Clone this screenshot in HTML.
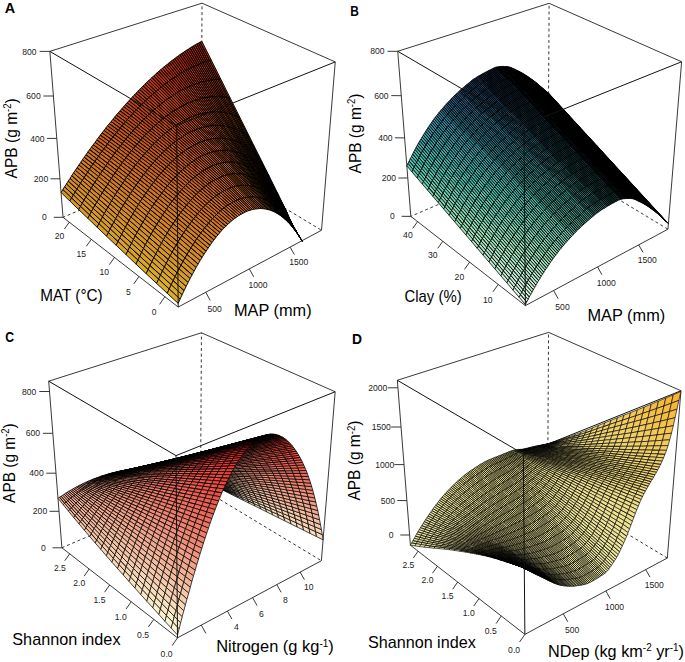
<!DOCTYPE html><html><head><meta charset="utf-8"><style>
html,body{margin:0;padding:0;background:#fff}
svg{display:block}
text{font-family:"Liberation Sans",sans-serif}
.sf{stroke:#000;stroke-width:10;stroke-linejoin:round}
.bx{stroke:#222;stroke-width:9;fill:none}
.fr{stroke:#111;stroke-width:10;fill:none}
.ds{stroke-dasharray:30 27}
.tk{stroke:#222;stroke-width:.9;fill:none}
.tl text{font-size:8.6px;fill:#222;text-anchor:middle}
.tt{font-size:16.4px;fill:#000}
.lt{font-size:15.5px;font-weight:bold;fill:#000}
.sp{font-size:10px}
.a47{fill:#dcb42c}.a48{fill:#000000}.a49{fill:#2c2409}.a53{fill:#dbb22c}.a54{fill:#000000}.a60{fill:#000000}.a65{fill:#daaf2b}.a66{fill:#000000}.a71{fill:#daad2a}.a72{fill:#000000}.a77{fill:#daaa2a}.a78{fill:#000000}.a83{fill:#d9a529}.a84{fill:#000000}.a85{fill:#2b2008}.a89{fill:#d8a028}.a90{fill:#000000}.a91{fill:#2b1f08}.a95{fill:#d79b27}.a96{fill:#000000}.a97{fill:#2b1e08}.a101{fill:#d69626}.a102{fill:#000000}.a103{fill:#2b1d08}.a107{fill:#d69226}.a109{fill:#2b1c07}.a110{fill:#55380f}.a113{fill:#d58d25}.a115{fill:#2a1b07}.a116{fill:#55360e}.a119{fill:#d48824}.a121{fill:#2a1a07}.a122{fill:#54340e}.a125{fill:#d38323}.a128{fill:#54330e}.a129{fill:#7e4c15}.a131{fill:#d27e22}.a134{fill:#54310d}.a135{fill:#7d4914}.a136{fill:#a7611b}.a137{fill:#d17921}.a141{fill:#7c4613}.a142{fill:#a65d1a}.a143{fill:#cf7420}.a147{fill:#7b4213}.a148{fill:#a45819}.a149{fill:#ce6e1f}.a153{fill:#7a3f12}.a154{fill:#a35418}.a155{fill:#cc691e}.a160{fill:#a25017}.a161{fill:#ca641d}.a166{fill:#a04b16}.a167{fill:#c85e1b}.a173{fill:#c6591a}.a179{fill:#c45419}.a185{fill:#c34e18}.a191{fill:#c14917}.a197{fill:#bf4416}.a203{fill:#bd3f15}.a209{fill:#bc3b14}.a215{fill:#ba3613}.a221{fill:#b83212}.a227{fill:#b62d10}.a233{fill:#b52910}.a239{fill:#b3240e}.b5{fill:#daf4e3}.b6{fill:#000000}.b11{fill:#d3f2de}.b12{fill:#000000}.b17{fill:#ccefd9}.b18{fill:#000000}.b23{fill:#c5edd4}.b24{fill:#000000}.b29{fill:#beebcf}.b30{fill:#000000}.b35{fill:#b6e8ca}.b36{fill:#000000}.b41{fill:#afe6c5}.b42{fill:#000000}.b47{fill:#a8e4c0}.b48{fill:#000000}.b53{fill:#a1e1bb}.b54{fill:#000000}.b59{fill:#9adfb6}.b60{fill:#000000}.b65{fill:#92dcb4}.b66{fill:#000000}.b71{fill:#8ad9b3}.b72{fill:#000000}.b77{fill:#82d6b2}.b78{fill:#000000}.b83{fill:#7ad2b1}.b84{fill:#000000}.b89{fill:#72cfb0}.b90{fill:#000000}.b94{fill:#55a38c}.b95{fill:#6acbb0}.b96{fill:#000000}.b100{fill:#4ea08c}.b101{fill:#62c8af}.b102{fill:#000000}.b106{fill:#489d8b}.b107{fill:#5ac4ae}.b108{fill:#000000}.b111{fill:#317468}.b112{fill:#429a8b}.b113{fill:#52c1ad}.b114{fill:#000000}.b115{fill:#0f2622}.b116{fill:#1e4c45}.b117{fill:#2c7267}.b118{fill:#3b988a}.b119{fill:#4abeac}.b120{fill:#000000}.b121{fill:#0e2522}.b122{fill:#1c4a45}.b123{fill:#296f67}.b124{fill:#379489}.b125{fill:#45baac}.b126{fill:#000000}.b127{fill:#0d2422}.b128{fill:#1b4844}.b129{fill:#286c67}.b130{fill:#369189}.b131{fill:#43b5ab}.b132{fill:#000000}.b133{fill:#0d2322}.b134{fill:#1a4644}.b135{fill:#276a66}.b136{fill:#348d88}.b137{fill:#41b0aa}.b138{fill:#000000}.b139{fill:#0d2222}.b140{fill:#194444}.b141{fill:#266766}.b142{fill:#328988}.b143{fill:#3fabaa}.b144{fill:#000000}.b145{fill:#0c2122}.b146{fill:#184344}.b147{fill:#256465}.b148{fill:#318587}.b149{fill:#3da6a9}.b150{fill:#000000}.b151{fill:#0c2022}.b152{fill:#184143}.b153{fill:#236165}.b154{fill:#2f8187}.b155{fill:#3ba2a8}.b156{fill:#000000}.b157{fill:#0b1f21}.b158{fill:#173f43}.b159{fill:#225e64}.b160{fill:#2e7d86}.b161{fill:#399da7}.b162{fill:#000000}.b163{fill:#0b1e21}.b164{fill:#163d43}.b165{fill:#215b64}.b166{fill:#2c7a85}.b167{fill:#3798a7}.b168{fill:#000000}.b169{fill:#0b1d21}.b170{fill:#153b42}.b171{fill:#205864}.b172{fill:#2a7685}.b173{fill:#3593a6}.b174{fill:#000000}.b175{fill:#0a1c21}.b176{fill:#143942}.b177{fill:#1f5563}.b178{fill:#297284}.b179{fill:#338ea5}.b180{fill:#000000}.b181{fill:#0a1b21}.b182{fill:#143742}.b183{fill:#1e5263}.b184{fill:#286e84}.b185{fill:#3289a4}.b186{fill:#000000}.b187{fill:#0a1a21}.b188{fill:#143541}.b189{fill:#1e4f62}.b190{fill:#286a83}.b191{fill:#3284a4}.b192{fill:#000000}.b193{fill:#0a1920}.b194{fill:#143341}.b195{fill:#1e4c62}.b196{fill:#286682}.b198{fill:#000000}.b199{fill:#0a1820}.b200{fill:#143141}.b201{fill:#1e4961}.b202{fill:#286181}.b204{fill:#000000}.b205{fill:#0a1720}.b206{fill:#142f40}.b207{fill:#1e4660}.b208{fill:#285d80}.b210{fill:#000000}.b211{fill:#0a1620}.b212{fill:#142d40}.b213{fill:#1e4360}.b214{fill:#285980}.b216{fill:#000000}.b217{fill:#0a1520}.b218{fill:#142a3f}.b219{fill:#1e405f}.b220{fill:#28557f}.b222{fill:#000000}.b223{fill:#0a1420}.b224{fill:#14283f}.b225{fill:#1e3d5e}.b228{fill:#000000}.b229{fill:#0a131f}.b230{fill:#14263f}.b231{fill:#1e395e}.b234{fill:#000000}.b235{fill:#0a121f}.b236{fill:#14243e}.c5{fill:#fcf5d2}.c6{fill:#000000}.c11{fill:#fbefcc}.c12{fill:#000000}.c13{fill:#322f28}.c14{fill:#645d50}.c15{fill:#968c78}.c16{fill:#c8bba0}.c17{fill:#fae9c7}.c18{fill:#000000}.c19{fill:#322e27}.c20{fill:#645b4e}.c21{fill:#958975}.c22{fill:#c7b69c}.c23{fill:#f9e4c2}.c24{fill:#000000}.c25{fill:#322c26}.c26{fill:#63594c}.c27{fill:#958572}.c28{fill:#c7b198}.c29{fill:#f8debe}.c30{fill:#000000}.c31{fill:#312b25}.c32{fill:#63564a}.c33{fill:#94826f}.c34{fill:#c6ad94}.c35{fill:#f7d8b8}.c36{fill:#000000}.c37{fill:#312a24}.c38{fill:#635448}.c39{fill:#947e6c}.c40{fill:#c5a890}.c41{fill:#f7d2b4}.c42{fill:#000000}.c43{fill:#312923}.c44{fill:#625246}.c45{fill:#937b69}.c46{fill:#c5a38c}.c47{fill:#f6ccae}.c48{fill:#000000}.c49{fill:#312822}.c50{fill:#624f44}.c51{fill:#937766}.c52{fill:#c49f88}.c53{fill:#f5c6aa}.c54{fill:#000000}.c55{fill:#312721}.c56{fill:#624d42}.c57{fill:#927463}.c58{fill:#c39a84}.c59{fill:#f4c1a4}.c60{fill:#000000}.c61{fill:#312520}.c62{fill:#614b40}.c63{fill:#927060}.c64{fill:#c39580}.c65{fill:#f3bba0}.c66{fill:#000000}.c67{fill:#30241f}.c68{fill:#61483e}.c69{fill:#916d5d}.c70{fill:#c2917c}.c71{fill:#f2b59a}.c72{fill:#000000}.c73{fill:#30231e}.c74{fill:#61463c}.c75{fill:#91695a}.c76{fill:#c18c78}.c77{fill:#f2af96}.c78{fill:#000000}.c79{fill:#30221d}.c80{fill:#60443a}.c81{fill:#916657}.c82{fill:#c18874}.c83{fill:#f1aa91}.c84{fill:#000000}.c85{fill:#30211c}.c86{fill:#604238}.c87{fill:#906354}.c88{fill:#c18370}.c89{fill:#f1a48c}.c90{fill:#000000}.c91{fill:#30201b}.c92{fill:#604036}.c93{fill:#905f51}.c94{fill:#c07f6d}.c95{fill:#f09f88}.c96{fill:#000000}.c97{fill:#301f1a}.c98{fill:#603d34}.c99{fill:#905c4f}.c100{fill:#c07b69}.c101{fill:#f09983}.c102{fill:#000000}.c103{fill:#301e19}.c104{fill:#603b33}.c105{fill:#90594c}.c106{fill:#bf7665}.c107{fill:#ef947e}.c108{fill:#000000}.c109{fill:#301c18}.c110{fill:#603931}.c111{fill:#8f5549}.c112{fill:#bf7261}.c113{fill:#ef8e7a}.c114{fill:#000000}.c115{fill:#301b17}.c116{fill:#5f372f}.c117{fill:#8f5246}.c118{fill:#bf6d5e}.c119{fill:#ee8975}.c120{fill:#000000}.c121{fill:#301a16}.c122{fill:#5f342d}.c123{fill:#8f4f43}.c124{fill:#be695a}.c125{fill:#ee8370}.c126{fill:#000000}.c127{fill:#2f1916}.c128{fill:#5f322b}.c129{fill:#8e4b41}.c130{fill:#be6556}.c131{fill:#ed7e6c}.c132{fill:#000000}.c133{fill:#2f1815}.c134{fill:#5f3029}.c135{fill:#8e483e}.c136{fill:#bd6052}.c137{fill:#ed7867}.c138{fill:#000000}.c139{fill:#2f1714}.c140{fill:#5e2e27}.c141{fill:#8e453b}.c142{fill:#bd5c4f}.c143{fill:#ec7362}.c144{fill:#000000}.c145{fill:#2f1613}.c146{fill:#5e2c26}.c147{fill:#8e4238}.c148{fill:#bd584b}.c149{fill:#ec6e5e}.c150{fill:#000000}.c151{fill:#2f1512}.c152{fill:#5e2a24}.c153{fill:#8e3f36}.c154{fill:#bd5448}.c155{fill:#ec695a}.c156{fill:#000000}.c157{fill:#2f1411}.c158{fill:#5e2822}.c159{fill:#8e3c34}.c160{fill:#bd5045}.c161{fill:#ec6456}.c162{fill:#000000}.c163{fill:#2f1310}.c164{fill:#5e2621}.c165{fill:#8e3931}.c166{fill:#bd4c42}.c167{fill:#ec5f52}.c168{fill:#000000}.c169{fill:#2f1210}.c170{fill:#5e241f}.c171{fill:#8e362f}.c172{fill:#bd483e}.c173{fill:#ec5b4e}.c174{fill:#000000}.c175{fill:#2f110f}.c176{fill:#5e221e}.c177{fill:#8e342c}.c178{fill:#bd453b}.c179{fill:#ec564a}.c180{fill:#000000}.c181{fill:#2f100e}.c182{fill:#5e201c}.c183{fill:#8e312a}.c184{fill:#bd4138}.c185{fill:#ec5146}.c186{fill:#000000}.c187{fill:#2f0f0d}.c188{fill:#5e1f1a}.c189{fill:#8e2e28}.c190{fill:#bd3d35}.c191{fill:#ec4c42}.c192{fill:#000000}.c193{fill:#2f0e0c}.c194{fill:#5e1d19}.c195{fill:#8e2b25}.c196{fill:#bd3932}.c197{fill:#ec483e}.c198{fill:#000000}.c199{fill:#2f0d0c}.c200{fill:#5e1b17}.c201{fill:#8e2823}.c202{fill:#bd352e}.c203{fill:#ec433a}.c204{fill:#000000}.c205{fill:#2f0c0b}.c206{fill:#5e1916}.c207{fill:#8e2520}.c208{fill:#bd322b}.c209{fill:#ec3e36}.c210{fill:#000000}.c211{fill:#2f0b0a}.c212{fill:#5e1714}.c213{fill:#8e221e}.c214{fill:#bd2e28}.c215{fill:#ec3932}.c216{fill:#000000}.c217{fill:#2f0b09}.c218{fill:#5e1512}.c219{fill:#8e201c}.c220{fill:#bd2a25}.c221{fill:#ec352e}.c222{fill:#000000}.c223{fill:#2f0a08}.c225{fill:#8e1d19}.c226{fill:#bd2622}.c227{fill:#ec302a}.c228{fill:#000000}.c229{fill:#2f0908}.c230{fill:#5e110f}.c232{fill:#bd221e}.c233{fill:#ec2b26}.c234{fill:#000000}.c235{fill:#2f0807}.c236{fill:#5e0f0e}.c237{fill:#8e1714}.d5{fill:#eaeaab}.d11{fill:#eae9a9}.d17{fill:#ebe8a7}.d23{fill:#ebe8a5}.d29{fill:#ebe7a4}.d34{fill:#bcb881}.d35{fill:#ebe7a2}.d39{fill:#8d8a60}.d40{fill:#bcb880}.d41{fill:#ece6a0}.d44{fill:#5e5c3f}.d45{fill:#8e8a5f}.d46{fill:#bdb77e}.d47{fill:#ece59e}.d49{fill:#2f2e1f}.d50{fill:#5e5b3e}.d51{fill:#8e895e}.d52{fill:#bdb77d}.d53{fill:#ece59c}.d54{fill:#000000}.d55{fill:#2f2e1f}.d56{fill:#5f5b3e}.d57{fill:#8e895d}.d58{fill:#bdb67b}.d59{fill:#ece49a}.d60{fill:#000000}.d61{fill:#2f2d1e}.d62{fill:#5f5b3d}.d63{fill:#8e885b}.d65{fill:#ede398}.d66{fill:#000000}.d67{fill:#2f2d1e}.d68{fill:#5f5b3c}.d71{fill:#ede396}.d72{fill:#000000}.d73{fill:#2f2d1e}.d74{fill:#5f5a3b}.d77{fill:#ede295}.d78{fill:#000000}.d79{fill:#2f2d1d}.d80{fill:#5f5a3b}.d81{fill:#8e8758}.d82{fill:#beb475}.d83{fill:#ede293}.d84{fill:#000000}.d87{fill:#8f8757}.d88{fill:#beb474}.d89{fill:#eee191}.d90{fill:#000000}.d93{fill:#8f8756}.d94{fill:#beb372}.d95{fill:#eee08f}.d101{fill:#eedf8c}.d107{fill:#eede89}.d113{fill:#efdc85}.d119{fill:#efdb82}.d125{fill:#f0d97e}.d131{fill:#f0d87b}.d137{fill:#f0d677}.d143{fill:#f0d574}.d149{fill:#f1d370}.d155{fill:#f1d26d}.d161{fill:#f2d069}.d167{fill:#f2cf66}.d173{fill:#f2cd62}.d179{fill:#f2cb5e}.d185{fill:#f3c95a}.d191{fill:#f3c655}.d197{fill:#f4c451}.d203{fill:#f4c24d}.d209{fill:#f4c049}.d215{fill:#f4be45}.d221{fill:#f5bc41}.d227{fill:#f5b93c}.d233{fill:#f6b738}.d239{fill:#f6b534}</style></head><body>
<svg width="685" height="662" viewBox="0 0 685 662" xmlns="http://www.w3.org/2000/svg">
<g transform="scale(.1)"><g class=bx><line x1="498.7" y1="513.9" x2="2020.4" y2="31.8"/><line x1="2020.4" y1="31.8" x2="3352.4" y2="619.2"/><line x1="3352.4" y1="619.2" x2="3215" y2="2302.5"/><line x1="3215" y1="2302.5" x2="1781.9" y2="3070.6"/><line x1="1781.9" y1="3070.6" x2="630.4" y2="2173.4"/><line x1="630.4" y1="2173.4" x2="498.7" y2="513.9"/><g class=ds><line x1="2011.1" y1="1575.9" x2="2020.4" y2="31.8"/><line x1="2011.1" y1="1575.9" x2="630.4" y2="2173.4"/><line x1="2011.1" y1="1575.9" x2="3215" y2="2302.5"/></g></g><g class=sf style="stroke-width:9"><path class=a239 d=M2096,605l-95-184,17-9,95,189zm-17,6l-94-181,16-9,95,184zm-16,5l-95-177,17-9,94,181zm-17,6l-95-173,17-10,95,177zm-17,6l-95-169,17-10,95,173zm-17,6l-95-165,17-10,95,169zm-17,7l-95-161,17-11,95,165zm-17,7l-95-157,17-11,95,161zm-17,7l-95-153,17-11,95,157zm-17,8l-95-150,17-11,95,153zm-17,8l-95-146,17-12,95,150zm-17,8l-95-143,17-11,95,146zm-17,9l-95-140,17-12,95,143zm-17,9l-96-136,18-13,95,140z /><path class=a233 d=M1859,706l-96-133,17-12,96,136zm-18,9l-95-129,17-13,96,133zm-17,10l-95-126,17-13,95,129zm-17,11l-96-124,18-13,95,126zm-18,10l-95-120,17-14,96,124zm-17,11l-95-117,17-14,95,120zm-18,11l-95-114,18-14,95,117z /><path class=a227 d=M1737,780l-95-112,17-14,95,114zm-18,12l-95-109,18-15,95,112zm-17,12l-95-107,17-14,95,109zm-18,13l-95-105,18-15,95,107zm-17,12l-95-101,17-16,95,105zm-18,14l-95-100,18-15,95,101z /><path class=a221 d=M1631,856l-94-97,17-16,95,100zm-17,14l-95-95,18-16,94,97zm-18,14l-94-92,17-17,95,95zm-18,15l-94-91,18-16,94,92z /><path class=a215 d=M1561,914l-95-89,18-17,94,91zm-18,15l-94-87,17-17,95,89zm-18,15l-94-84,18-18,94,87zm-18,16l-94-83,18-17,94,84z /><path class=a209 d=M1489,977l-93-82,17-18,94,83zm-18,16l-93-80,18-18,93,82zm-17,17l-94-78,18-19,93,80zm-18,17l-93-77,17-18,94,78z /><path class=a203 d=M1418,1045l-93-76,18-19,93,77zm-18,17l-93-74,18-19,93,76zm-18,19l-93-73,18-20,93,74z /><path class=a197 d=M1364,1099l-93-72,18-19,93,73zm-18,19l-92-71,17-20,93,72zm-18,19l-92-70,18-20,92,71z /><path class=a191 d=M1310,1157l-92-69,18-21,92,70zm-18,19l-92-68,18-20,92,69zm-18,21l-92-68,18-21,92,68z /><path class=a185 d=M1256,1217l-92-67,18-21,92,68zm-18,21l-92-66,18-22,92,67zm-18,21l-91-66,17-21,92,66z /><path class=a179 d=M1202,1280l-91-65,18-22,91,66zm-18,22l-91-65,18-22,91,65zm-18,22l-91-65,18-22,91,65z /><path class=a173 d=M1148,1347l-91-65,18-23,91,65zm-18,23l-91-65,18-23,91,65z /><path class=a167 d=M1112,1393l-91-65,18-23,91,65zm-19,23l-90-65,18-23,91,65zm-18,24l-90-65,18-24,90,65z /><path class=a161 d=M1057,1464l-89-65,17-24,90,65zm-18,24l-89-65,18-24,89,65z /><path class=a155 d=M1021,1513l-89-66,18-24,89,65zm-18,25l-89-66,18-25,89,66z /><path class=a149 d=M985,1563l-89-67,18-24,89,66zm-18,26l-89-68,18-25,89,67z /><path class=a143 d=M949,1615l-89-68,18-26,89,68zm-18,26l-89-69,18-25,89,68zm-18,26l-89-69,18-26,89,69z /><path class=a137 d=M895,1694l-88-70,17-26,89,69zm-18,27l-88-71,18-26,88,70z /><path class=a131 d=M859,1749l-88-73,18-26,88,71zm-18,28l-88-74,18-27,88,73z /><path class=a125 d=M823,1805l-88-75,18-27,88,74z /><path class=a119 d=M805,1833l-88-76,18-27,88,75zm-18,29l-87-77,17-28,88,76z /><path class=a113 d=M770,1891l-88-79,18-27,87,77zm-18,29l-88-80,18-28,88,79z /><path class=a107 d=M734,1950l-88-82,18-28,88,80zm-18,29l-88-83,18-28,88,82z /><path class=a101 d=M698,2010l-87-85,17-29,88,83z /><path class=a221 d=M2191,791l-95-186,17-4,95,190zm-16,2l-96-182,17-6,95,186zm-17,1l-95-178,16-5,96,182zm-16,2l-96-174,17-6,95,178zm-17,2l-96-170,17-6,96,174zm-17,3l-96-167,17-6,96,170zm-17,3l-96-163,17-7,96,167zm-16,3l-97-159,17-7,96,163zm-17,4l-97-156,17-7,97,159zm-17,4l-97-152,17-8,97,156zm-17,4l-97-148,17-8,97,152zm-17,5l-97-145,17-8,97,148zm-18,5l-96-141,17-9,97,145zm-17,6l-96-138,17-9,96,141zm-17,6l-96-135,17-9,96,138zm-17,7l-97-133,18-9,96,135zm-17,6l-97-129,17-10,97,133zm-18,8l-96-126,17-11,97,129zm-17,7l-97-123,18-10,96,126zm-18,8l-96-120,17-11,97,123zm-17,9l-97-118,18-11,96,120zm-18,9l-96-115,17-12,97,118zm-17,9l-97-112,18-12,96,115zm-18,10l-96-110,17-12,97,112zm-17,10l-97-107,18-13,96,110z /><path class=a215 d=M1763,934l-96-105,17-12,97,107zm-18,11l-96-102,18-14,96,105zm-17,11l-97-100,18-13,96,102zm-18,12l-96-98,17-14,97,100zm-18,12l-96-96,18-14,96,98zm-18,13l-96-94,18-15,96,96z /><path class=a209 d=M1656,1005l-95-91,17-15,96,94zm-18,14l-95-90,18-15,95,91zm-17,13l-96-88,18-15,95,90zm-18,15l-96-87,18-16,96,88zm-18,14l-96-84,18-17,96,87z /><path class=a203 d=M1567,1076l-96-83,18-16,96,84zm-18,15l-95-81,17-17,96,83zm-18,16l-95-80,18-17,95,81zm-18,16l-95-78,18-18,95,80z /><path class=a197 d=M1494,1140l-94-78,18-17,95,78zm-18,17l-94-76,18-19,94,78zm-18,17l-94-75,18-18,94,76zm-18,18l-94-74,18-19,94,75z /><path class=a191 d=M1422,1210l-94-73,18-19,94,74zm-18,19l-94-72,18-20,94,73zm-18,19l-94-72,18-19,94,72z /><path class=a185 d=M1368,1267l-94-70,18-21,94,72zm-19,20l-93-70,18-20,94,70zm-18,20l-93-69,18-21,93,70z /><path class=a179 d=M1313,1328l-93-69,18-21,93,69zm-18,21l-93-69,18-21,93,69zm-18,21l-93-68,18-22,93,69z /><path class=a173 d=M1258,1392l-92-68,18-22,93,68zm-18,22l-92-67,18-23,92,68zm-18,23l-92-67,18-23,92,67z /><path class=a167 d=M1204,1460l-92-67,18-23,92,67zm-19,23l-92-67,19-23,92,67z /><path class=a161 d=M1167,1507l-92-67,18-24,92,67zm-18,24l-92-67,18-24,92,67zm-18,25l-92-68,18-24,92,67z /><path class=a155 d=M1113,1581l-92-68,18-25,92,68zm-19,25l-91-68,18-25,92,68z /><path class=a149 d=M1076,1632l-91-69,18-25,91,68zm-18,26l-91-69,18-26,91,69z /><path class=a143 d=M1040,1685l-91-70,18-26,91,69zm-18,26l-91-70,18-26,91,70z /><path class=a137 d=M1004,1739l-91-72,18-26,91,70zm-19,27l-90-72,18-27,91,72z /><path class=a131 d=M967,1794l-90-73,18-27,90,72zm-18,29l-90-74,18-28,90,73z /><path class=a125 d=M931,1852l-90-75,18-28,90,74zm-18,29l-90-76,18-28,90,75z /><path class=a119 d=M895,1911l-90-78,18-28,90,76zm-18,29l-90-78,18-29,90,78z /><path class=a113 d=M859,1971l-89-80,17-29,90,78z /><path class=a107 d=M841,2001l-89-81,18-29,89,80zm-18,32l-89-83,18-30,89,81z /><path class=a101 d=M805,2064l-89-85,18-29,89,83zm-18,32l-89-86,18-31,89,85z /><path class=a197 d=M2287,979l-96-188,17,0,95,191zm-16-3l-96-183,16-2,96,188z /><path class=a203 d=M2254,973l-96-179,17-1,96,183zm-16-1l-96-176,16-2,96,179zm-17-2l-96-172,17-2,96,176zm-16-1l-97-168,17-3,96,172zm-17-1l-97-164,17-3,97,168zm-17,0l-96-161,16-3,97,164z /><path class=a209 d=M2155,968l-97-157,17-4,96,161zm-17,1l-97-154,17-4,97,157zm-17,1l-97-151,17-4,97,154zm-17,2l-97-148,17-5,97,151zm-17,2l-98-145,18-5,97,148zm-17,2l-98-141,17-6,98,145zm-17,3l-98-138,17-6,98,141zm-18,3l-97-134,17-7,98,138zm-17,4l-97-132,17-6,97,134zm-17,5l-98-129,18-8,97,132zm-18,4l-97-126,17-7,98,129zm-17,6l-98-124,18-8,97,126zm-17,5l-98-120,17-9,98,124zm-18,7l-98-118,18-9,98,120zm-17,6l-98-115,17-9,98,118zm-18,7l-98-112,18-10,98,115zm-18,8l-97-110,17-10,98,112zm-17,8l-98-108,18-10,97,110zm-18,8l-98-105,18-11,98,108zm-18,9l-97-103,17-11,98,105zm-18,10l-97-101,18-12,97,103zm-18,10l-97-99,18-12,97,101zm-17,10l-98-96,18-13,97,99z /><path class=a203 d=M1754,1100l-98-95,18-12,98,96zm-18,12l-98-93,18-14,98,95zm-18,12l-97-92,17-13,98,93zm-18,12l-97-89,18-15,97,92zm-18,13l-97-88,18-14,97,89zm-18,13l-97-86,18-15,97,88z /><path class=a197 d=M1645,1176l-96-85,18-15,97,86zm-18,14l-96-83,18-16,96,85zm-18,15l-96-82,18-16,96,83zm-18,15l-97-80,19-17,96,82zm-18,16l-97-79,18-17,97,80z /><path class=a191 d=M1554,1252l-96-78,18-17,97,79zm-18,17l-96-77,18-18,96,78zm-18,17l-96-76,18-18,96,77zm-18,18l-96-75,18-19,96,76z /><path class=a185 d=M1481,1322l-95-74,18-19,96,75zm-18,18l-95-73,18-19,95,74zm-18,19l-96-72,19-20,95,73z /><path class=a179 d=M1426,1379l-95-72,18-20,96,72zm-18,20l-95-71,18-21,95,72zm-18,21l-95-71,18-21,95,71z /><path class=a173 d=M1371,1441l-94-71,18-21,95,71zm-18,21l-95-70,19-22,94,71zm-18,22l-95-70,18-22,95,70z /><path class=a167 d=M1316,1506l-94-69,18-23,95,70zm-18,23l-94-69,18-23,94,69zm-19,24l-94-70,19-23,94,69z /><path class=a161 d=M1261,1577l-94-70,18-24,94,70zm-18,24l-94-70,18-24,94,70z /><path class=a155 d=M1224,1626l-93-70,18-25,94,70zm-18,25l-93-70,18-25,93,70z /><path class=a149 d=M1188,1677l-94-71,19-25,93,70zm-19,26l-93-71,18-26,94,71zm-18,26l-93-71,18-26,93,71z /><path class=a143 d=M1133,1757l-93-72,18-27,93,71zm-19,27l-92-73,18-26,93,72z /><path class=a137 d=M1096,1812l-92-73,18-28,92,73zm-18,29l-93-75,19-27,92,73z /><path class=a131 d=M1059,1870l-92-76,18-28,93,75z /><path class=a125 d=M1041,1899l-92-76,18-29,92,76zm-18,30l-92-77,18-29,92,76z /><path class=a119 d=M1005,1959l-92-78,18-29,92,77zm-18,31l-92-79,18-30,92,78z /><path class=a113 d=M969,2021l-92-81,18-29,92,79zm-19,31l-91-81,18-31,92,81z /><path class=a107 d=M932,2084l-91-83,18-30,91,81z /><path class=a101 d=M914,2117l-91-84,18-32,91,83zm-18,33l-91-86,18-31,91,84z /><path class=a95 d=M878,2183l-91-87,18-32,91,86z /><path class=a179 d=M2383,1167l-96-188,16,3,96,192zm-16-7l-96-184,16,3,96,188zm-16-6l-97-181,17,3,96,184z /><path class=a185 d=M2335,1149l-97-177,16,1,97,181zm-17-5l-97-174,17,2,97,177zm-16-5l-97-170,16,1,97,174zm-17-4l-97-167,17,1,97,170z /><path class=a191 d=M2269,1131l-98-163,17,0,97,167zm-17-3l-97-160,16,0,98,163zm-16-3l-98-156,17-1,97,160zm-17-2l-98-153,17-1,98,156zm-17-1l-98-150,17-2,98,153z /><path class=a197 d=M2185,1120l-98-146,17-2,98,150zm-17,0l-98-144,17-2,98,146zm-17,0l-98-141,17-3,98,144zm-17,0l-99-138,18-3,98,141zm-17,1l-99-135,17-4,99,138zm-17,1l-99-131,17-5,99,135zm-18,2l-99-129,18-4,99,131zm-17,3l-99-126,17-6,99,129zm-17,3l-99-124,17-5,99,126zm-18,3l-99-120,18-7,99,124z /><path class=a203 d=M2013,1137l-99-118,17-6,99,120zm-18,5l-99-116,18-7,99,118zm-18,5l-99-113,18-8,99,116zm-17,6l-99-111,17-8,99,113zm-18,6l-99-109,18-8,99,111zm-18,7l-99-107,18-9,99,109zm-18,7l-99-104,18-10,99,107zm-18,8l-99-102,18-10,99,104z /><path class=a197 d=M1871,1189l-99-100,17-10,99,102zm-18,9l-99-98,18-11,99,100zm-18,10l-99-96,18-12,99,98zm-18,10l-99-94,18-12,99,96zm-19,10l-98-92,18-12,99,94zm-18,12l-98-91,18-13,98,92zm-18,11l-98-89,18-13,98,91zm-18,12l-99-87,19-14,98,89zm-18,13l-99-86,18-14,99,87z /><path class=a191 d=M1707,1290l-98-85,18-15,99,86zm-18,14l-98-84,18-15,98,85zm-18,14l-98-82,18-16,98,84zm-18,15l-99-81,19-16,98,82zm-19,16l-98-80,18-17,99,81z /><path class=a185 d=M1616,1365l-98-79,18-17,98,80zm-19,16l-97-77,18-18,98,79zm-18,18l-98-77,19-18,97,77zm-19,18l-97-77,18-18,98,77z /><path class=a179 d=M1542,1435l-97-76,18-19,97,77zm-18,19l-98-75,19-20,97,76zm-19,19l-97-74,18-20,98,75z /><path class=a173 d=M1487,1493l-97-73,18-21,97,74zm-19,21l-97-73,19-21,97,73zm-19,21l-96-73,18-21,97,73z /><path class=a167 d=M1431,1557l-96-73,18-22,96,73zm-19,22l-96-73,19-22,96,73zm-18,23l-96-73,18-23,96,73z /><path class=a161 d=M1375,1625l-96-72,19-24,96,73zm-18,24l-96-72,18-24,96,72zm-19,24l-95-72,18-24,96,72z /><path class=a155 d=M1320,1698l-96-72,19-25,95,72zm-19,26l-95-73,18-25,96,72z /><path class=a149 d=M1283,1750l-95-73,18-26,95,73zm-19,26l-95-73,19-26,95,73z /><path class=a143 d=M1246,1803l-95-74,18-26,95,73zm-19,28l-94-74,18-28,95,74z /><path class=a137 d=M1209,1859l-95-75,19-27,94,74zm-19,29l-94-76,18-28,95,75z /><path class=a131 d=M1172,1917l-94-76,18-29,94,76zm-18,30l-95-77,19-29,94,76z /><path class=a125 d=M1135,1977l-94-78,18-29,95,77zm-18,31l-94-79,18-30,94,78z /><path class=a119 d=M1098,2039l-93-80,18-30,94,79z /><path class=a113 d=M1080,2071l-93-81,18-31,93,80zm-18,32l-93-82,18-31,93,81z /><path class=a107 d=M1044,2136l-94-84,19-31,93,82zm-19,33l-93-85,18-32,94,84z /><path class=a101 d=M1007,2203l-93-86,18-33,93,85z /><path class=a95 d=M989,2237l-93-87,18-33,93,86zm-18,35l-93-89,18-33,93,87z /><path class=a154 d=M2480,1356l-97-189,16,7,96,193zm-16-10l-97-186,16,7,97,189z /><path class=a160 d=M2448,1337l-97-183,16,6,97,186zm-16-9l-97-179,16,5,97,183z /><path class=a166 d=M2416,1319l-98-175,17,5,97,179zm-16-8l-98-172,16,5,98,175z /><path class=a167 d=M2383,1303l-98-168,17,4,98,172z /><path class=a173 d=M2367,1296l-98-165,16,4,98,168zm-16-6l-99-162,17,3,98,165zm-17-6l-98-159,16,3,99,162z /><path class=a179 d=M2318,1279l-99-156,17,2,98,159zm-17-5l-99-152,17,1,99,156zm-17-4l-99-150,17,2,99,152zm-16-4l-100-146,17,0,99,150z /><path class=a185 d=M2251,1263l-100-143,17,0,100,146zm-17-3l-100-140,17,0,100,143zm-17-2l-100-137,17-1,100,140zm-17-1l-100-135,17-1,100,137zm-18-1l-100-132,18-2,100,135zm-17,0l-100-129,17-3,100,132z /><path class=a191 d=M2148,1256l-100-126,17-3,100,129zm-18,1l-100-124,18-3,100,126zm-17,2l-100-122,17-4,100,124zm-18,2l-100-119,18-5,100,122zm-17,2l-101-116,18-5,100,119zm-18,4l-100-114,17-6,101,116zm-17,4l-101-112,18-6,100,114zm-18,4l-101-109,18-7,101,112zm-18,5l-101-107,18-7,101,109zm-18,6l-101-105,18-8,101,107zm-18,7l-100-104,17-8,101,105zm-18,7l-100-102,18-9,100,104zm-18,7l-100-99,18-10,100,102zm-18,8l-100-97,18-10,100,99zm-18,9l-101-96,19-10,100,97zm-18,10l-101-94,18-12,101,96zm-18,10l-101-93,18-11,101,94zm-19,10l-100-91,18-12,101,93zm-18,12l-100-90,18-13,100,91zm-18,12l-101-88,19-14,100,90zm-19,12l-100-86,18-14,101,88z /><path class=a185 d=M1771,1403l-100-85,18-14,100,86zm-19,14l-99-84,18-15,100,85zm-18,15l-100-83,19-16,99,84zm-19,15l-99-82,18-16,100,83zm-18,15l-100-81,19-16,99,82z /><path class=a179 d=M1678,1479l-99-80,18-18,100,81zm-18,17l-100-79,19-18,99,80zm-19,17l-99-78,18-18,100,79zm-18,19l-99-78,18-19,99,78z /><path class=a173 d=M1604,1550l-99-77,19-19,99,78zm-19,20l-98-77,18-20,99,77zm-18,20l-99-76,19-21,98,77zm-19,21l-99-76,19-21,99,76z /><path class=a167 d=M1529,1632l-98-75,18-22,99,76zm-18,22l-99-75,19-22,98,75z /><path class=a161 d=M1492,1677l-98-75,18-23,99,75zm-19,23l-98-75,19-23,98,75zm-18,24l-98-75,18-24,98,75z /><path class=a155 d=M1436,1748l-98-75,19-24,98,75zm-19,25l-97-75,18-25,98,75z /><path class=a149 d=M1399,1799l-98-75,19-26,97,75zm-19,26l-97-75,18-26,98,75zm-19,27l-97-76,19-26,97,75z /><path class=a143 d=M1343,1879l-97-76,18-27,97,76zm-19,28l-97-76,19-28,97,76z /><path class=a137 d=M1305,1936l-96-77,18-28,97,76zm-18,29l-97-77,19-29,96,77z /><path class=a131 d=M1268,1995l-96-78,18-29,97,77z /><path class=a125 d=M1249,2026l-95-79,18-30,96,78zm-18,31l-96-80,19-30,95,79z /><path class=a119 d=M1212,2088l-95-80,18-31,96,80zm-18,32l-96-81,19-31,95,80z /><path class=a113 d=M1175,2153l-95-82,18-32,96,81zm-18,34l-95-84,18-32,95,82z /><path class=a107 d=M1139,2221l-95-85,18-33,95,84z /><path class=a101 d=M1120,2255l-95-86,19-33,95,85zm-18,35l-95-87,18-34,95,86z /><path class=a95 d=M1084,2326l-95-89,18-34,95,87z /><path class=a89 d=M1065,2362l-94-90,18-35,95,89z /><path class=a129 d=M2576,1547l-96-191,15,11,97,194z /><path class=a135 d=M2561,1533l-97-187,16,10,96,191zm-16-13l-97-183,16,9,97,187z /><path class=a141 d=M2530,1508l-98-180,16,9,97,183zm-16-12l-98-177,16,9,98,180z /><path class=a147 d=M2498,1485l-98-174,16,8,98,177z /><path class=a148 d=M2482,1474l-99-171,17,8,98,174z /><path class=a154 d=M2466,1464l-99-168,16,7,99,171zm-16-10l-99-164,16,6,99,168z /><path class=a160 d=M2434,1445l-100-161,17,6,99,164zm-17-9l-99-157,16,5,100,161zm-16-7l-100-155,17,5,99,157z /><path class=a166 d=M2385,1421l-101-151,17,4,100,155zm-17-6l-100-149,16,4,101,151z /><path class=a167 d=M2351,1409l-100-146,17,3,100,149z /><path class=a173 d=M2334,1403l-100-143,17,3,100,146zm-16-5l-101-140,17,2,100,143zm-17-4l-101-137,17,1,101,140zm-17-3l-102-135,18,1,101,137z /><path class=a179 d=M2266,1388l-101-132,17,0,102,135zm-17-2l-101-130,17,0,101,132zm-17-2l-102-127,18-1,101,130zm-17-1l-102-124,17-2,102,127zm-18,0l-102-122,18-2,102,124z /><path class=a185 d=M2180,1383l-102-120,17-2,102,122zm-18,1l-102-117,18-4,102,120zm-17,2l-102-115,17-4,102,117zm-18,2l-102-113,18-4,102,115zm-18,3l-102-111,18-5,102,113zm-18,4l-102-109,18-6,102,111zm-18,4l-102-106,18-7,102,109zm-18,5l-102-104,18-7,102,106zm-18,6l-102-103,18-7,102,104zm-18,6l-102-101,18-8,102,103zm-18,7l-102-99,18-9,102,101zm-18,8l-102-97,18-10,102,99zm-18,8l-102-95,18-10,102,97zm-19,10l-102-95,19-10,102,95zm-18,9l-102-92,18-12,102,95zm-18,11l-102-91,18-12,102,92zm-19,11l-102-90,19-12,102,91zm-18,12l-102-89,18-13,102,90zm-19,13l-102-88,19-14,102,89z /><path class=a179 d=M1836,1518l-102-86,18-15,102,88zm-19,14l-102-85,19-15,102,86zm-18,15l-102-85,18-15,102,85zm-19,15l-102-83,19-17,102,85zm-19,16l-101-82,18-17,102,83zm-18,17l-102-82,19-17,101,82z /><path class=a173 d=M1724,1612l-101-80,18-19,102,82zm-19,19l-101-81,19-18,101,80zm-19,18l-101-79,19-20,101,81z /><path class=a167 d=M1667,1669l-100-79,18-20,101,79zm-18,20l-101-78,19-21,100,79zm-19,21l-101-78,19-21,101,78z /><path class=a161 d=M1611,1732l-100-78,18-22,101,78zm-19,22l-100-77,19-23,100,78zm-19,23l-100-77,19-23,100,77z /><path class=a155 d=M1554,1801l-99-77,18-24,100,77zm-18,24l-100-77,19-24,99,77zm-19,25l-100-77,19-25,100,77z /><path class=a149 d=M1498,1876l-99-77,18-26,100,77zm-19,27l-99-78,19-26,99,77z /><path class=a143 d=M1460,1930l-99-78,19-27,99,78zm-19,28l-98-79,18-27,99,78z /><path class=a137 d=M1423,1986l-99-79,19-28,98,79zm-19,29l-99-79,19-29,99,79z /><path class=a131 d=M1385,2045l-98-80,18-29,99,79zm-19,31l-98-81,19-30,98,80z /><path class=a125 d=M1347,2107l-98-81,19-31,98,81zm-18,31l-98-81,18-31,98,81z /><path class=a119 d=M1310,2171l-98-83,19-31,98,81z /><path class=a113 d=M1291,2204l-97-84,18-32,98,83zm-18,34l-98-85,19-33,97,84z /><path class=a107 d=M1254,2272l-97-85,18-34,98,85z /><path class=a101 d=M1236,2307l-97-86,18-34,97,85zm-19,36l-97-88,19-34,97,86z /><path class=a95 d=M1198,2379l-96-89,18-35,97,88z /><path class=a89 d=M1180,2416l-96-90,18-36,96,89zm-18,37l-97-91,19-36,96,90z /><path class=a110 d=M2674,1739l-98-192,16,14,97,195zm-15-17l-98-189,15,14,98,192z /><path class=a116 d=M2644,1706l-99-186,16,13,98,189z /><path class=a122 d=M2628,1690l-98-182,15,12,99,186zm-15-15l-99-179,16,12,98,182z /><path class=a128 d=M2597,1660l-99-175,16,11,99,179z /><path class=a129 d=M2582,1646l-100-172,16,11,99,175z /><path class=a135 d=M2566,1633l-100-169,16,10,100,172zm-16-13l-100-166,16,10,100,169z /><path class=a141 d=M2534,1608l-100-163,16,9,100,166zm-16-12l-101-160,17,9,100,163z /><path class=a147 d=M2502,1586l-101-157,16,7,101,160zm-16-11l-101-154,16,8,101,157z /><path class=a153 d=M2469,1566l-101-151,17,6,101,154z /><path class=a154 d=M2453,1557l-102-148,17,6,101,151zm-17-8l-102-146,17,6,102,148z /><path class=a160 d=M2420,1541l-102-143,16,5,102,146zm-17-7l-102-140,17,4,102,143zm-17-6l-102-137,17,3,102,140z /><path class=a167 d=M2369,1523l-103-135,18,3,102,137zm-17-5l-103-132,17,2,103,135zm-17-4l-103-130,17,2,103,132zm-17-4l-103-127,17,1,103,130z /><path class=a173 d=M2300,1508l-103-125,18,0,103,127zm-17-2l-103-123,17,0,103,125zm-17-2l-104-120,18-1,103,123zm-18,0l-103-118,17-2,104,120zm-18,0l-103-116,18-2,103,118z /><path class=a179 d=M2213,1505l-104-114,18-3,103,116zm-18,2l-104-112,18-4,104,114zm-18,2l-104-110,18-4,104,112zm-18,3l-104-108,18-5,104,110zm-18,4l-104-106,18-6,104,108zm-18,4l-104-104,18-6,104,106zm-18,6l-104-103,18-7,104,104zm-18,6l-104-101,18-8,104,103zm-18,7l-104-100,18-8,104,101zm-19,7l-104-97,19-10,104,100zm-18,8l-104-96,18-9,104,97zm-18,10l-104-95,18-11,104,96zm-19,9l-104-93,19-11,104,95zm-18,11l-104-92,18-12,104,93zm-19,11l-104-90,19-13,104,92zm-19,12l-103-89,18-13,104,90zm-18,13l-104-88,19-14,103,89zm-19,14l-103-87,18-15,104,88z /><path class=a173 d=M1883,1648l-103-86,19-15,103,87zm-18,16l-104-86,19-16,103,86zm-19,16l-103-85,18-17,104,86zm-19,16l-103-84,19-17,103,85zm-19,18l-103-83,19-19,103,84z /><path class=a167 d=M1789,1732l-103-83,19-18,103,83zm-19,19l-103-82,19-20,103,83zm-19,20l-102-82,18-20,103,82z /><path class=a161 d=M1732,1791l-102-81,19-21,102,82zm-19,22l-102-81,19-22,102,81zm-19,22l-102-81,19-22,102,81z /><path class=a155 d=M1675,1858l-102-81,19-23,102,81zm-19,23l-102-80,19-24,102,81zm-19,25l-101-81,18-24,102,80z /><path class=a149 d=M1618,1931l-101-81,19-25,101,81zm-19,25l-101-80,19-26,101,81z /><path class=a143 d=M1580,1983l-101-80,19-27,101,80zm-19,27l-101-80,19-27,101,80z /><path class=a137 d=M1542,2038l-101-80,19-28,101,80zm-19,29l-100-81,18-28,101,80z /><path class=a131 d=M1504,2097l-100-82,19-29,100,81zm-19,30l-100-82,19-30,100,82z /><path class=a125 d=M1466,2158l-100-82,19-31,100,82zm-18,32l-101-83,19-31,100,82z /><path class=a119 d=M1429,2222l-100-84,18-31,101,83zm-19,34l-100-85,19-33,100,84z /><path class=a113 d=M1391,2289l-100-85,19-33,100,85z /><path class=a107 d=M1372,2324l-99-86,18-34,100,85zm-19,35l-99-87,19-34,99,86z /><path class=a101 d=M1334,2395l-98-88,18-35,99,87z /><path class=a95 d=M1316,2432l-99-89,19-36,98,88zm-19,37l-99-90,19-36,99,89z /><path class=a89 d=M1278,2507l-98-91,18-37,99,90z /><path class=a83 d=M1260,2546l-98-93,18-37,98,91z /><path class=a85 d=M2771,1932l-97-193,15,17,97,196z /><path class=a91 d=M2757,1912l-98-190,15,17,97,193z /><path class=a97 d=M2742,1892l-98-186,15,16,98,190zm-15-19l-99-183,16,16,98,186z /><path class=a103 d=M2712,1855l-99-180,15,15,99,183z /><path class=a109 d=M2697,1837l-100-177,16,15,99,180z /><path class=a110 d=M2682,1820l-100-174,15,14,100,177z /><path class=a116 d=M2666,1804l-100-171,16,13,100,174zm-15-16l-101-168,16,13,100,171z /><path class=a122 d=M2635,1773l-101-165,16,12,101,168z /><path class=a128 d=M2620,1759l-102-163,16,12,101,165zm-16-14l-102-159,16,10,102,163z /><path class=a134 d=M2588,1732l-102-157,16,11,102,159z /><path class=a135 d=M2572,1720l-103-154,17,9,102,157z /><path class=a141 d=M2555,1708l-102-151,16,9,103,154zm-16-11l-103-148,17,8,102,151zm-16-10l-103-146,16,8,103,148z /><path class=a147 d=M2506,1678l-103-144,17,7,103,146zm-16-9l-104-141,17,6,103,144z /><path class=a154 d=M2473,1661l-104-138,17,5,104,141zm-17-8l-104-135,17,5,104,138zm-17-6l-104-133,17,4,104,135z /><path class=a160 d=M2422,1641l-104-131,17,4,104,133zm-17-5l-105-128,18,2,104,131z /><path class=a161 d=M2388,1632l-105-126,17,2,105,128z /><path class=a167 d=M2371,1628l-105-124,17,2,105,126zm-18-3l-105-121,18,0,105,124zm-17-2l-106-119,18,0,105,121zm-18-1l-105-117,17-1,106,119zm-18,0l-105-115,18-2,105,117z /><path class=a173 d=M2283,1622l-106-113,18-2,105,115zm-18,1l-106-111,18-3,106,113zm-18,2l-106-109,18-4,106,111zm-18,3l-106-108,18-4,106,109zm-18,4l-106-106,18-6,106,108zm-18,4l-106-104,18-6,106,106zm-19,5l-105-102,18-7,106,104zm-18,6l-106-101,19-7,105,102zm-18,7l-106-100,18-8,106,101zm-19,8l-105-98,18-10,106,100zm-18,8l-106-97,19-9,105,98zm-19,9l-105-95,18-11,106,97zm-18,10l-106-94,19-11,105,95zm-19,11l-106-93,19-12,106,94zm-19,12l-105-92,18-13,106,93zm-18,13l-106-91,19-14,105,92zm-19,13l-106-90,19-14,106,91zm-19,14l-105-88,18-16,106,90z /><path class=a167 d=M1951,1767l-105-87,19-16,105,88zm-19,16l-105-87,19-16,105,87zm-19,17l-105-86,19-18,105,87zm-19,18l-105-86,19-18,105,86zm-19,18l-105-85,19-19,105,86z /><path class=a161 d=M1856,1855l-105-84,19-20,105,85zm-19,20l-105-84,19-20,105,84zm-19,21l-105-83,19-22,105,84z /><path class=a155 d=M1799,1918l-105-83,19-22,105,83zm-19,23l-105-83,19-23,105,83zm-19,23l-105-83,19-23,105,83z /><path class=a149 d=M1741,1988l-104-82,19-25,105,83zm-19,25l-104-82,19-25,104,82zm-19,26l-104-83,19-25,104,82z /><path class=a143 d=M1684,2066l-104-83,19-27,104,83zm-19,27l-104-83,19-27,104,83z /><path class=a137 d=M1645,2122l-103-84,19-28,104,83zm-19,29l-103-84,19-29,103,84z /><path class=a131 d=M1607,2181l-103-84,19-30,103,84zm-19,31l-103-85,19-30,103,84z /><path class=a125 d=M1569,2243l-103-85,19-31,103,85zm-19,32l-102-85,18-32,103,85z /><path class=a119 d=M1531,2308l-102-86,19-32,102,85z /><path class=a113 d=M1512,2342l-102-86,19-34,102,86zm-20,35l-101-88,19-33,102,86z /><path class=a107 d=M1473,2412l-101-88,19-35,101,88z /><path class=a101 d=M1454,2448l-101-89,19-35,101,88zm-19,37l-101-90,19-36,101,89z /><path class=a95 d=M1416,2523l-100-91,18-37,101,90z /><path class=a89 d=M1398,2562l-101-93,19-37,100,91zm-19,39l-101-94,19-38,101,93z /><path class=a83 d=M1360,2641l-100-95,18-39,101,94z /><path class=a65 d=M2870,2126l-99-194,15,20,75,152,9,23z /><path class=a66 d=M2855,2103l-98-191,14,20,99,194z /><path class=a72 d=M2841,2080l-99-188,15,20,98,191z /><path class=a78 d=M2827,2058l-100-185,15,19,99,188z /><path class=a84 d=M2812,2037l-100-182,15,18,100,185zm-15-21l-100-179,15,18,100,182z /><path class=a91 d=M2783,1996l-101-176,15,17,100,179z /><path class=a97 d=M2768,1977l-102-173,16,16,101,176z /><path class=a103 d=M2752,1959l-101-171,15,16,102,173zm-15-18l-102-168,16,15,101,171z /><path class=a109 d=M2722,1924l-102-165,15,14,102,168zm-16-17l-102-162,16,14,102,165z /><path class=a115 d=M2691,1891l-103-159,16,13,102,162z /><path class=a122 d=M2675,1876l-103-156,16,12,103,159zm-16-14l-104-154,17,12,103,156z /><path class=a128 d=M2643,1849l-104-152,16,11,104,154zm-16-13l-104-149,16,10,104,152z /><path class=a134 d=M2611,1824l-105-146,17,9,104,149z /><path class=a135 d=M2594,1812l-104-143,16,9,105,146z /><path class=a141 d=M2578,1802l-105-141,17,8,104,143zm-17-10l-105-139,17,8,105,141zm-16-9l-106-136,17,6,105,139z /><path class=a147 d=M2528,1775l-106-134,17,6,106,136z /><path class=a148 d=M2511,1768l-106-132,17,5,106,134z /><path class=a154 d=M2494,1761l-106-129,17,4,106,132zm-17-6l-106-127,17,4,106,129zm-17-5l-107-125,18,3,106,127z /><path class=a161 d=M2442,1746l-106-123,17,2,107,125zm-17-3l-107-121,18,1,106,123zm-18-3l-107-118,18,0,107,121zm-17-1l-107-117,17,0,107,118zm-18-1l-107-115,18-1,107,117z /><path class=a167 d=M2354,1738l-107-113,18-2,107,115zm-18,1l-107-111,18-3,107,113zm-18,2l-107-109,18-4,107,111zm-18,3l-107-108,18-4,107,109zm-18,3l-108-106,19-5,107,108zm-18,4l-108-104,18-6,108,106zm-19,6l-107-103,18-7,108,104zm-18,6l-108-101,19-8,107,103zm-18,7l-108-100,18-8,108,101zm-19,8l-108-99,19-9,108,100zm-19,9l-107-98,18-10,108,99zm-18,9l-108-96,19-11,107,98zm-19,11l-108-95,19-12,108,96zm-19,12l-107-94,18-13,108,95zm-19,12l-107-93,19-13,107,94zm-18,13l-108-92,19-14,107,93zm-19,15l-108-92,19-15,108,92zm-19,15l-108-91,19-16,108,92zm-19,16l-108-90,19-17,108,91z /><path class=a161 d=M2001,1907l-107-89,19-18,108,90zm-19,17l-107-88,19-18,107,89zm-19,19l-107-88,19-19,107,88zm-19,20l-107-88,19-20,107,88z /><path class=a155 d=M1925,1983l-107-87,19-21,107,88zm-20,22l-106-87,19-22,107,87zm-19,22l-106-86,19-23,106,87z /><path class=a149 d=M1867,2050l-106-86,19-23,106,86zm-19,24l-107-86,20-24,106,86zm-20,25l-106-86,19-25,107,86z /><path class=a143 d=M1809,2125l-106-86,19-26,106,86zm-19,27l-106-86,19-27,106,86z /><path class=a137 d=M1770,2179l-105-86,19-27,106,86zm-19,29l-106-86,20-29,105,86z /><path class=a131 d=M1731,2237l-105-86,19-29,106,86zm-19,30l-105-86,19-30,105,86z /><path class=a125 d=M1693,2298l-105-86,19-31,105,86zm-20,32l-104-87,19-31,105,86z /><path class=a119 d=M1654,2363l-104-88,19-32,104,87zm-19,34l-104-89,19-33,104,88z /><path class=a113 d=M1615,2431l-103-89,19-34,104,89z /><path class=a107 d=M1596,2466l-104-89,20-35,103,89zm-19,37l-104-91,19-35,104,89z /><path class=a101 d=M1558,2540l-104-92,19-36,104,91z /><path class=a95 d=M1538,2577l-103-92,19-37,104,92zm-19,39l-103-93,19-38,103,92z /><path class=a89 d=M1500,2655l-102-93,18-39,103,93z /><path class=a83 d=M1481,2696l-102-95,19-39,102,93z /><path class=a77 d=M1462,2737l-102-96,19-40,102,95z /><path class=a47 d=M2870,2127l0-1,1,2z /><path class=a49 d=M2881,2152l-26-49,15,23,1,2z /><path class=a54 d=M2892,2177l-51-97,14,23,26,49z /><path class=a60 d=M2904,2202l-77-144,14,22,51,97z /><path class=a65 d=M2913,2221l-101-184,15,21,77,144,11,22z /><path class=a66 d=M2898,2197l-101-181,15,21,101,184z /><path class=a72 d=M2884,2175l-101-179,14,20,101,181z /><path class=a78 d=M2869,2153l-101-176,15,19,101,179z /><path class=a84 d=M2855,2131l-103-172,16,18,101,176zm-15-20l-103-170,15,18,103,172z /><path class=a90 d=M2825,2091l-103-167,15,17,103,170z /><path class=a96 d=M2810,2072l-104-165,16,17,103,167zm-15-19l-104-162,15,16,104,165z /><path class=a103 d=M2779,2036l-104-160,16,15,104,162z /><path class=a109 d=M2764,2019l-105-157,16,14,104,160zm-16-17l-105-153,16,13,105,157z /><path class=a115 d=M2732,1987l-105-151,16,13,105,153z /><path class=a121 d=M2717,1973l-106-149,16,12,105,151z /><path class=a122 d=M2700,1959l-106-147,17,12,106,149z /><path class=a128 d=M2684,1946l-106-144,16,10,106,147zm-16-12l-107-142,17,10,106,144z /><path class=a134 d=M2652,1922l-107-139,16,9,107,142z /><path class=a135 d=M2635,1912l-107-137,17,8,107,139zm-17-10l-107-134,17,7,107,137z /><path class=a141 d=M2602,1894l-108-133,17,7,107,134zm-17-8l-108-131,17,6,108,133z /><path class=a148 d=M2568,1878l-108-128,17,5,108,131zm-17-6l-109-126,18,4,108,128zm-18-5l-108-124,17,3,109,126z /><path class=a154 d=M2516,1862l-109-122,18,3,108,124z /><path class=a155 d=M2498,1859l-108-120,17,1,109,122zm-17-3l-109-118,18,1,108,120zm-18-1l-109-117,18,0,109,118z /><path class=a161 d=M2445,1854l-109-115,18-1,109,117zm-17,0l-110-113,18-2,109,115zm-18,1l-110-111,18-3,110,113zm-19,2l-109-110,18-3,110,111zm-18,2l-109-108,18-4,109,110zm-18,4l-110-106,19-6,109,108z /><path class=a167 d=M2337,1868l-110-105,18-6,110,106zm-19,6l-109-104,18-7,110,105zm-18,6l-110-102,19-8,109,104zm-19,8l-110-101,19-9,110,102zm-18,8l-110-100,18-9,110,101zm-19,10l-110-99,19-11,110,100zm-19,10l-110-97,19-12,110,99z /><path class=a161 d=M2206,1927l-110-96,19-12,110,97zm-19,13l-109-96,18-13,110,96zm-19,13l-109-94,19-15,109,96zm-19,14l-109-93,19-15,109,94zm-19,15l-109-92,19-16,109,93zm-19,17l-110-92,20-17,109,92zm-19,17l-110-92,19-17,110,92z /><path class=a155 d=M2072,2034l-109-91,19-19,110,92zm-19,19l-109-90,19-20,109,91zm-19,20l-109-90,19-20,109,90zm-20,21l-109-89,20-22,109,90z /><path class=a149 d=M1995,2116l-109-89,19-22,109,89zm-20,23l-108-89,19-23,109,89zm-19,24l-108-89,19-24,108,89z /><path class=a143 d=M1937,2187l-109-88,20-25,108,89zm-20,26l-108-88,19-26,109,88z /><path class=a137 d=M1898,2240l-108-88,19-27,108,88zm-20,28l-108-89,20-27,108,88zm-20,28l-107-88,19-29,108,89z /><path class=a131 d=M1839,2326l-108-89,20-29,107,88zm-20,30l-107-89,19-30,108,89z /><path class=a125 d=M1800,2387l-107-89,19-31,107,89z /><path class=a119 d=M1780,2420l-107-90,20-32,107,89zm-19,33l-107-90,19-33,107,90z /><path class=a113 d=M1741,2487l-106-90,19-34,107,90zm-19,35l-107-91,20-34,106,90z /><path class=a107 d=M1702,2558l-106-92,19-35,107,91z /><path class=a101 d=M1683,2595l-106-92,19-37,106,92zm-20,38l-105-93,19-37,106,92z /><path class=a95 d=M1644,2671l-106-94,20-37,105,93z /><path class=a89 d=M1624,2711l-105-95,19-39,106,94z /><path class=a83 d=M1605,2751l-105-96,19-39,105,95zm-19,41l-105-96,19-41,105,96z /><path class=a77 d=M1566,2834l-104-97,19-41,105,96z /><path class=a47 d=M2917,2228l-4-7,2,3z /><path class=a48 d=M2930,2255l-32-58,15,24,4,7z /><path class=a54 d=M2945,2282l-61-107,14,22,32,58z /><path class=a60 d=M2961,2311l-92-158,15,22,61,107z /><path class=a71 d=M2958,2306l-103-175,14,22,92,158,6,10z /><path class=a66 d=M2944,2283l-104-172,15,20,103,175z /><path class=a72 d=M2929,2260l-104-169,15,20,104,172z /><path class=a78 d=M2914,2238l-104-166,15,19,104,169z /><path class=a84 d=M2900,2217l-105-164,15,19,104,166z /><path class=a90 d=M2885,2197l-106-161,16,17,105,164zm-15-19l-106-159,15,17,106,161z /><path class=a96 d=M2854,2159l-106-157,16,17,106,159z /><path class=a102 d=M2839,2141l-107-154,16,15,106,157z /><path class=a103 d=M2823,2124l-106-151,15,14,107,154z /><path class=a109 d=M2808,2108l-108-149,17,14,106,151z /><path class=a115 d=M2792,2093l-108-147,16,13,108,149zm-16-14l-108-145,16,12,108,147z /><path class=a121 d=M2760,2065l-108-143,16,12,108,145z /><path class=a122 d=M2743,2052l-108-140,17,10,108,143z /><path class=a128 d=M2727,2040l-109-138,17,10,108,140zm-16-11l-109-135,16,8,109,138z /><path class=a134 d=M2694,2019l-109-133,17,8,109,135z /><path class=a135 d=M2677,2010l-109-132,17,8,109,133zm-17-8l-109-130,17,6,109,132z /><path class=a141 d=M2643,1994l-110-127,18,5,109,130z /><path class=a142 d=M2626,1988l-110-126,17,5,110,127z /><path class=a148 d=M2609,1983l-111-124,18,3,110,126zm-18-5l-110-122,17,3,111,124z /><path class=a149 d=M2574,1974l-111-119,18,1,110,122zm-18-2l-111-118,18,1,111,119z /><path class=a155 d=M2539,1970l-111-116,17,0,111,118zm-18-1l-111-114,18-1,111,116zm-18,1l-112-113,19-2,111,114zm-18,1l-112-112,18-2,112,113zm-18,2l-112-110,18-4,112,112z /><path class=a161 d=M2448,1976l-111-108,18-5,112,110zm-18,5l-112-107,19-6,111,108zm-19,5l-111-106,18-6,112,107zm-18,6l-112-104,19-8,111,106zm-19,7l-111-103,18-8,112,104zm-18,9l-112-102,19-10,111,103zm-19,9l-112-101,19-10,112,102zm-19,10l-112-100,19-11,112,101zm-19,12l-112-99,19-13,112,100zm-19,12l-112-98,19-13,112,99zm-19,13l-112-97,19-14,112,98z /><path class=a155 d=M2242,2079l-112-97,19-15,112,97zm-20,15l-111-95,19-17,112,97zm-19,16l-111-94,19-17,111,95zm-19,18l-112-94,20-18,111,94zm-20,18l-111-93,19-19,112,94z /><path class=a149 d=M2145,2166l-111-93,19-20,111,93zm-20,20l-111-92,20-21,111,93zm-19,22l-111-92,19-22,111,92zm-20,23l-111-92,20-23,111,92z /><path class=a143 d=M2067,2254l-111-91,19-24,111,92zm-20,25l-110-92,19-24,111,91z /><path class=a137 d=M2027,2304l-110-91,20-26,110,92zm-19,27l-110-91,19-27,110,91zm-20,28l-110-91,20-28,110,91z /><path class=a131 d=M1968,2387l-110-91,20-28,110,91zm-19,30l-110-91,19-30,110,91z /><path class=a125 d=M1929,2448l-110-92,20-30,110,91zm-20,31l-109-92,19-31,110,92z /><path class=a119 d=M1889,2512l-109-92,20-33,109,92z /><path class=a113 d=M1870,2545l-109-92,19-33,109,92zm-20,35l-109-93,20-34,109,92z /><path class=a107 d=M1830,2615l-108-93,19-35,109,93zm-20,37l-108-94,20-36,108,93z /><path class=a101 d=M1791,2689l-108-94,19-37,108,94z /><path class=a95 d=M1771,2728l-108-95,20-38,108,94zm-20,39l-107-96,19-38,108,95z /><path class=a89 d=M1732,2807l-108-96,20-40,107,96z /><path class=a83 d=M1712,2848l-107-97,19-40,108,96z /><path class=a77 d=M1692,2890l-106-98,19-41,107,97z /><path class=a71 d=M1673,2933l-107-99,20-42,106,98z /><path class=a53 d=M2978,2340l-20-34,9,15z /><path class=a54 d=M2996,2370l-52-87,14,23,20,34z /><path class=a60 d=M3015,2401l-86-141,15,23,52,87z /><path class=a65 d=M3020,2408l-106-170,15,22,86,141,11,18z /><path class=a66 d=M3005,2384l-105-167,14,21,106,170z /><path class=a72 d=M2991,2362l-106-165,15,20,105,167z /><path class=a78 d=M2976,2340l-106-162,15,19,106,165z /><path class=a84 d=M2961,2319l-107-160,16,19,106,162zm-15-20l-107-158,15,18,107,160z /><path class=a90 d=M2931,2279l-108-155,16,17,107,158z /><path class=a96 d=M2916,2261l-108-153,15,16,108,155zm-15-18l-109-150,16,15,108,153z /><path class=a102 d=M2885,2227l-109-148,16,14,109,150z /><path class=a109 d=M2869,2211l-109-146,16,14,109,148zm-16-15l-110-144,17,13,109,146z /><path class=a115 d=M2837,2182l-110-142,16,12,110,144zm-16-13l-110-140,16,11,110,142z /><path class=a122 d=M2805,2156l-111-137,17,10,110,140zm-17-11l-111-135,17,9,111,137z /><path class=a128 d=M2772,2135l-112-133,17,8,111,135z /><path class=a129 d=M2755,2126l-112-132,17,8,112,133z /><path class=a135 d=M2738,2117l-112-129,17,6,112,132zm-17-7l-112-127,17,5,112,129z /><path class=a136 d=M2704,2103l-113-125,18,5,112,127z /><path class=a142 d=M2686,2098l-112-124,17,4,113,125zm-17-4l-113-122,18,2,112,124z /><path class=a143 d=M2651,2090l-112-120,17,2,113,122z /><path class=a149 d=M2634,2088l-113-119,18,1,112,120zm-18-2l-113-116,18-1,113,119zm-18,0l-113-115,18-1,113,116zm-18,1l-113-114,18-2,113,115z /><path class=a155 d=M2562,2089l-114-113,19-3,113,114zm-18,2l-114-110,18-5,114,113zm-19,4l-114-109,19-5,114,110zm-18,5l-114-108,18-6,114,109zm-19,6l-114-107,19-7,114,108zm-19,7l-113-105,18-9,114,107zm-18,8l-114-104,19-9,113,105zm-19,10l-114-104,19-10,114,104zm-19,10l-114-102,19-12,114,104zm-19,11l-114-101,19-12,114,102zm-19,13l-114-101,19-13,114,101zm-19,13l-114-99,19-15,114,101zm-20,15l-114-99,20-15,114,99zm-19,15l-114-98,19-16,114,99z /><path class=a149 d=M2298,2225l-114-97,19-18,114,98zm-20,18l-114-97,20-18,114,97zm-19,19l-114-96,19-20,114,97zm-20,20l-114-96,20-20,114,96z /><path class=a143 d=M2219,2303l-113-95,19-22,114,96zm-19,22l-114-94,20-23,113,95zm-20,24l-113-95,19-23,114,94z /><path class=a137 d=M2160,2373l-113-94,20-25,113,95zm-20,26l-113-95,20-25,113,94zm-20,26l-112-94,19-27,113,95z /><path class=a131 d=M2101,2453l-113-94,20-28,112,94zm-20,28l-113-94,20-28,113,94z /><path class=a125 d=M2061,2511l-112-94,19-30,113,94zm-20,31l-112-94,20-31,112,94z /><path class=a119 d=M2021,2574l-112-95,20-31,112,94zm-20,32l-112-94,20-33,112,95z /><path class=a113 d=M1981,2640l-111-95,19-33,112,94zm-20,35l-111-95,20-35,111,95z /><path class=a107 d=M1941,2711l-111-96,20-35,111,95z /><path class=a101 d=M1921,2748l-111-96,20-37,111,96zm-20,38l-110-97,19-37,111,96z /><path class=a95 d=M1881,2825l-110-97,20-39,110,97z /><path class=a89 d=M1861,2865l-110-98,20-39,110,97z /><path class=a83 d=M1841,2906l-109-99,19-40,110,98zm-20,42l-109-100,20-41,109,99z /><path class=a77 d=M1801,2991l-109-101,20-42,109,100z /><path class=a71 d=M1782,3034l-109-101,19-43,109,101z /></g><g class=fr><line x1="1766.7" y1="1255.5" x2="498.7" y2="513.9"/><line x1="1766.7" y1="1255.5" x2="3352.4" y2="619.2"/><line x1="1766.7" y1="1255.5" x2="1781.9" y2="3070.6"/></g><g class=bx><line x1="3977.4" y1="512.8" x2="5491.2" y2="33.2"/><line x1="5491.2" y1="33.2" x2="6816.1" y2="617.6"/><line x1="6816.1" y1="617.6" x2="6679.5" y2="2292"/><line x1="6679.5" y1="2292" x2="5253.9" y2="3056.1"/><line x1="5253.9" y1="3056.1" x2="4108.4" y2="2163.6"/><line x1="4108.4" y1="2163.6" x2="3977.4" y2="512.8"/><g class=ds><line x1="5481.9" y1="1569.2" x2="5491.2" y2="33.2"/><line x1="5481.9" y1="1569.2" x2="4108.4" y2="2163.6"/><line x1="5481.9" y1="1569.2" x2="6679.5" y2="2292"/></g></g><g class=sf style="stroke-width:8"><path class=b138 d=M5528,980l-53-57,11,8,52,57z /><path class=b144 d=M5517,972l-53-57,11,8,53,57zm-11-9l-52-57,10,9,53,57z /><path class=b150 d=M5496,954l-53-58,11,10,52,57zm-11-10l-53-57,11,9,53,58z /><path class=b156 d=M5474,935l-53-58,11,10,53,57zm-11-10l-53-57,11,9,53,58z /><path class=b162 d=M5452,915l-53-57,11,10,53,57zm-11-9l-53-58,11,10,53,57z /><path class=b168 d=M5430,896l-53-57,11,9,53,58zm-11-9l-53-57,11,9,53,57z /><path class=b174 d=M5408,878l-53-57,11,9,53,57zm-11-8l-53-58,11,9,53,57z /><path class=b180 d=M5386,861l-53-57,11,8,53,58zm-11-8l-53-57,11,8,53,57z /><path class=b186 d=M5364,845l-54-57,12,8,53,57zm-12-8l-53-57,11,8,54,57zm-11-8l-53-57,11,8,53,57z /><path class=b192 d=M5330,822l-53-58,11,8,53,57zm-11-8l-54-57,12,7,53,58z /><path class=b198 d=M5307,807l-53-58,11,8,54,57zm-11-8l-54-57,12,7,53,58z /><path class=b204 d=M5284,793l-53-58,11,7,54,57zm-11-7l-54-58,12,7,53,58zm-11-7l-54-57,11,6,54,58z /><path class=b210 d=M5250,773l-54-57,12,6,54,57zm-12-5l-53-58,11,6,54,57zm-11-6l-54-57,12,5,53,58z /><path class=b216 d=M5215,756l-53-57,11,6,54,57zm-11-6l-54-57,12,6,53,57z /><path class=b222 d=M5192,745l-54-58,12,6,54,57zm-12-6l-54-57,12,5,54,58zm-11-5l-54-57,11,5,54,57z /><path class=b228 d=M5157,730l-54-57,12,4,54,57zm-12-3l-54-58,12,4,54,57zm-12-3l-54-57,12,2,54,58zm-12-1l-53-58,11,2,54,57zm-11-1l-54-57,12,0,53,58z /><path class=b234 d=M5098,722l-54-57,12,0,54,57zm-12,0l-54-58,12,1,54,57zm-12,0l-54-58,12,0,54,58zm-12,0l-54-57,12-1,54,58z /><path class=b235 d=M5050,723l-54-58,12,0,54,57zm-12,1l-54-57,12-2,54,58zm-12,3l-54-58,12-2,54,57zm-12,3l-54-58,12-3,54,58zm-12,4l-54-58,12-4,54,58z /><path class=b236 d=M4990,739l-54-58,12-5,54,58zm-12,6l-53-58,11-6,54,58zm-12,5l-53-57,12-6,53,58zm-12,6l-53-57,12-6,53,57zm-12,6l-53-57,12-6,53,57zm-12,7l-53-58,12-6,53,57zm-12,6l-53-58,12-6,53,58zm-12,6l-53-57,12-7,53,58zm-12,7l-54-58,13-6,53,57zm-12,7l-54-58,12-7,54,58zm-12,6l-54-58,12-6,54,58zm-12,7l-54-58,12-7,54,58zm-12,7l-54-58,12-7,54,58zm-12,7l-54-58,12-7,54,58z /><path class=b230 d=M4822,829l-54-58,12-7,54,58z /><path class=b231 d=M4809,837l-53-58,12-8,54,58zm-12,8l-53-58,12-8,53,58zm-12,9l-54-58,13-9,53,58zm-12,9l-54-58,12-9,54,58zm-12,9l-54-58,12-9,54,58zm-12,10l-54-58,12-10,54,58z /><path class=b225 d=M4736,892l-53-58,12-10,54,58zm-12,10l-53-58,12-10,53,58zm-12,10l-54-58,13-10,53,58zm-12,11l-54-58,12-11,54,58zm-12,10l-54-58,12-10,54,58z /><path class=b219 d=M4675,944l-53-58,12-11,54,58zm-12,11l-53-59,12-10,53,58zm-12,10l-54-58,13-11,53,59zm-12,11l-54-58,12-11,54,58z /><path class=b220 d=M4626,987l-53-58,12-11,54,58z /><path class=b214 d=M4614,999l-53-58,12-12,53,58zm-12,12l-53-59,12-11,53,58zm-12,12l-54-59,13-12,53,59zm-13,12l-53-59,12-12,54,59z /><path class=b208 d=M4565,1047l-53-58,12-13,53,59zm-12,13l-53-58,12-13,53,58zm-12,13l-54-58,13-13,53,58z /><path class=b202 d=M4528,1086l-53-58,12-13,54,58zm-12,14l-53-59,12-13,53,58zm-12,13l-53-58,12-14,53,59z /><path class=b196 d=M4492,1127l-53-58,12-14,53,58zm-13,14l-53-58,13-14,53,58zm-12,14l-53-58,12-14,53,58z /><path class=b190 d=M4455,1170l-53-59,12-14,53,58z /><path class=b191 d=M4443,1185l-53-59,12-15,53,59zm-13,15l-52-59,12-15,53,59z /><path class=b185 d=M4418,1215l-52-58,12-16,52,59zm-12,16l-53-59,13-15,52,58zm-12,17l-53-59,12-17,53,59z /><path class=b179 d=M4382,1265l-53-59,12-17,53,59zm-12,17l-53-59,12-17,53,59z /><path class=b173 d=M4357,1299l-52-59,12-17,53,59zm-12,18l-52-59,12-18,52,59z /><path class=b167 d=M4333,1335l-52-59,12-18,52,59zm-12,18l-52-59,12-18,52,59z /><path class=b161 d=M4309,1372l-52-59,12-19,52,59zm-12,19l-52-59,12-19,52,59z /><path class=b155 d=M4285,1410l-52-59,12-19,52,59zm-12,19l-52-59,12-19,52,59z /><path class=b149 d=M4261,1449l-52-59,12-20,52,59zm-12,20l-52-59,12-20,52,59z /><path class=b143 d=M4237,1490l-52-59,12-21,52,59zm-12,21l-52-59,12-21,52,59z /><path class=b137 d=M4213,1533l-51-59,11-22,52,59zm-11,22l-52-59,12-22,51,59z /><path class=b131 d=M4190,1578l-52-60,12-22,52,59z /><path class=b125 d=M4178,1600l-52-59,12-23,52,60zm-12,23l-51-59,11-23,52,59z /><path class=b119 d=M4155,1647l-52-60,12-23,51,59z /><path class=b113 d=M4143,1671l-52-60,12-24,52,60zm-12,24l-51-60,11-24,52,60z /><path class=b107 d=M4120,1719l-52-60,12-24,51,60z /><path class=b132 d=M5581,1038l-53-58,10,8,53,58z /><path class=b138 d=M5570,1030l-53-58,11,8,53,58zm-11-9l-53-58,11,9,53,58z /><path class=b144 d=M5549,1012l-53-58,10,9,53,58zm-11-10l-53-58,11,10,53,58z /><path class=b150 d=M5527,993l-53-58,11,9,53,58zm-11-10l-53-58,11,10,53,58z /><path class=b156 d=M5506,973l-54-58,11,10,53,58zm-11-9l-54-58,11,9,54,58z /><path class=b162 d=M5484,954l-54-58,11,10,54,58zm-11-9l-54-58,11,9,54,58z /><path class=b168 d=M5462,936l-54-58,11,9,54,58zm-11-8l-54-58,11,8,54,58z /><path class=b174 d=M5440,919l-54-58,11,9,54,58zm-11-8l-54-58,11,8,54,58z /><path class=b180 d=M5417,903l-53-58,11,8,54,58zm-11-8l-54-58,12,8,53,58zm-11-8l-54-58,11,8,54,58z /><path class=b186 d=M5384,879l-54-57,11,7,54,58zm-12-7l-53-58,11,8,54,57z /><path class=b192 d=M5361,865l-54-58,12,7,53,58zm-11-8l-54-58,11,8,54,58z /><path class=b198 d=M5338,850l-54-57,12,6,54,58zm-11-6l-54-58,11,7,54,57zm-11-7l-54-58,11,7,54,58z /><path class=b204 d=M5304,831l-54-58,12,6,54,58zm-11-5l-55-58,12,5,54,58zm-12-6l-54-58,11,6,55,58z /><path class=b210 d=M5269,814l-54-58,12,6,54,58zm-11-6l-54-58,11,6,54,58z /><path class=b216 d=M5246,803l-54-58,12,5,54,58zm-12-6l-54-58,12,6,54,58zm-11-5l-54-58,11,5,54,58z /><path class=b222 d=M5211,788l-54-58,12,4,54,58zm-12-3l-54-58,12,3,54,58zm-11-3l-55-58,12,3,54,58zm-12-1l-55-58,12,1,55,58zm-12-1l-54-58,11,1,55,58z /><path class=b228 d=M5152,780l-54-58,12,0,54,58zm-12,0l-54-58,12,0,54,58zm-12,0l-54-58,12,0,54,58zm-12,0l-54-58,12,0,54,58z /><path class=b229 d=M5105,781l-55-58,12-1,54,58zm-12,2l-55-59,12-1,55,58zm-12,2l-55-58,12-3,55,59zm-12,3l-55-58,12-3,55,58zm-12,4l-55-58,12-4,55,58z /><path class=b230 d=M5045,797l-55-58,12-5,55,58zm-12,6l-55-58,12-6,55,58zm-12,6l-55-59,12-5,55,58zm-12,6l-55-59,12-6,55,59zm-12,6l-55-59,12-6,55,59zm-12,6l-55-58,12-7,55,59zm-12,6l-55-58,12-6,55,58zm-12,7l-55-59,12-6,55,58zm-12,6l-55-58,12-7,55,59zm-13,7l-54-58,12-7,55,58zm-12,7l-54-59,12-6,54,58zm-12,7l-54-59,12-7,54,59zm-12,7l-54-59,12-7,54,59zm-12,7l-54-59,12-7,54,59z /><path class=b224 d=M4876,888l-54-59,12-7,54,59z /><path class=b225 d=M4864,896l-55-59,13-8,54,59zm-13,8l-54-59,12-8,55,59zm-12,8l-54-58,12-9,54,59zm-12,9l-54-58,12-9,54,58zm-12,10l-54-59,12-9,54,58zm-12,10l-54-59,12-10,54,59z /><path class=b219 d=M4790,950l-54-58,13-10,54,59zm-12,11l-54-59,12-10,54,58zm-12,10l-54-59,12-10,54,59zm-12,10l-54-58,12-11,54,59zm-13,11l-53-59,12-10,54,58z /><path class=b213 d=M4729,1003l-54-59,13-11,53,59zm-12,10l-54-58,12-11,54,59zm-12,11l-54-59,12-10,54,58z /><path class=b214 d=M4692,1035l-53-59,12-11,54,59zm-12,11l-54-59,13-11,53,59z /><path class=b208 d=M4668,1058l-54-59,12-12,54,59zm-12,12l-54-59,12-12,54,59zm-13,12l-53-59,12-12,54,59zm-12,12l-54-59,13-12,53,59z /><path class=b202 d=M4619,1106l-54-59,12-12,54,59zm-13,13l-53-59,12-13,54,59zm-12,13l-53-59,12-13,53,59z /><path class=b196 d=M4582,1145l-54-59,13-13,53,59zm-12,14l-54-59,12-14,54,59zm-13,14l-53-60,12-13,54,59zm-12,13l-53-59,12-14,53,60z /><path class=b190 d=M4533,1200l-54-59,13-14,53,59zm-13,15l-53-60,12-14,54,59z /><path class=b191 d=M4508,1229l-53-59,12-15,53,60z /><path class=b185 d=M4496,1244l-53-59,12-15,53,59zm-12,15l-54-59,13-15,53,59z /><path class=b179 d=M4471,1275l-53-60,12-15,54,59zm-12,16l-53-60,12-16,53,60zm-12,16l-53-59,12-17,53,60z /><path class=b173 d=M4435,1324l-53-59,12-17,53,59zm-12,17l-53-59,12-17,53,59z /><path class=b167 d=M4410,1359l-53-60,13-17,53,59zm-12,17l-53-59,12-18,53,60zm-12,19l-53-60,12-18,53,59z /><path class=b161 d=M4374,1413l-53-60,12-18,53,60zm-12,19l-53-60,12-19,53,60z /><path class=b155 d=M4350,1451l-53-60,12-19,53,60zm-12,19l-53-60,12-19,53,60z /><path class=b149 d=M4326,1489l-53-60,12-19,53,60zm-13,20l-52-60,12-20,53,60z /><path class=b143 d=M4301,1529l-52-60,12-20,52,60z /><path class=b137 d=M4289,1550l-52-60,12-21,52,60zm-11,22l-53-61,12-21,52,60z /><path class=b131 d=M4266,1593l-53-60,12-22,53,61zm-12,22l-52-60,11-22,53,60z /><path class=b125 d=M4242,1638l-52-60,12-23,52,60zm-12,23l-52-61,12-22,52,60z /><path class=b119 d=M4218,1684l-52-61,12-23,52,61z /><path class=b113 d=M4206,1707l-51-60,11-24,52,61zm-11,24l-52-60,12-24,51,60z /><path class=b107 d=M4183,1755l-52-60,12-24,52,60z /><path class=b101 d=M4171,1780l-51-61,11-24,52,60z /><path class=b126 d=M5634,1096l-53-58,10,8,54,58z /><path class=b132 d=M5624,1088l-54-58,11,8,53,58zm-11-9l-54-58,11,9,54,58zm-11-9l-53-58,10,9,54,58z /><path class=b138 d=M5592,1060l-54-58,11,10,53,58z /><path class=b144 d=M5581,1051l-54-58,11,9,54,58zm-11-10l-54-58,11,10,54,58z /><path class=b150 d=M5559,1031l-53-58,10,10,54,58zm-11-9l-53-58,11,9,53,58z /><path class=b156 d=M5538,1012l-54-58,11,10,53,58zm-11-9l-54-58,11,9,54,58z /><path class=b162 d=M5516,994l-54-58,11,9,54,58zm-11-8l-54-58,11,8,54,58z /><path class=b168 d=M5494,978l-54-59,11,9,54,58zm-11-9l-54-58,11,8,54,59zm-11-8l-55-58,12,8,54,58z /><path class=b174 d=M5460,953l-54-58,11,8,55,58zm-11-7l-54-59,11,8,54,58z /><path class=b180 d=M5438,938l-54-59,11,8,54,59zm-11-8l-55-58,12,7,54,59z /><path class=b186 d=M5415,923l-54-58,11,7,55,58zm-11-7l-54-59,11,8,54,58z /><path class=b192 d=M5393,909l-55-59,12,7,54,59zm-12-7l-54-58,11,6,55,59zm-11-6l-54-59,11,7,54,58z /><path class=b198 d=M5359,890l-55-59,12,6,54,59zm-12-6l-54-58,11,5,55,59zm-11-6l-55-58,12,6,54,58z /><path class=b204 d=M5324,873l-55-59,12,6,55,58zm-12-6l-54-59,11,6,55,59zm-11-6l-55-58,12,5,54,59z /><path class=b210 d=M5289,856l-55-59,12,6,55,58zm-12-5l-54-59,11,5,55,59zm-11-4l-55-59,12,4,54,59z /><path class=b216 d=M5254,843l-55-58,12,3,55,59zm-12-2l-54-59,11,3,55,58zm-11-2l-55-58,12,1,54,59zm-12,0l-55-59,12,1,55,58z /><path class=b222 d=M5207,839l-55-59,12,0,55,59zm-12-1l-55-58,12,0,55,59zm-12,1l-55-59,12,0,55,58zm-12,0l-55-59,12,0,55,59z /><path class=b223 d=M5159,840l-54-59,11-1,55,59zm-12,1l-54-58,12-2,54,59zm-11,2l-55-58,12-2,54,58zm-12,4l-55-59,12-3,55,58z /><path class=b224 d=M5112,851l-55-59,12-4,55,59zm-12,5l-55-59,12-5,55,59zm-12,6l-55-59,12-6,55,59zm-12,5l-55-58,12-6,55,59zm-12,6l-55-58,12-6,55,58zm-12,6l-55-58,12-6,55,58zm-12,7l-55-59,12-6,55,58zm-13,6l-54-59,12-6,55,59zm-12,6l-54-58,12-7,54,59zm-12,7l-54-59,12-6,54,58zm-12,7l-55-59,13-7,54,59zm-12,7l-55-59,12-7,55,59zm-12,7l-55-59,12-7,55,59zm-12,6l-55-58,12-7,55,59zm-12,7l-55-58,12-7,55,58zm-13,8l-54-59,12-7,55,58z /><path class=b219 d=M4918,955l-54-59,12-8,54,59zm-12,8l-55-59,13-8,54,59zm-12,9l-55-60,12-8,55,59zm-12,9l-55-60,12-9,55,60zm-13,9l-54-59,12-10,55,60zm-12,10l-54-59,12-10,54,59z /><path class=b213 d=M4845,1010l-55-60,13-9,54,59zm-12,10l-55-59,12-11,55,60zm-13,10l-54-59,12-10,55,59zm-12,11l-54-60,12-10,54,59zm-12,10l-55-59,13-11,54,60z /><path class=b207 d=M4784,1062l-55-59,12-11,55,59zm-13,11l-54-60,12-10,55,59zm-12,11l-54-60,12-11,54,60z /><path class=b208 d=M4747,1095l-55-60,13-11,54,60zm-13,11l-54-60,12-11,55,60z /><path class=b202 d=M4722,1117l-54-59,12-12,54,60zm-12,12l-54-59,12-12,54,59zm-13,12l-54-59,13-12,54,59zm-12,12l-54-59,12-12,54,59z /><path class=b196 d=M4673,1166l-54-60,12-12,54,59zm-12,13l-55-60,13-13,54,60zm-13,13l-54-60,12-13,55,60zm-12,13l-54-60,12-13,54,60z /><path class=b190 d=M4624,1219l-54-60,12-14,54,60zm-13,13l-54-59,13-14,54,60zm-12,14l-54-60,12-13,54,59z /><path class=b184 d=M4587,1260l-54-60,12-14,54,60zm-13,15l-54-60,13-15,54,60z /><path class=b185 d=M4562,1289l-54-60,12-14,54,60z /><path class=b179 d=M4550,1304l-54-60,12-15,54,60zm-13,15l-53-60,12-15,54,60zm-12,16l-54-60,13-16,53,60z /><path class=b173 d=M4513,1351l-54-60,12-16,54,60zm-13,16l-53-60,12-16,54,60z /><path class=b167 d=M4488,1384l-53-60,12-17,53,60zm-12,17l-53-60,12-17,53,60zm-12,18l-54-60,13-18,53,60z /><path class=b161 d=M4452,1437l-54-61,12-17,54,60zm-13,18l-53-60,12-19,54,61z /><path class=b155 d=M4427,1473l-53-60,12-18,53,60zm-12,19l-53-60,12-19,53,60z /><path class=b149 d=M4403,1511l-53-60,12-19,53,60zm-12,19l-53-60,12-19,53,60z /><path class=b143 d=M4379,1550l-53-61,12-19,53,60zm-13,20l-53-61,13-20,53,61z /><path class=b137 d=M4354,1590l-53-61,12-20,53,61zm-12,21l-53-61,12-21,53,61z /><path class=b131 d=M4330,1632l-52-60,11-22,53,61z /><path class=b125 d=M4318,1654l-52-61,12-21,52,60zm-12,22l-52-61,12-22,52,61z /><path class=b119 d=M4294,1698l-52-60,12-23,52,61zm-11,23l-53-60,12-23,52,60z /><path class=b113 d=M4271,1745l-53-61,12-23,53,60z /><path class=b107 d=M4259,1768l-53-61,12-23,53,61zm-12,24l-52-61,11-24,53,61z /><path class=b101 d=M4235,1816l-52-61,12-24,52,61z /><path class=b95 d=M4223,1841l-52-61,12-25,52,61z /><path class=b120 d=M5688,1155l-54-59,11,8,54,59zm-10-8l-54-59,10,8,54,59z /><path class=b126 d=M5667,1138l-54-59,11,9,54,59zm-11-10l-54-58,11,9,54,59z /><path class=b132 d=M5646,1119l-54-59,10,10,54,58zm-11-9l-54-59,11,9,54,59z /><path class=b138 d=M5624,1100l-54-59,11,10,54,59zm-10-10l-55-59,11,10,54,59z /><path class=b144 d=M5603,1081l-55-59,11,9,55,59z /><path class=b150 d=M5592,1071l-54-59,10,10,55,59zm-11-9l-54-59,11,9,54,59z /><path class=b156 d=M5570,1053l-54-59,11,9,54,59zm-11-8l-54-59,11,8,54,59zm-11-9l-54-58,11,8,54,59z /><path class=b162 d=M5537,1028l-54-59,11,9,54,58zm-11-8l-54-59,11,8,54,59z /><path class=b168 d=M5515,1012l-55-59,12,8,54,59zm-11-8l-55-58,11,7,55,59z /><path class=b174 d=M5493,997l-55-59,11,8,55,58zm-11-8l-55-59,11,8,55,59z /><path class=b180 d=M5470,982l-55-59,12,7,55,59zm-11-7l-55-59,11,7,55,59zm-11-7l-55-59,11,7,55,59z /><path class=b186 d=M5436,961l-55-59,12,7,55,59zm-11-6l-55-59,11,6,55,59z /><path class=b192 d=M5414,949l-55-59,11,6,55,59zm-12-6l-55-59,12,6,55,59zm-11-6l-55-59,11,6,55,59z /><path class=b198 d=M5379,931l-55-58,12,5,55,59zm-11-5l-56-59,12,6,55,58zm-12-6l-55-59,11,6,56,59z /><path class=b204 d=M5344,915l-55-59,12,5,55,59zm-11-5l-56-59,12,5,55,59zm-12-4l-55-59,11,4,56,59z /><path class=b210 d=M5309,902l-55-59,12,4,55,59zm-11-2l-56-59,12,2,55,59zm-12-2l-55-59,11,2,56,59zm-12,0l-55-59,12,0,55,59z /><path class=b216 d=M5262,898l-55-59,12,0,55,59zm-12,0l-55-60,12,1,55,59zm-12,0l-55-59,12-1,55,60zm-11,0l-56-59,12,0,55,59z /><path class=b217 d=M5215,899l-56-59,12-1,56,59zm-12,1l-56-59,12-1,56,59zm-12,3l-55-60,11-2,56,59zm-12,3l-55-59,12-4,55,60z /><path class=b218 d=M5167,910l-55-59,12-4,55,59zm-12,5l-55-59,12-5,55,59zm-12,6l-55-59,12-6,55,59zm-12,6l-55-60,12-5,55,59zm-12,6l-55-60,12-6,55,60zm-12,6l-55-60,12-6,55,60zm-12,6l-55-59,12-7,55,60zm-12,6l-56-59,13-6,55,59zm-12,7l-56-60,12-6,56,59zm-12,6l-56-59,12-7,56,60zm-13,7l-55-59,12-7,56,59zm-12,7l-55-59,12-7,55,59zm-12,7l-55-59,12-7,55,59zm-12,7l-55-60,12-6,55,59zm-12,7l-55-60,12-7,55,60zm-12,7l-56-59,13-8,55,60z /><path class=b213 d=M4973,1014l-55-59,12-8,56,59zm-12,8l-55-59,12-8,55,59zm-12,9l-55-59,12-9,55,59zm-12,9l-55-59,12-9,55,59zm-13,10l-55-60,13-9,55,59zm-12,9l-55-59,12-10,55,60zm-12,10l-55-59,12-10,55,59z /><path class=b207 d=M4888,1080l-55-60,12-10,55,59zm-13,10l-55-60,13-10,55,60zm-12,10l-55-59,12-11,55,60zm-12,11l-55-60,12-10,55,59zm-12,11l-55-60,12-11,55,60z /><path class=b201 d=M4826,1133l-55-60,13-11,55,60zm-12,10l-55-59,12-11,55,60z /><path class=b202 d=M4802,1154l-55-59,12-11,55,59zm-13,12l-55-60,13-11,55,59z /><path class=b196 d=M4777,1177l-55-60,12-11,55,60zm-12,12l-55-60,12-12,55,60zm-13,12l-55-60,13-12,55,60zm-12,12l-55-60,12-12,55,60z /><path class=b190 d=M4727,1226l-54-60,12-13,55,60zm-12,13l-54-60,12-13,54,60zm-12,13l-55-60,13-13,54,60zm-13,13l-54-60,12-13,55,60z /><path class=b184 d=M4678,1279l-54-60,12-14,54,60zm-12,13l-55-60,13-13,54,60zm-13,14l-54-60,12-14,55,60z /><path class=b178 d=M4641,1321l-54-61,12-14,54,60zm-12,14l-55-60,13-15,54,61z /><path class=b179 d=M4616,1349l-54-60,12-14,55,60z /><path class=b173 d=M4604,1364l-54-60,12-15,54,60zm-13,16l-54-61,13-15,54,60zm-12,15l-54-60,12-16,54,61z /><path class=b167 d=M4567,1411l-54-60,12-16,54,60zm-12,17l-55-61,13-16,54,60z /><path class=b161 d=M4542,1445l-54-61,12-17,55,61zm-12,17l-54-61,12-17,54,61zm-12,18l-54-61,12-18,54,61z /><path class=b155 d=M4505,1497l-53-60,12-18,54,61zm-12,19l-54-61,13-18,53,60z /><path class=b149 d=M4481,1534l-54-61,12-18,54,61zm-12,19l-54-61,12-19,54,61z /><path class=b143 d=M4456,1572l-53-61,12-19,54,61zm-12,19l-53-61,12-19,53,61z /><path class=b137 d=M4432,1611l-53-61,12-20,53,61zm-12,20l-54-61,13-20,53,61z /><path class=b131 d=M4408,1651l-54-61,12-20,54,61zm-12,21l-54-61,12-21,54,61z /><path class=b125 d=M4384,1693l-54-61,12-21,54,61zm-12,22l-54-61,12-22,54,61z /><path class=b119 d=M4360,1737l-54-61,12-22,54,61z /><path class=b113 d=M4348,1760l-54-62,12-22,54,61zm-12,23l-53-62,11-23,54,62z /><path class=b107 d=M4324,1806l-53-61,12-24,53,62z /><path class=b101 d=M4312,1830l-53-62,12-23,53,61zm-12,23l-53-61,12-24,53,62z /><path class=b95 d=M4288,1878l-53-62,12-24,53,61z /><path class=b89 d=M4276,1902l-53-61,12-25,53,62z /><path class=b114 d=M5743,1214l-55-59,11,8,54,59zm-11-8l-54-59,10,8,55,59z /><path class=b120 d=M5721,1197l-54-59,11,9,54,59zm-10-9l-55-60,11,10,54,59z /><path class=b126 d=M5700,1178l-54-59,10,9,55,60zm-10-9l-55-59,11,9,54,59z /><path class=b132 d=M5679,1159l-55-59,11,10,55,59zm-11-10l-54-59,10,10,55,59z /><path class=b138 d=M5657,1140l-54-59,11,9,54,59zm-10-10l-55-59,11,10,54,59z /><path class=b144 d=M5636,1121l-55-59,11,9,55,59zm-11-9l-55-59,11,9,55,59z /><path class=b150 d=M5614,1104l-55-59,11,8,55,59zm-11-8l-55-60,11,9,55,59z /><path class=b156 d=M5592,1088l-55-60,11,8,55,60zm-11-8l-55-60,11,8,55,60z /><path class=b162 d=M5570,1072l-55-60,11,8,55,60zm-11-8l-55-60,11,8,55,60z /><path class=b168 d=M5548,1056l-55-59,11,7,55,60zm-11-8l-55-59,11,8,55,59z /><path class=b174 d=M5526,1041l-56-59,12,7,55,59zm-12-7l-55-59,11,7,56,59zm-11-7l-55-59,11,7,55,59z /><path class=b180 d=M5492,1020l-56-59,12,7,55,59zm-12-6l-55-59,11,6,56,59z /><path class=b186 d=M5469,1008l-55-59,11,6,55,59zm-11-6l-56-59,12,6,55,59zm-12-5l-55-60,11,6,56,59z /><path class=b192 d=M5435,991l-56-60,12,6,55,60zm-12-6l-55-59,11,5,56,60zm-11-6l-56-59,12,6,55,59z /><path class=b198 d=M5400,974l-56-59,12,5,56,59zm-12-5l-55-59,11,5,56,59zm-11-4l-56-59,12,4,55,59z /><path class=b204 d=M5365,962l-56-60,12,4,56,59zm-12-3l-55-59,11,2,56,60zm-11-1l-56-60,12,2,55,59zm-12,0l-56-60,12,0,56,60z /><path class=b210 d=M5318,957l-56-59,12,0,56,60zm-12,0l-56-59,12,0,56,59zm-12,0l-56-59,12,0,56,59zm-12,1l-55-60,11,0,56,59z /><path class=b211 d=M5271,958l-56-59,12-1,55,60zm-12,2l-56-60,12-1,56,59zm-12,2l-56-59,12-3,56,60zm-12,3l-56-59,12-3,56,59z /><path class=b212 d=M5223,970l-56-60,12-4,56,59zm-12,5l-56-60,12-5,56,60zm-12,6l-56-60,12-6,56,60zm-12,5l-56-59,12-6,56,60zm-12,6l-56-59,12-6,56,59zm-12,6l-56-59,12-6,56,59zm-12,7l-56-60,12-6,56,59zm-12,6l-56-60,12-6,56,60zm-13,7l-55-60,12-7,56,60zm-12,6l-55-60,12-6,55,60zm-12,7l-56-60,13-7,55,60zm-12,7l-56-60,12-7,56,60zm-12,7l-56-60,12-7,56,60zm-12,7l-56-60,12-7,56,60zm-13,7l-55-60,12-7,56,60zm-12,7l-55-60,12-7,55,60z /><path class=b207 d=M5029,1074l-56-60,13-8,55,60zm-12,9l-56-61,12-8,56,60zm-12,8l-56-60,12-9,56,61zm-13,9l-55-60,12-9,56,60zm-12,10l-56-60,13-10,55,60zm-12,10l-56-61,12-9,56,60zm-13,10l-55-61,12-10,56,61z /><path class=b201 d=M4943,1140l-55-60,12-11,55,61zm-12,10l-56-60,13-10,55,60zm-12,11l-56-61,12-10,56,60zm-13,10l-55-60,12-11,56,61zm-12,11l-55-60,12-11,55,60z /><path class=b196 d=M4882,1193l-56-60,13-11,55,60zm-13,11l-55-61,12-10,56,60zm-12,11l-55-61,12-11,55,61zm-13,11l-55-60,13-12,55,61z /><path class=b190 d=M4832,1238l-55-61,12-11,55,60zm-12,12l-55-61,12-12,55,61zm-13,12l-55-61,13-12,55,61zm-12,12l-55-61,12-12,55,61z /><path class=b184 d=M4783,1287l-56-61,13-13,55,61zm-13,13l-55-61,12-13,56,61zm-12,13l-55-61,12-13,55,61zm-13,13l-55-61,13-13,55,61z /><path class=b178 d=M4733,1340l-55-61,12-14,55,61zm-12,13l-55-61,12-13,55,61zm-13,14l-55-61,13-14,55,61z /><path class=b172 d=M4696,1381l-55-60,12-15,55,61z /><path class=b173 d=M4683,1396l-54-61,12-14,55,60zm-12,14l-55-61,13-14,54,61z /><path class=b167 d=M4659,1425l-55-61,12-15,55,61zm-13,16l-55-61,13-16,55,61zm-12,15l-55-61,12-15,55,61z /><path class=b161 d=M4621,1472l-54-61,12-16,55,61zm-12,17l-54-61,12-17,54,61zm-12,17l-55-61,13-17,54,61z /><path class=b155 d=M4584,1523l-54-61,12-17,55,61zm-12,18l-54-61,12-18,54,61z /><path class=b149 d=M4560,1559l-55-62,13-17,54,61zm-13,18l-54-61,12-19,55,62z /><path class=b143 d=M4535,1595l-54-61,12-18,54,61zm-12,19l-54-61,12-19,54,61z /><path class=b137 d=M4511,1633l-55-61,13-19,54,61zm-13,20l-54-62,12-19,55,61z /><path class=b131 d=M4486,1672l-54-61,12-20,54,62zm-12,20l-54-61,12-20,54,61z /><path class=b125 d=M4462,1713l-54-62,12-20,54,61zm-12,21l-54-62,12-21,54,62z /><path class=b119 d=M4437,1755l-53-62,12-21,54,62zm-12,22l-53-62,12-22,53,62z /><path class=b113 d=M4413,1799l-53-62,12-22,53,62z /><path class=b107 d=M4401,1822l-53-62,12-23,53,62zm-12,23l-53-62,12-23,53,62z /><path class=b101 d=M4377,1868l-53-62,12-23,53,62zm-12,24l-53-62,12-24,53,62z /><path class=b95 d=M4353,1915l-53-62,12-23,53,62z /><path class=b89 d=M4341,1940l-53-62,12-25,53,62zm-12,24l-53-62,12-24,53,62z /><path class=b108 d=M5797,1274l-54-60,10,8,55,60zm-10-9l-55-59,11,8,54,60z /><path class=b114 d=M5776,1256l-55-59,11,9,55,59zm-10-9l-55-59,10,9,55,59z /><path class=b120 d=M5755,1238l-55-60,11,10,55,59zm-10-10l-55-59,10,9,55,60z /><path class=b126 d=M5734,1219l-55-60,11,10,55,59zm-11-10l-55-60,11,10,55,60z /><path class=b132 d=M5713,1200l-56-60,11,9,55,60zm-11-10l-55-60,10,10,56,60z /><path class=b138 d=M5691,1181l-55-60,11,9,55,60zm-11-9l-55-60,11,9,55,60z /><path class=b144 d=M5669,1164l-55-60,11,8,55,60zm-10-9l-56-59,11,8,55,60z /><path class=b150 d=M5648,1147l-56-59,11,8,56,59zm-11-8l-56-59,11,8,56,59z /><path class=b156 d=M5626,1131l-56-59,11,8,56,59zm-11-8l-56-59,11,8,56,59z /><path class=b162 d=M5603,1116l-55-60,11,8,56,59zm-11-8l-55-60,11,8,55,60zm-11-7l-55-60,11,7,55,60z /><path class=b168 d=M5570,1094l-56-60,12,7,55,60zm-11-7l-56-60,11,7,56,60z /><path class=b174 d=M5547,1080l-55-60,11,7,56,60zm-11-6l-56-60,12,6,55,60z /><path class=b180 d=M5525,1068l-56-60,11,6,56,60zm-12-6l-55-60,11,6,56,60zm-11-5l-56-60,12,5,55,60z /><path class=b186 d=M5491,1051l-56-60,11,6,56,60zm-12-6l-56-60,12,6,56,60zm-11-6l-56-60,11,6,56,60z /><path class=b192 d=M5456,1034l-56-60,12,5,56,60zm-12-5l-56-60,12,5,56,60zm-11-4l-56-60,11,4,56,60z /><path class=b198 d=M5421,1022l-56-60,12,3,56,60zm-12-3l-56-60,12,3,56,60zm-11-1l-56-60,11,1,56,60zm-12,0l-56-60,12,0,56,60z /><path class=b204 d=M5374,1017l-56-60,12,1,56,60zm-12,0l-56-60,12,0,56,60zm-11,0l-57-60,12,0,56,60zm-12,1l-57-60,12-1,57,60z /><path class=b205 d=M5327,1019l-56-61,11,0,57,60zm-12,1l-56-60,12-2,56,61zm-12,2l-56-60,12-2,56,60zm-12,4l-56-61,12-3,56,60z /><path class=b206 d=M5279,1030l-56-60,12-5,56,61zm-12,5l-56-60,12-5,56,60zm-12,6l-56-60,12-6,56,60zm-12,6l-56-61,12-5,56,60zm-12,6l-56-61,12-6,56,61zm-12,6l-56-61,12-6,56,61zm-12,6l-56-60,12-7,56,61zm-12,7l-56-61,12-6,56,60zm-12,6l-57-60,13-7,56,61zm-12,7l-57-61,12-6,57,60zm-13,7l-56-61,12-7,57,61zm-12,6l-56-60,12-7,56,61zm-12,7l-56-60,12-7,56,60zm-12,7l-56-60,12-7,56,60zm-12,8l-57-61,13-7,56,60zm-13,7l-56-61,12-7,57,61z /><path class=b201 d=M5085,1135l-56-61,12-8,56,61zm-12,8l-56-60,12-9,56,61zm-12,9l-56-61,12-8,56,60zm-13,9l-56-61,13-9,56,61zm-12,9l-56-60,12-10,56,61zm-12,10l-56-60,12-10,56,60zm-13,10l-56-60,13-10,56,60z /><path class=b195 d=M4999,1201l-56-61,12-10,56,60zm-12,10l-56-61,12-10,56,61zm-12,11l-56-61,12-11,56,61zm-13,10l-56-61,13-10,56,61z /><path class=b196 d=M4950,1243l-56-61,12-11,56,61z /><path class=b190 d=M4937,1254l-55-61,12-11,56,61zm-12,11l-56-61,13-11,55,61zm-12,11l-56-61,12-11,56,61zm-13,11l-56-61,13-11,56,61zm-12,12l-56-61,12-12,56,61z /><path class=b184 d=M4875,1311l-55-61,12-12,56,61zm-12,12l-56-61,13-12,55,61zm-12,12l-56-61,12-12,56,61zm-13,13l-55-61,12-13,56,61z /><path class=b178 d=M4826,1361l-56-61,13-13,55,61zm-13,13l-55-61,12-13,56,61zm-12,13l-56-61,13-13,55,61z /><path class=b172 d=M4788,1401l-55-61,12-14,56,61zm-12,14l-55-62,12-13,55,61zm-12,14l-56-62,13-14,55,62z /><path class=b166 d=M4751,1443l-55-62,12-14,56,62z /><path class=b167 d=M4739,1457l-56-61,13-15,55,62zm-13,15l-55-62,12-14,56,61z /><path class=b161 d=M4714,1487l-55-62,12-15,55,62zm-13,15l-55-61,13-16,55,62zm-12,16l-55-62,12-15,55,61z /><path class=b155 d=M4677,1534l-56-62,13-16,55,62zm-13,17l-55-62,12-17,56,62zm-12,17l-55-62,12-17,55,62z /><path class=b149 d=M4639,1585l-55-62,13-17,55,62zm-12,18l-55-62,12-18,55,62z /><path class=b143 d=M4615,1621l-55-62,12-18,55,62zm-13,18l-55-62,13-18,55,62z /><path class=b137 d=M4590,1657l-55-62,12-18,55,62zm-12,19l-55-62,12-19,55,62z /><path class=b131 d=M4565,1695l-54-62,12-19,55,62zm-12,20l-55-62,13-20,54,62z /><path class=b125 d=M4541,1734l-55-62,12-19,55,62zm-13,20l-54-62,12-20,55,62z /><path class=b119 d=M4516,1775l-54-62,12-21,54,62zm-12,21l-54-62,12-21,54,62z /><path class=b113 d=M4492,1817l-55-62,13-21,54,62zm-12,22l-55-62,12-22,55,62z /><path class=b107 d=M4467,1861l-54-62,12-22,55,62zm-12,23l-54-62,12-23,54,62z /><path class=b101 d=M4443,1907l-54-62,12-23,54,62z /><path class=b95 d=M4431,1930l-54-62,12-23,54,62zm-12,24l-54-62,12-24,54,62z /><path class=b89 d=M4407,1978l-54-63,12-23,54,62z /><path class=b83 d=M4395,2002l-54-62,12-25,54,63zm-12,25l-54-63,12-24,54,62z /><path class=b102 d=M5853,1334l-56-60,11,8,55,60zm-11-9l-55-60,10,9,56,60z /><path class=b108 d=M5832,1317l-56-61,11,9,55,60zm-11-10l-55-60,10,9,56,61z /><path class=b114 d=M5811,1298l-56-60,11,9,55,60zm-11-10l-55-60,10,10,56,60z /><path class=b120 d=M5790,1279l-56-60,11,9,55,60zm-11-10l-56-60,11,10,56,60z /><path class=b126 d=M5768,1260l-55-60,10,9,56,60zm-10-10l-56-60,11,10,55,60z /><path class=b132 d=M5747,1241l-56-60,11,9,56,60zm-11-9l-56-60,11,9,56,60z /><path class=b138 d=M5725,1224l-56-60,11,8,56,60zm-11-8l-55-61,10,9,56,60z /><path class=b144 d=M5704,1208l-56-61,11,8,55,61zm-11-8l-56-61,11,8,56,61z /><path class=b150 d=M5682,1192l-56-61,11,8,56,61zm-11-8l-56-61,11,8,56,61z /><path class=b156 d=M5660,1176l-57-60,12,7,56,61zm-12-7l-56-61,11,8,57,60zm-11-8l-56-60,11,7,56,61z /><path class=b162 d=M5626,1154l-56-60,11,7,56,60zm-11-7l-56-60,11,7,56,60z /><path class=b168 d=M5604,1141l-57-61,12,7,56,60zm-11-7l-57-60,11,6,57,61zm-12-6l-56-60,11,6,57,60z /><path class=b174 d=M5570,1123l-57-61,12,6,56,60zm-12-6l-56-60,11,5,57,61z /><path class=b180 d=M5547,1111l-56-60,11,6,56,60zm-11-5l-57-61,12,6,56,60zm-12-6l-56-61,11,6,57,61z /><path class=b186 d=M5513,1095l-57-61,12,5,56,61zm-12-5l-57-61,12,5,57,61zm-12-4l-56-61,11,4,57,61z /><path class=b192 d=M5478,1082l-57-60,12,3,56,61zm-12-2l-57-61,12,3,57,60zm-12-2l-56-60,11,1,57,61zm-11,0l-57-60,12,0,56,60zm-12,0l-57-61,12,1,57,60z /><path class=b198 d=M5419,1078l-57-61,12,0,57,61zm-12,0l-56-61,11,0,57,61zm-12,0l-56-60,12-1,56,61z /><path class=b199 d=M5384,1079l-57-60,12-1,56,60zm-12,2l-57-61,12-1,57,60zm-12,2l-57-61,12-2,57,61zm-12,3l-57-60,12-4,57,61z /><path class=b200 d=M5336,1091l-57-61,12-4,57,60zm-12,5l-57-61,12-5,57,61zm-12,6l-57-61,12-6,57,61zm-12,5l-57-60,12-6,57,61zm-12,6l-57-60,12-6,57,60zm-12,7l-57-61,12-6,57,60zm-12,6l-57-61,12-6,57,61zm-12,6l-57-60,12-7,57,61zm-13,7l-56-61,12-6,57,60zm-12,7l-56-61,12-7,56,61zm-12,7l-57-61,13-7,56,61zm-12,6l-57-61,12-6,57,61zm-12,7l-57-61,12-7,57,61zm-12,8l-57-62,12-7,57,61zm-13,7l-56-61,12-8,57,62z /><path class=b201 d=M5154,1188l-57-61,13-7,56,61z /><path class=b195 d=M5142,1196l-57-61,12-8,57,61zm-12,8l-57-61,12-8,57,61zm-13,9l-56-61,12-9,57,61zm-12,9l-57-61,13-9,56,61zm-12,10l-57-62,12-9,57,61zm-13,10l-56-62,12-10,57,62zm-12,10l-57-62,13-10,56,62z /><path class=b189 d=M5056,1262l-57-61,12-11,57,62zm-13,10l-56-61,12-10,57,61zm-12,11l-56-61,12-11,56,61zm-12,11l-57-62,13-10,56,61z /><path class=b190 d=M5006,1305l-56-62,12-11,57,62z /><path class=b184 d=M4994,1316l-57-62,13-11,56,62zm-13,10l-56-61,12-11,57,62zm-12,11l-56-61,12-11,56,61zm-12,12l-57-62,13-11,56,61zm-13,11l-56-61,12-12,57,62z /><path class=b178 d=M4932,1372l-57-61,13-12,56,61zm-13,13l-56-62,12-12,57,61zm-12,12l-56-62,12-12,56,62zm-13,13l-56-62,13-13,56,62z /><path class=b172 d=M4882,1423l-56-62,12-13,56,62zm-13,13l-56-62,13-13,56,62zm-12,13l-56-62,12-13,56,62z /><path class=b166 d=M4844,1463l-56-62,13-14,56,62zm-12,14l-56-62,12-14,56,62zm-12,14l-56-62,12-14,56,62z /><path class=b167 d=M4807,1505l-56-62,13-14,56,62z /><path class=b161 d=M4795,1519l-56-62,12-14,56,62zm-13,15l-56-62,13-15,56,62zm-12,15l-56-62,12-15,56,62z /><path class=b155 d=M4757,1564l-56-62,13-15,56,62zm-12,16l-56-62,12-16,56,62z /><path class=b149 d=M4732,1596l-55-62,12-16,56,62zm-12,17l-56-62,13-17,55,62zm-13,17l-55-62,12-17,56,62z /><path class=b143 d=M4695,1647l-56-62,13-17,55,62zm-13,18l-55-62,12-18,56,62z /><path class=b137 d=M4670,1683l-55-62,12-18,55,62zm-12,18l-56-62,13-18,55,62zm-13,19l-55-63,12-18,56,62z /><path class=b131 d=M4633,1739l-55-63,12-19,55,63zm-13,19l-55-63,13-19,55,63z /><path class=b125 d=M4608,1777l-55-62,12-20,55,63zm-12,20l-55-63,12-19,55,62z /><path class=b119 d=M4583,1817l-55-63,13-20,55,63zm-12,21l-55-63,12-21,55,63z /><path class=b113 d=M4559,1859l-55-63,12-21,55,63z /><path class=b107 d=M4546,1880l-54-63,12-21,55,63zm-12,22l-54-63,12-22,54,63z /><path class=b101 d=M4522,1924l-55-63,13-22,54,63zm-12,23l-55-63,12-23,55,63z /><path class=b95 d=M4498,1970l-55-63,12-23,55,63z /><path class=b89 d=M4485,1994l-54-64,12-23,55,63zm-12,23l-54-63,12-24,54,64z /><path class=b83 d=M4461,2041l-54-63,12-24,54,63z /><path class=b77 d=M4449,2066l-54-64,12-24,54,63zm-12,24l-54-63,12-25,54,64z /><path class=b96 d=M5908,1394l-55-60,10,8,56,60zm-10-8l-56-61,11,9,55,60z /><path class=b102 d=M5887,1377l-55-60,10,8,56,61zm-10-9l-56-61,11,10,55,60z /><path class=b108 d=M5867,1359l-56-61,10,9,56,61zm-11-10l-56-61,11,10,56,61z /><path class=b114 d=M5845,1340l-55-61,10,9,56,61zm-10-10l-56-61,11,10,55,61z /><path class=b120 d=M5824,1320l-56-60,11,9,56,61zm-10-9l-56-61,10,10,56,60z /><path class=b126 d=M5803,1302l-56-61,11,9,56,61zm-11-9l-56-61,11,9,56,61z /><path class=b132 d=M5782,1285l-57-61,11,8,56,61zm-11-9l-57-60,11,8,57,61z /><path class=b138 d=M5760,1268l-56-60,10,8,57,60zm-11-8l-56-60,11,8,56,60z /><path class=b144 d=M5738,1252l-56-60,11,8,56,60zm-11-7l-56-61,11,8,56,60zm-11-8l-56-61,11,8,56,61z /><path class=b150 d=M5705,1229l-57-60,12,7,56,61zm-11-7l-57-61,11,8,57,60z /><path class=b156 d=M5683,1215l-57-61,11,7,57,61zm-11-7l-57-61,11,7,57,61z /><path class=b162 d=M5661,1202l-57-61,11,6,57,61zm-12-7l-56-61,11,7,57,61zm-11-6l-57-61,12,6,56,61z /><path class=b168 d=M5627,1184l-57-61,11,5,57,61zm-12-6l-57-61,12,6,57,61z /><path class=b174 d=M5604,1172l-57-61,11,6,57,61zm-11-6l-57-60,11,5,57,61zm-12-5l-57-61,12,6,57,60z /><path class=b180 d=M5570,1156l-57-61,11,5,57,61zm-12-5l-57-61,12,5,57,61zm-11-4l-58-61,12,4,57,61z /><path class=b186 d=M5535,1143l-57-61,11,4,58,61zm-12-2l-57-61,12,2,57,61zm-11-1l-58-62,12,2,57,61zm-12-1l-57-61,11,0,58,62zm-12,0l-57-61,12,0,57,61z /><path class=b192 d=M5476,1139l-57-61,12,0,57,61zm-11,0l-58-61,12,0,57,61zm-12,1l-58-62,12,0,58,61z /><path class=b193 d=M5441,1141l-57-62,11-1,58,62zm-12,1l-57-61,12-2,57,62zm-12,2l-57-61,12-2,57,61zm-12,4l-57-62,12-3,57,61z /><path class=b194 d=M5393,1152l-57-61,12-5,57,62zm-12,5l-57-61,12-5,57,61zm-12,6l-57-61,12-6,57,61zm-12,6l-57-62,12-5,57,61zm-12,6l-57-62,12-6,57,62zm-12,6l-57-61,12-7,57,62zm-12,6l-57-61,12-6,57,61zm-12,7l-57-62,12-6,57,61zm-12,7l-58-62,13-7,57,62zm-13,6l-57-61,12-7,58,62zm-12,7l-57-61,12-7,57,61zm-12,7l-57-62,12-6,57,61zm-12,7l-57-62,12-7,57,62zm-12,7l-57-61,12-8,57,62zm-13,7l-57-61,13-7,57,61z /><path class=b195 d=M5211,1250l-57-62,12-7,57,61z /><path class=b189 d=M5199,1258l-57-62,12-8,57,62zm-12,8l-57-62,12-8,57,62zm-13,9l-57-62,13-9,57,62zm-12,9l-57-62,12-9,57,62zm-12,10l-57-62,12-10,57,62zm-13,9l-57-61,13-10,57,62zm-12,11l-57-62,12-10,57,61z /><path class=b183 d=M5113,1324l-57-62,12-10,57,62zm-13,10l-57-62,13-10,57,62zm-12,11l-57-62,12-11,57,62z /><path class=b184 d=M5076,1356l-57-62,12-11,57,62zm-13,11l-57-62,13-11,57,62z /><path class=b178 d=M5051,1378l-57-62,12-11,57,62zm-13,11l-57-63,13-10,57,62zm-12,11l-57-63,12-11,57,63zm-13,11l-56-62,12-12,57,63zm-12,12l-57-63,13-11,56,62z /><path class=b172 d=M4988,1435l-56-63,12-12,57,63zm-12,12l-57-62,13-13,56,63zm-13,12l-56-62,12-12,57,62zm-12,13l-57-62,13-13,56,62z /><path class=b166 d=M4939,1485l-57-62,12-13,57,62zm-13,13l-57-62,13-13,57,62zm-12,14l-57-63,12-13,57,62zm-13,13l-57-62,13-14,57,63z /><path class=b160 d=M4888,1539l-56-62,12-14,57,62zm-12,14l-56-62,12-14,56,62z /><path class=b161 d=M4863,1568l-56-63,13-14,56,62z /><path class=b155 d=M4851,1582l-56-63,12-14,56,63zm-13,15l-56-63,13-15,56,63zm-12,15l-56-63,12-15,56,63z /><path class=b149 d=M4813,1627l-56-63,13-15,56,63zm-12,16l-56-63,12-16,56,63zm-13,16l-56-63,13-16,56,63z /><path class=b143 d=M4776,1676l-56-63,12-17,56,63zm-13,17l-56-63,13-17,56,63z /><path class=b137 d=M4751,1710l-56-63,12-17,56,63zm-13,18l-56-63,13-18,56,63z /><path class=b131 d=M4726,1746l-56-63,12-18,56,63zm-13,18l-55-63,12-18,56,63zm-12,19l-56-63,13-19,55,63z /><path class=b125 d=M4689,1802l-56-63,12-19,56,63zm-13,19l-56-63,13-19,56,63z /><path class=b119 d=M4664,1841l-56-64,12-19,56,63zm-13,19l-55-63,12-20,56,64z /><path class=b113 d=M4639,1880l-56-63,13-20,55,63zm-12,21l-56-63,12-21,56,63z /><path class=b107 d=M4614,1922l-55-63,12-21,56,63zm-12,22l-56-64,13-21,55,63z /><path class=b101 d=M4590,1966l-56-64,12-22,56,64z /><path class=b95 d=M4577,1988l-55-64,12-22,56,64zm-12,23l-55-64,12-23,55,64z /><path class=b89 d=M4553,2034l-55-64,12-23,55,64zm-13,23l-55-63,13-24,55,64z /><path class=b83 d=M4528,2081l-55-64,12-23,55,63z /><path class=b77 d=M4516,2105l-55-64,12-24,55,64zm-12,25l-55-64,12-25,55,64z /><path class=b71 d=M4492,2154l-55-64,12-24,55,64z /><path class=b84 d=M5964,1455l-56-61,11,8,56,61z /><path class=b90 d=M5954,1447l-56-61,10,8,56,61zm-10-9l-57-61,11,9,56,61z /><path class=b96 d=M5933,1429l-56-61,10,9,57,61zm-10-9l-56-61,10,9,56,61z /><path class=b102 d=M5912,1410l-56-61,11,10,56,61z /><path class=b108 d=M5902,1401l-57-61,11,9,56,61zm-11-10l-56-61,10,10,57,61z /><path class=b114 d=M5881,1382l-57-62,11,10,56,61zm-11-10l-56-61,10,9,57,62z /><path class=b120 d=M5860,1363l-57-61,11,9,56,61zm-11-9l-57-61,11,9,57,61z /><path class=b126 d=M5838,1346l-56-61,10,8,57,61zm-10-8l-57-62,11,9,56,61z /><path class=b132 d=M5817,1330l-57-62,11,8,57,62zm-11-8l-57-62,11,8,57,62z /><path class=b138 d=M5795,1314l-57-62,11,8,57,62zm-11-8l-57-61,11,7,57,62zm-11-8l-57-61,11,8,57,61z /><path class=b144 d=M5762,1291l-57-62,11,8,57,61zm-11-8l-57-61,11,7,57,62z /><path class=b150 d=M5740,1276l-57-61,11,7,57,61zm-11-6l-57-62,11,7,57,61z /><path class=b156 d=M5718,1263l-57-61,11,6,57,62zm-11-6l-58-62,12,7,57,61zm-12-6l-57-62,11,6,58,62z /><path class=b162 d=M5684,1245l-57-61,11,5,57,62zm-11-5l-58-62,12,6,57,61zm-12-6l-57-62,11,6,58,62z /><path class=b168 d=M5650,1228l-57-62,11,6,57,62zm-11-6l-58-61,12,5,57,62z /><path class=b174 d=M5627,1217l-57-61,11,5,58,61zm-11-5l-58-61,12,5,57,61zm-12-4l-57-61,11,4,58,61z /><path class=b180 d=M5593,1205l-58-62,12,4,57,61zm-12-2l-58-62,12,2,58,62zm-12-2l-57-61,11,1,58,62zm-11,0l-58-62,12,1,57,61zm-12,0l-58-62,12,0,58,62z /><path class=b186 d=M5534,1201l-58-62,12,0,58,62zm-12,0l-57-62,11,0,58,62zm-11,0l-58-61,12-1,57,62z /><path class=b187 d=M5499,1202l-58-61,12-1,58,61zm-12,2l-58-62,12-1,58,61zm-12,2l-58-62,12-2,58,62zm-12,3l-58-61,12-4,58,62z /><path class=b188 d=M5451,1214l-58-62,12-4,58,61zm-12,5l-58-62,12-5,58,62zm-12,6l-58-62,12-6,58,62zm-12,6l-58-62,12-6,58,62zm-12,6l-58-62,12-6,58,62zm-12,6l-58-62,12-6,58,62zm-12,6l-58-62,12-6,58,62zm-12,7l-58-62,12-7,58,62zm-13,7l-57-62,12-7,58,62zm-12,6l-58-62,13-6,57,62zm-12,7l-58-62,12-7,58,62zm-12,7l-58-62,12-7,58,62zm-12,7l-58-62,12-7,58,62zm-13,7l-57-62,12-7,58,62zm-12,7l-58-62,13-7,57,62z /><path class=b189 d=M5269,1312l-58-62,12-8,58,62z /><path class=b183 d=M5257,1320l-58-62,12-8,58,62zm-13,8l-57-62,12-8,58,62zm-12,9l-58-62,13-9,57,62zm-12,9l-58-62,12-9,58,62zm-13,10l-57-62,12-10,58,62zm-12,10l-58-63,13-9,57,62zm-12,10l-58-62,12-11,58,63z /><path class=b177 d=M5170,1386l-57-62,12-10,58,62zm-12,11l-58-63,13-10,57,62zm-13,11l-57-63,12-11,58,63z /><path class=b178 d=M5133,1418l-57-62,12-11,57,63zm-12,11l-58-62,13-11,57,62z /><path class=b172 d=M5108,1440l-57-62,12-11,58,62zm-12,11l-58-62,13-11,57,62zm-13,11l-57-62,12-11,58,62zm-12,12l-58-63,13-11,57,62zm-13,11l-57-62,12-12,58,63z /><path class=b166 d=M5046,1497l-58-62,13-12,57,62zm-13,13l-57-63,12-12,58,62zm-12,12l-58-63,13-12,57,63zm-13,13l-57-63,12-13,58,63z /><path class=b160 d=M4996,1548l-57-63,12-13,57,63zm-13,13l-57-63,13-13,57,63zm-12,14l-57-63,12-14,57,63zm-13,13l-57-63,13-13,57,63z /><path class=b154 d=M4946,1602l-58-63,13-14,57,63zm-13,14l-57-63,12-14,58,63z /><path class=b155 d=M4920,1631l-57-63,13-15,57,63z /><path class=b149 d=M4908,1645l-57-63,12-14,57,63zm-13,15l-57-63,13-15,57,63zm-12,15l-57-63,12-15,57,63z /><path class=b143 d=M4870,1691l-57-64,13-15,57,63zm-12,15l-57-63,12-16,57,64zm-13,17l-57-64,13-16,57,63z /><path class=b137 d=M4832,1739l-56-63,12-17,57,64zm-12,17l-57-63,13-17,56,63z /><path class=b131 d=M4807,1774l-56-64,12-17,57,63zm-12,18l-57-64,13-18,56,64zm-13,18l-56-64,12-18,57,64z /><path class=b125 d=M4770,1828l-57-64,13-18,56,64zm-13,19l-56-64,12-19,57,64z /><path class=b119 d=M4745,1866l-56-64,12-19,56,64zm-13,19l-56-64,13-19,56,64z /><path class=b113 d=M4720,1904l-56-63,12-20,56,64zm-13,20l-56-64,13-19,56,63z /><path class=b107 d=M4695,1944l-56-64,12-20,56,64zm-12,21l-56-64,12-21,56,64z /><path class=b101 d=M4670,1986l-56-64,13-21,56,64zm-12,22l-56-64,12-22,56,64z /><path class=b95 d=M4645,2030l-55-64,12-22,56,64z /><path class=b89 d=M4633,2052l-56-64,13-22,55,64zm-12,23l-56-64,12-23,56,64z /><path class=b83 d=M4608,2098l-55-64,12-23,56,64zm-12,24l-56-65,13-23,55,64z /><path class=b77 d=M4584,2146l-56-65,12-24,56,65z /><path class=b71 d=M4571,2170l-55-65,12-24,56,65zm-12,24l-55-64,12-25,55,65z /><path class=b65 d=M4547,2219l-55-65,12-24,55,64z /><path class=b78 d=M6021,1517l-57-62,11,8,56,62z /><path class=b84 d=M6011,1509l-57-62,10,8,57,62zm-11-9l-56-62,10,9,57,62z /><path class=b90 d=M5990,1491l-57-62,11,9,56,62zm-10-10l-57-61,10,9,57,62z /><path class=b96 d=M5969,1472l-57-62,11,10,57,61zm-10-10l-57-61,10,9,57,62z /><path class=b102 d=M5948,1453l-57-62,11,10,57,61z /><path class=b108 d=M5938,1443l-57-61,10,9,57,62zm-11-9l-57-62,11,10,57,61z /><path class=b114 d=M5917,1425l-57-62,10,9,57,62zm-11-9l-57-62,11,9,57,62z /><path class=b120 d=M5895,1408l-57-62,11,8,57,62zm-10-9l-57-61,10,8,57,62z /><path class=b126 d=M5874,1391l-57-61,11,8,57,61zm-11-8l-57-61,11,8,57,61zm-11-7l-57-62,11,8,57,61z /><path class=b132 d=M5842,1368l-58-62,11,8,57,62zm-11-8l-58-62,11,8,58,62z /><path class=b138 d=M5820,1353l-58-62,11,7,58,62zm-11-8l-58-62,11,8,58,62z /><path class=b144 d=M5798,1338l-58-62,11,7,58,62zm-11-7l-58-61,11,6,58,62z /><path class=b150 d=M5776,1325l-58-62,11,7,58,61zm-12-6l-57-62,11,6,58,62zm-11-6l-58-62,12,6,57,62z /><path class=b156 d=M5742,1307l-58-62,11,6,58,62zm-11-5l-58-62,11,5,58,62zm-12-6l-58-62,12,6,58,62z /><path class=b162 d=M5708,1290l-58-62,11,6,58,62zm-11-6l-58-62,11,6,58,62z /><path class=b168 d=M5685,1279l-58-62,12,5,58,62zm-11-5l-58-62,11,5,58,62zm-12-4l-58-62,12,4,58,62z /><path class=b174 d=M5651,1267l-58-62,11,3,58,62zm-12-2l-58-62,12,2,58,62zm-11-2l-59-62,12,2,58,62zm-12,0l-58-62,11,0,59,62zm-12,0l-58-62,12,0,58,62z /><path class=b180 d=M5592,1263l-58-62,12,0,58,62zm-11,0l-59-62,12,0,58,62zm-12,1l-58-63,11,0,59,62z /><path class=b181 d=M5557,1265l-58-63,12-1,58,63zm-12,1l-58-62,12-2,58,63zm-12,3l-58-63,12-2,58,62zm-12,3l-58-63,12-3,58,63z /><path class=b182 d=M5509,1276l-58-62,12-5,58,63zm-12,6l-58-63,12-5,58,62zm-12,5l-58-62,12-6,58,63zm-12,6l-58-62,12-6,58,62zm-12,6l-58-62,12-6,58,62zm-12,7l-58-63,12-6,58,62zm-12,6l-58-63,12-6,58,63zm-12,7l-58-63,12-7,58,63zm-12,6l-59-62,13-7,58,63zm-12,7l-59-63,12-6,59,62zm-13,7l-58-63,12-7,59,63zm-12,7l-58-63,12-7,58,63zm-12,7l-58-63,12-7,58,63zm-12,7l-59-63,13-7,58,63zm-13,7l-58-63,12-7,59,63z /><path class=b183 d=M5327,1375l-58-63,12-8,58,63zm-12,8l-58-63,12-8,58,63z /><path class=b177 d=M5303,1391l-59-63,13-8,58,63zm-13,9l-58-63,12-9,59,63zm-12,9l-58-63,12-9,58,63zm-13,10l-58-63,13-10,58,63zm-12,10l-58-63,12-10,58,63zm-12,10l-58-63,12-10,58,63z /><path class=b171 d=M5228,1449l-58-63,13-10,58,63zm-12,11l-58-63,12-11,58,63z /><path class=b172 d=M5203,1471l-58-63,13-11,58,63zm-12,11l-58-64,12-10,58,63zm-12,11l-58-64,12-11,58,64zm-13,10l-58-63,13-11,58,64z /><path class=b166 d=M5154,1514l-58-63,12-11,58,63zm-13,12l-58-64,13-11,58,63zm-12,11l-58-63,12-12,58,64zm-13,12l-58-64,13-11,58,63z /><path class=b160 d=M5104,1561l-58-64,12-12,58,64zm-13,12l-58-63,13-13,58,64zm-13,13l-57-64,12-12,58,63zm-12,12l-58-63,13-13,57,64z /><path class=b154 d=M5053,1612l-57-64,12-13,58,63zm-12,13l-58-64,13-13,57,64zm-13,13l-57-63,12-14,58,64zm-12,14l-58-64,13-13,57,63z /><path class=b148 d=M5003,1666l-57-64,12-14,58,64z /><path class=b149 d=M4990,1680l-57-64,13-14,57,64zm-12,15l-58-64,13-15,57,64z /><path class=b143 d=M4965,1709l-57-64,12-14,58,64zm-12,15l-58-64,13-15,57,64zm-13,15l-57-64,12-15,58,64z /><path class=b137 d=M4927,1754l-57-63,13-16,57,64zm-12,16l-57-64,12-15,57,63zm-13,17l-57-64,13-17,57,64z /><path class=b131 d=M4890,1803l-58-64,13-16,57,64zm-13,18l-57-65,12-17,58,64zm-12,17l-58-64,13-18,57,65z /><path class=b125 d=M4852,1856l-57-64,12-18,58,64zm-13,18l-57-64,13-18,57,64z /><path class=b119 d=M4827,1892l-57-64,12-18,57,64zm-13,19l-57-64,13-19,57,64z /><path class=b113 d=M4802,1930l-57-64,12-19,57,64zm-13,19l-57-64,13-19,57,64z /><path class=b107 d=M4777,1969l-57-65,12-19,57,64zm-13,20l-57-65,13-20,57,65z /><path class=b101 d=M4752,2009l-57-65,12-20,57,65zm-13,21l-56-65,12-21,57,65z /><path class=b95 d=M4727,2051l-57-65,13-21,56,65zm-13,22l-56-65,12-22,57,65z /><path class=b89 d=M4702,2095l-57-65,13-22,56,65zm-13,22l-56-65,12-22,57,65z /><path class=b83 d=M4677,2140l-56-65,12-23,56,65z /><path class=b77 d=M4664,2163l-56-65,13-23,56,65zm-12,24l-56-65,12-24,56,65z /><path class=b71 d=M4640,2211l-56-65,12-24,56,65z /><path class=b65 d=M4627,2235l-56-65,13-24,56,65zm-12,24l-56-65,12-24,56,65z /><path class=b59 d=M4603,2284l-56-65,12-25,56,65z /><path class=b72 d=M6078,1579l-57-62,10,8,57,62z /><path class=b78 d=M6068,1571l-57-62,10,8,57,62zm-11-9l-57-62,11,9,57,62z /><path class=b84 d=M6047,1553l-57-62,10,9,57,62zm-10-10l-57-62,10,10,57,62z /><path class=b90 d=M6027,1534l-58-62,11,9,57,62zm-11-10l-57-62,10,10,58,62z /><path class=b96 d=M6006,1515l-58-62,11,9,57,62zm-11-10l-57-62,10,10,58,62z /><path class=b102 d=M5985,1496l-58-62,11,9,57,62zm-11-9l-57-62,10,9,58,62z /><path class=b108 d=M5964,1478l-58-62,11,9,57,62zm-11-8l-58-62,11,8,58,62z /><path class=b114 d=M5943,1462l-58-63,10,9,58,62zm-11-8l-58-63,11,8,58,63z /><path class=b120 d=M5921,1446l-58-63,11,8,58,63zm-11-8l-58-62,11,7,58,63z /><path class=b126 d=M5899,1430l-57-62,10,8,58,62zm-10-8l-58-62,11,8,57,62z /><path class=b132 d=M5878,1415l-58-62,11,7,58,62zm-11-7l-58-63,11,8,58,62z /><path class=b138 d=M5856,1401l-58-63,11,7,58,63zm-11-7l-58-63,11,7,58,63zm-11-7l-58-62,11,6,58,63z /><path class=b144 d=M5823,1381l-59-62,12,6,58,62zm-12-6l-58-62,11,6,59,62z /><path class=b150 d=M5800,1370l-58-63,11,6,58,62zm-11-6l-58-62,11,5,58,63zm-11-6l-59-62,12,6,58,62z /><path class=b156 d=M5767,1353l-59-63,11,6,59,62zm-12-6l-58-63,11,6,59,63z /><path class=b162 d=M5744,1342l-59-63,12,5,58,63zm-12-5l-58-63,11,5,59,63zm-11-4l-59-63,12,4,58,63zm-12-3l-58-63,11,3,59,63z /><path class=b168 d=M5698,1327l-59-62,12,2,58,63zm-12-1l-58-63,11,2,59,62zm-11,0l-59-63,12,0,58,63zm-12,0l-59-63,12,0,59,63z /><path class=b174 d=M5651,1326l-59-63,12,0,59,63zm-12,0l-58-63,11,0,59,63zm-11,0l-59-62,12-1,58,63z /><path class=b175 d=M5616,1327l-59-62,12-1,59,62zm-12,2l-59-63,12-1,59,62zm-12,2l-59-62,12-3,59,63zm-12,4l-59-63,12-3,59,62z /><path class=b176 d=M5568,1339l-59-63,12-4,59,63zm-12,6l-59-63,12-6,59,63zm-12,5l-59-63,12-5,59,63zm-12,6l-59-63,12-6,59,63zm-12,6l-59-63,12-6,59,63zm-12,7l-59-63,12-7,59,63zm-12,6l-59-63,12-6,59,63zm-12,7l-59-63,12-7,59,63zm-12,6l-59-63,12-6,59,63zm-13,7l-58-63,12-7,59,63zm-12,7l-59-63,13-7,58,63zm-12,7l-59-63,12-7,59,63zm-12,7l-59-63,12-7,59,63zm-13,7l-58-63,12-7,59,63zm-12,8l-59-64,13-7,58,63z /><path class=b177 d=M5386,1438l-59-63,12-8,59,64zm-12,8l-59-63,12-8,59,63z /><path class=b171 d=M5361,1455l-58-64,12-8,59,63zm-12,9l-59-64,13-9,58,64zm-12,9l-59-64,12-9,59,64zm-13,9l-59-63,13-10,59,64zm-12,10l-59-63,12-10,59,63zm-13,11l-58-64,12-10,59,63zm-12,10l-59-64,13-10,58,64z /><path class=b165 d=M5274,1524l-58-64,12-11,59,64z /><path class=b166 d=M5262,1534l-59-63,13-11,58,64zm-12,11l-59-63,12-11,59,63zm-13,11l-58-63,12-11,59,63zm-12,11l-59-64,13-10,58,63z /><path class=b160 d=M5212,1578l-58-64,12-11,59,64zm-12,12l-59-64,13-12,58,64zm-13,11l-58-64,12-11,59,64zm-13,12l-58-64,13-12,58,64zm-12,12l-58-64,12-12,58,64z /><path class=b154 d=M5149,1637l-58-64,13-12,58,64zm-12,13l-59-64,13-13,58,64zm-13,13l-58-65,12-12,59,64zm-12,13l-59-64,13-14,58,65z /><path class=b148 d=M5099,1689l-58-64,12-13,59,64zm-13,14l-58-65,13-13,58,64zm-12,13l-58-64,12-14,58,65z /><path class=b142 d=M5061,1730l-58-64,13-14,58,64z /><path class=b143 d=M5049,1745l-59-65,13-14,58,64zm-13,14l-58-64,12-15,59,65z /><path class=b137 d=M5023,1774l-58-65,13-14,58,64zm-12,14l-58-64,12-15,58,65zm-13,15l-58-64,13-15,58,64zm-13,16l-58-65,13-15,58,64z /><path class=b131 d=M4973,1835l-58-65,12-16,58,65zm-13,16l-58-64,13-17,58,65z /><path class=b125 d=M4947,1868l-57-65,12-16,58,64zm-12,17l-58-64,13-18,57,65zm-13,18l-57-65,12-17,58,64z /><path class=b119 d=M4910,1921l-58-65,13-18,57,65zm-13,18l-58-65,13-18,58,65z /><path class=b113 d=M4884,1957l-57-65,12-18,58,65zm-12,19l-58-65,13-19,57,65z /><path class=b107 d=M4859,1995l-57-65,12-19,58,65zm-13,20l-57-66,13-19,57,65z /><path class=b101 d=M4834,2034l-57-65,12-20,57,66zm-13,20l-57-65,13-20,57,65z /><path class=b95 d=M4809,2074l-57-65,12-20,57,65zm-13,21l-57-65,13-21,57,65z /><path class=b89 d=M4784,2116l-57-65,12-21,57,65zm-13,22l-57-65,13-22,57,65z /><path class=b83 d=M4759,2160l-57-65,12-22,57,65zm-13,23l-57-66,13-22,57,65z /><path class=b77 d=M4734,2205l-57-65,12-23,57,66zm-13,24l-57-66,13-23,57,65z /><path class=b71 d=M4709,2252l-57-65,12-24,57,66z /><path class=b65 d=M4696,2276l-56-65,12-24,57,65zm-12,25l-57-66,13-24,56,65z /><path class=b59 d=M4671,2325l-56-66,12-24,57,66z /><path class=b53 d=M4659,2350l-56-66,12-25,56,66z /><path class=b66 d=M6135,1641l-57-62,10,8,57,62z /><path class=b72 d=M6125,1633l-57-62,10,8,57,62zm-10-9l-58-62,11,9,57,62z /><path class=b78 d=M6105,1615l-58-62,10,9,58,62zm-10-9l-58-63,10,10,58,62z /><path class=b84 d=M6084,1597l-57-63,10,9,58,63zm-10-10l-58-63,11,10,57,63z /><path class=b90 d=M6064,1578l-58-63,10,9,58,63zm-11-10l-58-63,11,10,58,63z /><path class=b96 d=M6043,1559l-58-63,10,9,58,63zm-11-9l-58-63,11,9,58,63z /><path class=b102 d=M6022,1541l-58-63,10,9,58,63zm-11-8l-58-63,11,8,58,63z /><path class=b108 d=M6001,1524l-58-62,10,8,58,63zm-11-8l-58-62,11,8,58,62z /><path class=b114 d=M5979,1509l-58-63,11,8,58,62zm-10-8l-59-63,11,8,58,63z /><path class=b120 d=M5958,1493l-59-63,11,8,59,63zm-11-8l-58-63,10,8,59,63z /><path class=b126 d=M5936,1478l-58-63,11,7,58,63zm-11-7l-58-63,11,7,58,63z /><path class=b132 d=M5914,1464l-58-63,11,7,58,63zm-11-7l-58-63,11,7,58,63zm-11-7l-58-63,11,7,58,63z /><path class=b138 d=M5881,1444l-58-63,11,6,58,63zm-11-6l-59-63,12,6,58,63z /><path class=b144 d=M5859,1433l-59-63,11,5,59,63zm-11-6l-59-63,11,6,59,63zm-11-6l-59-63,11,6,59,63z /><path class=b150 d=M5825,1416l-58-63,11,5,59,63zm-11-6l-59-63,12,6,58,63zm-11-5l-59-63,11,5,59,63z /><path class=b156 d=M5791,1400l-59-63,12,5,59,63zm-11-4l-59-63,11,4,59,63zm-11-3l-60-63,12,3,59,63z /><path class=b162 d=M5757,1391l-59-64,11,3,60,63zm-12-2l-59-63,12,1,59,64zm-11,0l-59-63,11,0,59,63zm-12,0l-59-63,12,0,59,63z /><path class=b168 d=M5710,1389l-59-63,12,0,59,63zm-11,0l-60-63,12,0,59,63zm-12,1l-59-64,11,0,60,63z /><path class=b169 d=M5675,1391l-59-64,12-1,59,64zm-12,1l-59-63,12-2,59,64zm-12,3l-59-64,12-2,59,63zm-12,3l-59-63,12-4,59,64z /><path class=b170 d=M5628,1403l-60-64,12-4,59,63zm-12,5l-60-63,12-6,60,64zm-13,6l-59-64,12-5,60,63zm-12,6l-59-64,12-6,59,64zm-12,6l-59-64,12-6,59,64zm-12,6l-59-63,12-7,59,64zm-12,7l-59-64,12-6,59,63zm-12,6l-59-63,12-7,59,64zm-12,7l-59-64,12-6,59,63zm-12,7l-60-64,13-7,59,64zm-13,7l-59-64,12-7,60,64zm-12,7l-59-64,12-7,59,64zm-12,7l-59-64,12-7,59,64zm-12,7l-60-64,13-7,59,64zm-13,8l-59-64,12-8,60,64z /><path class=b171 d=M5445,1502l-59-64,12-7,59,64zm-12,8l-59-64,12-8,59,64z /><path class=b165 d=M5421,1519l-60-64,13-9,59,64zm-13,9l-59-64,12-9,60,64zm-12,9l-59-64,12-9,59,64zm-13,10l-59-65,13-9,59,64zm-12,10l-59-65,12-10,59,65zm-12,10l-60-64,13-11,59,65zm-13,10l-59-64,12-10,60,64z /><path class=b159 d=M5334,1588l-60-64,13-11,59,64z /><path class=b160 d=M5321,1599l-59-65,12-10,60,64zm-12,11l-59-65,12-11,59,65zm-13,11l-59-65,13-11,59,65zm-12,11l-59-65,12-11,59,65z /><path class=b154 d=M5271,1643l-59-65,13-11,59,65zm-12,11l-59-64,12-12,59,65zm-13,12l-59-65,13-11,59,64zm-13,11l-59-64,13-12,59,65zm-12,12l-59-64,12-12,59,64z /><path class=b148 d=M5208,1702l-59-65,13-12,59,64zm-12,12l-59-64,12-13,59,65zm-13,13l-59-64,13-13,59,64zm-13,13l-58-64,12-13,59,64z /><path class=b142 d=M5158,1754l-59-65,13-13,58,64zm-13,13l-59-64,13-14,59,65zm-13,14l-58-65,12-13,59,64z /><path class=b137 d=M5120,1795l-59-65,13-14,58,65zm-13,15l-58-65,12-15,59,65zm-13,14l-58-65,13-14,58,65zm-12,15l-59-65,13-15,58,65z /><path class=b131 d=M5069,1853l-58-65,12-14,59,65zm-13,16l-58-66,13-15,58,65zm-12,15l-59-65,13-16,58,66z /><path class=b125 d=M5031,1900l-58-65,12-16,59,65zm-13,17l-58-66,13-16,58,65z /><path class=b119 d=M5006,1933l-59-65,13-17,58,66zm-13,18l-58-66,12-17,59,65zm-13,17l-58-65,13-18,58,66z /><path class=b113 d=M4968,1986l-58-65,12-18,58,65zm-13,18l-58-65,13-18,58,65z /><path class=b107 d=M4942,2023l-58-66,13-18,58,65zm-12,19l-58-66,12-19,58,66z /><path class=b101 d=M4917,2061l-58-66,13-19,58,66zm-13,19l-58-65,13-20,58,66zm-12,20l-58-66,12-19,58,65z /><path class=b95 d=M4879,2120l-58-66,13-20,58,66zm-13,20l-57-66,12-20,58,66z /><path class=b89 d=M4854,2161l-58-66,13-21,57,66zm-13,21l-57-66,12-21,58,66z /><path class=b83 d=M4829,2204l-58-66,13-22,57,66z /><path class=b77 d=M4816,2226l-57-66,12-22,58,66zm-13,23l-57-66,13-23,57,66z /><path class=b71 d=M4791,2272l-57-67,12-22,57,66zm-13,23l-57-66,13-24,57,67z /><path class=b65 d=M4766,2319l-57-67,12-23,57,66z /><path class=b59 d=M4753,2343l-57-67,13-24,57,67zm-12,24l-57-66,12-25,57,67z /><path class=b53 d=M4728,2392l-57-67,13-24,57,66z /><path class=b47 d=M4716,2416l-57-66,12-25,57,67z /><path class=b60 d=M6193,1705l-58-64,10,8,58,63z /><path class=b66 d=M6183,1696l-58-63,10,8,58,64zm-10-9l-58-63,10,9,58,63z /><path class=b72 d=M6163,1678l-58-63,10,9,58,63zm-10-9l-58-63,10,9,58,63z /><path class=b78 d=M6143,1660l-59-63,11,9,58,63zm-11-10l-58-63,10,10,59,63z /><path class=b84 d=M6122,1641l-58-63,10,9,58,63zm-10-10l-59-63,11,10,58,63z /><path class=b90 d=M6101,1622l-58-63,10,9,59,63zm-10-9l-59-63,11,9,58,63z /><path class=b96 d=M6081,1604l-59-63,10,9,59,63zm-11-8l-59-63,11,8,59,63z /><path class=b102 d=M6059,1588l-58-64,10,9,59,63zm-10-8l-59-64,11,8,58,64z /><path class=b108 d=M6038,1572l-59-63,11,7,59,64zm-10-8l-59-63,10,8,59,63z /><path class=b114 d=M6017,1556l-59-63,11,8,59,63zm-11-7l-59-64,11,8,59,63z /><path class=b120 d=M5995,1541l-59-63,11,7,59,64zm-11-7l-59-63,11,7,59,63z /><path class=b126 d=M5974,1527l-60-63,11,7,59,63zm-11-7l-60-63,11,7,60,63zm-11-6l-60-64,11,7,60,63z /><path class=b132 d=M5941,1508l-60-64,11,6,60,64zm-11-6l-60-64,11,6,60,64z /><path class=b138 d=M5919,1496l-60-63,11,5,60,64zm-12-5l-59-64,11,6,60,63zm-11-6l-59-64,11,6,59,64z /><path class=b144 d=M5885,1479l-60-63,12,5,59,64zm-11-5l-60-64,11,6,60,63zm-12-5l-59-64,11,5,60,64z /><path class=b150 d=M5851,1464l-60-64,12,5,59,64zm-11-4l-60-64,11,4,60,64zm-12-3l-59-64,11,3,60,64z /><path class=b156 d=M5817,1454l-60-63,12,2,59,64zm-12-1l-60-64,12,2,60,63zm-11,0l-60-64,11,0,60,64zm-12,0l-60-64,12,0,60,64z /><path class=b162 d=M5770,1453l-60-64,12,0,60,64zm-11,0l-60-64,11,0,60,64zm-12,1l-60-64,12-1,60,64z /><path class=b163 d=M5735,1455l-60-64,12-1,60,64zm-12,1l-60-64,12-1,60,64zm-12,3l-60-64,12-3,60,64zm-12,3l-60-64,12-3,60,64z /><path class=b164 d=M5687,1467l-59-64,11-5,60,64zm-12,5l-59-64,12-5,59,64zm-12,6l-60-64,13-6,59,64zm-12,6l-60-64,12-6,60,64zm-12,6l-60-64,12-6,60,64zm-12,7l-60-65,12-6,60,64zm-12,6l-60-64,12-7,60,65zm-12,7l-60-65,12-6,60,64zm-12,6l-60-64,12-7,60,65zm-12,7l-60-64,12-7,60,64zm-13,7l-60-64,13-7,60,64zm-12,7l-60-64,12-7,60,64zm-12,8l-60-65,12-7,60,64zm-12,7l-60-65,12-7,60,65zm-13,7l-60-64,13-8,60,65z /><path class=b165 d=M5505,1567l-60-65,12-7,60,64zm-12,8l-60-65,12-8,60,65z /><path class=b159 d=M5480,1583l-59-64,12-9,60,65zm-12,9l-60-64,13-9,59,64zm-12,10l-60-65,12-9,60,64zm-13,9l-60-64,13-10,60,65zm-12,10l-60-64,12-10,60,64zm-13,11l-59-65,12-10,60,64zm-12,10l-60-65,13-10,59,65z /><path class=b154 d=M5393,1653l-59-65,12-11,60,65zm-12,11l-60-65,13-11,59,65zm-13,11l-59-65,12-11,60,65zm-12,11l-60-65,13-11,59,65zm-13,11l-59-65,12-11,60,65z /><path class=b148 d=M5331,1708l-60-65,13-11,59,65zm-13,11l-59-65,12-11,60,65zm-12,12l-60-65,13-12,59,65zm-13,12l-60-66,13-11,60,65zm-13,12l-59-66,12-12,60,66z /><path class=b142 d=M5268,1767l-60-65,13-13,59,66zm-13,13l-59-66,12-12,60,65zm-13,13l-59-66,13-13,59,66zm-12,13l-60-66,13-13,59,66z /><path class=b136 d=M5217,1819l-59-65,12-14,60,66zm-13,14l-59-66,13-13,59,65zm-12,14l-60-66,13-14,59,66z /><path class=b137 d=M5179,1861l-59-66,12-14,60,66z /><path class=b131 d=M5166,1875l-59-65,13-15,59,66zm-12,15l-60-66,13-14,59,65zm-13,14l-59-65,12-15,60,66z /><path class=b125 d=M5128,1919l-59-66,13-14,59,65zm-13,15l-59-65,13-16,59,66zm-12,16l-59-66,12-15,59,65z /><path class=b119 d=M5090,1966l-59-66,13-16,59,66zm-13,17l-59-66,13-17,59,66zm-12,16l-59-66,12-16,59,66z /><path class=b113 d=M5052,2017l-59-66,13-18,59,66zm-13,17l-59-66,13-17,59,66z /><path class=b107 d=M5026,2052l-58-66,12-18,59,66zm-12,19l-59-67,13-18,58,66z /><path class=b101 d=M5001,2089l-59-66,13-19,59,67zm-13,19l-58-66,12-19,59,66zm-13,19l-58-66,13-19,58,66z /><path class=b95 d=M4963,2147l-59-67,13-19,58,66zm-13,19l-58-66,12-20,59,67z /><path class=b89 d=M4937,2186l-58-66,13-20,58,66zm-12,21l-59-67,13-20,58,66z /><path class=b83 d=M4912,2227l-58-66,12-21,59,67zm-13,22l-58-67,13-21,58,66z /><path class=b77 d=M4887,2271l-58-67,12-22,58,67zm-13,22l-58-67,13-22,58,67z /><path class=b71 d=M4861,2315l-58-66,13-23,58,67z /><path class=b65 d=M4849,2338l-58-66,12-23,58,66zm-13,24l-58-67,13-23,58,66z /><path class=b59 d=M4824,2385l-58-66,12-24,58,67z /><path class=b53 d=M4811,2410l-58-67,13-24,58,66zm-13,24l-57-67,12-24,58,67z /><path class=b47 d=M4786,2459l-58-67,13-25,57,67zm-13,25l-57-68,12-24,58,67z /><path class=b54 d=M6252,1768l-59-63,10,7,59,64zm-10-8l-59-64,10,9,59,63z /><path class=b60 d=M6232,1751l-59-64,10,9,59,64zm-10-9l-59-64,10,9,59,64z /><path class=b66 d=M6211,1733l-58-64,10,9,59,64z /><path class=b72 d=M6201,1723l-58-63,10,9,58,64zm-10-9l-59-64,11,10,58,63z /><path class=b78 d=M6181,1705l-59-64,10,9,59,64zm-10-10l-59-64,10,10,59,64z /><path class=b84 d=M6160,1686l-59-64,11,9,59,64zm-10-9l-59-64,10,9,59,64z /><path class=b90 d=M6140,1668l-59-64,10,9,59,64zm-11-8l-59-64,11,8,59,64z /><path class=b96 d=M6119,1652l-60-64,11,8,59,64zm-11-8l-59-64,10,8,60,64z /><path class=b102 d=M6098,1636l-60-64,11,8,59,64zm-11-8l-59-64,10,8,60,64z /><path class=b108 d=M6076,1620l-59-64,11,8,59,64zm-10-7l-60-64,11,7,59,64z /><path class=b114 d=M6055,1605l-60-64,11,8,60,64zm-11-7l-60-64,11,7,60,64zm-11-7l-59-64,10,7,60,64z /><path class=b120 d=M6022,1584l-59-64,11,7,59,64zm-11-6l-59-64,11,6,59,64z /><path class=b126 d=M6000,1572l-59-64,11,6,59,64zm-11-6l-59-64,11,6,59,64zm-11-6l-59-64,11,6,59,64z /><path class=b132 d=M5967,1555l-60-64,12,5,59,64zm-11-6l-60-64,11,6,60,64z /><path class=b138 d=M5945,1544l-60-65,11,6,60,64zm-11-6l-60-64,11,5,60,65zm-11-5l-61-64,12,5,60,64z /><path class=b144 d=M5911,1528l-60-64,11,5,61,64zm-11-4l-60-64,11,4,60,64zm-11-3l-61-64,12,3,60,64z /><path class=b150 d=M5877,1519l-60-65,11,3,61,64zm-12-1l-60-65,12,1,60,65zm-11-1l-60-64,11,0,60,65zm-12,0l-60-64,12,0,60,64zm-11,0l-61-64,12,0,60,64z /><path class=b156 d=M5819,1518l-60-65,11,0,61,64zm-12,0l-60-64,12-1,60,65z /><path class=b157 d=M5795,1519l-60-64,12-1,60,64zm-11,2l-61-65,12-1,60,64zm-12,3l-61-65,12-3,61,65zm-12,3l-61-65,12-3,61,65z /><path class=b158 d=M5748,1531l-61-64,12-5,61,65zm-12,6l-61-65,12-5,61,64zm-12,6l-61-65,12-6,61,65zm-12,6l-61-65,12-6,61,65zm-12,6l-61-65,12-6,61,65zm-12,6l-61-64,12-7,61,65zm-12,7l-61-65,12-6,61,64zm-13,7l-60-65,12-7,61,65zm-12,6l-60-65,12-6,60,65zm-12,7l-60-65,12-7,60,65zm-12,7l-61-65,13-7,60,65zm-12,7l-61-65,12-7,61,65zm-13,8l-60-65,12-8,61,65zm-12,7l-60-65,12-7,60,65zm-12,7l-61-65,13-7,60,65z /><path class=b159 d=M5565,1632l-60-65,12-8,61,65zm-12,8l-60-65,12-8,60,65z /><path class=b153 d=M5541,1649l-61-66,13-8,60,65zm-13,9l-60-66,12-9,61,66zm-12,9l-60-65,12-10,60,66zm-13,10l-60-66,13-9,60,65zm-12,10l-60-66,12-10,60,66zm-12,10l-61-65,13-11,60,66zm-13,11l-60-66,12-10,61,65z /><path class=b148 d=M5454,1718l-61-65,13-11,60,66zm-13,11l-60-65,12-11,61,65zm-12,11l-61-65,13-11,60,65zm-13,11l-60-65,12-11,61,65zm-13,11l-60-65,13-11,60,65z /><path class=b142 d=M5391,1774l-60-66,12-11,60,65zm-13,11l-60-66,13-11,60,66zm-12,11l-60-65,12-12,60,66zm-13,12l-60-65,13-12,60,65zm-13,13l-60-66,13-12,60,65z /><path class=b136 d=M5328,1833l-60-66,12-12,60,66zm-13,13l-60-66,13-13,60,66zm-13,13l-60-66,13-13,60,66zm-12,13l-60-66,12-13,60,66z /><path class=b130 d=M5277,1885l-60-66,13-13,60,66zm-13,14l-60-66,13-14,60,66zm-12,14l-60-66,12-14,60,66z /><path class=b131 d=M5239,1927l-60-66,13-14,60,66z /><path class=b125 d=M5226,1941l-60-66,13-14,60,66zm-13,15l-59-66,12-15,60,66zm-12,15l-60-67,13-14,59,66z /><path class=b119 d=M5188,1986l-60-67,13-15,60,67zm-13,15l-60-67,13-15,60,67zm-13,15l-59-66,12-16,60,67z /><path class=b113 d=M5150,2033l-60-67,13-16,59,66zm-13,16l-60-66,13-17,60,67zm-13,17l-59-67,12-16,60,66z /><path class=b107 d=M5111,2083l-59-66,13-18,59,67zm-13,18l-59-67,13-17,59,66z /><path class=b101 d=M5086,2119l-60-67,13-18,59,67zm-13,18l-59-66,12-19,60,67zm-13,19l-59-67,13-18,59,66z /><path class=b95 d=M5047,2175l-59-67,13-19,59,67zm-12,19l-60-67,13-19,59,67z /><path class=b89 d=M5022,2214l-59-67,12-20,60,67zm-13,19l-59-67,13-19,59,67z /><path class=b83 d=M4996,2253l-59-67,13-20,59,67zm-13,21l-58-67,12-21,59,67z /><path class=b77 d=M4971,2295l-59-68,13-20,58,67zm-13,21l-59-67,13-22,59,68z /><path class=b71 d=M4945,2338l-58-67,12-22,59,67zm-12,22l-59-67,13-22,58,67z /><path class=b65 d=M4920,2383l-59-68,13-22,59,67z /><path class=b59 d=M4907,2406l-58-68,12-23,59,68zm-13,23l-58-67,13-24,58,68z /><path class=b53 d=M4882,2453l-58-68,12-23,58,67zm-13,24l-58-67,13-25,58,68z /><path class=b47 d=M4857,2502l-59-68,13-24,58,67z /><path class=b41 d=M4844,2526l-58-67,12-25,59,68zm-13,25l-58-67,13-25,58,67z /><path class=b48 d=M6311,1832l-59-64,10,8,59,64zm-10-8l-59-64,10,8,59,64z /><path class=b54 d=M6291,1815l-59-64,10,9,59,64zm-10-9l-59-64,10,9,59,64z /><path class=b60 d=M6271,1797l-60-64,11,9,59,64zm-11-9l-59-65,10,10,60,64z /><path class=b66 d=M6250,1778l-59-64,10,9,59,65z /><path class=b72 d=M6240,1769l-59-64,10,9,59,64zm-10-10l-59-64,10,10,59,64z /><path class=b78 d=M6220,1750l-60-64,11,9,59,64zm-10-9l-60-64,10,9,60,64z /><path class=b84 d=M6199,1732l-59-64,10,9,60,64zm-10-8l-60-64,11,8,59,64z /><path class=b90 d=M6178,1716l-59-64,10,8,60,64zm-10-8l-60-64,11,8,59,64z /><path class=b96 d=M6157,1700l-59-64,10,8,60,64zm-10-8l-60-64,11,8,59,64z /><path class=b102 d=M6136,1685l-60-65,11,8,60,64zm-10-8l-60-64,10,7,60,65zm-11-7l-60-65,11,8,60,64z /><path class=b108 d=M6104,1663l-60-65,11,7,60,65zm-11-7l-60-65,11,7,60,65z /><path class=b114 d=M6083,1649l-61-65,11,7,60,65zm-11-6l-61-65,11,6,61,65z /><path class=b120 d=M6061,1637l-61-65,11,6,61,65zm-11-6l-61-65,11,6,61,65zm-11-6l-61-65,11,6,61,65z /><path class=b126 d=M6028,1620l-61-65,11,5,61,65zm-11-6l-61-65,11,6,61,65z /><path class=b132 d=M6006,1608l-61-64,11,5,61,65zm-12-5l-60-65,11,6,61,64zm-11-5l-60-65,11,5,60,65z /><path class=b138 d=M5972,1593l-61-65,12,5,60,65zm-11-4l-61-65,11,4,61,65zm-12-3l-60-65,11,3,61,65z /><path class=b144 d=M5938,1584l-61-65,12,2,60,65zm-12-1l-61-65,12,1,61,65zm-11-1l-61-65,11,1,61,65zm-12,0l-61-65,12,0,61,65zm-11,0l-61-65,11,0,61,65z /><path class=b150 d=M5880,1583l-61-65,12-1,61,65zm-12,0l-61-65,12,0,61,65z /><path class=b151 d=M5856,1584l-61-65,12-1,61,65zm-11,2l-61-65,11-2,61,65zm-12,3l-61-65,12-3,61,65zm-12,3l-61-65,12-3,61,65z /><path class=b152 d=M5809,1597l-61-66,12-4,61,65zm-12,5l-61-65,12-6,61,66zm-12,6l-61-65,12-6,61,65zm-12,6l-61-65,12-6,61,65zm-12,6l-61-65,12-6,61,65zm-12,7l-61-66,12-6,61,65zm-12,6l-61-65,12-7,61,66zm-13,7l-61-65,13-7,61,65zm-12,7l-61-66,12-6,61,65zm-12,7l-61-66,12-7,61,66zm-12,7l-61-66,12-7,61,66zm-12,7l-61-66,12-7,61,66zm-13,7l-61-65,13-8,61,66zm-12,8l-61-66,12-7,61,65z /><path class=b153 d=M5639,1690l-61-66,12-7,61,66zm-13,8l-61-66,13-8,61,66zm-12,8l-61-66,12-8,61,66z /><path class=b147 d=M5602,1714l-61-65,12-9,61,66zm-13,9l-61-65,13-9,61,65zm-12,10l-61-66,12-9,61,65zm-13,10l-61-66,13-10,61,66zm-12,10l-61-66,12-10,61,66zm-13,10l-60-66,12-10,61,66zm-12,11l-61-66,13-11,60,66z /><path class=b142 d=M5514,1784l-60-66,12-10,61,66zm-12,11l-61-66,13-11,60,66zm-13,11l-60-66,12-11,61,66zm-12,12l-61-67,13-11,60,66zm-13,11l-61-67,13-11,61,67zm-12,11l-61-66,12-12,61,67z /><path class=b136 d=M5439,1851l-61-66,13-11,61,66zm-13,12l-60-67,12-11,61,66zm-12,12l-61-67,13-12,60,67zm-13,12l-61-66,13-13,61,67z /><path class=b130 d=M5388,1900l-60-67,12-12,61,66zm-12,12l-61-66,13-13,60,67zm-13,13l-61-66,13-13,61,66zm-13,13l-60-66,12-13,61,66z /><path class=b124 d=M5337,1952l-60-67,13-13,60,66zm-12,14l-61-67,13-14,60,67z /><path class=b125 d=M5312,1980l-60-67,12-14,61,67zm-13,14l-60-67,13-14,60,67z /><path class=b119 d=M5286,2008l-60-67,13-14,60,67zm-12,15l-61-67,13-15,60,67zm-13,15l-60-67,12-15,61,67z /><path class=b113 d=M5248,2053l-60-67,13-15,60,67zm-13,15l-60-67,13-15,60,67zm-13,16l-60-68,13-15,60,67z /><path class=b107 d=M5210,2100l-60-67,12-17,60,68zm-13,16l-60-67,13-16,60,67zm-13,17l-60-67,13-17,60,67z /><path class=b101 d=M5171,2151l-60-68,13-17,60,67zm-13,17l-60-67,13-18,60,68zm-13,18l-59-67,12-18,60,67z /><path class=b95 d=M5133,2205l-60-68,13-18,59,67zm-13,18l-60-67,13-19,60,68z /><path class=b89 d=M5107,2242l-60-67,13-19,60,67zm-13,20l-59-68,12-19,60,67z /><path class=b83 d=M5081,2281l-59-67,13-20,59,68zm-13,20l-59-68,13-19,59,67z /><path class=b77 d=M5056,2321l-60-68,13-20,59,68zm-13,21l-60-68,13-21,60,68z /><path class=b71 d=M5030,2363l-59-68,12-21,60,68zm-13,21l-59-68,13-21,59,68z /><path class=b65 d=M5004,2406l-59-68,13-22,59,68zm-12,22l-59-68,12-22,59,68z /><path class=b59 d=M4979,2451l-59-68,13-23,59,68zm-13,23l-59-68,13-23,59,68z /><path class=b53 d=M4953,2497l-59-68,13-23,59,68z /><path class=b47 d=M4941,2521l-59-68,12-24,59,68zm-13,24l-59-68,13-24,59,68z /><path class=b41 d=M4915,2570l-58-68,12-25,59,68z /><path class=b35 d=M4903,2595l-59-69,13-24,58,68zm-13,25l-59-69,13-25,59,69z /><path class=b42 d=M6370,1897l-59-65,10,8,59,65zm-10-8l-59-65,10,8,59,65z /><path class=b48 d=M6350,1880l-59-65,10,9,59,65zm-10-9l-59-65,10,9,59,65z /><path class=b54 d=M6330,1862l-59-65,10,9,59,65zm-10-10l-60-64,11,9,59,65z /><path class=b60 d=M6310,1843l-60-65,10,10,60,64zm-10-9l-60-65,10,9,60,65z /><path class=b66 d=M6290,1824l-60-65,10,10,60,65z /><path class=b72 d=M6280,1815l-60-65,10,9,60,65zm-10-9l-60-65,10,9,60,65z /><path class=b78 d=M6259,1797l-60-65,11,9,60,65zm-10-8l-60-65,10,8,60,65z /><path class=b84 d=M6239,1781l-61-65,11,8,60,65zm-11-8l-60-65,10,8,61,65z /><path class=b90 d=M6218,1765l-61-65,11,8,60,65zm-11-7l-60-66,10,8,61,65z /><path class=b96 d=M6197,1750l-61-65,11,7,60,66zm-11-8l-60-65,10,8,61,65zm-10-7l-61-65,11,7,60,65z /><path class=b102 d=M6165,1728l-61-65,11,7,61,65zm-11-7l-61-65,11,7,61,65z /><path class=b108 d=M6143,1714l-60-65,10,7,61,65zm-10-6l-61-65,11,6,60,65z /><path class=b114 d=M6122,1702l-61-65,11,6,61,65zm-11-6l-61-65,11,6,61,65zm-11-5l-61-66,11,6,61,65z /><path class=b120 d=M6089,1685l-61-65,11,5,61,66zm-11-6l-61-65,11,6,61,65z /><path class=b126 d=M6067,1674l-61-66,11,6,61,65zm-11-6l-62-65,12,5,61,66zm-12-5l-61-65,11,5,62,65z /><path class=b132 d=M6033,1659l-61-66,11,5,61,65zm-11-4l-61-66,11,4,61,66zm-11-4l-62-65,12,3,61,66z /><path class=b138 d=M5999,1649l-61-65,11,2,62,65zm-11-1l-62-65,12,1,61,65zm-12,0l-61-66,11,1,62,65zm-11,0l-62-66,12,0,61,66zm-12,0l-61-66,11,0,62,66z /><path class=b144 d=M5941,1648l-61-65,12-1,61,66zm-11,1l-62-66,12,0,61,65z /><path class=b145 d=M5918,1650l-62-66,12-1,62,66zm-12,2l-61-66,11-2,62,66zm-12,3l-61-66,12-3,61,66zm-12,3l-61-66,12-3,61,66z /><path class=b146 d=M5870,1663l-61-66,12-5,61,66zm-11,5l-62-66,12-5,61,66zm-13,6l-61-66,12-6,62,66zm-12,6l-61-66,12-6,61,66zm-12,6l-61-66,12-6,61,66zm-12,7l-61-66,12-7,61,66zm-12,6l-61-66,12-6,61,66zm-12,7l-62-66,13-7,61,66zm-12,7l-62-66,12-7,62,66zm-12,7l-62-66,12-7,62,66zm-13,7l-61-66,12-7,62,66zm-12,7l-61-66,12-7,61,66zm-12,8l-62-67,13-7,61,66zm-12,7l-62-66,12-8,62,67z /><path class=b147 d=M5700,1756l-61-66,12-7,62,66zm-12,8l-62-66,13-8,61,66zm-12,8l-62-66,12-8,62,66zm-13,9l-61-67,12-8,62,66z /><path class=b141 d=M5651,1790l-62-67,13-9,61,67zm-13,9l-61-66,12-10,62,67zm-12,10l-62-66,13-10,61,66zm-13,10l-61-66,12-10,62,66zm-12,11l-62-67,13-10,61,66z /><path class=b142 d=M5588,1840l-61-66,12-11,62,67z /><path class=b136 d=M5576,1851l-62-67,13-10,61,66zm-13,11l-61-67,12-11,62,67zm-12,11l-62-67,13-11,61,67zm-13,11l-61-66,12-12,62,67zm-13,12l-61-67,13-11,61,66zm-12,11l-61-67,12-11,61,67z /><path class=b130 d=M5500,1918l-61-67,13-11,61,67zm-12,12l-62-67,13-12,61,67zm-13,12l-61-67,12-12,62,67zm-13,12l-61-67,13-12,61,67zm-13,13l-61-67,13-13,61,67z /><path class=b124 d=M5437,1979l-61-67,12-12,61,67zm-13,14l-61-68,13-13,61,67zm-13,13l-61-68,13-13,61,68zm-12,13l-62-67,13-14,61,68z /><path class=b118 d=M5386,2033l-61-67,12-14,62,67z /><path class=b119 d=M5373,2047l-61-67,13-14,61,67zm-13,14l-61-67,13-14,61,67z /><path class=b113 d=M5347,2076l-61-68,13-14,61,67zm-12,14l-61-67,12-15,61,68zm-13,15l-61-67,13-15,61,67zm-13,15l-61-67,13-15,61,67z /><path class=b107 d=M5296,2136l-61-68,13-15,61,67zm-13,15l-61-67,13-16,61,68zm-13,17l-60-68,12-16,61,67z /><path class=b101 d=M5257,2184l-60-68,13-16,60,68zm-12,17l-61-68,13-17,60,68z /><path class=b95 d=M5232,2219l-61-68,13-18,61,68zm-13,17l-61-68,13-17,61,68zm-13,18l-61-68,13-18,61,68z /><path class=b89 d=M5193,2273l-60-68,12-19,61,68zm-13,19l-60-69,13-18,60,68z /><path class=b83 d=M5167,2311l-60-69,13-19,60,69zm-13,19l-60-68,13-20,60,69z /><path class=b77 d=M5141,2350l-60-69,13-19,60,68zm-12,19l-61-68,13-20,60,69z /><path class=b71 d=M5116,2389l-60-68,12-20,61,68zm-13,21l-60-68,13-21,60,68z /><path class=b65 d=M5090,2431l-60-68,13-21,60,68zm-13,22l-60-69,13-21,60,68z /><path class=b59 d=M5064,2474l-60-68,13-22,60,69zm-13,23l-59-69,12-22,60,68z /><path class=b53 d=M5039,2520l-60-69,13-23,59,69zm-13,23l-60-69,13-23,60,69z /><path class=b47 d=M5013,2566l-60-69,13-23,60,69z /><path class=b41 d=M5000,2590l-59-69,12-24,60,69zm-13,24l-59-69,13-24,59,69z /><path class=b35 d=M4975,2639l-60-69,13-25,59,69zm-13,25l-59-69,12-25,60,69z /><path class=b29 d=M4949,2689l-59-69,13-25,59,69z /><path class=b36 d=M6430,1962l-60-65,10,8,60,65zm-10-8l-60-65,10,8,60,65z /><path class=b42 d=M6410,1945l-60-65,10,9,60,65zm-10-9l-60-65,10,9,60,65z /><path class=b48 d=M6390,1927l-60-65,10,9,60,65zm-10-9l-60-66,10,10,60,65z /><path class=b54 d=M6370,1908l-60-65,10,9,60,66zm-10-9l-60-65,10,9,60,65z /><path class=b60 d=M6350,1890l-60-66,10,10,60,65zm-10-10l-60-65,10,9,60,66z /><path class=b66 d=M6330,1871l-60-65,10,9,60,65z /><path class=b72 d=M6320,1863l-61-66,11,9,60,65zm-10-8l-61-66,10,8,61,66z /><path class=b78 d=M6299,1847l-60-66,10,8,61,66zm-10-8l-61-66,11,8,60,66zm-10-8l-61-66,10,8,61,66z /><path class=b84 d=M6268,1823l-61-65,11,7,61,66zm-10-7l-61-66,10,8,61,65z /><path class=b90 d=M6247,1808l-61-66,11,8,61,66zm-10-7l-61-66,10,7,61,66z /><path class=b96 d=M6226,1794l-61-66,11,7,61,66zm-11-7l-61-66,11,7,61,66z /><path class=b102 d=M6205,1780l-62-66,11,7,61,66zm-11-6l-61-66,10,6,62,66z /><path class=b108 d=M6183,1768l-61-66,11,6,61,66zm-11-6l-61-66,11,6,61,66zm-11-6l-61-65,11,5,61,66z /><path class=b114 d=M6150,1751l-61-66,11,6,61,65zm-11-6l-61-66,11,6,61,66z /><path class=b120 d=M6128,1740l-61-66,11,5,61,66zm-11-6l-61-66,11,6,61,66zm-11-5l-62-66,12,5,61,66z /><path class=b126 d=M6095,1725l-62-66,11,4,62,66zm-11-4l-62-66,11,4,62,66zm-12-3l-61-67,11,4,62,66z /><path class=b132 d=M6061,1715l-62-66,12,2,61,67zm-11-1l-62-66,11,1,62,66zm-12,0l-62-66,12,0,62,66zm-11,0l-62-66,11,0,62,66zm-12,0l-62-66,12,0,62,66z /><path class=b138 d=M6003,1715l-62-67,12,0,62,66zm-11,0l-62-66,11-1,62,67z /><path class=b139 d=M5980,1717l-62-67,12-1,62,66zm-12,1l-62-66,12-2,62,67zm-12,3l-62-66,12-3,62,66zm-11,3l-63-66,12-3,62,66z /><path class=b140 d=M5933,1729l-63-66,12-5,63,66zm-12,6l-62-67,11-5,63,66zm-12,6l-63-67,13-6,62,67zm-12,6l-63-67,12-6,63,67zm-12,6l-63-67,12-6,63,67zm-13,7l-62-67,12-7,63,67zm-12,6l-62-67,12-6,62,67zm-12,7l-62-67,12-7,62,67zm-12,7l-62-67,12-7,62,67zm-12,7l-62-67,12-7,62,67zm-12,7l-63-67,13-7,62,67zm-13,7l-62-67,12-7,63,67zm-12,8l-62-67,12-8,62,67z /><path class=b141 d=M5775,1816l-62-67,12-7,62,67zm-13,7l-62-67,13-7,62,67zm-12,8l-62-67,12-8,62,67zm-12,8l-62-67,12-8,62,67zm-13,9l-62-67,13-9,62,67z /><path class=b135 d=M5713,1857l-62-67,12-9,62,67zm-13,10l-62-68,13-9,62,67zm-12,9l-62-67,12-10,62,68zm-13,11l-62-68,13-10,62,67zm-12,10l-62-67,12-11,62,68z /><path class=b136 d=M5650,1908l-62-68,13-10,62,67zm-12,11l-62-68,12-11,62,68z /><path class=b130 d=M5625,1930l-62-68,13-11,62,68zm-12,11l-62-68,12-11,62,68zm-13,11l-62-68,13-11,62,68zm-13,11l-62-67,13-12,62,68zm-12,11l-62-67,12-11,62,67z /><path class=b124 d=M5562,1986l-62-68,13-11,62,67zm-13,12l-61-68,12-12,62,68zm-12,12l-62-68,13-12,61,68zm-13,12l-62-68,13-12,62,68zm-13,12l-62-67,13-13,62,68z /><path class=b118 d=M5499,2047l-62-68,12-12,62,67zm-13,13l-62-67,13-14,62,68zm-13,14l-62-68,13-13,62,67zm-13,13l-61-68,12-13,62,68z /><path class=b112 d=M5447,2101l-61-68,13-14,61,68z /><path class=b113 d=M5435,2115l-62-68,13-14,61,68zm-13,14l-62-68,13-14,62,68z /><path class=b107 d=M5409,2144l-62-68,13-15,62,68zm-13,15l-61-69,12-14,62,68zm-13,14l-61-68,13-15,61,69zm-13,16l-61-69,13-15,61,68z /><path class=b101 d=M5357,2204l-61-68,13-16,61,69zm-13,16l-61-69,13-15,61,68zm-12,16l-62-68,13-17,61,69z /><path class=b95 d=M5319,2253l-62-69,13-16,62,68zm-13,17l-61-69,12-17,62,69z /><path class=b89 d=M5293,2287l-61-68,13-18,61,69zm-13,18l-61-69,13-17,61,68zm-13,18l-61-69,13-18,61,69z /><path class=b83 d=M5254,2342l-61-69,13-19,61,69zm-13,18l-61-68,13-19,61,69z /><path class=b77 d=M5228,2380l-61-69,13-19,61,68zm-13,19l-61-69,13-19,61,69z /><path class=b71 d=M5202,2419l-61-69,13-20,61,69zm-13,19l-60-69,12-19,61,69zm-13,21l-60-70,13-20,60,69z /><path class=b65 d=M5163,2479l-60-69,13-21,60,70zm-13,21l-60-69,13-21,60,69z /><path class=b59 d=M5138,2522l-61-69,13-22,60,69z /><path class=b53 d=M5125,2544l-61-70,13-21,61,69zm-13,22l-61-69,13-23,61,70z /><path class=b47 d=M5099,2589l-60-69,12-23,61,69zm-13,23l-60-69,13-23,60,69z /><path class=b41 d=M5073,2636l-60-70,13-23,60,69zm-13,24l-60-70,13-24,60,70z /><path class=b35 d=M5047,2684l-60-70,13-24,60,70z /><path class=b29 d=M5034,2709l-59-70,12-25,60,70zm-12,25l-60-70,13-25,59,70z /><path class=b23 d=M5009,2759l-60-70,13-25,60,70z /><path class=b30 d=M6490,2028l-60-66,10,8,60,65zm-10-9l-60-65,10,8,60,66z /><path class=b36 d=M6471,2011l-61-66,10,9,60,65zm-10-9l-61-66,10,9,61,66z /><path class=b42 d=M6451,1993l-61-66,10,9,61,66zm-10-9l-61-66,10,9,61,66z /><path class=b48 d=M6431,1974l-61-66,10,10,61,66zm-10-9l-61-66,10,9,61,66z /><path class=b54 d=M6411,1956l-61-66,10,9,61,66zm-10-10l-61-66,10,10,61,66z /><path class=b60 d=M6391,1937l-61-66,10,9,61,66zm-10-8l-61-66,10,8,61,66z /><path class=b66 d=M6371,1921l-61-66,10,8,61,66zm-10-8l-62-66,11,8,61,66z /><path class=b72 d=M6350,1905l-61-66,10,8,62,66zm-10-8l-61-66,10,8,61,66z /><path class=b78 d=M6330,1889l-62-66,11,8,61,66zm-11-7l-61-66,10,7,62,66z /><path class=b84 d=M6309,1874l-62-66,11,8,61,66zm-11-7l-61-66,10,7,62,66z /><path class=b90 d=M6288,1860l-62-66,11,7,61,66zm-11-7l-62-66,11,7,62,66z /><path class=b96 d=M6266,1846l-61-66,10,7,62,66zm-10-6l-62-66,11,6,61,66zm-11-6l-62-66,11,6,62,66z /><path class=b102 d=M6234,1828l-62-66,11,6,62,66zm-11-5l-62-67,11,6,62,66z /><path class=b108 d=M6212,1817l-62-66,11,5,62,67zm-11-5l-62-67,11,6,62,66zm-10-6l-63-66,11,5,62,67z /><path class=b114 d=M6179,1801l-62-67,11,6,63,66zm-11-5l-62-67,11,5,62,67z /><path class=b120 d=M6157,1791l-62-66,11,4,62,67zm-11-4l-62-66,11,4,62,66zm-11-3l-63-66,12,3,62,66z /><path class=b126 d=M6124,1782l-63-67,11,3,63,66zm-12-1l-62-67,11,1,63,67zm-11,0l-63-67,12,0,62,67zm-12,0l-62-67,11,0,63,67zm-11,0l-63-67,12,0,62,67z /><path class=b132 d=M6066,1782l-63-67,12-1,63,67zm-12,0l-62-67,11,0,63,67z /><path class=b133 d=M6043,1784l-63-67,12-2,62,67zm-12,1l-63-67,12-1,63,67zm-12,3l-63-67,12-3,63,67zm-12,4l-62-68,11-3,63,67z /><path class=b134 d=M5995,1796l-62-67,12-5,62,68zm-12,6l-62-67,12-6,62,67zm-12,6l-62-67,12-6,62,67zm-12,6l-62-67,12-6,62,67zm-12,6l-62-67,12-6,62,67zm-12,7l-63-67,13-7,62,67zm-12,6l-63-67,12-6,63,67zm-12,7l-63-67,12-7,63,67zm-12,7l-63-67,12-7,63,67zm-13,7l-62-67,12-7,63,67zm-12,7l-62-67,12-7,62,67zm-12,8l-63-68,13-7,62,67zm-12,7l-63-67,12-8,63,68z /><path class=b135 d=M5837,1883l-62-67,12-7,63,67zm-12,8l-63-68,13-7,62,67zm-12,8l-63-68,12-8,63,68zm-13,8l-62-68,12-8,63,68zm-12,9l-63-68,13-9,62,68z /><path class=b129 d=M5776,1925l-63-68,12-9,63,68zm-13,9l-63-67,13-10,63,68zm-12,10l-63-68,12-9,63,67zm-13,11l-63-68,13-11,63,68zm-12,10l-63-68,12-10,63,68z /><path class=b130 d=M5713,1976l-63-68,13-11,63,68zm-13,11l-62-68,12-11,63,68z /><path class=b124 d=M5688,1998l-63-68,13-11,62,68zm-13,11l-62-68,12-11,63,68zm-12,11l-63-68,13-11,62,68zm-13,11l-63-68,13-11,63,68zm-13,12l-62-69,12-11,63,68z /><path class=b118 d=M5625,2054l-63-68,13-12,62,69zm-13,12l-63-68,13-12,63,68zm-13,12l-62-68,12-12,63,68zm-13,12l-62-68,13-12,62,68zm-12,13l-63-69,13-12,62,68z /><path class=b112 d=M5561,2116l-62-69,12-13,63,69zm-13,13l-62-69,13-13,62,69zm-13,13l-62-68,13-14,62,69zm-13,14l-62-69,13-13,62,68z /><path class=b107 d=M5510,2170l-63-69,13-14,62,69zm-13,14l-62-69,12-14,63,69zm-13,14l-62-69,13-14,62,69zm-13,15l-62-69,13-15,62,69z /><path class=b101 d=M5458,2228l-62-69,13-15,62,69zm-13,14l-62-69,13-14,62,69zm-13,16l-62-69,13-16,62,69z /><path class=b95 d=M5419,2273l-62-69,13-15,62,69zm-13,16l-62-69,13-16,62,69zm-13,16l-61-69,12-16,62,69z /><path class=b89 d=M5380,2322l-61-69,13-17,61,69zm-12,17l-62-69,13-17,61,69zm-13,18l-62-70,13-17,62,69z /><path class=b83 d=M5342,2374l-62-69,13-18,62,70zm-13,19l-62-70,13-18,62,69z /><path class=b77 d=M5316,2411l-62-69,13-19,62,70zm-13,19l-62-70,13-18,62,69z /><path class=b71 d=M5290,2449l-62-69,13-20,62,70zm-13,20l-62-70,13-19,62,69zm-13,19l-62-69,13-20,62,70z /><path class=b65 d=M5251,2508l-62-70,13-19,62,69zm-13,20l-62-69,13-21,62,70z /><path class=b59 d=M5225,2549l-62-70,13-20,62,69zm-13,21l-62-70,13-21,62,70z /><path class=b53 d=M5199,2592l-61-70,12-22,62,70zm-13,22l-61-70,13-22,61,70z /><path class=b47 d=M5173,2636l-61-70,13-22,61,70z /><path class=b41 d=M5160,2659l-61-70,13-23,61,70zm-13,23l-61-70,13-23,61,70z /><path class=b35 d=M5134,2706l-61-70,13-24,61,70zm-13,24l-61-70,13-24,61,70z /><path class=b29 d=M5108,2754l-61-70,13-24,61,70z /><path class=b23 d=M5095,2779l-61-70,13-25,61,70zm-13,25l-60-70,12-25,61,70z /><path class=b17 d=M5069,2829l-60-70,13-25,60,70z /><path class=b18 d=M6551,2094l-61-66,10,7,61,67z /><path class=b24 d=M6541,2086l-61-67,10,9,61,66zm-9-9l-61-66,9,8,61,67z /><path class=b30 d=M6522,2068l-61-66,10,9,61,66z /><path class=b36 d=M6512,2059l-61-66,10,9,61,66zm-10-9l-61-66,10,9,61,66z /><path class=b42 d=M6493,2041l-62-67,10,10,61,66zm-10-10l-62-66,10,9,62,67z /><path class=b48 d=M6473,2022l-62-66,10,9,62,66zm-10-9l-62-67,10,10,62,66z /><path class=b54 d=M6453,2004l-62-67,10,9,62,67zm-10-9l-62-66,10,8,62,67z /><path class=b60 d=M6433,1987l-62-66,10,8,62,66zm-11-8l-61-66,10,8,62,66z /><path class=b66 d=M6412,1971l-62-66,11,8,61,66zm-10-7l-62-67,10,8,62,66z /><path class=b72 d=M6392,1956l-62-67,10,8,62,67zm-11-8l-62-66,11,7,62,67z /><path class=b78 d=M6371,1941l-62-67,10,8,62,66zm-11-7l-62-67,11,7,62,67z /><path class=b84 d=M6350,1927l-62-67,10,7,62,67zm-11-7l-62-67,11,7,62,67z /><path class=b90 d=M6329,1913l-63-67,11,7,62,67zm-11-6l-62-67,10,6,63,67zm-11-6l-62-67,11,6,62,67z /><path class=b96 d=M6297,1895l-63-67,11,6,62,67zm-11-5l-63-67,11,5,63,67z /><path class=b102 d=M6275,1884l-63-67,11,6,63,67zm-11-5l-63-67,11,5,63,67zm-11-6l-62-67,10,6,63,67z /><path class=b108 d=M6242,1868l-63-67,12,5,62,67zm-11-5l-63-67,11,5,63,67z /><path class=b114 d=M6220,1859l-63-68,11,5,63,67zm-11-4l-63-68,11,4,63,68zm-11-3l-63-68,11,3,63,68z /><path class=b120 d=M6187,1849l-63-67,11,2,63,68zm-12-1l-63-67,12,1,63,67zm-11,0l-63-67,11,0,63,67zm-12,0l-63-67,12,0,63,67zm-11,1l-63-68,11,0,63,67z /><path class=b126 d=M6129,1849l-63-67,12-1,63,68zm-11,1l-64-68,12,0,63,67z /><path class=b127 d=M6106,1851l-63-67,11-2,64,68zm-12,2l-63-68,12-1,63,67zm-12,3l-63-68,12-3,63,68zm-11,3l-64-67,12-4,63,68z /><path class=b128 d=M6059,1864l-64-68,12-4,64,67zm-12,6l-64-68,12-6,64,68zm-12,6l-64-68,12-6,64,68zm-12,6l-64-68,12-6,64,68zm-12,6l-64-68,12-6,64,68zm-13,7l-63-68,12-7,64,68zm-12,6l-63-68,12-6,63,68zm-12,7l-63-68,12-7,63,68zm-12,7l-63-68,12-7,63,68zm-12,7l-64-68,13-7,63,68zm-12,8l-64-69,12-7,64,68zm-13,7l-63-68,12-8,64,69z /><path class=b129 d=M5913,1944l-63-68,12-7,63,68zm-12,8l-64-69,13-7,63,68zm-13,7l-63-68,12-8,64,69zm-12,8l-63-68,12-8,63,68zm-12,8l-64-68,13-8,63,68zm-13,9l-63-68,12-9,64,68z /><path class=b123 d=M5839,1993l-63-68,12-9,63,68zm-13,10l-63-69,13-9,63,68zm-12,10l-63-69,12-10,63,69zm-13,10l-63-68,13-11,63,69zm-12,11l-63-69,12-10,63,68z /><path class=b124 d=M5776,2044l-63-68,13-11,63,69zm-12,11l-64-68,13-11,63,68z /><path class=b118 d=M5751,2066l-63-68,12-11,64,68zm-13,12l-63-69,13-11,63,68zm-12,11l-63-69,12-11,63,69zm-13,11l-63-69,13-11,63,69zm-13,12l-63-69,13-12,63,69zm-12,11l-63-69,12-11,63,69z /><path class=b112 d=M5675,2135l-63-69,13-12,63,69zm-13,12l-63-69,13-12,63,69zm-13,12l-63-69,13-12,63,69zm-12,13l-63-69,12-13,63,69z /><path class=b106 d=M5624,2185l-63-69,13-13,63,69zm-13,13l-63-69,13-13,63,69zm-13,14l-63-70,13-13,63,69zm-13,13l-63-69,13-14,63,70z /><path class=b101 d=M5572,2239l-62-69,12-14,63,69zm-12,14l-63-69,13-14,62,69zm-13,15l-63-70,13-14,63,69zm-13,14l-63-69,13-15,63,70z /><path class=b95 d=M5521,2297l-63-69,13-15,63,69zm-13,15l-63-70,13-14,63,69zm-13,15l-63-69,13-16,63,70z /><path class=b89 d=M5482,2343l-63-70,13-15,63,69zm-13,16l-63-70,13-16,63,70zm-13,16l-63-70,13-16,63,70z /><path class=b83 d=M5443,2392l-63-70,13-17,63,70zm-13,17l-62-70,12-17,63,70zm-13,18l-62-70,13-18,62,70z /><path class=b77 d=M5404,2444l-62-70,13-17,62,70zm-13,19l-62-70,13-19,62,70z /><path class=b71 d=M5378,2481l-62-70,13-18,62,70zm-13,19l-62-70,13-19,62,70zm-13,19l-62-70,13-19,62,70z /><path class=b65 d=M5339,2539l-62-70,13-20,62,70zm-13,20l-62-71,13-19,62,70z /><path class=b59 d=M5313,2579l-62-71,13-20,62,71zm-14,20l-61-71,13-20,62,71z /><path class=b53 d=M5286,2620l-61-71,13-21,61,71zm-13,21l-61-71,13-21,61,71z /><path class=b47 d=M5260,2662l-61-70,13-22,61,71zm-13,23l-61-71,13-22,61,70z /><path class=b41 d=M5234,2707l-61-71,13-22,61,71zm-13,23l-61-71,13-23,61,71z /><path class=b35 d=M5208,2753l-61-71,13-23,61,71z /><path class=b29 d=M5195,2777l-61-71,13-24,61,71zm-13,24l-61-71,13-24,61,71z /><path class=b23 d=M5169,2826l-61-72,13-24,61,71zm-13,24l-61-71,13-25,61,72z /><path class=b17 d=M5143,2875l-61-71,13-25,61,71z /><path class=b11 d=M5130,2901l-61-72,13-25,61,71z /><path class=b12 d=M6613,2161l-62-67,10,8,61,66z /><path class=b18 d=M6603,2153l-62-67,10,8,62,67zm-10-9l-61-67,9,9,62,67z /><path class=b24 d=M6584,2135l-62-67,10,9,61,67zm-10-9l-62-67,10,9,62,67z /><path class=b30 d=M6564,2117l-62-67,10,9,62,67z /><path class=b36 d=M6554,2108l-61-67,9,9,62,67zm-9-10l-62-67,10,10,61,67z /><path class=b42 d=M6535,2089l-62-67,10,9,62,67zm-10-9l-62-67,10,9,62,67z /><path class=b48 d=M6515,2071l-62-67,10,9,62,67zm-10-8l-62-68,10,9,62,67z /><path class=b54 d=M6495,2054l-62-67,10,8,62,68zm-10-7l-63-68,11,8,62,67z /><path class=b60 d=M6475,2039l-63-68,10,8,63,68zm-11-8l-62-67,10,7,63,68z /><path class=b66 d=M6454,2023l-62-67,10,8,62,67zm-10-7l-63-68,11,8,62,67z /><path class=b72 d=M6434,2008l-63-67,10,7,63,68zm-11-7l-63-67,11,7,63,67z /><path class=b78 d=M6413,1994l-63-67,10,7,63,67zm-11-7l-63-67,11,7,63,67z /><path class=b84 d=M6392,1981l-63-68,10,7,63,67zm-11-6l-63-68,11,6,63,68zm-11-6l-63-68,11,6,63,68z /><path class=b90 d=M6360,1963l-63-68,10,6,63,68zm-11-5l-63-68,11,5,63,68z /><path class=b96 d=M6338,1952l-63-68,11,6,63,68zm-11-5l-63-68,11,5,63,68zm-10-6l-64-68,11,6,63,68z /><path class=b102 d=M6306,1936l-64-68,11,5,64,68zm-11-5l-64-68,11,5,64,68z /><path class=b108 d=M6284,1926l-64-67,11,4,64,68zm-11-3l-64-68,11,4,64,67zm-12-3l-63-68,11,3,64,68zm-11-3l-63-68,11,3,63,68z /><path class=b114 d=M6239,1916l-64-68,12,1,63,68zm-12,0l-63-68,11,0,64,68zm-11,1l-64-69,12,0,63,68zm-12,0l-63-68,11-1,64,69z /><path class=b120 d=M6193,1917l-64-68,12,0,63,68zm-12,1l-63-68,11-1,64,68z /><path class=b121 d=M6170,1919l-64-68,12-1,63,68zm-12,2l-64-68,12-2,64,68zm-12,3l-64-68,12-3,64,68zm-12,4l-63-69,11-3,64,68z /><path class=b122 d=M6123,1932l-64-68,12-5,63,69zm-12,6l-64-68,12-6,64,68zm-12,6l-64-68,12-6,64,68zm-12,6l-64-68,12-6,64,68zm-13,7l-63-69,12-6,64,68zm-12,6l-64-68,13-7,63,69zm-12,7l-64-69,12-6,64,68zm-12,7l-64-69,12-7,64,69zm-12,7l-64-69,12-7,64,69zm-12,7l-64-69,12-7,64,69zm-12,7l-64-68,12-8,64,69zm-13,8l-64-69,13-7,64,68z /><path class=b123 d=M5977,2013l-64-69,12-7,64,69zm-12,8l-64-69,12-8,64,69zm-13,7l-64-69,13-7,64,69zm-12,8l-64-69,12-8,64,69zm-12,8l-64-69,12-8,64,69zm-13,9l-64-69,13-9,64,69z /><path class=b117 d=M5903,2062l-64-69,12-9,64,69zm-13,10l-64-69,13-10,64,69zm-12,10l-64-69,12-10,64,69zm-13,10l-64-69,13-10,64,69zm-12,11l-64-69,12-11,64,69z /><path class=b118 d=M5840,2114l-64-70,13-10,64,69zm-13,11l-63-70,12-11,64,70z /><path class=b112 d=M5815,2136l-64-70,13-11,63,70zm-13,11l-64-69,13-12,64,70zm-13,11l-63-69,12-11,64,69zm-12,12l-64-70,13-11,63,69zm-13,11l-64-69,13-12,64,70zm-13,12l-63-70,12-11,64,69z /><path class=b106 d=M5739,2205l-64-70,13-12,63,70zm-13,12l-64-70,13-12,64,70zm-13,12l-64-70,13-12,64,70zm-13,13l-63-70,12-13,64,70z /><path class=b100 d=M5687,2255l-63-70,13-13,63,70zm-12,13l-64-70,13-13,63,70zm-13,14l-64-70,13-14,64,70zm-13,13l-64-70,13-13,64,70z /><path class=b101 d=M5636,2309l-64-70,13-14,64,70z /><path class=b95 d=M5623,2323l-63-70,12-14,64,70zm-13,15l-63-70,13-15,63,70zm-13,15l-63-71,13-14,63,70z /><path class=b89 d=M5584,2367l-63-70,13-15,63,71zm-13,15l-63-70,13-15,63,70zm-13,16l-63-71,13-15,63,70z /><path class=b83 d=M5545,2413l-63-70,13-16,63,71zm-13,16l-63-70,13-16,63,70zm-13,17l-63-71,13-16,63,70z /><path class=b77 d=M5506,2462l-63-70,13-17,63,71zm-13,18l-63-71,13-17,63,70zm-13,17l-63-70,13-18,63,71z /><path class=b71 d=M5467,2515l-63-71,13-17,63,70zm-13,19l-63-71,13-19,63,71zm-13,18l-63-71,13-18,63,71z /><path class=b65 d=M5428,2571l-63-71,13-19,63,71zm-14,19l-62-71,13-19,63,71z /><path class=b59 d=M5401,2610l-62-71,13-20,62,71zm-13,20l-62-71,13-20,62,71z /><path class=b53 d=M5375,2650l-62-71,13-20,62,71zm-13,20l-63-71,14-20,62,71z /><path class=b47 d=M5349,2691l-63-71,13-21,63,71zm-13,21l-63-71,13-21,63,71z /><path class=b41 d=M5323,2734l-63-72,13-21,63,71zm-14,22l-62-71,13-23,63,72z /><path class=b35 d=M5296,2779l-62-72,13-22,62,71zm-13,23l-62-72,13-23,62,72z /><path class=b29 d=M5270,2825l-62-72,13-23,62,72zm-13,24l-62-72,13-24,62,72z /><path class=b23 d=M5244,2873l-62-72,13-24,62,72z /><path class=b17 d=M5231,2897l-62-71,13-25,62,72zm-13,25l-62-72,13-24,62,71z /><path class=b11 d=M5205,2947l-62-72,13-25,62,72z /><path class=b5 d=M5192,2973l-62-72,13-26,62,72z /><path class=b6 d=M6674,2228l-61-67,9,7,62,68z /><path class=b12 d=M6665,2220l-62-67,10,8,61,67zm-10-8l-62-68,10,9,62,67z /><path class=b18 d=M6646,2203l-62-68,9,9,62,68zm-10-9l-62-68,10,9,62,68z /><path class=b24 d=M6626,2185l-62-68,10,9,62,68zm-9-10l-63-67,10,9,62,68z /><path class=b30 d=M6607,2166l-62-68,9,10,63,67z /><path class=b36 d=M6597,2157l-62-68,10,9,62,68zm-9-9l-63-68,10,9,62,68z /><path class=b42 d=M6578,2139l-63-68,10,9,63,68zm-10-9l-63-67,10,8,63,68z /><path class=b48 d=M6558,2122l-63-68,10,9,63,67zm-10-8l-63-67,10,7,63,68z /><path class=b54 d=M6538,2107l-63-68,10,8,63,67zm-11-8l-63-68,11,8,63,68z /><path class=b60 d=M6517,2091l-63-68,10,8,63,68zm-10-7l-63-68,10,7,63,68z /><path class=b66 d=M6497,2076l-63-68,10,8,63,68zm-11-7l-63-68,11,7,63,68z /><path class=b72 d=M6476,2062l-63-68,10,7,63,68zm-10-7l-64-68,11,7,63,68zm-11-6l-63-68,10,6,64,68z /><path class=b78 d=M6445,2043l-64-68,11,6,63,68zm-11-6l-64-68,11,6,64,68z /><path class=b84 d=M6423,2031l-63-68,10,6,64,68zm-10-5l-64-68,11,5,63,68z /><path class=b90 d=M6402,2020l-64-68,11,6,64,68zm-11-5l-64-68,11,5,64,68zm-11-5l-63-69,10,6,64,68z /><path class=b96 d=M6370,2004l-64-68,11,5,63,69zm-11-5l-64-68,11,5,64,68zm-11-4l-64-69,11,5,64,68z /><path class=b102 d=M6337,1991l-64-68,11,3,64,69zm-11-3l-65-68,12,3,64,68zm-12-2l-64-69,11,3,65,68z /><path class=b108 d=M6303,1985l-64-69,11,1,64,69zm-11,0l-65-69,12,0,64,69zm-12,0l-64-68,11-1,65,69zm-11,0l-65-68,12,0,64,68zm-12,1l-64-69,11,0,65,68z /><path class=b114 d=M6246,1987l-65-69,12-1,64,69z /><path class=b115 d=M6234,1988l-64-69,11-1,65,69zm-12,2l-64-69,12-2,64,69zm-11,3l-65-69,12-3,64,69zm-12,3l-65-68,12-4,65,69z /><path class=b116 d=M6187,2001l-64-69,11-4,65,68zm-12,6l-64-69,12-6,64,69zm-12,6l-64-69,12-6,64,69zm-12,6l-64-69,12-6,64,69zm-12,7l-65-69,13-7,64,69zm-12,6l-65-69,12-6,65,69zm-12,7l-65-69,12-7,65,69zm-12,7l-65-69,12-7,65,69zm-13,7l-64-69,12-7,65,69zm-12,7l-64-69,12-7,64,69zm-12,8l-64-70,12-7,64,69z /><path class=b117 d=M6054,2075l-65-69,13-8,64,70zm-12,8l-65-70,12-7,65,69zm-13,7l-64-69,12-8,65,70zm-12,8l-65-70,13-7,64,69zm-12,8l-65-70,12-8,65,70zm-13,8l-64-70,12-8,65,70zm-12,9l-65-70,13-9,64,70zm-13,9l-64-70,12-9,65,70z /><path class=b111 d=M5955,2142l-65-70,13-10,64,70zm-13,10l-64-70,12-10,65,70zm-12,10l-65-70,13-10,64,70z /><path class=b112 d=M5917,2173l-64-70,12-11,65,70zm-13,11l-64-70,13-11,64,70zm-12,11l-65-70,13-11,64,70z /><path class=b106 d=M5879,2206l-64-70,12-11,65,70zm-12,11l-65-70,13-11,64,70zm-13,12l-65-71,13-11,65,70zm-13,11l-64-70,12-12,65,71zm-13,11l-64-70,13-11,64,70zm-12,12l-65-70,13-12,64,70z /><path class=b100 d=M5803,2275l-64-70,12-12,65,70zm-13,12l-64-70,13-12,64,70zm-13,13l-64-71,13-12,64,70zm-13,12l-64-70,13-13,64,71zm-12,13l-65-70,13-13,64,70z /><path class=b94 d=M5739,2339l-64-71,12-13,65,70zm-13,13l-64-70,13-14,64,71z /><path class=b95 d=M5713,2366l-64-71,13-13,64,70zm-13,14l-64-71,13-14,64,71z /><path class=b89 d=M5687,2394l-64-71,13-14,64,71zm-13,15l-64-71,13-15,64,71zm-13,14l-64-70,13-15,64,71z /><path class=b83 d=M5648,2438l-64-71,13-14,64,70zm-13,15l-64-71,13-15,64,71zm-13,16l-64-71,13-16,64,71zm-13,15l-64-71,13-15,64,71z /><path class=b77 d=M5596,2500l-64-71,13-16,64,71zm-13,17l-64-71,13-17,64,71zm-13,17l-64-72,13-16,64,71z /><path class=b71 d=M5557,2551l-64-71,13-18,64,72zm-13,18l-64-72,13-17,64,71z /><path class=b65 d=M5530,2587l-63-72,13-18,64,72zm-13,18l-63-71,13-19,63,72zm-13,19l-63-72,13-18,63,71z /><path class=b59 d=M5491,2643l-63-72,13-19,63,72zm-13,19l-64-72,14-19,63,72z /><path class=b53 d=M5465,2682l-64-72,13-20,64,72zm-14,19l-63-71,13-20,64,72z /><path class=b47 d=M5438,2722l-63-72,13-20,63,71zm-13,20l-63-72,13-20,63,72z /><path class=b41 d=M5412,2763l-63-72,13-21,63,72zm-13,21l-63-72,13-21,63,72z /><path class=b35 d=M5386,2806l-63-72,13-22,63,72zm-14,22l-63-72,14-22,63,72z /><path class=b29 d=M5359,2851l-63-72,13-23,63,72zm-13,23l-63-72,13-23,63,72z /><path class=b23 d=M5333,2897l-63-72,13-23,63,72zm-13,24l-63-72,13-24,63,72z /><path class=b17 d=M5306,2945l-62-72,13-24,63,72z /><path class=b11 d=M5293,2970l-62-73,13-24,62,72zm-13,25l-62-73,13-25,62,73z /><path class=b5 d=M5267,3020l-62-73,13-25,62,73zm-13,25l-62-72,13-26,62,73z /></g><g class=fr><line x1="5238.8" y1="1250.5" x2="3977.4" y2="512.8"/><line x1="5238.8" y1="1250.5" x2="6816.1" y2="617.6"/><line x1="5238.8" y1="1250.5" x2="5253.9" y2="3056.1"/></g><g class=bx><line x1="487" y1="3811.8" x2="2014.6" y2="3327.9"/><line x1="2014.6" y1="3327.9" x2="3351.7" y2="3917.6"/><line x1="3351.7" y1="3917.6" x2="3213.8" y2="5607.3"/><line x1="3213.8" y1="5607.3" x2="1775.2" y2="6378.4"/><line x1="1775.2" y1="6378.4" x2="619.2" y2="5477.7"/><line x1="619.2" y1="5477.7" x2="487" y2="3811.8"/><g class=ds><line x1="2005.2" y1="4877.9" x2="2014.6" y2="3327.9"/><line x1="2005.2" y1="4877.9" x2="619.2" y2="5477.7"/><line x1="2005.2" y1="4877.9" x2="3213.8" y2="5607.3"/></g></g><g class=sf style="stroke-width:7.2"><path class=c6 d=M2045,4810l-52-23,13,4,51,26zm0,0l-52-23-12-5,51,22zm-13-6l-51-22-13-4,52,19z /><path class=c12 d=M2020,4797l-52-19-13-5,52,18zm-13-6l-52-18-13-4,52,16zm-13-6l-52-16-12-4,51,14z /><path class=c18 d=M1981,4779l-51-14-13-4,52,12zm-12-6l-52-12-13-4,52,11zm-13-5l-52-11-13-4,52,9z /><path class=c24 d=M1943,4762l-52-9-13-4,52,8zm-13-5l-52-8-13-4,52,7zm-13-5l-52-7-13-3,52,5z /><path class=c30 d=M1904,4747l-52-5-13-4,52,4zm-13-5l-52-4-13-3,52,2zm-13-5l-52-2-13-4,52,2z /><path class=c36 d=M1865,4733l-52-2-13-3,51,1zm-14-4l-51-1-13-3,51-1zm-13-5l-51,1-14-3,52-2zm-13-4l-52,2-13-3,52-2z /><path class=c42 d=M1812,4717l-52,2-13-2,51-4zm-14-4l-51,4-14-3,52-5zm-13-4l-52,5-13-2,52-6zm-13-3l-52,6-13-3,51-6z /><path class=c48 d=M1758,4703l-51,6-14-2,52-7zm-13-3l-52,7-13-2,51-8zm-14-3l-51,8-14-2,51-9zm-14-3l-51,9-13-2,51-9z /><path class=c54 d=M1704,4692l-51,9-14-2,51-10zm-14-3l-51,10-14-2,51-10zm-14-2l-51,10-13-1,51-11zm-13-2l-51,11-14-2,51-11z /><path class=c60 d=M1649,4683l-51,11-14-1,51-11zm-14-1l-51,11-14-1,51-12zm-14-2l-51,12-14-1,51-12zm-14-1l-51,12-13-1,51-13zm-13-2l-51,13-14-1,51-13z /><path class=c66 d=M1580,4676l-51,13-14,0,51-13zm-14,0l-51,13-14-1,51-13zm-14-1l-51,13-14,0,51-14zm-14-1l-51,14-14,0,50-14zm-15,0l-50,14-14,0,50-14z /><path class=c72 d=M1509,4674l-50,14-14,0,50-14zm-14,0l-50,14-15,0,51-14zm-14,0l-51,14-14,0,51-13zm-14,1l-51,13-14,1,51-14zm-14,0l-51,14-14,1,50-14zm-15,1l-50,14-14,0,50-13zm-14,1l-50,13-15,1,51-13z /><path class=c78 d=M1410,4678l-51,13-14,1,50-12zm-15,2l-50,12-14,2,50-13zm-14,1l-50,13-15,1,50-13zm-15,1l-50,13-14,2,50-13zm-14,2l-50,13-15,1,50-12zm-15,2l-50,12-14,2,50-12zm-14,2l-50,12-15,2,50-11zm-15,3l-50,11-14,3,50-12zm-14,2l-50,12-15,2,50-11z /><path class=c84 d=M1279,4696l-50,11-14,3,49-11zm-15,3l-49,11-15,2,50-10zm-29,7l-50,9,15-3,50-10zm-15,3l-49,9,14-3,50-9zm-15,4l-49,9,15-4,49-9zm-14,5l-50,7,15-3,49-9zm-15,4l-50,6,15-3,50-7zm-15,4l-49,6,14-4,50-6zm-15,5l-49,5,15-4,49-6zm-15,5l-49,4,15-4,49-5zm-15,6l-49,3,15-5,49-4zm-15,5l-49,2,15-4,49-3zm-14,6l-50,1,15-5,49-2zm-15,6l-50-1,15-4,50-1zm-15,6l-50-2,15-5,50,1z /><path class=c85 d=M1042,4772l-50-3,15-6,50,2zm-15,7l-50-5,15-5,50,3zm-15,7l-50-6,15-6,50,5z /><path class=c86 d=M996,4793l-49-8,15-5,50,6zm-15,8l-49-10,15-6,49,8z /><path class=c87 d=M966,4809l-49-12,15-6,49,10zm-15,8l-49-13,15-7,49,12zm-15,8l-49-15,15-6,49,13z /><path class=c88 d=M921,4834l-50-17,16-7,49,15zm-15,9l-50-19,15-7,50,17zm-15,9l-50-21,15-7,50,19z /><path class=c89 d=M876,4861l-50-23,15-7,50,21zm-16,10l-50-25,16-8,50,23zm-15,10l-50-28,15-7,50,25zm-15,10l-50-30,15-8,50,28zm-15,10l-50-32,15-8,50,30zm-15,11l-51-34,16-9,50,32z /><path class=c83 d=M784,4923l-50-37,15-8,51,34zm-15,11l-50-39,15-9,50,37zm-15,12l-51-42,16-9,50,39zm-15,11l-51-44,15-9,51,42zm-16,12l-51-47,16-9,51,44zm-15,13l-51-50,15-10,51,47zm-15,12l-51-52,15-10,51,50zm-15,13l-52-55,16-10,51,52z /><path class=c77 d=M662,5020l-51-58,15-10,52,55zm-15,13l-52-61,16-10,51,58zm-15,14l-52-64,15-11,52,61z /><path class=c6 d=M2110,4843l-53-26-12-7,52,24zm-13-9l-52-24-13-6,53,21z /><path class=c12 d=M2085,4825l-53-21-12-7,52,20zm-13-8l-52-20-13-6,52,18z /><path class=c18 d=M2059,4809l-52-18-13-6,53,16zm-12-8l-53-16-13-6,53,14zm-13-8l-53-14-12-6,52,13z /><path class=c24 d=M2021,4786l-52-13-13-5,52,11zm-13-7l-52-11-13-6,52,10zm-13-7l-52-10-13-5,52,8z /><path class=c30 d=M1982,4765l-52-8-13-5,52,6zm-13-7l-52-6-13-5,52,5z /><path class=c36 d=M1956,4752l-52-5-13-5,52,4zm-13-6l-52-4-13-5,52,3zm-13-6l-52-3-13-4,52,1z /><path class=c42 d=M1917,4734l-52-1-14-4,53,0zm-13-5l-53,0-13-5,53,0zm-13-5l-53,0-13-4,52-1zm-14-5l-52,1-13-3,52-3z /><path class=c48 d=M1864,4714l-52,3-14-4,53-4zm-13-5l-53,4-13-4,52-4zm-14-4l-52,4-13-3,52-5z /><path class=c54 d=M1824,4701l-52,5-14-3,52-6zm-14-4l-52,6-13-3,52-7zm-13-4l-52,7-14-3,52-8zm-14-4l-52,8-14-3,53-8z /><path class=c60 d=M1770,4686l-53,8-13-2,52-9zm-14-3l-52,9-14-3,52-9zm-14-3l-52,9-14-2,53-10zm-13-3l-53,10-13-2,52-11z /><path class=c66 d=M1715,4674l-52,11-14-2,52-11zm-14-2l-52,11-14-1,52-12zm-14-2l-52,12-14-2,52-12zm-14-2l-52,12-14-1,52-13z /><path class=c72 d=M1659,4666l-52,13-13-2,51-12zm-14-1l-51,12-14-1,51-13zm-14-2l-51,13-14,0,51-14zm-14-1l-51,14-14-1,51-14zm-14-1l-51,14-14-1,51-13z /><path class=c78 d=M1589,4661l-51,13-15,0,52-14zm-14-1l-52,14-14,0,52-14zm-14,0l-52,14-14,0,52-14zm-14,0l-52,14-14,0,51-14zm-15,0l-51,14-14,1,51-14zm-14,1l-51,14-14,0,51-13z /><path class=c84 d=M1504,4662l-51,13-15,1,51-14zm-15,0l-51,14-14,1,51-13zm-14,2l-51,13-14,1,51-13zm-14,1l-51,13-15,2,51-14zm-15,1l-51,14-14,1,51-13zm-14,2l-51,13-15,1,51-12zm-15,2l-51,12-14,2,51-12zm-14,2l-51,12-15,2,51-12z /><path class=c90 d=M1388,4674l-51,12-14,2,51-12zm-14,2l-51,12-15,3,51-12zm-15,3l-51,12-14,2,50-11zm-15,3l-50,11-15,3,51-11zm-29,7l-51,10,15-3,51-11zm-15,3l-50,10,14-3,51-10zm-15,4l-50,10,15-4,50-10zm-14,5l-51,8,15-3,50-10zm-15,4l-51,8,15-4,51-8zm-15,5l-50,8,14-5,51-8zm-15,6l-50,6,15-4,50-8zm-15,5l-50,5,15-4,50-6zm-15,6l-50,4,15-5,50-5zm-14,6l-51,3,15-5,50-4zm-15,6l-51,3,15-6,51-3zm-15,7l-51,1,15-5,51-3zm-15,7l-50,0,14-6,51-1z /><path class=c91 d=M1122,4760l-50-1,15-6,50,0zm-15,8l-50-3,15-6,50,1z /><path class=c92 d=M1092,4776l-50-4,15-7,50,3zm-15,8l-50-5,15-7,50,4zm-15,9l-50-7,15-7,50,5z /><path class=c93 d=M1047,4802l-51-9,16-7,50,7zm-15,9l-51-10,15-8,51,9zm-15,9l-51-11,15-8,51,10z /><path class=c94 d=M1002,4830l-51-13,15-8,51,11zm-16,10l-50-15,15-8,51,13zm-15,11l-50-17,15-9,50,15z /><path class=c95 d=M956,4862l-50-19,15-9,50,17z /><path class=c89 d=M941,4873l-50-21,15-9,50,19zm-15,12l-50-24,15-9,50,21zm-15,11l-51-25,16-10,50,24zm-15,12l-51-27,15-10,51,25zm-15,13l-51-30,15-10,51,27zm-15,13l-51-33,15-10,51,30zm-16,13l-50-35,15-11,51,33z /><path class=c83 d=M835,4960l-51-37,16-11,50,35zm-15,14l-51-40,15-11,51,37zm-15,14l-51-42,15-12,51,40zm-15,14l-51-45,15-11,51,42zm-15,15l-52-48,16-12,51,45z /><path class=c77 d=M760,5032l-52-50,15-13,52,48zm-15,15l-52-53,15-12,52,50zm-15,16l-52-56,15-13,52,53zm-16,16l-52-59,16-13,52,56zm-15,16l-52-62,15-13,52,59z /><path class=c71 d=M684,5111l-52-64,15-14,52,62z /><path class=c6 d=M2163,4869l-53-26-13-9,53,24z /><path class=c12 d=M2150,4858l-53-24-12-9,53,22zm-12-11l-53-22-13-8,53,20z /><path class=c18 d=M2125,4837l-53-20-13-8,53,18zm-13-10l-53-18-12-8,53,16zm-12-10l-53-16-13-8,53,15z /><path class=c24 d=M2087,4808l-53-15-13-7,53,13zm-13-9l-53-13-13-7,53,11z /><path class=c30 d=M2061,4790l-53-11-13-7,54,9zm-12-9l-54-9-13-7,54,8z /><path class=c36 d=M2036,4773l-54-8-13-7,54,7zm-13-8l-54-7-13-6,54,5zm-13-8l-54-5-13-6,54,4z /><path class=c42 d=M1997,4750l-54-4-13-6,54,3zm-13-7l-54-3-13-6,53,2zm-14-7l-53-2-13-5,53,0z /><path class=c48 d=M1957,4729l-53,0-13-5,53-1zm-13-6l-53,1-14-5,54-2z /><path class=c54 d=M1931,4717l-54,2-13-5,53-3zm-14-6l-53,3-13-5,53-4zm-13-6l-53,4-14-4,53-5zm-14-5l-53,5-13-4,53-6z /><path class=c60 d=M1877,4695l-53,6-14-4,53-7zm-14-5l-53,7-13-4,53-7zm-13-4l-53,7-14-4,53-8z /><path class=c66 d=M1836,4681l-53,8-13-3,53-9zm-13-4l-53,9-14-3,53-10zm-14-4l-53,10-14-3,53-10zm-14-3l-53,10-13-3,52-11z /><path class=c72 d=M1781,4666l-52,11-14-3,53-11zm-13-3l-53,11-14-2,53-12zm-14-3l-53,12-14-2,53-12zm-14-2l-53,12-14-2,53-13z /><path class=c78 d=M1726,4655l-53,13-14-2,53-13zm-14-2l-53,13-14-1,53-13zm-14-1l-53,13-14-2,53-13zm-14-2l-53,13-14-1,53-13z /><path class=c84 d=M1670,4649l-53,13-14-1,53-13zm-14-1l-53,13-14,0,53-14zm-14-1l-53,14-14-1,52-14zm-15-1l-52,14-14,0,52-14zm-14,0l-52,14-14,0,52-14zm-14,0l-52,14-15,0,53-14z /><path class=c90 d=M1585,4646l-53,14-14,1,52-14zm-15,1l-52,14-14,1,52-15zm-14,0l-52,15-15,0,53-13zm-14,2l-53,13-14,2,52-14zm-15,1l-52,14-14,1,52-14zm-14,1l-52,14-15,1,52-13zm-15,2l-52,13-14,2,52-13z /><path class=c96 d=M1484,4655l-52,13-15,2,52-13zm-15,2l-52,13-14,2,52-13zm-14,2l-52,13-15,2,52-13zm-15,2l-52,13-14,2,51-12zm-15,3l-51,12-15,3,52-12zm-29,7l-52,11,15-3,52-12zm0,0l-52,11-14,3,51-11zm-30,7l-51,11,15-4,51-11zm-14,5l-52,9,15-3,51-11zm-15,4l-52,9,15-4,52-9zm-15,5l-51,9,14-5,52-9zm-15,6l-51,7,15-4,51-9zm-15,5l-51,7,15-5,51-7zm-15,6l-51,7,15-6,51-7zm-14,7l-52,5,15-5,51-7zm-15,7l-52,4,15-6,52-5zm-15,7l-51,3,14-6,52-4zm-15,7l-51,2,15-6,51-3z /><path class=c97 d=M1203,4745l-51,1,15-7,51-2zm-15,8l-51,0,15-7,51-1z /><path class=c98 d=M1173,4762l-51-2,15-7,51,0zm-15,9l-51-3,15-8,51,2zm-15,9l-51-4,15-8,51,3z /><path class=c99 d=M1128,4790l-51-6,15-8,51,4zm-15,10l-51-7,15-9,51,6zm-15,11l-51-9,15-9,51,7z /><path class=c100 d=M1083,4822l-51-11,15-9,51,9zm-15,11l-51-13,15-9,51,11z /><path class=c95 d=M1053,4844l-51-14,15-10,51,13zm-15,12l-52-16,16-10,51,14zm-16,13l-51-18,15-11,52,16zm-15,13l-51-20,15-11,51,18zm-15,13l-51-22,15-11,51,20zm-15,14l-51-24,15-12,51,22z /><path class=c89 d=M962,4922l-51-26,15-11,51,24zm-15,15l-51-29,15-12,51,26zm-15,15l-51-31,15-13,51,29zm-15,15l-51-33,15-13,51,31zm-15,15l-52-35,16-13,51,33z /><path class=c83 d=M887,4998l-52-38,15-13,52,35zm-15,16l-52-40,15-14,52,38zm-15,17l-52-43,15-14,52,40zm-15,16l-52-45,15-14,52,43z /><path class=c77 d=M827,5065l-52-48,15-15,52,45zm-15,17l-52-50,15-15,52,48zm-15,18l-52-53,15-15,52,50z /><path class=c71 d=M782,5118l-52-55,15-16,52,53zm-15,19l-53-58,16-16,52,55zm-15,19l-53-61,15-16,53,58zm-15,19l-53-64,15-16,53,61z /><path class=c6 d=M2216,4896l-53-27-13-11,54,24z /><path class=c12 d=M2204,4882l-54-24-12-11,53,23z /><path class=c13 d=M2191,4870l-53-23-13-10,54,20z /><path class=c19 d=M2179,4857l-54-20-13-10,54,18zm-13-12l-54-18-12-10,54,17z /><path class=c25 d=M2154,4834l-54-17-13-9,54,14zm-13-12l-54-14-13-9,54,13z /><path class=c31 d=M2128,4812l-54-13-13-9,54,11zm-13-11l-54-11-12-9,54,10z /><path class=c37 d=M2103,4791l-54-10-13-8,54,8zm-13-10l-54-8-13-8,54,7z /><path class=c43 d=M2077,4772l-54-7-13-8,54,5zm-13-10l-54-5-13-7,54,4z /><path class=c49 d=M2051,4754l-54-4-13-7,54,2zm-13-9l-54-2-14-7,54,1zm-14-8l-54-1-13-7,54,0z /><path class=c55 d=M2011,4729l-54,0-13-6,54-1zm-13-7l-54,1-13-6,54-2z /><path class=c61 d=M1985,4715l-54,2-14-6,54-3zm-14-7l-54,3-13-6,54-4zm-13-7l-54,4-14-5,54-5z /><path class=c67 d=M1944,4695l-54,5-13-5,54-6zm-13-6l-54,6-14-5,54-6zm-14-5l-54,6-13-4,54-8z /><path class=c73 d=M1904,4678l-54,8-14-5,54-8z /><path class=c72 d=M1890,4673l-54,8-13-4,54-9zm-13-5l-54,9-14-4,54-9zm-14-4l-54,9-14-3,54-10z /><path class=c78 d=M1849,4660l-54,10-14-4,54-10zm-14-4l-54,10-13-3,53-11zm-14-4l-53,11-14-3,54-11z /><path class=c84 d=M1808,4649l-54,11-14-2,54-12zm-14-3l-54,12-14-3,54-12zm-14-3l-54,12-14-2,54-13zm-14-3l-54,13-14-1,54-14zm-14-2l-54,14-14-2,53-14z /><path class=c90 d=M1737,4636l-53,14-14-1,53-14zm-14-1l-53,14-14-1,53-14zm-14-1l-53,14-14-1,53-14zm-14-1l-53,14-15-1,54-14zm-14-1l-54,14-14,0,53-14z /><path class=c96 d=M1666,4632l-53,14-14,0,53-15zm-14-1l-53,15-14,0,53-14zm-14,1l-53,14-15,1,53-15zm-15,0l-53,15-14,0,53-14zm-14,1l-53,14-14,2,53-15zm-14,1l-53,15-15,1,53-14zm-15,2l-53,14-14,1,53-13z /><path class=c102 d=M1566,4638l-53,13-15,2,53-14zm-15,1l-53,14-14,2,52-14zm-15,2l-52,14-15,2,53-14zm-14,2l-53,14-14,2,52-13zm-15,3l-52,13-15,2,53-12zm-14,3l-53,12-15,3,53-12zm-15,3l-53,12-14,3,52-12zm-30,7l-52,12,15-4,52-12zm-14,4l-53,11,15-3,52-12zm-15,5l-53,10,15-4,53-11zm-15,5l-52,10,14-5,53-10zm-15,5l-52,9,15-4,52-10zm-15,6l-52,8,15-5,52-9zm-15,6l-52,8,15-6,52-8zm-15,7l-52,6,15-5,52-8zm-14,7l-53,5,15-6,52-6zm-15,7l-52,5,14-7,53-5zm-15,8l-52,4,15-7,52-5z /><path class=c103 d=M1285,4727l-52,3,15-7,52-4zm-15,9l-52,1,15-7,52-3zm-15,9l-52,0,15-8,52-1z /><path class=c104 d=M1240,4754l-52-1,15-8,52,0zm-15,10l-52-2,15-9,52,1z /><path class=c105 d=M1210,4774l-52-3,15-9,52,2zm-15,11l-52-5,15-9,52,3z /><path class=c106 d=M1180,4796l-52-6,15-10,52,5zm-15,12l-52-8,15-10,52,6zm-15,12l-52-9,15-11,52,8z /><path class=c101 d=M1134,4833l-51-11,15-11,52,9zm-15,13l-51-13,15-11,51,11zm-15,13l-51-15,15-11,51,13zm-15,14l-51-17,15-12,51,15zm-15,14l-52-18,16-13,51,17z /><path class=c95 d=M1059,4902l-52-20,15-13,52,18zm-15,15l-52-22,15-13,52,20zm-15,16l-52-24,15-14,52,22zm-15,16l-52-27,15-13,52,24z /><path class=c89 d=M999,4966l-52-29,15-15,52,27zm-15,17l-52-31,15-15,52,29zm-15,17l-52-33,15-15,52,31zm-15,18l-52-36,15-15,52,33z /><path class=c83 d=M939,5036l-52-38,15-16,52,36zm-15,19l-52-41,15-16,52,38zm-15,19l-52-43,15-17,52,41z /><path class=c77 d=M894,5093l-52-46,15-16,52,43zm-15,20l-52-48,15-18,52,46zm-15,20l-52-51,15-17,52,48z /><path class=c71 d=M850,5153l-53-53,15-18,52,51zm-15,21l-53-56,15-18,53,53zm-15,21l-53-58,15-19,53,56z /><path class=c65 d=M805,5217l-53-61,15-19,53,58zm-15,22l-53-64,15-19,53,61z /><path class=c13 d=M2270,4922l-54-26-12-14,54,25zm-12-15l-54-25-13-12,55,22z /><path class=c19 d=M2246,4892l-55-22-12-13,54,21z /><path class=c20 d=M2233,4878l-54-21-13-12,55,19z /><path class=c26 d=M2221,4864l-55-19-12-11,54,16zm-13-14l-54-16-13-12,54,15z /><path class=c32 d=M2195,4837l-54-15-13-10,55,13z /><path class=c38 d=M2183,4825l-55-13-13-11,55,12zm-13-12l-55-12-12-10,54,10z /><path class=c44 d=M2157,4801l-54-10-13-10,54,8zm-13-12l-54-8-13-9,54,6z /><path class=c50 d=M2131,4778l-54-6-13-10,54,6zm-13-10l-54-6-13-8,54,4zm-13-10l-54-4-13-9,54,3z /><path class=c56 d=M2092,4748l-54-3-14-8,55,2z /><path class=c55 d=M2079,4739l-55-2-13-8,55,1z /><path class=c61 d=M2066,4730l-55-1-13-7,55-1zm-13-9l-55,1-13-7,54-2z /><path class=c67 d=M2039,4713l-54,2-14-7,55-3zm-13-8l-55,3-13-7,55-4zm-13-8l-55,4-14-6,55-5z /><path class=c73 d=M1999,4690l-55,5-13-6,55-6zm-13-7l-55,6-14-5,55-7zm-14-6l-55,7-13-6,55-7z /><path class=c79 d=M1959,4671l-55,7-14-5,55-8zm-14-6l-55,8-13-5,54-9zm-14-6l-54,9-14-4,55-10z /><path class=c85 d=M1918,4654l-55,10-14-4,55-11zm-14-5l-55,11-14-4,55-11z /><path class=c84 d=M1890,4645l-55,11-14-4,55-11z /><path class=c90 d=M1876,4641l-55,11-13-3,54-12zm-14-4l-54,12-14-3,54-13zm-14-4l-54,13-14-3,54-13zm-14-3l-54,13-14-3,54-13z /><path class=c96 d=M1820,4627l-54,13-14-2,54-13zm-14-2l-54,13-15-2,55-13zm-14-2l-55,13-14-1,55-14zm-14-2l-55,14-14-1,55-15zm-14-2l-55,15-14-1,54-15z /><path class=c102 d=M1749,4618l-54,15-14-1,54-15zm-14-1l-54,15-15,0,55-15zm-14,0l-55,15-14-1,54-14zm-15,0l-54,14-14,1,54-15zm-14,0l-54,15-15,0,55-14zm-14,1l-55,14-14,1,54-14z /><path class=c108 d=M1663,4619l-54,14-14,1,54-14zm-14,1l-54,14-15,2,54-14zm-15,2l-54,14-14,2,53-14zm-15,2l-53,14-15,1,54-13zm-14,2l-54,13-15,2,54-13zm-15,2l-54,13-14,2,54-13zm-14,2l-54,13-15,3,54-13zm-15,3l-54,13-14,3,53-13zm-15,3l-53,13-15,3,53-13z /><path class=c114 d=M1517,4643l-54,12,15-3,53-13zm-15,5l-54,11,15-4,54-12zm-15,5l-53,10,14-4,54-11zm-15,5l-53,10,15-5,53-10zm-15,5l-53,10,15-5,53-10zm-15,6l-53,9,15-5,53-10zm-15,7l-53,8,15-6,53-9zm-15,7l-53,7,15-6,53-8zm-14,7l-54,7,15-7,53-7zm-15,8l-53,6,14-7,54-7zm-15,8l-53,5,15-7,53-6z /><path class=c115 d=M1353,4715l-53,4,15-8,53-5z /><path class=c109 d=M1338,4724l-53,3,15-8,53-4z /><path class=c110 d=M1323,4734l-53,2,15-9,53-3zm-15,10l-53,1,15-9,53-2z /><path class=c111 d=M1292,4755l-52-1,15-9,53-1zm-15,11l-52-2,15-10,52,1zm-15,12l-52-4,15-10,52,2z /><path class=c112 d=M1247,4790l-52-5,15-11,52,4zm-15,13l-52-7,15-11,52,5z /><path class=c107 d=M1217,4816l-52-8,15-12,52,7zm-15,14l-52-10,15-12,52,8zm-15,14l-53-11,16-13,52,10zm-15,15l-53-13,15-13,53,11zm-15,15l-53-15,15-13,53,13z /><path class=c101 d=M1142,4890l-53-17,15-14,53,15zm-15,16l-53-19,15-14,53,17zm-15,17l-53-21,15-15,53,19zm-15,17l-53-23,15-15,53,21z /><path class=c95 d=M1082,4958l-53-25,15-16,53,23zm-15,18l-53-27,15-16,53,25zm-15,19l-53-29,15-17,53,27z /><path class=c89 d=M1037,5014l-53-31,15-17,53,29zm-15,20l-53-34,15-17,53,31zm-15,20l-53-36,15-18,53,34z /><path class=c83 d=M992,5074l-53-38,15-18,53,36zm-15,21l-53-40,15-19,53,38zm-15,22l-53-43,15-19,53,40z /><path class=c77 d=M947,5139l-53-46,15-19,53,43zm-14,22l-54-48,15-20,53,46z /><path class=c71 d=M918,5184l-54-51,15-20,54,48zm-15,23l-53-54,14-20,54,51zm-15,23l-53-56,15-21,53,54z /><path class=c65 d=M873,5254l-53-59,15-21,53,56zm-14,24l-54-61,15-22,53,59z /><path class=c59 d=M844,5303l-54-64,15-22,54,61z /><path class=c14 d=M2325,4950l-55-28-12-15,55,25zm-12-18l-55-25-12-15,55,23z /><path class=c20 d=M2301,4915l-55-23-13-14,55,21z /><path class=c26 d=M2288,4899l-55-21-12-14,55,19z /><path class=c27 d=M2276,4883l-55-19-13-14,55,17z /><path class=c33 d=M2263,4867l-55-17-13-13,56,15z /><path class=c39 d=M2251,4852l-56-15-12-12,55,13z /><path class=c38 d=M2238,4838l-55-13-13-12,55,11z /><path class=c44 d=M2225,4824l-55-11-13-12,56,10zm-12-13l-56-10-13-12,56,9z /><path class=c50 d=M2200,4798l-56-9-13-11,56,7zm-13-13l-56-7-13-10,56,5z /><path class=c56 d=M2174,4773l-56-5-13-10,56,4zm-13-11l-56-4-13-10,56,3z /><path class=c62 d=M2148,4751l-56-3-13-9,56,1zm-13-11l-56-1-13-9,56,0z /><path class=c68 d=M2122,4730l-56,0-13-9,55-1zm-14-10l-55,1-14-8,56-2z /><path class=c74 d=M2095,4711l-56,2-13-8,56-3zm-13-9l-56,3-13-8,55-4zm-14-9l-55,4-14-7,56-5z /><path class=c80 d=M2055,4685l-56,5-13-7,56-6z /><path class=c79 d=M2042,4677l-56,6-14-6,56-7z /><path class=c85 d=M2028,4670l-56,7-13-6,55-8zm-14-7l-55,8-14-6,56-9zm-13-7l-56,9-14-6,56-9z /><path class=c91 d=M1987,4650l-56,9-13-5,55-10zm-14-6l-55,10-14-5,55-10zm-14-5l-55,10-14-4,56-11z /><path class=c97 d=M1946,4634l-56,11-14-4,56-12zm-14-5l-56,12-14-4,56-12z /><path class=c96 d=M1918,4625l-56,12-14-4,56-12zm-14-4l-56,12-14-3,56-13z /><path class=c102 d=M1890,4617l-56,13-14-3,56-13zm-14-3l-56,13-14-2,55-14zm-15-3l-55,14-14-2,55-15zm-14-3l-55,15-14-2,55-15z /><path class=c108 d=M1833,4606l-55,15-14-2,55-14zm-14-1l-55,14-15-1,56-15zm-14-2l-56,15-14-1,55-15zm-15-1l-55,15-14,0,55-15zm-14,0l-55,15-15,0,55-15z /><path class=c114 d=M1761,4602l-55,15-14,0,55-15zm-14,0l-55,15-14,1,55-15zm-14,1l-55,15-15,1,55-15zm-15,1l-55,15-14,1,54-15zm-15,1l-54,15-15,2,55-15zm-14,2l-55,15-15,2,55-15zm-15,2l-55,15-14,2,55-14zm-14,3l-55,14-15,2,55-14z /><path class=c120 d=M1645,4614l-55,14-14,2,54-13zm-15,3l-54,13-15,3,54-13zm-15,3l-54,13-15,3,55-13zm-29,7l-55,12,15-3,55-13zm-15,5l-54,11,14-4,55-12zm-15,4l-54,12,15-5,54-11zm-15,6l-54,11,15-5,54-12zm-15,6l-54,10,15-5,54-11zm-15,6l-54,9,15-5,54-10zm-15,7l-54,8,15-6,54-9zm-15,7l-54,8,15-7,54-8zm-15,8l-54,7,15-7,54-8zm-15,8l-53,6,14-7,54-7z /><path class=c121 d=M1436,4693l-53,5,15-8,53-6zm-15,9l-53,4,15-8,53-5zm-15,10l-53,3,15-9,53-4z /><path class=c116 d=M1391,4722l-53,2,15-9,53-3zm-15,11l-53,1,15-10,53-2z /><path class=c117 d=M1361,4745l-53-1,15-10,53-1zm-15,12l-54-2,16-11,53,1z /><path class=c118 d=M1331,4769l-54-3,15-11,54,2zm-15,14l-54-5,15-12,54,3z /><path class=c119 d=M1301,4796l-54-6,15-12,54,5z /><path class=c113 d=M1286,4811l-54-8,15-13,54,6zm-15,14l-54-9,15-13,54,8zm-15,16l-54-11,15-14,54,9zm-15,16l-54-13,15-14,54,11z /><path class=c107 d=M1225,4873l-53-14,15-15,54,13zm-15,17l-53-16,15-15,53,14zm-15,18l-53-18,15-16,53,16zm-15,18l-53-20,15-16,53,18z /><path class=c101 d=M1165,4945l-53-22,15-17,53,20zm-15,19l-53-24,15-17,53,22zm-15,20l-53-26,15-18,53,24z /><path class=c95 d=M1120,5004l-53-28,15-18,53,26zm-15,21l-53-30,15-19,53,28zm-15,21l-53-32,15-19,53,30z /><path class=c89 d=M1075,5068l-53-34,15-20,53,32zm-15,23l-53-37,15-20,53,34z /><path class=c83 d=M1046,5113l-54-39,15-20,53,37zm-15,24l-54-42,15-21,54,39z /><path class=c77 d=M1016,5161l-54-44,15-22,54,42zm-15,24l-54-46,15-22,54,44zm-15,24l-53-48,14-22,54,46z /><path class=c71 d=M971,5235l-53-51,15-23,53,48zm-14,25l-54-53,15-23,53,51z /><path class=c65 d=M942,5286l-54-56,15-23,54,53zm-15,26l-54-58,15-24,54,56z /><path class=c59 d=M913,5339l-54-61,14-24,54,58z /><path class=c53 d=M898,5366l-54-63,15-25,54,61z /><path class=c15 d=M2380,4977l-55-27-12-18,55,25z /><path class=c21 d=M2368,4957l-55-25-12-17,55,23zm-12-19l-55-23-13-16,56,21z /><path class=c27 d=M2344,4920l-56-21-12-16,56,19z /><path class=c33 d=M2332,4902l-56-19-13-16,56,18zm-13-17l-56-18-12-15,56,16z /><path class=c39 d=M2307,4868l-56-16-13-14,56,14z /><path class=c45 d=M2294,4852l-56-14-13-14,57,12zm-12-16l-57-12-12-13,56,10z /><path class=c51 d=M2269,4821l-56-10-13-13,56,8z /><path class=c57 d=M2256,4806l-56-8-13-13,56,7zm-13-14l-56-7-13-12,56,6z /><path class=c63 d=M2230,4779l-56-6-13-11,57,4zm-12-13l-57-4-13-11,56,2z /><path class=c69 d=M2204,4753l-56-2-13-11,56,2zm-13-11l-56-2-13-10,56,0z /><path class=c75 d=M2178,4730l-56,0-14-10,57-1z /><path class=c74 d=M2165,4719l-57,1-13-9,57-2z /><path class=c80 d=M2152,4709l-57,2-13-9,56-3zm-14-10l-56,3-14-9,57-4z /><path class=c86 d=M2125,4689l-57,4-13-8,57-5zm-13-9l-57,5-13-8,56-6zm-14-9l-56,6-14-7,57-7z /><path class=c92 d=M2085,4663l-57,7-14-7,57-8zm-14-8l-57,8-13-7,56-8z /><path class=c98 d=M2057,4648l-56,8-14-6,57-9z /><path class=c97 d=M2044,4641l-57,9-14-6,57-10zm-14-7l-57,10-14-5,57-11z /><path class=c103 d=M2016,4628l-57,11-13-5,56-11zm-14-5l-56,11-14-5,56-12zm-14-6l-56,12-14-4,56-13zm-14-5l-56,13-14-4,56-13z /><path class=c109 d=M1960,4608l-56,13-14-4,56-13z /><path class=c108 d=M1946,4604l-56,13-14-3,56-14zm-14-4l-56,14-15-3,57-14z /><path class=c114 d=M1918,4597l-57,14-14-3,57-14zm-14-3l-57,14-14-2,56-14zm-15-2l-56,14-14-1,56-15zm-14-2l-56,15-14-2,56-15zm-14-2l-56,15-15-1,56-15z /><path class=c120 d=M1846,4587l-56,15-14,0,56-15zm-14,0l-56,15-15,0,57-15zm-14,0l-57,15-14,0,56-15zm-15,0l-56,15-14,1,56-15zm-14,1l-56,15-15,1,56-15zm-15,1l-56,15-15,1,56-15zm-15,1l-56,15-14,2,56-15z /><path class=c126 d=M1745,4592l-56,15-15,2,56-14zm-15,3l-56,14-14,3,55-15zm-15,2l-55,15-15,2,56-14zm-14,3l-56,14-15,3,56-14zm-15,3l-56,14-15,3,56-14zm-15,3l-56,14-14,3,55-13zm-30,9l-55,12,15-4,55-13zm-15,5l-55,12,15-5,55-12zm-15,5l-55,11,15-4,55-12zm-15,6l-55,11,15-6,55-11zm-14,6l-56,11,15-6,55-11zm-15,7l-56,10,15-6,56-11zm-15,8l-56,9,15-7,56-10zm-16,8l-55,8,15-7,56-9zm-15,9l-55,7,15-8,55-8z /><path class=c127 d=M1506,4678l-55,6,15-8,55-7zm-15,10l-55,5,15-9,55-6z /><path class=c128 d=M1476,4698l-55,4,15-9,55-5zm-15,11l-55,3,15-10,55-4z /><path class=c129 d=M1446,4720l-55,2,15-10,55-3z /><path class=c123 d=M1431,4733l-55,0,15-11,55-2zm-15,12l-55,0,15-12,55,0z /><path class=c124 d=M1401,4759l-55-2,15-12,55,0zm-15,14l-55-4,15-12,55,2z /><path class=c125 d=M1370,4787l-54-4,15-14,55,4z /><path class=c119 d=M1355,4802l-54-6,15-13,54,4zm-15,16l-54-7,15-15,54,6zm-15,17l-54-10,15-14,54,7zm-15,17l-54-11,15-16,54,10z /><path class=c113 d=M1295,4869l-54-12,15-16,54,11zm-15,19l-55-15,16-16,54,12zm-15,19l-55-17,15-17,55,15z /><path class=c107 d=M1250,4926l-55-18,15-18,55,17zm-16,20l-54-20,15-18,55,18zm-15,21l-54-22,15-19,54,20z /><path class=c101 d=M1204,4988l-54-24,15-19,54,22zm-15,22l-54-26,15-20,54,24zm-15,22l-54-28,15-20,54,26z /><path class=c95 d=M1159,5055l-54-30,15-21,54,28zm-15,24l-54-33,15-21,54,30z /><path class=c89 d=M1130,5103l-55-35,15-22,54,33zm-15,25l-55-37,15-23,55,35z /><path class=c83 d=M1100,5153l-54-40,14-22,55,37zm-15,25l-54-41,15-24,54,40z /><path class=c77 d=M1070,5205l-54-44,15-24,54,41zm-15,26l-54-46,15-24,54,44z /><path class=c71 d=M1041,5258l-55-49,15-24,54,46zm-15,28l-55-51,15-26,55,49z /><path class=c65 d=M1011,5314l-54-54,14-25,55,51zm-15,28l-54-56,15-26,54,54z /><path class=c59 d=M982,5371l-55-59,15-26,54,56z /><path class=c53 d=M967,5400l-54-61,14-27,55,59zm-15,30l-54-64,15-27,54,61z /><path class=c16 d=M2436,5005l-56-28-12-20,56,26z /><path class=c22 d=M2424,4983l-56-26-12-19,56,24z /><path class=c28 d=M2412,4962l-56-24-12-18,56,21z /><path class=c34 d=M2400,4941l-56-21-12-18,56,19zm-12-20l-56-19-13-17,57,17z /><path class=c40 d=M2376,4902l-57-17-12-17,57,15z /><path class=c46 d=M2364,4883l-57-15-13-16,57,13zm-13-18l-57-13-12-16,57,12z /><path class=c52 d=M2339,4848l-57-12-13-15,57,10z /><path class=c58 d=M2326,4831l-57-10-13-15,57,9zm-13-16l-57-9-13-14,58,7z /><path class=c64 d=M2301,4799l-58-7-13-13,58,6z /><path class=c70 d=M2288,4785l-58-6-12-13,57,4zm-13-15l-57-4-14-13,58,3z /><path class=c75 d=M2262,4756l-58-3-13-11,58,1zm-13-13l-58-1-13-12,58,0z /><path class=c81 d=M2236,4730l-58,0-13-11,58-1zm-13-12l-58,1-13-10,57-2z /><path class=c87 d=M2209,4707l-57,2-14-10,58-4zm-13-12l-58,4-13-10,58-4z /><path class=c93 d=M2183,4685l-58,4-13-9,57-5z /><path class=c92 d=M2169,4675l-57,5-14-9,58-6z /><path class=c98 d=M2156,4665l-58,6-13-8,57-7zm-14-9l-57,7-14-8,58-8zm-13-9l-58,8-14-7,58-9z /><path class=c104 d=M2115,4639l-58,9-13-7,57-9zm-14-7l-57,9-14-7,57-10zm-14-8l-57,10-14-6,58-11z /><path class=c109 d=M2074,4617l-58,11-14-5,58-12zm-14-6l-58,12-14-6,58-12zm-14-6l-58,12-14-5,58-12z /><path class=c115 d=M2032,4600l-58,12-14-4,58-13zm-14-5l-58,13-14-4,58-14zm-14-5l-58,14-14-4,57-14z /><path class=c120 d=M1989,4586l-57,14-14-3,57-14zm-14-3l-57,14-14-3,57-14zm-14-3l-57,14-15-2,58-15zm-14-3l-58,15-14-2,57-15z /><path class=c126 d=M1932,4575l-57,15-14-2,57-15zm-14-2l-57,15-15-1,58-15zm-14-1l-58,15-14,0,57-16zm-15-1l-57,16-14,0,57-16zm-14,0l-57,16-15,0,57-16zm-15,0l-57,16-14,1,57-16z /><path class=c132 d=M1846,4572l-57,16-15,1,57-16zm-15,1l-57,16-15,1,57-15zm-15,2l-57,15-14,2,57-15zm-14,2l-57,15-15,3,57-15zm-15,3l-57,15-15,2,57-14zm-15,3l-57,14-14,3,56-14zm-15,3l-56,14-15,3,56-14zm-29,7l-57,13,15-3,56-14zm-15,4l-57,13,15-4,57-13zm-15,5l-57,13,15-5,57-13zm-15,5l-57,13,15-5,57-13zm-15,7l-57,11,15-5,57-13zm-15,6l-57,11,15-6,57-11zm-15,7l-56,10,14-6,57-11zm-15,8l-56,9,15-7,56-10zm-15,8l-56,9,15-8,56-9zm-16,9l-56,8,16-8,56-9z /><path class=c133 d=M1577,4662l-56,7,15-9,56-8zm-15,10l-56,6,15-9,56-7z /><path class=c134 d=M1547,4683l-56,5,15-10,56-6zm-15,11l-56,4,15-10,56-5z /><path class=c135 d=M1517,4706l-56,3,15-11,56-4zm-15,13l-56,1,15-11,56-3z /><path class=c130 d=M1486,4732l-55,1,15-13,56-1zm-15,14l-55-1,15-12,55-1z /><path class=c131 d=M1456,4761l-55-2,15-14,55,1zm-15,15l-55-3,15-14,55,2zm-15,16l-56-5,16-14,55,3z /><path class=c125 d=M1411,4809l-56-7,15-15,56,5zm-16,18l-55-9,15-16,56,7zm-15,18l-55-10,15-17,55,9z /><path class=c119 d=M1365,4863l-55-11,15-17,55,10zm-15,20l-55-14,15-17,55,11zm-15,20l-55-15,15-19,55,14z /><path class=c113 d=M1320,4923l-55-16,15-19,55,15zm-15,22l-55-19,15-19,55,16zm-16,22l-55-21,16-20,55,19z /><path class=c107 d=M1274,4989l-55-22,15-21,55,21zm-15,24l-55-25,15-21,55,22z /><path class=c101 d=M1244,5037l-55-27,15-22,55,25zm-15,24l-55-29,15-22,55,27z /><path class=c95 d=M1214,5086l-55-31,15-23,55,29zm-15,26l-55-33,15-24,55,31z /><path class=c89 d=M1184,5138l-54-35,14-24,55,33zm-15,27l-54-37,15-25,54,35z /><path class=c83 d=M1155,5193l-55-40,15-25,54,37zm-15,28l-55-43,15-25,55,40z /><path class=c77 d=M1125,5249l-55-44,15-27,55,43zm-15,29l-55-47,15-26,55,44z /><path class=c71 d=M1095,5308l-54-50,14-27,55,47z /><path class=c65 d=M1081,5337l-55-51,15-28,54,50zm-15,31l-55-54,15-28,55,51z /><path class=c59 d=M1051,5399l-55-57,15-28,55,54z /><path class=c53 d=M1037,5430l-55-59,14-29,55,57zm-15,32l-55-62,15-29,55,59z /><path class=c47 d=M1008,5494l-56-64,15-30,55,62z /><path class=c17 d=M2493,5033l-57-28-12-22,57,26z /><path class=c23 d=M2481,5009l-57-26-12-21,57,23z /><path class=c29 d=M2469,4985l-57-23-12-21,58,22z /><path class=c35 d=M2458,4963l-58-22-12-20,57,20z /><path class=c41 d=M2445,4941l-57-20-12-19,57,18zm-12-21l-57-18-12-19,57,16z /><path class=c47 d=M2421,4899l-57-16-13-18,58,14z /><path class=c53 d=M2409,4879l-58-14-12-17,57,12z /><path class=c59 d=M2396,4860l-57-12-13-17,58,11zm-12-18l-58-11-13-16,58,9z /><path class=c65 d=M2371,4824l-58-9-12-16,58,8z /><path class=c71 d=M2359,4807l-58-8-13-14,58,5z /><path class=c70 d=M2346,4790l-58-5-13-15,58,4z /><path class=c76 d=M2333,4774l-58-4-13-14,58,3z /><path class=c82 d=M2320,4759l-58-3-13-13,58,2zm-13-14l-58-2-13-13,58,1z /><path class=c88 d=M2294,4731l-58-1-13-12,58-1zm-13-14l-58,1-14-11,59-3z /><path class=c93 d=M2268,4704l-59,3-13-12,58-3zm-14-12l-58,3-13-10,58-4z /><path class=c99 d=M2241,4681l-58,4-14-10,59-5zm-13-11l-59,5-13-10,58-6z /><path class=c105 d=M2214,4659l-58,6-14-9,59-7zm-13-10l-59,7-13-9,58-7z /><path class=c110 d=M2187,4640l-58,7-14-8,58-8zm-14-9l-58,8-14-7,59-10zm-13-9l-59,10-14-8,59-10z /><path class=c116 d=M2146,4614l-59,10-13-7,58-11zm-14-8l-58,11-14-6,58-12zm-14-7l-58,12-14-6,58-12z /><path class=c121 d=M2104,4593l-58,12-14-5,58-13zm-14-6l-58,13-14-5,58-13zm-14-5l-58,13-14-5,58-13z /><path class=c127 d=M2062,4577l-58,13-15-4,59-14zm-14-5l-59,14-14-3,59-15z /><path class=c126 d=M2034,4568l-59,15-14-3,58-15zm-15-3l-58,15-14-3,58-15z /><path class=c132 d=M2005,4562l-58,15-15-2,59-15zm-14-2l-59,15-14-2,58-15zm-15-2l-58,15-14-1,58-16zm-14-2l-58,16-15-1,58-15zm-15,0l-58,15-14,0,58-16z /><path class=c138 d=M1933,4555l-58,16-15,0,58-15zm-15,1l-58,15-14,1,58-16zm-14,0l-58,16-15,1,58-15zm-15,2l-58,15-15,2,58-15zm-15,2l-58,15-14,2,57-15zm-15,2l-57,15-15,3,58-15zm-14,3l-58,15-15,3,58-15zm-15,3l-58,15-15,3,58-15z /><path class=c144 d=M1815,4571l-58,15-15,3,58-14zm-30,8l-57,14,14-4,58-14zm-15,5l-57,13,15-4,57-14zm-15,5l-57,13,15-5,57-13zm-15,6l-57,12,15-5,57-13zm-15,7l-57,12,15-7,57-12zm-15,7l-57,11,15-6,57-12zm-15,8l-57,10,15-7,57-11zm-15,9l-57,9,15-8,57-10zm-15,9l-57,8,15-8,57-9z /><path class=c139 d=M1649,4645l-57,7,16-9,57-8zm-15,10l-57,7,15-10,57-7z /><path class=c140 d=M1619,4666l-57,6,15-10,57-7zm-15,12l-57,5,15-11,57-6z /><path class=c141 d=M1589,4690l-57,4,15-11,57-5zm-16,14l-56,2,15-12,57-4z /><path class=c142 d=M1558,4718l-56,1,15-13,56-2z /><path class=c136 d=M1543,4732l-57,0,16-13,56-1z /><path class=c137 d=M1528,4748l-57-2,15-14,57,0zm-16,16l-56-3,15-15,57,2zm-15,16l-56-4,15-15,56,3z /><path class=c131 d=M1482,4798l-56-6,15-16,56,4zm-15,18l-56-7,15-17,56,6zm-15,19l-57-8,16-18,56,7z /><path class=c125 d=M1436,4855l-56-10,15-18,57,8zm-15,20l-56-12,15-18,56,10zm-15,21l-56-13,15-20,56,12z /><path class=c119 d=M1391,4918l-56-15,15-20,56,13zm-15,23l-56-18,15-20,56,15zm-16,23l-55-19,15-22,56,18z /><path class=c113 d=M1345,4988l-56-21,16-22,55,19zm-15,25l-56-24,15-22,56,21z /><path class=c107 d=M1315,5038l-56-25,15-24,56,24zm-15,26l-56-27,15-24,56,25z /><path class=c101 d=M1285,5091l-56-30,15-24,56,27zm-15,27l-56-32,15-25,56,30z /><path class=c95 d=M1255,5146l-56-34,15-26,56,32z /><path class=c89 d=M1240,5174l-56-36,15-26,56,34zm-15,29l-56-38,15-27,56,36z /><path class=c83 d=M1210,5233l-55-40,14-28,56,38zm-15,30l-55-42,15-28,55,40z /><path class=c77 d=M1180,5294l-55-45,15-28,55,42z /><path class=c71 d=M1166,5325l-56-47,15-29,55,45zm-15,32l-56-49,15-30,56,47z /><path class=c65 d=M1136,5389l-55-52,14-29,56,49z /><path class=c59 d=M1122,5422l-56-54,15-31,55,52zm-15,33l-56-56,15-31,56,54z /><path class=c53 d=M1092,5489l-55-59,14-31,56,56z /><path class=c47 d=M1078,5523l-56-61,15-32,55,59z /><path class=c41 d=M1063,5558l-55-64,14-32,56,61z /><path class=c23 d=M2551,5061l-58-28-12-24,58,26zm-12-26l-58-26-12-24,58,24z /><path class=c29 d=M2527,5009l-58-24-11-22,57,22z /><path class=c35 d=M2515,4985l-57-22-13-22,59,20z /><path class=c41 d=M2504,4961l-59-20-12-21,58,17z /><path class=c47 d=M2491,4937l-58-17-12-21,58,16z /><path class=c53 d=M2479,4915l-58-16-12-20,58,14z /><path class=c59 d=M2467,4893l-58-14-13-19,59,12zm-12-21l-59-12-12-18,58,10z /><path class=c65 d=M2442,4852l-58-10-13-18,59,9z /><path class=c71 d=M2430,4833l-59-9-12-17,58,7z /><path class=c77 d=M2417,4814l-58-7-13-17,59,6zm-12-18l-59-6-13-16,59,5z /><path class=c83 d=M2392,4779l-59-5-13-15,59,3zm-13-17l-59-3-13-14,59,1z /><path class=c89 d=M2366,4746l-59-1-13-14,59,0z /><path class=c94 d=M2353,4731l-59,0-13-14,59-1zm-13-15l-59,1-13-13,59-2z /><path class=c100 d=M2327,4702l-59,2-14-12,60-3zm-13-13l-60,3-13-11,60-5z /><path class=c106 d=M2301,4676l-60,5-13-11,59-6z /><path class=c105 d=M2287,4664l-59,6-14-11,60-6z /><path class=c111 d=M2274,4653l-60,6-13-10,59-7zm-14-11l-59,7-14-9,60-9z /><path class=c117 d=M2247,4631l-60,9-14-9,60-9zm-14-9l-60,9-13-9,59-10z /><path class=c123 d=M2219,4612l-59,10-14-8,60-10z /><path class=c122 d=M2206,4604l-60,10-14-8,60-11zm-14-9l-60,11-14-7,60-11z /><path class=c128 d=M2178,4588l-60,11-14-6,60-12zm-14-7l-60,12-14-6,60-13z /><path class=c127 d=M2150,4574l-60,13-14-5,60-14z /><path class=c133 d=M2136,4568l-60,14-14-5,60-14zm-14-5l-60,14-14-5,59-14zm-15-5l-59,14-14-4,59-15z /><path class=c139 d=M2093,4553l-59,15-15-3,60-15z /><path class=c138 d=M2079,4550l-60,15-14-3,59-15zm-15-3l-59,15-14-2,59-16zm-14-3l-59,16-15-2,60-16zm-14-2l-60,16-14-2,59-16z /><path class=c144 d=M2021,4540l-59,16-15,0,60-16zm-14,0l-60,16-14-1,59-16zm-15-1l-59,16-15,1,59-16zm-15,1l-59,16-14,0,59-16zm-14,0l-59,16-15,2,59-16zm-15,2l-59,16-15,2,59-16z /><path class=c150 d=M1933,4544l-59,16-15,2,59-15zm-15,3l-59,15-14,3,58-15zm-15,3l-58,15-15,3,59-15zm-14,3l-59,15-15,3,59-14zm-30,8l-59,14,15-4,59-14zm-15,4l-59,14,15-4,59-14zm-15,6l-59,13,15-5,59-14zm-15,6l-59,12,15-5,59-13zm-15,6l-59,12,15-6,59-12zm-16,7l-58,12,15-7,59-12zm-15,8l-58,11,15-7,58-12zm-15,9l-58,10,15-8,58-11zm-15,9l-58,10,15-9,58-10z /><path class=c151 d=M1723,4626l-58,9,15-9,58-10zm-16,11l-58,8,16-10,58-9z /><path class=c146 d=M1692,4648l-58,7,15-10,58-8zm-15,12l-58,6,15-11,58-7z /><path class=c147 d=M1662,4673l-58,5,15-12,58-6zm-16,14l-57,3,15-12,58-5z /><path class=c148 d=M1631,4701l-58,3,16-14,57-3zm-15,15l-58,2,15-14,58-3z /><path class=c143 d=M1600,4732l-57,0,15-14,58-2zm-15,17l-57-1,15-16,57,0zm-15,18l-58-3,16-16,57,1zm-16,18l-57-5,15-16,58,3z /><path class=c137 d=M1539,4804l-57-6,15-18,57,5zm-15,20l-57-8,15-18,57,6zm-15,20l-57-9,15-19,57,8z /><path class=c131 d=M1493,4866l-57-11,16-20,57,9zm-15,22l-57-13,15-20,57,11z /><path class=c125 d=M1463,4911l-57-15,15-21,57,13zm-16,23l-56-16,15-22,57,15z /><path class=c119 d=M1432,4959l-56-18,15-23,56,16zm-15,25l-57-20,16-23,56,18zm-15,26l-57-22,15-24,57,20z /><path class=c113 d=M1387,5036l-57-23,15-25,57,22z /><path class=c107 d=M1372,5064l-57-26,15-25,57,23zm-16,28l-56-28,15-26,57,26z /><path class=c101 d=M1341,5120l-56-29,15-27,56,28zm-15,30l-56-32,15-27,56,29z /><path class=c95 d=M1311,5180l-56-34,15-28,56,32zm-15,31l-56-37,15-28,56,34z /><path class=c89 d=M1281,5242l-56-39,15-29,56,37z /><path class=c83 d=M1266,5274l-56-41,15-30,56,39zm-15,32l-56-43,15-30,56,41z /><path class=c77 d=M1237,5339l-57-45,15-31,56,43z /><path class=c71 d=M1222,5373l-56-48,14-31,57,45z /><path class=c65 d=M1207,5407l-56-50,15-32,56,48zm-15,35l-56-53,15-32,56,50z /><path class=c59 d=M1178,5477l-56-55,14-33,56,53z /><path class=c53 d=M1163,5512l-56-57,15-33,56,55z /><path class=c47 d=M1148,5548l-56-59,15-34,56,57zm-14,37l-56-62,14-34,56,59z /><path class=c41 d=M1119,5622l-56-64,15-35,56,62z /><path class=c23 d=M2609,5090l-58-29-12-26,58,27z /><path class=c29 d=M2597,5062l-58-27-12-26,59,25z /><path class=c35 d=M2586,5034l-59-25-12-24,59,22z /><path class=c41 d=M2574,5007l-59-22-11-24,58,20z /><path class=c47 d=M2562,4981l-58-20-13-24,59,19z /><path class=c53 d=M2550,4956l-59-19-12-22,60,16zm-11-25l-60-16-12-22,59,15z /><path class=c59 d=M2526,4908l-59-15-12-21,59,13z /><path class=c65 d=M2514,4885l-59-13-13-20,60,11z /><path class=c71 d=M2502,4863l-60-11-12-19,60,9z /><path class=c77 d=M2490,4842l-60-9-13-19,60,7zm-13-21l-60-7-12-18,60,6z /><path class=c83 d=M2465,4802l-60-6-13-17,60,4z /><path class=c89 d=M2452,4783l-60-4-13-17,60,3zm-13-18l-60-3-13-16,60,2z /><path class=c95 d=M2426,4748l-60-2-13-15,60,0z /><path class=c101 d=M2413,4731l-60,0-13-15,60-1zm-13-16l-60,1-13-14,60-2z /><path class=c107 d=M2387,4700l-60,2-13-13,60-3z /><path class=c106 d=M2374,4686l-60,3-13-13,60-4z /><path class=c112 d=M2361,4672l-60,4-14-12,61-5zm-13-13l-61,5-13-11,60-7z /><path class=c118 d=M2334,4646l-60,7-14-11,61-8zm-13-12l-61,8-13-11,60-8z /><path class=c123 d=M2307,4623l-60,8-14-9,61-10zm-13-11l-61,10-14-10,61-10z /><path class=c129 d=M2280,4602l-61,10-13-8,60-11zm-14-9l-60,11-14-9,60-11z /><path class=c134 d=M2252,4584l-60,11-14-7,60-12zm-14-8l-60,12-14-7,60-13zm-14-8l-60,13-14-7,60-13z /><path class=c140 d=M2210,4561l-60,13-14-6,60-14z /><path class=c139 d=M2196,4554l-60,14-14-5,60-15zm-14-6l-60,15-15-5,61-15z /><path class=c145 d=M2168,4543l-61,15-14-5,61-15zm-14-5l-61,15-14-3,60-16z /><path class=c144 d=M2139,4534l-60,16-15-3,61-16zm-14-3l-61,16-14-3,61-16z /><path class=c150 d=M2111,4528l-61,16-14-2,60-16zm-15-2l-60,16-15-2,61-16zm-14-2l-61,16-14,0,60-17zm-15-1l-60,17-15-1,60-16zm-15,0l-60,16-15,1,61-17z /><path class=c156 d=M2038,4523l-61,17-14,0,60-16zm-15,1l-60,16-15,2,60-16zm-15,2l-60,16-15,2,60-16zm-15,2l-60,16-15,3,60-16zm-15,3l-60,16-15,3,60-16zm-15,3l-60,16-14,3,59-15zm-29,8l-60,15,15-4,59-15zm-16,4l-59,15,15-4,60-15zm-15,5l-59,14,15-4,59-15zm-15,6l-59,14,15-6,59-14zm-15,7l-59,13,15-6,59-14zm-15,7l-59,12,15-6,59-13zm-15,8l-60,11,16-7,59-12zm-15,8l-60,11,15-8,60-11zm-16,10l-59,10,15-9,60-11z /><path class=c157 d=M1797,4607l-59,9,15-9,59-10zm-15,11l-59,8,15-10,59-9z /><path class=c158 d=M1766,4629l-59,8,16-11,59-8zm-15,13l-59,6,15-11,59-8z /><path class=c153 d=M1736,4655l-59,5,15-12,59-6zm-16,14l-58,4,15-13,59-5z /><path class=c154 d=M1705,4684l-59,3,16-14,58-4z /><path class=c155 d=M1690,4699l-59,2,15-14,59-3zm-16,17l-58,0,15-15,59-2z /><path class=c149 d=M1659,4733l-59-1,16-16,58,0zm-15,18l-59-2,15-17,59,1zm-16,19l-58-3,15-18,59,2z /><path class=c143 d=M1613,4790l-59-5,16-18,58,3zm-16,20l-58-6,15-19,59,5zm-15,22l-58-8,15-20,58,6z /><path class=c137 d=M1567,4854l-58-10,15-20,58,8zm-16,23l-58-11,16-22,58,10z /><path class=c131 d=M1536,4901l-58-13,15-22,58,11zm-16,24l-57-14,15-23,58,13zm-15,26l-58-17,16-23,57,14z /><path class=c125 d=M1490,4977l-58-18,15-25,58,17zm-15,27l-58-20,15-25,58,18z /><path class=c119 d=M1459,5032l-57-22,15-26,58,20z /><path class=c113 d=M1444,5061l-57-25,15-26,57,22zm-15,29l-57-26,15-28,57,25z /><path class=c107 d=M1414,5120l-58-28,16-28,57,26zm-15,31l-58-31,15-28,58,28z /><path class=c101 d=M1383,5182l-57-32,15-30,58,31z /><path class=c95 d=M1368,5215l-57-35,15-30,57,32zm-15,32l-57-36,15-31,57,35z /><path class=c89 d=M1338,5281l-57-39,15-31,57,36z /><path class=c83 d=M1323,5315l-57-41,15-32,57,39zm-15,35l-57-44,15-32,57,41z /><path class=c77 d=M1294,5385l-57-46,14-33,57,44z /><path class=c71 d=M1279,5421l-57-48,15-34,57,46z /><path class=c65 d=M1264,5457l-57-50,15-34,57,48z /><path class=c59 d=M1249,5494l-57-52,15-35,57,50zm-15,38l-56-55,14-35,57,52z /><path class=c53 d=M1220,5570l-57-58,15-35,56,55z /><path class=c47 d=M1205,5608l-57-60,15-36,57,58z /><path class=c41 d=M1190,5647l-56-62,14-37,57,60z /><path class=c35 d=M1176,5686l-57-64,15-37,56,62z /><path class=c23 d=M2667,5119l-58-29-12-28,59,26z /><path class=c29 d=M2656,5088l-59-26-11-28,59,24z /><path class=c35 d=M2645,5058l-59-24-12-27,60,22z /><path class=c41 d=M2634,5029l-60-22-12-26,60,20z /><path class=c47 d=M2622,5001l-60-20-12-25,60,18z /><path class=c53 d=M2610,4974l-60-18-11-25,59,17z /><path class=c59 d=M2598,4948l-59-17-13-23,61,14z /><path class=c65 d=M2587,4922l-61-14-12-23,61,13z /><path class=c71 d=M2575,4898l-61-13-12-22,60,11z /><path class=c77 d=M2562,4874l-60-11-12-21,60,9zm-12-23l-60-9-13-21,61,8z /><path class=c83 d=M2538,4829l-61-8-12-19,60,6z /><path class=c89 d=M2525,4808l-60-6-13-19,61,5z /><path class=c95 d=M2513,4788l-61-5-13-18,61,3zm-13-20l-61-3-13-17,61,1z /><path class=c101 d=M2487,4749l-61-1-13-17,62,1z /><path class=c107 d=M2475,4732l-62-1-13-16,62-1zm-13-18l-62,1-13-15,62-2z /><path class=c113 d=M2449,4698l-62,2-13-14,62-4zm-13-16l-62,4-13-14,61-5z /><path class=c119 d=M2422,4667l-61,5-13-13,61-6z /><path class=c124 d=M2409,4653l-61,6-14-13,62-6zm-13-13l-62,6-13-12,61-7z /><path class=c130 d=M2382,4627l-61,7-14-11,62-8zm-13-12l-62,8-13-11,61-9z /><path class=c135 d=M2355,4603l-61,9-14-10,62-10zm-13-11l-62,10-14-9,62-11zm-14-10l-62,11-14-9,62-12z /><path class=c141 d=M2314,4572l-62,12-14-8,62-13zm-14-9l-62,13-14-8,62-13z /><path class=c146 d=M2286,4555l-62,13-14-7,62-14zm-14-8l-62,14-14-7,62-14zm-14-7l-62,14-14-6,62-14z /><path class=c151 d=M2244,4534l-62,14-14-5,62-15zm-14-6l-62,15-14-5,61-15zm-15-5l-61,15-15-4,62-15z /><path class=c157 d=M2201,4519l-62,15-14-3,62-16z /><path class=c156 d=M2187,4515l-62,16-14-3,61-16zm-15-3l-61,16-15-2,62-17zm-14-3l-62,17-14-2,61-16zm-15-1l-61,16-15-1,61-16z /><path class=c162 d=M2128,4507l-61,16-15,0,62-17zm-14-1l-62,17-14,0,61-16zm-15,1l-61,16-15,1,61-16zm-15,1l-61,16-15,2,61-17zm-15,1l-61,17-15,2,61-16zm-15,3l-61,16-15,3,62-16zm-14,3l-62,16-15,3,62-16zm-30,7l-62,16,15-4,62-16zm-16,4l-60,16,14-4,62-16zm-15,5l-61,15,16-4,60-16z /><path class=c168 d=M1964,4537l-61,14,15-5,61-15zm-15,6l-61,14,15-6,61-14zm-15,7l-61,14,15-7,61-14z /><path class=c162 d=M1919,4558l-61,13,15-7,61-14zm-16,9l-60,12,15-8,61-13zm-15,9l-60,11,15-8,60-12z /><path class=c163 d=M1873,4587l-61,10,16-10,60-11zm-16,10l-60,10,15-10,61-10z /><path class=c164 d=M1842,4609l-60,9,15-11,60-10zm-15,13l-61,7,16-11,60-9z /><path class=c165 d=M1811,4635l-60,7,15-13,61-7zm-15,14l-60,6,15-13,60-7z /><path class=c160 d=M1780,4665l-60,4,16-14,60-6z /><path class=c161 d=M1765,4681l-60,3,15-15,60-4zm-16,16l-59,2,15-15,60-3zm-15,18l-60,1,16-17,59-2z /><path class=c155 d=M1718,4734l-59-1,15-17,60-1zm-15,19l-59-2,15-18,59,1zm-16,20l-59-3,16-19,59,2z /><path class=c149 d=M1672,4795l-59-5,15-20,59,3zm-16,22l-59-7,16-20,59,5zm-15,23l-59-8,15-22,59,7z /><path class=c143 d=M1625,4864l-58-10,15-22,59,8zm-15,24l-59-11,16-23,58,10z /><path class=c137 d=M1595,4914l-59-13,15-24,59,11zm-16,26l-59-15,16-24,59,13z /><path class=c131 d=M1564,4968l-59-17,15-26,59,15zm-16,28l-58-19,15-26,59,17z /><path class=c125 d=M1533,5025l-58-21,15-27,58,19z /><path class=c119 d=M1518,5055l-59-23,16-28,58,21zm-16,30l-58-24,15-29,59,23z /><path class=c113 d=M1487,5117l-58-27,15-29,58,24zm-15,32l-58-29,15-30,58,27z /><path class=c107 d=M1457,5182l-58-31,15-31,58,29z /><path class=c101 d=M1441,5215l-58-33,16-31,58,31z /><path class=c95 d=M1426,5250l-58-35,15-33,58,33zm-15,35l-58-38,15-32,58,35z /><path class=c89 d=M1396,5321l-58-40,15-34,58,38z /><path class=c83 d=M1381,5357l-58-42,15-34,58,40z /><path class=c77 d=M1366,5394l-58-44,15-35,58,42zm-15,37l-57-46,14-35,58,44z /><path class=c71 d=M1336,5470l-57-49,15-36,57,46z /><path class=c65 d=M1321,5508l-57-51,15-36,57,49z /><path class=c59 d=M1306,5547l-57-53,15-37,57,51z /><path class=c53 d=M1292,5587l-58-55,15-38,57,53z /><path class=c47 d=M1277,5627l-57-57,14-38,58,55z /><path class=c41 d=M1262,5668l-57-60,15-38,57,57zm-14,41l-58-62,15-39,57,60z /><path class=c35 d=M1233,5750l-57-64,14-39,58,62z /><path class=c23 d=M2727,5149l-60-30-11-31,60,28z /><path class=c29 d=M2716,5116l-60-28-11-30,60,25z /><path class=c35 d=M2705,5083l-60-25-11-29,60,23z /><path class=c41 d=M2694,5052l-60-23-12-28,60,21z /><path class=c47 d=M2682,5022l-60-21-12-27,61,19z /><path class=c59 d=M2671,4993l-61-19-12-26,61,16zm-12-29l-61-16-11-26,61,15z /><path class=c65 d=M2648,4937l-61-15-12-24,61,12z /><path class=c71 d=M2636,4910l-61-12-13-24,62,11z /><path class=c77 d=M2624,4885l-62-11-12-23,62,9z /><path class=c83 d=M2612,4860l-62-9-12-22,61,8z /><path class=c89 d=M2599,4837l-61-8-13-21,62,6z /><path class=c95 d=M2587,4814l-62-6-12-20,62,4zm-12-22l-62-4-13-20,62,3z /><path class=c101 d=M2562,4771l-62-3-13-19,62,2z /><path class=c107 d=M2549,4751l-62-2-12-17,62,0z /><path class=c113 d=M2537,4732l-62,0-13-18,62-1zm-13-19l-62,1-13-16,62-2z /><path class=c119 d=M2511,4696l-62,2-13-16,62-3z /><path class=c125 d=M2498,4679l-62,3-14-15,63-4zm-13-16l-63,4-13-14,63-5z /><path class=c131 d=M2472,4648l-63,5-13-13,62-7zm-14-15l-62,7-14-13,63-8z /><path class=c136 d=M2445,4619l-63,8-13-12,62-9zm-14-13l-62,9-14-12,63-9z /><path class=c142 d=M2418,4594l-63,9-13-11,62-10zm-14-12l-62,10-14-10,63-11z /><path class=c147 d=M2391,4571l-63,11-14-10,63-11zm-14-10l-63,11-14-9,63-12z /><path class=c153 d=M2363,4551l-63,12-14-8,63-13zm-14-9l-63,13-14-8,63-13z /><path class=c152 d=M2335,4534l-63,13-14-7,63-14z /><path class=c158 d=M2321,4526l-63,14-14-6,63-15zm-14-7l-63,15-14-6,62-15z /><path class=c157 d=M2292,4513l-62,15-15-5,63-16z /><path class=c163 d=M2278,4507l-63,16-14-4,63-16zm-14-4l-63,16-14-4,62-16z /><path class=c162 d=M2249,4499l-62,16-15-3,63-17zm-14-4l-63,17-14-3,62-16z /><path class=c168 d=M2220,4493l-62,16-15-1,63-17zm-14-2l-63,17-15-1,63-17zm-15-1l-63,17-14-1,62-17zm-15-1l-62,17-15,1,62-17zm-15,1l-62,17-15,1,63-17zm-14,1l-63,17-15,1,63-17z /><path class=c174 d=M2132,4492l-63,17-15,3,63-17zm-15,3l-63,17-14,3,62-17zm-15,3l-62,17-15,3,62-16zm-30,8l-62,16,15-4,62-16zm-15,5l-63,15,16-4,62-16zm-16,5l-62,15,15-5,63-15zm-15,7l-62,14,15-6,62-15zm-15,6l-62,14,15-6,62-14zm-15,8l-62,13,15-7,62-14zm-16,9l-61,12,15-8,62-13zm-15,9l-62,12,16-9,61-12z /><path class=c175 d=M1950,4565l-62,11,15-9,62-12zm-16,11l-61,11,15-11,62-11z /><path class=c170 d=M1919,4588l-62,9,16-10,61-11zm-16,13l-61,8,15-12,62-9z /><path class=c171 d=M1888,4614l-61,8,15-13,61-8zm-16,15l-61,6,16-13,61-8z /><path class=c172 d=M1857,4644l-61,5,15-14,61-6z /><path class=c167 d=M1841,4660l-61,5,16-16,61-5zm-15,18l-61,3,15-16,61-5zm-16,18l-61,1,16-16,61-3zm-16,19l-60,0,15-18,61-1z /><path class=c161 d=M1779,4735l-61-1,16-19,60,0zm-16,20l-60-2,15-19,61,1zm-15,22l-61-4,16-20,60,2z /><path class=c155 d=M1732,4800l-60-5,15-22,61,4zm-15,24l-61-7,16-22,60,5z /><path class=c149 d=M1701,4848l-60-8,15-23,61,7zm-16,26l-60-10,16-24,60,8z /><path class=c143 d=M1670,4900l-60-12,15-24,60,10zm-16,28l-59-14,15-26,60,12z /><path class=c137 d=M1639,4956l-60-16,16-26,59,14zm-16,29l-59-17,15-28,60,16z /><path class=c131 d=M1608,5015l-60-19,16-28,59,17zm-16,31l-59-21,15-29,60,19z /><path class=c125 d=M1577,5078l-59-23,15-30,59,21z /><path class=c119 d=M1561,5111l-59-26,16-30,59,23zm-15,33l-59-27,15-32,59,26z /><path class=c113 d=M1531,5178l-59-29,15-32,59,27z /><path class=c107 d=M1515,5213l-58-31,15-33,59,29z /><path class=c101 d=M1500,5249l-59-34,16-33,58,31zm-15,37l-59-36,15-35,59,34z /><path class=c95 d=M1470,5323l-59-38,15-35,59,36z /><path class=c89 d=M1455,5361l-59-40,15-36,59,38z /><path class=c83 d=M1439,5399l-58-42,15-36,59,40z /><path class=c77 d=M1424,5438l-58-44,15-37,58,42zm-15,40l-58-47,15-37,58,44z /><path class=c71 d=M1394,5519l-58-49,15-39,58,47z /><path class=c65 d=M1379,5560l-58-52,15-38,58,49z /><path class=c59 d=M1365,5601l-59-54,15-39,58,52z /><path class=c53 d=M1350,5643l-58-56,14-40,59,54z /><path class=c47 d=M1335,5685l-58-58,15-40,58,56z /><path class=c41 d=M1320,5728l-58-60,15-41,58,58z /><path class=c35 d=M1305,5771l-57-62,14-41,58,60z /><path class=c29 d=M1291,5815l-58-65,15-41,57,62z /><path class=c23 d=M2787,5179l-60-30-11-33,61,27z /><path class=c35 d=M2777,5143l-61-27-11-33,61,26z /><path class=c41 d=M2766,5109l-61-26-11-31,61,23z /><path class=c47 d=M2755,5075l-61-23-12-30,62,21z /><path class=c53 d=M2744,5043l-62-21-11-29,61,18z /><path class=c59 d=M2732,5011l-61-18-12-29,62,17z /><path class=c65 d=M2721,4981l-62-17-11-27,61,15z /><path class=c71 d=M2709,4952l-61-15-12-27,62,13z /><path class=c77 d=M2698,4923l-62-13-12-25,62,11z /><path class=c83 d=M2686,4896l-62-11-12-25,62,10z /><path class=c89 d=M2674,4870l-62-10-13-23,63,8z /><path class=c95 d=M2662,4845l-63-8-12-23,63,6z /><path class=c101 d=M2650,4820l-63-6-12-22,62,5zm-13-23l-62-5-13-21,63,3z /><path class=c107 d=M2625,4774l-63-3-13-20,64,2z /><path class=c113 d=M2613,4753l-64-2-12-19,63,0z /><path class=c119 d=M2600,4732l-63,0-13-19,63-1zm-13-20l-63,1-13-17,63-3z /><path class=c125 d=M2574,4693l-63,3-13-17,63-4z /><path class=c131 d=M2561,4675l-63,4-13-16,63-5zm-13-17l-63,5-13-15,63-6z /><path class=c137 d=M2535,4642l-63,6-14-15,64-7zm-13-16l-64,7-13-14,64-8z /><path class=c143 d=M2509,4611l-64,8-14-13,64-9zm-14-14l-64,9-13-12,64-10z /><path class=c148 d=M2482,4584l-64,10-14-12,64-10zm-14-12l-64,10-13-11,63-11z /><path class=c154 d=M2454,4560l-63,11-14-10,64-12z /><path class=c153 d=M2441,4549l-64,12-14-10,64-13z /><path class=c159 d=M2427,4538l-64,13-14-9,64-13zm-14-9l-64,13-14-8,64-14z /><path class=c165 d=M2399,4520l-64,14-14-8,64-14z /><path class=c164 d=M2385,4512l-64,14-14-7,64-15zm-14-8l-64,15-15-6,64-16z /><path class=c170 d=M2356,4497l-64,16-14-6,64-15z /><path class=c169 d=M2342,4492l-64,15-14-4,64-17zm-14-6l-64,17-15-4,64-17zm-15-4l-64,17-14-4,64-16z /><path class=c174 d=M2299,4479l-64,16-15-2,64-17zm-15-3l-64,17-14-2,64-17zm-14-2l-64,17-15-1,64-17zm-15-1l-64,17-15-1,64-17z /><path class=c180 d=M2240,4472l-64,17-15,1,64-18zm-15,0l-64,18-14,1,63-18zm-15,1l-63,18-15,1,63-17zm-15,2l-63,17-15,3,63-17zm-15,3l-63,17-15,3,63-17zm-30,8l-63,16,15-4,63-17zm-15,4l-63,16,15-4,63-16zm-15,5l-63,16,15-5,63-16zm-15,6l-64,15,16-5,63-16zm-16,7l-63,15,15-7,64-15zm-15,7l-63,14,15-6,63-15zm-15,9l-63,13,15-8,63-14zm-16,9l-63,13,16-9,63-13zm-15,10l-63,12,15-9,63-13z /><path class=c181 d=M2012,4554l-62,11,15-10,63-12z /><path class=c182 d=M1997,4566l-63,10,16-11,62-11zm-16,13l-62,9,15-12,63-10z /><path class=c177 d=M1966,4592l-63,9,16-13,62-9zm-16,15l-62,7,15-13,63-9z /><path class=c178 d=M1935,4622l-63,7,16-15,62-7z /><path class=c179 d=M1919,4639l-62,5,15-15,63-7zm-16,17l-62,4,16-16,62-5z /><path class=c173 d=M1888,4675l-62,3,15-18,62-4zm-16,19l-62,2,16-18,62-3zm-16,20l-62,1,16-19,62-2z /><path class=c167 d=M1840,4736l-61-1,15-20,62-1zm-15,22l-62-3,16-20,61,1z /><path class=c161 d=M1809,4781l-61-4,15-22,62,3zm-16,25l-61-6,16-23,61,4zm-15,25l-61-7,15-24,61,6z /><path class=c155 d=M1762,4857l-61-9,16-24,61,7zm-16,28l-61-11,16-26,61,9z /><path class=c149 d=M1731,4913l-61-13,15-26,61,11z /><path class=c143 d=M1715,4942l-61-14,16-28,61,13zm-16,30l-60-16,15-28,61,14z /><path class=c137 d=M1684,5003l-61-18,16-29,60,16zm-16,32l-60-20,15-30,61,18z /><path class=c131 d=M1653,5068l-61-22,16-31,60,20z /><path class=c125 d=M1637,5102l-60-24,15-32,61,22zm-16,34l-60-25,16-33,60,24z /><path class=c119 d=M1606,5172l-60-28,15-33,60,25z /><path class=c113 d=M1591,5208l-60-30,15-34,60,28z /><path class=c107 d=M1575,5245l-60-32,16-35,60,30zm-15,38l-60-34,15-36,60,32z /><path class=c101 d=M1544,5322l-59-36,15-37,60,34z /><path class=c95 d=M1529,5361l-59-38,15-37,59,36z /><path class=c89 d=M1514,5401l-59-40,15-38,59,38z /><path class=c83 d=M1499,5442l-60-43,16-38,59,40z /><path class=c77 d=M1483,5484l-59-46,15-39,60,43z /><path class=c71 d=M1468,5526l-59-48,15-40,59,46z /><path class=c65 d=M1453,5568l-59-49,15-41,59,48zm-15,43l-59-51,15-41,59,49z /><path class=c59 d=M1423,5655l-58-54,14-41,59,51z /><path class=c53 d=M1408,5699l-58-56,15-42,58,54z /><path class=c47 d=M1393,5744l-58-59,15-42,58,56z /><path class=c41 d=M1379,5789l-59-61,15-43,58,59z /><path class=c29 d=M1364,5834l-59-63,15-43,59,61z /><path class=c23 d=M1349,5880l-58-65,14-44,59,63z /><path class=c29 d=M2848,5209l-61-30-10-36,61,28z /><path class=c35 d=M2838,5171l-61-28-11-34,61,25z /><path class=c41 d=M2827,5134l-61-25-11-34,62,24z /><path class=c47 d=M2817,5099l-62-24-11-32,62,21z /><path class=c53 d=M2806,5064l-62-21-12-32,63,20z /><path class=c65 d=M2795,5031l-63-20-11-30,62,17z /><path class=c71 d=M2783,4998l-62-17-12-29,63,15z /><path class=c77 d=M2772,4967l-63-15-11-29,63,14z /><path class=c83 d=M2761,4937l-63-14-12-27,63,12z /><path class=c89 d=M2749,4908l-63-12-12-26,63,9z /><path class=c95 d=M2737,4879l-63-9-12-25,63,7zm-12-27l-63-7-12-25,63,6z /><path class=c101 d=M2713,4826l-63-6-13-23,64,4z /><path class=c107 d=M2701,4801l-64-4-12-23,64,3z /><path class=c113 d=M2689,4777l-64-3-12-21,64,1z /><path class=c119 d=M2677,4754l-64-1-13-21,64,0z /><path class=c125 d=M2664,4732l-64,0-13-20,64-1zm-13-21l-64,1-13-19,65-2z /><path class=c131 d=M2639,4691l-65,2-13-18,65-3z /><path class=c137 d=M2626,4672l-65,3-13-17,65-4zm-13-18l-65,4-13-16,65-6z /><path class=c143 d=M2600,4636l-65,6-13-16,65-7z /><path class=c149 d=M2587,4619l-65,7-13-15,64-7zm-14-15l-64,7-14-14,65-8z /><path class=c155 d=M2560,4589l-65,8-13-13,65-10zm-13-15l-65,10-14-12,65-11z /><path class=c160 d=M2533,4561l-65,11-14-12,65-12zm-14-13l-65,12-13-11,65-13z /><path class=c166 d=M2506,4536l-65,13-14-11,65-13z /><path class=c165 d=M2492,4525l-65,13-14-9,65-14z /><path class=c171 d=M2478,4515l-65,14-14-9,65-15zm-14-10l-65,15-14-8,65-15z /><path class=c170 d=M2450,4497l-65,15-14-8,65-15z /><path class=c176 d=M2436,4489l-65,15-15-7,66-15zm-14-7l-66,15-14-5,65-17z /><path class=c175 d=M2407,4475l-65,17-14-6,65-16z /><path class=c181 d=M2393,4470l-65,16-15-4,65-17zm-15-5l-65,17-14-3,65-18z /><path class=c180 d=M2364,4461l-65,18-15-3,65-18zm-15-3l-65,18-14-2,65-18z /><path class=c186 d=M2335,4456l-65,18-15-1,65-18zm-15-1l-65,18-15-1,65-18zm-15-1l-65,18-15,0,65-17zm-15,1l-65,17-15,1,65-17zm-15,1l-65,17-15,2,65-17zm-15,2l-65,17-15,3,65-17zm-15,3l-65,17-15,3,65-17zm-30,8l-65,17,15-5,65-17zm-15,5l-65,16,15-4,65-17zm-16,5l-64,16,15-5,65-16zm-15,7l-64,15,15-6,64-16zm-15,7l-65,15,16-7,64-15zm-16,8l-64,14,15-7,65-15zm-15,9l-64,14,15-9,64-14zm-16,10l-64,13,16-9,64-14z /><path class=c187 d=M2092,4531l-64,12,15-10,64-13zm-16,12l-64,11,16-11,64-12z /><path class=c188 d=M2061,4555l-64,11,15-12,64-11z /><path class=c189 d=M2045,4569l-64,10,16-13,64-11zm-16,15l-63,8,15-13,64-10z /><path class=c184 d=M2014,4599l-64,8,16-15,63-8zm-16,17l-63,6,15-15,64-8z /><path class=c185 d=M1982,4634l-63,5,16-17,63-6zm-16,18l-63,4,16-17,63-5z /><path class=c179 d=M1951,4672l-63,3,15-19,63-4zm-16,21l-63,1,16-19,63-3zm-16,21l-63,0,16-20,63-1z /><path class=c173 d=M1903,4737l-63-1,16-22,63,0zm-16,24l-62-3,15-22,63,1z /><path class=c167 d=M1871,4786l-62-5,16-23,62,3zm-15,26l-63-6,16-25,62,5z /><path class=c161 d=M1840,4839l-62-8,15-25,63,6zm-16,28l-62-10,16-26,62,8z /><path class=c155 d=M1808,4896l-62-11,16-28,62,10zm-16,30l-61-13,15-28,62,11z /><path class=c149 d=M1777,4957l-62-15,16-29,61,13zm-16,31l-62-16,16-30,62,15z /><path class=c143 d=M1745,5021l-61-18,15-31,62,16z /><path class=c137 d=M1729,5055l-61-20,16-32,61,18zm-15,35l-61-22,15-33,61,20z /><path class=c131 d=M1698,5126l-61-24,16-34,61,22z /><path class=c125 d=M1682,5163l-61-27,16-34,61,24z /><path class=c119 d=M1667,5200l-61-28,15-36,61,27z /><path class=c113 d=M1651,5239l-60-31,15-36,61,28zm-15,39l-61-33,16-37,60,31z /><path class=c107 d=M1620,5318l-60-35,15-38,61,33z /><path class=c101 d=M1605,5359l-61-37,16-39,60,35z /><path class=c95 d=M1589,5400l-60-39,15-39,61,37z /><path class=c89 d=M1574,5443l-60-42,15-40,60,39z /><path class=c83 d=M1559,5486l-60-44,15-41,60,42z /><path class=c77 d=M1543,5529l-60-45,16-42,60,44z /><path class=c71 d=M1528,5573l-60-47,15-42,60,45z /><path class=c65 d=M1513,5618l-60-50,15-42,60,47z /><path class=c59 d=M1498,5664l-60-53,15-43,60,50z /><path class=c53 d=M1483,5709l-60-54,15-44,60,53z /><path class=c47 d=M1468,5756l-60-57,15-44,60,54z /><path class=c41 d=M1453,5803l-60-59,15-45,60,57z /><path class=c35 d=M1438,5850l-59-61,14-45,60,59z /><path class=c29 d=M1423,5898l-59-64,15-45,59,61z /><path class=c23 d=M1408,5946l-59-66,15-46,59,64z /><path class=c29 d=M2910,5240l-62-31-10-38,62,28z /><path class=c35 d=M2900,5199l-62-28-11-37,63,26z /><path class=c41 d=M2890,5160l-63-26-10-35,62,23z /><path class=c53 d=M2879,5122l-62-23-11-35,63,22z /><path class=c59 d=M2869,5086l-63-22-11-33,63,19z /><path class=c65 d=M2858,5050l-63-19-12-33,64,17z /><path class=c71 d=M2847,5015l-64-17-11-31,64,15z /><path class=c77 d=M2836,4982l-64-15-11-30,63,13z /><path class=c83 d=M2824,4950l-63-13-12-29,64,11z /><path class=c89 d=M2813,4919l-64-11-12-29,65,10z /><path class=c95 d=M2802,4889l-65-10-12-27,65,8z /><path class=c101 d=M2790,4860l-65-8-12-26,65,7z /><path class=c107 d=M2778,4833l-65-7-12-25,65,5z /><path class=c113 d=M2766,4806l-65-5-12-24,65,4z /><path class=c119 d=M2754,4781l-65-4-12-23,65,2z /><path class=c125 d=M2742,4756l-65-2-13-22,65,1z /><path class=c131 d=M2729,4733l-65-1-13-21,66-1zm-12-23l-66,1-12-20,65-2z /><path class=c137 d=M2704,4689l-65,2-13-19,66-4z /><path class=c143 d=M2692,4668l-66,4-13-18,66-5zm-13-19l-66,5-13-18,66-6z /><path class=c149 d=M2666,4630l-66,6-13-17,66-7z /><path class=c155 d=M2653,4612l-66,7-14-15,66-8zm-14-16l-66,8-13-15,66-9z /><path class=c161 d=M2626,4580l-66,9-13-15,66-10zm-13-16l-66,10-14-13,66-11z /><path class=c167 d=M2599,4550l-66,11-14-13,67-11z /><path class=c166 d=M2586,4537l-67,11-13-12,66-12z /><path class=c172 d=M2572,4524l-66,12-14-11,66-13zm-14-12l-66,13-14-10,66-14z /><path class=c177 d=M2544,4501l-66,14-14-10,66-14zm-14-10l-66,14-14-8,66-15z /><path class=c183 d=M2516,4482l-66,15-14-8,66-16z /><path class=c182 d=M2502,4473l-66,16-14-7,66-16zm-14-7l-66,16-15-7,67-16z /><path class=c188 d=M2474,4459l-67,16-14-5,66-17z /><path class=c187 d=M2459,4453l-66,17-15-5,67-17zm-14-5l-67,17-14-4,66-17z /><path class=c186 d=M2430,4444l-66,17-15-3,67-17z /><path class=c192 d=M2416,4441l-67,17-14-2,66-18zm-15-3l-66,18-15-1,66-18zm-15-1l-66,18-15-1,66-18zm-15-1l-66,18-15,1,66-18zm-15,1l-66,18-15,1,66-18z /><path class=c198 d=M2341,4438l-66,18-15,2,66-18zm-15,2l-66,18-15,3,66-18zm-15,3l-66,18-15,3,66-17zm-30,9l-66,17,15-5,66-17zm-16,5l-65,17,15-5,66-17zm-15,6l-66,16,16-5,65-17zm-15,7l-66,16,15-7,66-16zm-16,8l-65,15,15-7,66-16zm-15,9l-66,14,16-8,65-15zm-16,9l-65,14,15-9,66-14z /><path class=c199 d=M2173,4507l-66,13,16-10,65-14z /><path class=c193 d=M2157,4519l-65,12,15-11,66-13z /><path class=c194 d=M2141,4531l-65,12,16-12,65-12zm-15,14l-65,10,15-12,65-12z /><path class=c195 d=M2110,4560l-65,9,16-14,65-10z /><path class=c196 d=M2094,4575l-65,9,16-15,65-9zm-16,17l-64,7,15-15,65-9z /><path class=c191 d=M2062,4610l-64,6,16-17,64-7zm-15,18l-65,6,16-18,64-6zm-16,20l-65,4,16-18,65-6z /><path class=c185 d=M2015,4669l-64,3,15-20,65-4zm-16,22l-64,2,16-21,64-3zm-16,23l-64,0,16-21,64-2z /><path class=c179 d=M1967,4739l-64-2,16-23,64,0zm-16,25l-64-3,16-24,64,2z /><path class=c173 d=M1935,4790l-64-4,16-25,64,3zm-16,28l-63-6,15-26,64,4z /><path class=c167 d=M1903,4846l-63-7,16-27,63,6zm-16,30l-63-9,16-28,63,7z /><path class=c161 d=M1871,4907l-63-11,16-29,63,9z /><path class=c155 d=M1855,4939l-63-13,16-30,63,11zm-16,32l-62-14,15-31,63,13z /><path class=c149 d=M1823,5005l-62-17,16-31,62,14z /><path class=c143 d=M1807,5040l-62-19,16-33,62,17zm-15,36l-63-21,16-34,62,19z /><path class=c137 d=M1776,5113l-62-23,15-35,63,21z /><path class=c131 d=M1760,5151l-62-25,16-36,62,23z /><path class=c125 d=M1744,5189l-62-26,16-37,62,25zm-16,40l-61-29,15-37,62,26z /><path class=c119 d=M1713,5269l-62-30,16-39,61,29z /><path class=c113 d=M1697,5311l-61-33,15-39,62,30z /><path class=c107 d=M1681,5353l-61-35,16-40,61,33z /><path class=c101 d=M1666,5396l-61-37,15-41,61,35z /><path class=c95 d=M1650,5440l-61-40,16-41,61,37z /><path class=c89 d=M1635,5484l-61-41,15-43,61,40z /><path class=c83 d=M1619,5530l-60-44,15-43,61,41z /><path class=c77 d=M1604,5575l-61-46,16-43,60,44z /><path class=c71 d=M1589,5622l-61-49,15-44,61,46z /><path class=c65 d=M1573,5669l-60-51,15-45,61,49z /><path class=c59 d=M1558,5716l-60-52,15-46,60,51z /><path class=c53 d=M1543,5765l-60-56,15-45,60,52z /><path class=c47 d=M1528,5813l-60-57,15-47,60,56z /><path class=c41 d=M1513,5862l-60-59,15-47,60,57z /><path class=c35 d=M1498,5912l-60-62,15-47,60,59z /><path class=c23 d=M1483,5961l-60-63,15-48,60,62z /><path class=c17 d=M1468,6012l-60-66,15-48,60,63z /><path class=c29 d=M2973,5271l-63-31-10-41,63,29z /><path class=c35 d=M2963,5228l-63-29-10-39,63,26z /><path class=c47 d=M2953,5186l-63-26-11-38,64,24z /><path class=c53 d=M2943,5146l-64-24-10-36,63,21z /><path class=c59 d=M2932,5107l-63-21-11-36,64,20z /><path class=c71 d=M2922,5070l-64-20-11-35,64,18z /><path class=c77 d=M2911,5033l-64-18-11-33,64,16z /><path class=c83 d=M2900,4998l-64-16-12-32,65,14z /><path class=c89 d=M2889,4964l-65-14-11-31,65,12z /><path class=c95 d=M2878,4931l-65-12-11-30,65,10z /><path class=c101 d=M2867,4899l-65-10-12-29,65,9z /><path class=c107 d=M2855,4869l-65-9-12-27,66,6z /><path class=c113 d=M2844,4839l-66-6-12-27,66,5z /><path class=c119 d=M2832,4811l-66-5-12-25,66,3z /><path class=c125 d=M2820,4784l-66-3-12-25,66,2z /><path class=c131 d=M2808,4758l-66-2-13-23,67,0z /><path class=c137 d=M2796,4733l-67,0-12-23,66-1zm-13-24l-66,1-13-21,67-3z /><path class=c143 d=M2771,4686l-67,3-12-21,66-3z /><path class=c149 d=M2758,4665l-66,3-13-19,67-5z /><path class=c155 d=M2746,4644l-67,5-13-19,67-6zm-13-20l-67,6-13-18,67-7z /><path class=c161 d=M2720,4605l-67,7-14-16,68-9zm-13-18l-68,9-13-16,67-10z /><path class=c167 d=M2693,4570l-67,10-13-16,67-10z /><path class=c173 d=M2680,4554l-67,10-14-14,68-11zm-13-15l-68,11-13-13,67-12z /><path class=c179 d=M2653,4525l-67,12-14-13,68-13zm-13-14l-68,13-14-12,68-13z /><path class=c184 d=M2626,4499l-68,13-14-11,68-14zm-14-12l-68,14-14-10,68-15z /><path class=c189 d=M2598,4476l-68,15-14-9,68-16zm-14-10l-68,16-14-9,68-16zm-14-9l-68,16-14-7,68-17z /><path class=c194 d=M2556,4449l-68,17-14-7,67-17zm-15-7l-67,17-15-6,68-17z /><path class=c193 d=M2527,4436l-68,17-14-5,67-17z /><path class=c199 d=M2512,4431l-67,17-15-4,68-18zm-14-5l-68,18-14-3,67-18z /><path class=c198 d=M2483,4423l-67,18-15-3,68-18zm-14-3l-68,18-15-1,68-18zm-15-1l-68,18-15-1,68-18z /><path class=c204 d=M2439,4418l-68,18-15,1,68-19zm-15,0l-68,19-15,1,68-18zm-15,2l-68,18-15,2,68-18zm-15,2l-68,18-15,3,67-18zm-16,3l-67,18-15,4,67-18zm-30,9l-67,18,15-5,67-18zm-15,6l-68,17,16-5,67-18zm-16,7l-67,16,15-6,68-17zm-15,7l-67,16,15-7,67-16zm-16,8l-67,16,16-8,67-16zm-15,10l-67,15,15-9,67-16zm-16,10l-67,14,16-9,67-15z /><path class=c205 d=M2239,4494l-66,13,15-11,67-14z /><path class=c206 d=M2223,4506l-66,13,16-12,66-13zm-15,14l-67,11,16-12,66-13z /><path class=c201 d=M2192,4534l-66,11,15-14,67-11z /><path class=c202 d=M2176,4550l-66,10,16-15,66-11zm-16,17l-66,8,16-15,66-10z /><path class=c203 d=M2144,4584l-66,8,16-17,66-8z /><path class=c197 d=M2128,4603l-66,7,16-18,66-8zm-16,20l-65,5,15-18,66-7zm-16,21l-65,4,16-20,65-5z /><path class=c191 d=M2080,4667l-65,2,16-21,65-4zm-16,23l-65,1,16-22,65-2zm-16,25l-65-1,16-23,65-1z /><path class=c185 d=M2032,4740l-65-1,16-25,65,1zm-16,27l-65-3,16-25,65,1z /><path class=c179 d=M2000,4795l-65-5,16-26,65,3zm-16,29l-65-6,16-28,65,5z /><path class=c173 d=M1967,4855l-64-9,16-28,65,6z /><path class=c167 d=M1951,4886l-64-10,16-30,64,9zm-16,32l-64-11,16-31,64,10z /><path class=c161 d=M1919,4952l-64-13,16-32,64,11z /><path class=c155 d=M1903,4987l-64-16,16-32,64,13zm-16,36l-64-18,16-34,64,16z /><path class=c149 d=M1871,5059l-64-19,16-35,64,18z /><path class=c143 d=M1855,5097l-63-21,15-36,64,19z /><path class=c137 d=M1839,5136l-63-23,16-37,63,21zm-16,40l-63-25,16-38,63,23z /><path class=c131 d=M1807,5217l-63-28,16-38,63,25z /><path class=c125 d=M1791,5258l-63-29,16-40,63,28z /><path class=c119 d=M1775,5301l-62-32,15-40,63,29z /><path class=c113 d=M1759,5344l-62-33,16-42,62,32z /><path class=c107 d=M1744,5389l-63-36,16-42,62,33z /><path class=c101 d=M1728,5434l-62-38,15-43,63,36z /><path class=c95 d=M1712,5480l-62-40,16-44,62,38z /><path class=c89 d=M1696,5527l-61-43,15-44,62,40z /><path class=c83 d=M1681,5574l-62-44,16-46,61,43z /><path class=c77 d=M1665,5622l-61-47,15-45,62,44z /><path class=c71 d=M1650,5671l-61-49,15-47,61,47z /><path class=c65 d=M1634,5720l-61-51,16-47,61,49z /><path class=c59 d=M1619,5770l-61-54,15-47,61,51z /><path class=c53 d=M1604,5820l-61-55,15-49,61,54z /><path class=c47 d=M1588,5871l-60-58,15-48,61,55z /><path class=c35 d=M1573,5922l-60-60,15-49,60,58z /><path class=c29 d=M1558,5974l-60-62,15-50,60,60z /><path class=c23 d=M1543,6026l-60-65,15-49,60,62z /><path class=c17 d=M1528,6078l-60-66,15-51,60,65z /><path class=c29 d=M3036,5302l-63-31-10-43,63,29z /><path class=c41 d=M3026,5257l-63-29-10-42,64,27z /><path class=c47 d=M3017,5213l-64-27-10-40,64,25z /><path class=c53 d=M3007,5171l-64-25-11-39,65,22z /><path class=c65 d=M2997,5129l-65-22-10-37,65,20z /><path class=c71 d=M2987,5090l-65-20-11-37,65,18z /><path class=c77 d=M2976,5051l-65-18-11-35,66,16z /><path class=c83 d=M2966,5014l-66-16-11-34,66,14z /><path class=c95 d=M2955,4978l-66-14-11-33,66,12z /><path class=c101 d=M2944,4943l-66-12-11-32,66,10z /><path class=c107 d=M2933,4909l-66-10-12-30,67,8z /><path class=c113 d=M2922,4877l-67-8-11-30,66,7z /><path class=c119 d=M2910,4846l-66-7-12-28,67,5z /><path class=c125 d=M2899,4816l-67-5-12-27,67,3z /><path class=c131 d=M2887,4787l-67-3-12-26,67,2z /><path class=c137 d=M2875,4760l-67-2-12-25,67,0z /><path class=c143 d=M2863,4733l-67,0-13-24,68-1zm-12-25l-68,1-12-23,68-2z /><path class=c149 d=M2839,4684l-68,2-13-21,68-4z /><path class=c155 d=M2826,4661l-68,4-12-21,68-5z /><path class=c161 d=M2814,4639l-68,5-13-20,68-6zm-13-21l-68,6-13-19,68-7z /><path class=c167 d=M2788,4598l-68,7-13-18,68-8z /><path class=c173 d=M2775,4579l-68,8-14-17,69-9zm-13-18l-69,9-13-16,69-10z /><path class=c179 d=M2749,4544l-69,10-13-15,68-11zm-14-16l-68,11-14-14,69-12z /><path class=c185 d=M2722,4513l-69,12-13-14,68-13zm-14-15l-68,13-14-12,69-14z /><path class=c190 d=M2695,4485l-69,14-14-12,69-14zm-14-12l-69,14-14-11,69-15z /><path class=c196 d=M2667,4461l-69,15-14-10,69-15z /><path class=c195 d=M2653,4451l-69,15-14-9,69-16z /><path class=c201 d=M2639,4441l-69,16-14-8,69-16z /><path class=c200 d=M2625,4433l-69,16-15-7,69-17zm-15-8l-69,17-14-6,69-18z /><path class=c206 d=M2596,4418l-69,18-15-5,69-18z /><path class=c205 d=M2581,4413l-69,18-14-5,69-18zm-14-5l-69,18-15-3,69-19z /><path class=c204 d=M2552,4404l-69,19-14-3,68-18z /><path class=c210 d=M2537,4402l-68,18-15-1,69-19zm-14-2l-69,19-15-1,69-19zm-15-1l-69,19-15,0,69-18zm-15,1l-69,18-15,2,69-19zm-15,1l-69,19-15,2,68-19zm-16,2l-68,19-16,3,69-18zm-30,8l-69,18,15-4,69-18zm-16,6l-68,17,15-5,69-18zm-15,6l-68,17,15-6,68-17zm-16,7l-68,17,16-7,68-17zm-15,8l-68,16,15-7,68-17zm-16,9l-68,15,16-8,68-16zm-15,10l-68,15,15-10,68-15z /><path class=c211 d=M2323,4468l-68,14,16-10,68-15zm-16,12l-68,14,16-12,68-14z /><path class=c212 d=M2291,4493l-68,13,16-12,68-14z /><path class=c213 d=M2275,4508l-67,12,15-14,68-13zm-16,15l-67,11,16-14,67-12z /><path class=c208 d=M2243,4540l-67,10,16-16,67-11z /><path class=c209 d=M2227,4558l-67,9,16-17,67-10zm-16,19l-67,7,16-17,67-9zm-16,20l-67,6,16-19,67-7z /><path class=c203 d=M2179,4618l-67,5,16-20,67-6zm-16,22l-67,4,16-21,67-5z /><path class=c197 d=M2147,4664l-67,3,16-23,67-4zm-17,25l-66,1,16-23,67-3zm-16,26l-66,0,16-25,66-1z /><path class=c191 d=M2098,4742l-66-2,16-25,66,0zm-16,28l-66-3,16-27,66,2z /><path class=c185 d=M2065,4800l-65-5,16-28,66,3z /><path class=c179 d=M2049,4831l-65-7,16-29,65,5zm-16,32l-66-8,17-31,65,7z /><path class=c173 d=M2017,4896l-66-10,16-31,66,8zm-17,34l-65-12,16-32,66,10z /><path class=c167 d=M1984,4966l-65-14,16-34,65,12z /><path class=c161 d=M1968,5002l-65-15,16-35,65,14z /><path class=c155 d=M1952,5040l-65-17,16-36,65,15zm-17,39l-64-20,16-36,65,17z /><path class=c149 d=M1919,5119l-64-22,16-38,64,20z /><path class=c143 d=M1903,5160l-64-24,16-39,64,22z /><path class=c137 d=M1887,5201l-64-25,16-40,64,24z /><path class=c131 d=M1871,5244l-64-27,16-41,64,25z /><path class=c125 d=M1855,5288l-64-30,16-41,64,27z /><path class=c119 d=M1839,5333l-64-32,16-43,64,30z /><path class=c113 d=M1823,5379l-64-35,16-43,64,32z /><path class=c107 d=M1807,5425l-63-36,15-45,64,35z /><path class=c101 d=M1791,5473l-63-39,16-45,63,36z /><path class=c95 d=M1775,5521l-63-41,16-46,63,39z /><path class=c89 d=M1759,5570l-63-43,16-47,63,41z /><path class=c83 d=M1743,5619l-62-45,15-47,63,43z /><path class=c77 d=M1727,5669l-62-47,16-48,62,45z /><path class=c71 d=M1712,5720l-62-49,15-49,62,47z /><path class=c65 d=M1696,5772l-62-52,16-49,62,49z /><path class=c59 d=M1681,5824l-62-54,15-50,62,52z /><path class=c47 d=M1665,5876l-61-56,15-50,62,54z /><path class=c41 d=M1650,5929l-62-58,16-51,61,56z /><path class=c35 d=M1634,5983l-61-61,15-51,62,58z /><path class=c29 d=M1619,6037l-61-63,15-52,61,61z /><path class=c17 d=M1604,6091l-61-65,15-52,61,63z /><path class=c11 d=M1589,6145l-61-67,15-52,61,65z /><path class=c29 d=M3100,5334l-64-32-10-45,65,29z /><path class=c41 d=M3091,5286l-65-29-9-44,65,27z /><path class=c47 d=M3082,5240l-65-27-10-42,65,24z /><path class=c59 d=M3072,5195l-65-24-10-42,66,23z /><path class=c65 d=M3063,5152l-66-23-10-39,66,20z /><path class=c77 d=M3053,5110l-66-20-11-39,67,18z /><path class=c83 d=M3043,5069l-67-18-10-37,66,16z /><path class=c89 d=M3032,5030l-66-16-11-36,67,14z /><path class=c95 d=M3022,4992l-67-14-11-35,67,12z /><path class=c101 d=M3011,4955l-67-12-11-34,67,10z /><path class=c113 d=M3000,4919l-67-10-11-32,67,8z /><path class=c119 d=M2989,4885l-67-8-12-31,68,7z /><path class=c125 d=M2978,4853l-68-7-11-30,68,5z /><path class=c131 d=M2967,4821l-68-5-12-29,68,4z /><path class=c137 d=M2955,4791l-68-4-12-27,69,2z /><path class=c143 d=M2944,4762l-69-2-12-27,69,1zm-12-28l-69-1-12-25,69-1z /><path class=c149 d=M2920,4707l-69,1-12-24,69-3z /><path class=c155 d=M2908,4681l-69,3-13-23,69-4z /><path class=c161 d=M2895,4657l-69,4-12-22,69-5z /><path class=c167 d=M2883,4634l-69,5-13-21,69-6zm-13-22l-69,6-13-20,69-7z /><path class=c173 d=M2857,4591l-69,7-13-19,70-8z /><path class=c179 d=M2845,4571l-70,8-13-18,70-9zm-13-19l-70,9-13-17,69-10z /><path class=c185 d=M2818,4534l-69,10-14-16,70-12z /><path class=c191 d=M2805,4516l-70,12-13-15,70-13zm-13-16l-70,13-14-15,70-13z /><path class=c197 d=M2778,4485l-70,13-13-13,70-14zm-13-14l-70,14-14-12,70-15z /><path class=c202 d=M2751,4458l-70,15-14-12,70-15zm-14-12l-70,15-14-10,70-16z /><path class=c208 d=M2723,4435l-70,16-14-10,70-16z /><path class=c207 d=M2709,4425l-70,16-14-8,70-17zm-14-9l-70,17-15-8,71-17z /><path class=c212 d=M2681,4408l-71,17-14-7,70-17zm-15-7l-70,17-15-5,71-18z /><path class=c211 d=M2652,4395l-71,18-14-5,70-18z /><path class=c217 d=M2637,4390l-70,18-15-4,71-18z /><path class=c216 d=M2623,4386l-71,18-15-2,71-19zm-15-3l-71,19-14-2,70-19zm-15-2l-70,19-15-1,70-19zm-15-1l-70,19-15,1,70-19z /><path class=c222 d=M2563,4381l-70,19-15,1,70-19zm-15,1l-70,19-16,2,70-18zm-16,3l-70,18-15,4,70-19zm-30,8l-70,18,15-4,70-19zm-16,5l-70,19,16-6,70-18zm-15,7l-70,18,15-6,70-19zm-16,7l-70,18,16-7,70-18zm-15,9l-70,17,15-8,70-18zm-16,10l-70,16,16-9,70-17z /><path class=c223 d=M2408,4442l-69,15,15-10,70-16zm-16,11l-69,15,16-11,69-15z /><path class=c218 d=M2376,4466l-69,14,16-12,69-15zm-16,15l-69,12,16-13,69-14z /><path class=c219 d=M2344,4496l-69,12,16-15,69-12z /><path class=c220 d=M2328,4512l-69,11,16-15,69-12z /><path class=c221 d=M2312,4530l-69,10,16-17,69-11z /><path class=c215 d=M2296,4549l-69,9,16-18,69-10zm-16,20l-69,8,16-19,69-9zm-17,21l-68,7,16-20,69-8z /><path class=c209 d=M2247,4613l-68,5,16-21,68-7zm-16,24l-68,3,16-22,68-5z /><path class=c203 d=M2214,4662l-67,2,16-24,68-3zm-16,26l-68,1,17-25,67-2zm-16,27l-68,0,16-26,68-1z /><path class=c197 d=M2165,4744l-67-2,16-27,68,0z /><path class=c191 d=M2149,4774l-67-4,16-28,67,2zm-17,31l-67-5,17-30,67,4z /><path class=c185 d=M2116,4838l-67-7,16-31,67,5zm-17,34l-66-9,16-32,67,7z /><path class=c179 d=M2083,4906l-66-10,16-33,66,9z /><path class=c173 d=M2067,4943l-67-13,17-34,66,10zm-17,37l-66-14,16-36,67,13z /><path class=c167 d=M2034,5018l-66-16,16-36,66,14z /><path class=c161 d=M2017,5058l-65-18,16-38,66,16z /><path class=c155 d=M2001,5099l-66-20,17-39,65,18z /><path class=c149 d=M1984,5141l-65-22,16-40,66,20z /><path class=c143 d=M1968,5184l-65-24,16-41,65,22zm-16,43l-65-26,16-41,65,24z /><path class=c137 d=M1935,5272l-64-28,16-43,65,26z /><path class=c131 d=M1919,5318l-64-30,16-44,64,28z /><path class=c125 d=M1903,5365l-64-32,16-45,64,30z /><path class=c119 d=M1887,5413l-64-34,16-46,64,32z /><path class=c113 d=M1871,5462l-64-37,16-46,64,34z /><path class=c101 d=M1854,5512l-63-39,16-48,64,37z /><path class=c95 d=M1838,5562l-63-41,16-48,63,39z /><path class=c89 d=M1822,5613l-63-43,16-49,63,41z /><path class=c83 d=M1806,5665l-63-46,16-49,63,43z /><path class=c77 d=M1790,5717l-63-48,16-50,63,46z /><path class=c71 d=M1775,5770l-63-50,15-51,63,48z /><path class=c65 d=M1759,5824l-63-52,16-52,63,50z /><path class=c53 d=M1743,5878l-62-54,15-52,63,52z /><path class=c47 d=M1727,5933l-62-57,16-52,62,54z /><path class=c41 d=M1712,5988l-62-59,15-53,62,57z /><path class=c35 d=M1696,6044l-62-61,16-54,62,59z /><path class=c23 d=M1681,6100l-62-63,15-54,62,61z /><path class=c17 d=M1665,6156l-61-65,15-54,62,63z /><path class=c11 d=M1650,6213l-61-68,15-54,61,65z /><path class=c29 d=M3165,5366l-65-32-9-48,65,30z /><path class=c41 d=M3156,5316l-65-30-9-46,65,27z /><path class=c53 d=M3147,5267l-65-27-10-45,66,25z /><path class=c59 d=M3138,5220l-66-25-9-43,66,23z /><path class=c71 d=M3129,5175l-66-23-10-42,67,20z /><path class=c77 d=M3120,5130l-67-20-10-41,67,18z /><path class=c83 d=M3110,5087l-67-18-11-39,68,16z /><path class=c95 d=M3100,5046l-68-16-10-38,68,14z /><path class=c101 d=M3090,5006l-68-14-11-37,68,12z /><path class=c107 d=M3079,4967l-68-12-11-36,69,11z /><path class=c113 d=M3069,4930l-69-11-11-34,69,9z /><path class=c119 d=M3058,4894l-69-9-11-32,69,6z /><path class=c131 d=M3047,4859l-69-6-11-32,69,5z /><path class=c137 d=M3036,4826l-69-5-12-30,70,3z /><path class=c143 d=M3025,4794l-70-3-11-29,69,1z /><path class=c149 d=M3013,4763l-69-1-12-28,70,0zm-11-29l-70,0-12-27,70-1z /><path class=c155 d=M2990,4706l-70,1-12-26,70-2z /><path class=c161 d=M2978,4679l-70,2-13-24,71-4z /><path class=c167 d=M2966,4653l-71,4-12-23,70-5z /><path class=c173 d=M2953,4629l-70,5-13-22,71-7z /><path class=c179 d=M2941,4605l-71,7-13-21,71-8zm-13-22l-71,8-12-20,71-9z /><path class=c185 d=M2916,4562l-71,9-13-19,71-10z /><path class=c191 d=M2903,4542l-71,10-14-18,72-11zm-13-19l-72,11-13-18,71-11z /><path class=c197 d=M2876,4505l-71,11-13-16,71-12zm-13-17l-71,12-14-15,72-13z /><path class=c203 d=M2850,4472l-72,13-13-14,71-14z /><path class=c209 d=M2836,4457l-71,14-14-13,72-15zm-13-14l-72,15-14-12,72-16z /><path class=c208 d=M2809,4430l-72,16-14-11,72-17z /><path class=c214 d=M2795,4418l-72,17-14-10,72-17z /><path class=c213 d=M2781,4408l-72,17-14-9,72-18z /><path class=c219 d=M2767,4398l-72,18-14-8,71-18z /><path class=c218 d=M2752,4390l-71,18-15-7,72-19zm-14-8l-72,19-14-6,72-19z /><path class=c223 d=M2724,4376l-72,19-15-5,72-19zm-15-5l-72,19-14-4,71-19z /><path class=c222 d=M2694,4367l-71,19-15-3,71-19zm-15-3l-71,19-15-2,72-19z /><path class=c228 d=M2665,4362l-72,19-15-1,72-19zm-15-1l-72,19-15,1,71-20zm-16,0l-71,20-15,1,71-19zm-15,2l-71,19-16,3,72-20zm-15,2l-72,20-15,3,72-19zm-31,9l-71,19,15-5,72-19zm-15,6l-72,18,16-5,71-19zm-16,7l-71,18,15-7,72-18zm-16,8l-71,17,16-7,71-18zm-15,9l-71,17,15-9,71-17zm-16,10l-71,17,16-10,71-17z /><path class=c229 d=M2479,4426l-71,16,16-11,71-17z /><path class=c230 d=M2463,4439l-71,14,16-11,71-16zm-16,13l-71,14,16-13,71-14z /><path class=c225 d=M2431,4468l-71,13,16-15,71-14z /><path class=c226 d=M2415,4484l-71,12,16-15,71-13zm-17,17l-70,11,16-16,71-12z /><path class=c227 d=M2382,4520l-70,10,16-18,70-11z /><path class=c221 d=M2366,4540l-70,9,16-19,70-10zm-17,21l-69,8,16-20,70-9zm-16,23l-70,6,17-21,69-8z /><path class=c215 d=M2317,4608l-70,5,16-23,70-6zm-17,25l-69,4,16-24,70-5z /><path class=c209 d=M2284,4659l-70,3,17-25,69-4zm-17,28l-69,1,16-26,70-3z /><path class=c203 d=M2250,4716l-68-1,16-27,69-1zm-16,30l-69-2,17-29,68,1z /><path class=c197 d=M2217,4778l-68-4,16-30,69,2zm-16,33l-69-6,17-31,68,4z /><path class=c191 d=M2184,4845l-68-7,16-33,69,6z /><path class=c185 d=M2167,4880l-68-8,17-34,68,7zm-16,37l-68-11,16-34,68,8z /><path class=c179 d=M2134,4955l-67-12,16-37,68,11z /><path class=c173 d=M2117,4994l-67-14,17-37,67,12z /><path class=c167 d=M2101,5035l-67-17,16-38,67,14zm-17,41l-67-18,17-40,67,17z /><path class=c161 d=M2067,5119l-66-20,16-41,67,18z /><path class=c155 d=M2051,5163l-67-22,17-42,66,20z /><path class=c149 d=M2034,5208l-66-24,16-43,67,22z /><path class=c143 d=M2018,5254l-66-27,16-43,66,24z /><path class=c137 d=M2001,5301l-66-29,17-45,66,27z /><path class=c131 d=M1985,5349l-66-31,16-46,66,29z /><path class=c125 d=M1968,5398l-65-33,16-47,66,31z /><path class=c119 d=M1952,5448l-65-35,16-48,65,33z /><path class=c113 d=M1935,5499l-64-37,16-49,65,35z /><path class=c107 d=M1919,5551l-65-39,17-50,64,37z /><path class=c95 d=M1903,5604l-65-42,16-50,65,39z /><path class=c89 d=M1887,5657l-65-44,16-51,65,42z /><path class=c83 d=M1870,5711l-64-46,16-52,65,44z /><path class=c77 d=M1854,5766l-64-49,16-52,64,46z /><path class=c71 d=M1838,5821l-63-51,15-53,64,49z /><path class=c59 d=M1822,5877l-63-53,16-54,63,51z /><path class=c53 d=M1806,5934l-63-56,16-54,63,53z /><path class=c47 d=M1790,5991l-63-58,16-55,63,56z /><path class=c41 d=M1775,6048l-63-60,15-55,63,58z /><path class=c29 d=M1759,6106l-63-62,16-56,63,60z /><path class=c23 d=M1743,6164l-62-64,15-56,63,62z /><path class=c11 d=M1728,6222l-63-66,16-56,62,64z /><path class=c5 d=M1712,6281l-62-68,15-57,63,66z /><path class=c35 d=M3231,5399l-66-33-9-50,67,30z /><path class=c41 d=M3223,5346l-67-30-9-49,67,28z /><path class=c53 d=M3214,5295l-67-28-9-47,67,26z /><path class=c65 d=M3205,5246l-67-26-9-45,67,23z /><path class=c71 d=M3196,5198l-67-23-9-45,67,21z /><path class=c83 d=M3187,5151l-67-21-10-43,68,19z /><path class=c89 d=M3178,5106l-68-19-10-41,68,16z /><path class=c95 d=M3168,5062l-68-16-10-40,68,14z /><path class=c107 d=M3158,5020l-68-14-11-39,69,13z /><path class=c113 d=M3148,4980l-69-13-10-37,69,10z /><path class=c119 d=M3138,4940l-69-10-11-36,70,9z /><path class=c125 d=M3128,4903l-70-9-11-35,70,7z /><path class=c131 d=M3117,4866l-70-7-11-33,70,5z /><path class=c137 d=M3106,4831l-70-5-11-32,70,4z /><path class=c143 d=M3095,4798l-70-4-12-31,71,2z /><path class=c149 d=M3084,4765l-71-2-11-29,71,0z /><path class=c155 d=M3073,4734l-71,0-12-28,71-1z /><path class=c161 d=M3061,4705l-71,1-12-27,71-3z /><path class=c167 d=M3049,4676l-71,3-12-26,71-4z /><path class=c173 d=M3037,4649l-71,4-13-24,72-6z /><path class=c179 d=M3025,4623l-72,6-12-24,72-6z /><path class=c185 d=M3013,4599l-72,6-13-22,72-8zm-13-24l-72,8-12-21,72-9z /><path class=c191 d=M2988,4553l-72,9-13-20,72-10z /><path class=c197 d=M2975,4532l-72,10-13-19,72-11zm-13-20l-72,11-14-18,73-12z /><path class=c203 d=M2949,4493l-73,12-13-17,73-13z /><path class=c209 d=M2936,4475l-73,13-13-16,73-14zm-13-17l-73,14-14-15,73-15z /><path class=c215 d=M2909,4442l-73,15-13-14,72-15zm-14-14l-72,15-14-13,73-16z /><path class=c221 d=M2882,4414l-73,16-14-12,73-16z /><path class=c220 d=M2868,4402l-73,16-14-10,73-17z /><path class=c226 d=M2854,4391l-73,17-14-10,73-17z /><path class=c225 d=M2840,4381l-73,17-15-8,74-18zm-14-9l-74,18-14-8,73-18z /><path class=c230 d=M2811,4364l-73,18-14-6,73-19zm-14-7l-73,19-15-5,73-19z /><path class=c229 d=M2782,4352l-73,19-15-4,73-20z /><path class=c234 d=M2767,4347l-73,20-15-3,74-20zm-14-3l-74,20-14-2,73-20zm-15-2l-73,20-15-1,73-20zm-15-1l-73,20-16,0,74-20zm-15,0l-74,20-15,2,73-20zm-16,2l-73,20-15,2,73-19zm-30,7l-73,19,15-4,73-19zm-16,5l-73,19,16-5,73-19zm-16,6l-72,19,15-6,73-19zm-15,7l-73,19,16-7,72-19zm-16,9l-73,18,16-8,73-19zm-16,10l-72,17,15-9,73-18z /><path class=c235 d=M2567,4398l-72,16,16-10,72-17zm-16,12l-72,16,16-12,72-16z /><path class=c236 d=M2535,4423l-72,16,16-13,72-16z /><path class=c237 d=M2519,4438l-72,14,16-13,72-16zm-16,16l-72,14,16-16,72-14z /><path class=c232 d=M2486,4471l-71,13,16-16,72-14z /><path class=c233 d=M2470,4490l-72,11,17-17,71-13zm-17,20l-71,10,16-19,72-11zm-16,21l-71,9,16-20,71-10z /><path class=c227 d=M2420,4553l-71,8,17-21,71-9zm-16,24l-71,7,16-23,71-8z /><path class=c221 d=M2387,4602l-70,6,16-24,71-7zm-16,27l-71,4,17-25,70-6zm-17,27l-70,3,16-26,71-4z /><path class=c215 d=M2337,4686l-70,1,17-28,70-3z /><path class=c209 d=M2320,4716l-70,0,17-29,70-1zm-16,32l-70-2,16-30,70,0z /><path class=c203 d=M2287,4781l-70-3,17-32,70,2zm-17,35l-69-5,16-33,70,3z /><path class=c197 d=M2253,4852l-69-7,17-34,69,5z /><path class=c191 d=M2236,4889l-69-9,17-35,69,7z /><path class=c185 d=M2219,4928l-68-11,16-37,69,9zm-17,40l-68-13,17-38,68,11z /><path class=c179 d=M2186,5009l-69-15,17-39,68,13z /><path class=c173 d=M2169,5051l-68-16,16-41,69,15z /><path class=c167 d=M2152,5095l-68-19,17-41,68,16z /><path class=c161 d=M2135,5140l-68-21,17-43,68,19z /><path class=c155 d=M2118,5186l-67-23,16-44,68,21z /><path class=c149 d=M2101,5233l-67-25,17-45,67,23z /><path class=c143 d=M2085,5281l-67-27,16-46,67,25z /><path class=c137 d=M2068,5330l-67-29,17-47,67,27z /><path class=c131 d=M2051,5381l-66-32,16-48,67,29z /><path class=c125 d=M2034,5432l-66-34,17-49,66,32z /><path class=c119 d=M2018,5484l-66-36,16-50,66,34z /><path class=c113 d=M2001,5537l-66-38,17-51,66,36z /><path class=c107 d=M1985,5591l-66-40,16-52,66,38z /><path class=c101 d=M1968,5646l-65-42,16-53,66,40z /><path class=c89 d=M1952,5702l-65-45,16-53,65,42z /><path class=c83 d=M1935,5758l-65-47,17-54,65,45z /><path class=c77 d=M1919,5815l-65-49,16-55,65,47z /><path class=c71 d=M1903,5873l-65-52,16-55,65,49z /><path class=c59 d=M1887,5931l-65-54,16-56,65,52z /><path class=c53 d=M1870,5990l-64-56,16-57,65,54z /><path class=c47 d=M1854,6049l-64-58,16-57,64,56z /><path class=c35 d=M1838,6108l-63-60,15-57,64,58z /><path class=c29 d=M1822,6168l-63-62,16-58,63,60z /><path class=c17 d=M1806,6228l-63-64,16-58,63,62z /><path class=c11 d=M1791,6289l-63-67,15-58,63,64z /><path class=c5 d=M1775,6350l-63-69,16-59,63,67z /></g><g class=fr><line x1="1759.9" y1="4556.3" x2="487" y2="3811.8"/><line x1="1759.9" y1="4556.3" x2="3351.7" y2="3917.6"/><line x1="1759.9" y1="4556.3" x2="1775.2" y2="6378.4"/></g><g class=bx><line x1="3973.3" y1="3802.8" x2="5485.7" y2="3323.7"/><line x1="5485.7" y1="3323.7" x2="6809.5" y2="3907.5"/><line x1="6809.5" y1="3907.5" x2="6673" y2="5580.4"/><line x1="6673" y1="5580.4" x2="5248.7" y2="6343.8"/><line x1="5248.7" y1="6343.8" x2="4104.2" y2="5452.2"/><line x1="4104.2" y1="5452.2" x2="3973.3" y2="3802.8"/><g class=ds><line x1="5476.4" y1="4858.3" x2="5485.7" y2="3323.7"/><line x1="5476.4" y1="4858.3" x2="4104.2" y2="5452.2"/><line x1="5476.4" y1="4858.3" x2="6673" y2="5580.4"/></g></g><g class=sf style="stroke-width:6.2"><path class=d72 d=M5532,4421l-53,20-12,1,53-16zm-24,10l-52,13,11-2,53-16zm-11,6l-53,9,12-2,52-13zm-12,4l-52,7,11-2,53-9z /><path class=d73 d=M5473,4446l-52,4,12-2,52-7zm-12,5l-52,1,12-2,52-4zm-11,4l-53-1,12-2,52-1zm-12,4l-52-3,11-2,53,1zm-12,4l-52-5,12-2,52,3zm-12,4l-52-6,12-3,52,5zm-12,3l-52-7,12-2,52,6z /><path class=d74 d=M5390,4474l-52-8,12-3,52,7zm-11,4l-52-10,11-2,52,8zm-12,3l-52-10,12-3,52,10zm-12,4l-52-11,12-3,52,10z /><path class=d80 d=M5343,4489l-52-12,12-3,52,11zm-12,4l-52-13,12-3,52,12zm-12,3l-52-13,12-3,52,13zm-12,4l-52-14,12-3,52,13zm-12,4l-52-16,12-2,52,14zm-12,3l-52-16,12-3,52,16zm-13,3l-51-17,12-2,52,16zm-12,2l-51-18,12-1,51,17zm-12,2l-52-19,13-1,51,18zm-12,3l-52-21,12-1,52,19zm-12,2l-52-21,12-2,52,21z /><path class=d81 d=M5210,4521l-52-22,12-1,52,21zm-13,4l-52-24,13-2,52,22z /><path class=d82 d=M5185,4528l-52-25,12-2,52,24zm-12,5l-52-27,12-3,52,25z /><path class=d83 d=M5160,4539l-51-29,12-4,52,27zm-12,6l-52-30,13-5,51,29zm-12,6l-52-31,12-5,52,30zm-13,7l-51-33,12-5,52,31zm-12,6l-52-34,13-5,51,33zm-12,6l-52-35,12-5,52,34zm-13,6l-52-36,13-5,52,35zm-12,7l-52-38,12-5,52,36zm-13,6l-51-39,12-5,52,38zm-12,6l-52-40,13-5,51,39zm-13,6l-51-41,12-5,52,40zm-12,6l-52-42,13-5,51,41zm-13,6l-52-43,13-5,52,42zm-12,6l-52-44,12-5,52,43zm-13,6l-52-45,13-5,52,44zm-13,5l-51-45,12-5,52,45zm-12,6l-52-45,13-6,51,45zm-13,6l-52-46,13-5,52,45zm-13,6l-51-47,12-5,52,46zm-12,6l-52-47,13-6,51,47zm-13,7l-52-48,13-6,52,47zm-13,6l-51-47,12-7,52,48zm-12,7l-52-47,13-7,51,47zm-13,8l-52-48,13-7,52,47zm-13,7l-52-47,13-8,52,48zm-13,8l-51-48,12-7,52,47zm-13,8l-51-48,13-8,51,48zm-12,8l-52-47,13-9,51,48zm-13,8l-52-47,13-8,52,47z /><path class=d77 d=M4795,4730l-52-48,13-8,52,47zm-13,8l-51-47,12-9,52,48zm-13,9l-51-47,13-9,51,47zm-13,9l-51-47,13-9,51,47zm-13,8l-51-47,13-8,51,47zm-13,9l-51-47,13-9,51,47zm-12,9l-52-46,13-10,51,47zm-13,9l-52-46,13-9,52,46zm-13,10l-52-46,13-10,52,46zm-13,10l-51-45,12-11,52,46z /><path class=d71 d=M4666,4822l-51-45,13-11,51,45zm-13,10l-51-44,13-11,51,45zm-13,11l-51-44,13-11,51,44zm-13,12l-51-44,13-12,51,44zm-13,11l-51-43,13-12,51,44zm-13,12l-51-43,13-12,51,43z /><path class=d65 d=M4588,4890l-51-42,13-13,51,43zm-13,12l-51-42,13-12,51,42zm-13,12l-51-41,13-13,51,42zm-13,13l-50-40,12-14,51,41zm-13,12l-50-39,13-13,50,40z /><path class=d59 d=M4523,4952l-50-39,13-13,50,39zm-13,13l-50-38,13-14,50,39zm-13,13l-50-37,13-14,50,38zm-13,14l-50-36,13-15,50,37z /><path class=d53 d=M4471,5007l-50-36,13-15,50,36zm-13,14l-50-34,13-16,50,36zm-13,15l-50-33,13-16,50,34zm-13,16l-49-33,12-16,50,33z /><path class=d47 d=M4419,5067l-49-32,13-16,49,33zm-13,16l-49-31,13-17,49,32zm-13,17l-49-30,13-18,49,31z /><path class=d41 d=M4380,5116l-49-29,13-17,49,30zm-13,17l-48-28,12-18,49,29zm-12,17l-49-27,13-18,48,28z /><path class=d35 d=M4342,5167l-49-26,13-18,49,27zm-13,17l-49-24,13-19,49,26zm-13,17l-48-23,12-18,49,24z /><path class=d29 d=M4303,5219l-48-22,13-19,48,23zm-13,18l-48-21,13-19,48,22zm-13,18l-47-19,12-20,48,21z /><path class=d23 d=M4264,5274l-47-18,13-20,47,19zm-12,19l-48-17,13-20,47,18zm-13,20l-47-16,12-21,48,17z /><path class=d17 d=M4226,5333l-47-15,13-21,47,16zm-13,20l-46-13,12-22,47,15z /><path class=d11 d=M4201,5374l-47-12,13-22,46,13zm-13,21l-46-11,12-22,47,12z /><path class=d5 d=M4175,5416l-46-10,13-22,46,11zm-12,21l-46-8,12-23,46,10zm-13,22l-46-7,13-23,46,8z /><path class=d79 d=M5573,4411l-53,15,12-5,53-19z /><path class=d80 d=M5562,4419l-54,12,12-5,53-15zm-12,8l-53,10,11-6,54-12zm-12,9l-53,5,12-4,53-10zm-12,7l-53,3,12-5,53-5z /><path class=d81 d=M5514,4450l-53,1,12-5,53-3z /><path class=d80 d=M5503,4457l-53-2,11-4,53-1zm-12,6l-53-4,12-4,53,2zm-12,5l-53-5,12-4,53,4zm-12,5l-53-6,12-4,53,5zm-12,5l-53-8,12-3,53,6zm-12,5l-53-9,12-4,53,8zm-12,5l-52-10,11-4,53,9z /><path class=d81 d=M5419,4492l-52-11,12-3,52,10zm-12,5l-52-12,12-4,52,11zm-12,5l-52-13,12-4,52,12zm-12,4l-52-13,12-4,52,13zm-12,5l-52-15,12-3,52,13zm-12,4l-52-15,12-4,52,15zm-12,4l-52-15,12-4,52,15zm-12,5l-52-17,12-3,52,15zm-12,3l-53-17,13-3,52,17zm-12,4l-53-19,12-2,53,17zm-12,3l-53-20,12-2,53,19zm-13,3l-52-20,12-3,53,20zm-12,4l-52-22,12-2,52,20zm-12,4l-52-24,12-2,52,22z /><path class=d82 d=M5250,4549l-53-24,13-4,52,24z /><path class=d88 d=M5237,4554l-52-26,12-3,53,24z /><path class=d89 d=M5225,4560l-52-27,12-5,52,26z /><path class=d83 d=M5213,4567l-53-28,13-6,52,27zm-13,8l-52-30,12-6,53,28zm-12,8l-52-32,12-6,52,30zm-12,8l-53-33,13-7,52,32zm-13,7l-52-34,12-6,53,33zm-12,8l-52-36,12-6,52,34zm-13,8l-52-38,13-6,52,36zm-12,7l-52-38,12-7,52,38zm-12,7l-53-39,13-6,52,38zm-13,7l-52-40,12-6,53,39zm-12,7l-53-41,13-6,52,40zm-13,8l-52-43,12-6,53,41zm-13,6l-52-43,13-6,52,43zm-12,7l-52-44,12-6,52,43zm-13,6l-52-44,13-6,52,44zm-12,7l-53-46,13-5,52,44zm-13,6l-52-46,12-6,53,46zm-13,7l-52-47,13-6,52,46zm-12,6l-53-47,13-6,52,47zm-13,7l-52-48,12-6,53,47zm-13,7l-52-48,13-7,52,48zm-13,7l-52-49,13-6,52,48zm-12,7l-52-49,12-7,52,49z /><path class=d77 d=M4924,4730l-52-48,13-8,52,49zm-13,7l-52-48,13-7,52,48zm-13,8l-52-48,13-8,52,48zm-13,8l-52-48,13-8,52,48zm-12,8l-52-48,12-8,52,48zm-13,8l-52-48,13-8,52,48zm-13,9l-52-48,13-9,52,48zm-13,8l-52-48,13-8,52,48zm-13,9l-52-48,13-9,52,48zm-13,8l-52-47,13-9,52,48zm-13,9l-52-48,13-8,52,47zm-13,8l-52-47,13-9,52,48z /><path class=d71 d=M4769,4829l-51-47,12-9,52,47zm-13,9l-51-47,13-9,51,47zm-13,9l-51-46,13-10,51,47zm-13,10l-51-46,13-10,51,46zm-13,10l-51-45,13-11,51,46zm-13,10l-51-45,13-10,51,45zm-13,11l-51-45,13-11,51,45zm-13,10l-51-43,13-12,51,45z /><path class=d65 d=M4665,4909l-51-43,13-11,51,43zm-13,12l-51-43,13-12,51,43zm-13,11l-51-42,13-12,51,43zm-13,12l-51-42,13-12,51,42zm-13,11l-51-41,13-12,51,42zm-13,12l-51-40,13-13,51,41z /><path class=d59 d=M4587,4979l-51-40,13-12,51,40zm-13,12l-51-39,13-13,51,40zm-13,12l-51-38,13-13,51,39zm-13,13l-51-38,13-13,51,38zm-14,13l-50-37,13-14,51,38z /><path class=d53 d=M4521,5043l-50-36,13-15,50,37zm-13,13l-50-35,13-14,50,36zm-13,14l-50-34,13-15,50,35zm-13,15l-50-33,13-16,50,34z /><path class=d47 d=M4469,5099l-50-32,13-15,50,33zm-13,15l-50-31,13-16,50,32zm-13,15l-50-29,13-17,50,31zm-13,16l-50-29,13-16,50,29z /><path class=d41 d=M4417,5160l-50-27,13-17,50,29zm-13,16l-49-26,12-17,50,27zm-13,16l-49-25,13-17,49,26z /><path class=d35 d=M4378,5208l-49-24,13-17,49,25zm-13,16l-49-23,13-17,49,24zm-13,17l-49-22,13-18,49,23z /><path class=d29 d=M4339,5257l-49-20,13-18,49,22zm-14,18l-48-20,13-18,49,20zm-12,17l-49-18,13-19,48,20z /><path class=d23 d=M4300,5310l-48-17,12-19,49,18zm-13,19l-48-16,13-20,48,17zm-13,18l-48-14,13-20,48,16z /><path class=d17 d=M4261,5367l-48-14,13-20,48,14zm-13,19l-47-12,12-21,48,14zm-13,19l-47-10,13-21,47,12z /><path class=d11 d=M4222,5425l-47-9,13-21,47,10zm-13,20l-46-8,12-21,47,9z /><path class=d5 d=M4196,5466l-46-7,13-22,46,8z /><path class=d93 d=M5628,4395l-55,16,12-9,54-18z /><path class=d88 d=M5616,4407l-54,12,11-8,55-16zm-12,12l-54,8,12-8,54-12zm-12,11l-54,6,12-9,54-8zm-12,11l-54,2,12-7,54-6zm-12,10l-54-1,12-7,54-2zm-12,9l-53-3,11-7,54,1z /><path class=d87 d=M5544,4467l-53-4,12-6,53,3zm-11,7l-54-6,12-5,53,4zm-12,6l-54-7,12-5,54,6zm-12,6l-54-8,12-5,54,7zm-12,6l-54-9,12-5,54,8zm-12,6l-54-10,12-5,54,9zm-12,6l-54-12,12-4,54,10zm-12,6l-54-13,12-5,54,12zm-12,5l-54-13,12-5,54,13zm-12,5l-54-14,12-4,54,13zm-12,6l-54-15,12-5,54,14zm-12,5l-54-16,12-4,54,15zm-13,5l-53-17,12-4,54,16zm-12,5l-53-17,12-5,53,17zm-12,5l-53-19,12-3,53,17zm-12,4l-53-19,12-4,53,19zm-12,4l-53-20,12-3,53,19z /><path class=d88 d=M5339,4559l-53-22,13-3,53,20zm-12,4l-53-22,12-4,53,22zm-12,6l-53-24,12-4,53,22z /><path class=d89 d=M5303,4574l-53-25,12-4,53,24zm-13,7l-53-27,13-5,53,25zm-12,8l-53-29,12-6,53,27zm-12,8l-53-30,12-7,53,29z /><path class=d83 d=M5253,4606l-53-31,13-8,53,30zm-12,10l-53-33,12-8,53,31zm-12,9l-53-34,12-8,53,33zm-13,9l-53-36,13-7,53,34zm-12,9l-53-37,12-8,53,36zm-13,8l-53-37,13-8,53,37zm-12,9l-53-39,12-7,53,37zm-13,8l-52-40,12-7,53,39zm-12,9l-53-42,13-7,52,40zm-13,8l-52-43,12-7,53,42zm-12,8l-53-43,13-8,52,43zm-13,8l-53-45,13-6,53,43zm-12,7l-53-45,12-7,53,45z /><path class=d77 d=M5091,4715l-53-46,13-6,53,45zm-13,7l-52-46,12-7,53,46zm-12,7l-53-47,13-6,52,46zm-13,7l-53-47,13-7,53,47zm-13,7l-52-48,12-6,53,47zm-12,7l-53-48,13-7,52,48zm-13,7l-53-48,13-7,53,48zm-13,7l-53-48,13-7,53,48zm-13,7l-52-48,12-7,53,48zm-12,8l-53-49,13-7,52,48zm-13,7l-53-49,13-7,53,49zm-13,8l-53-49,13-8,53,49zm-13,8l-53-49,13-8,53,49zm-13,8l-52-49,12-8,53,49zm-13,8l-52-49,13-8,52,49zm-13,8l-52-48,13-9,52,49zm-13,9l-52-49,13-8,52,48z /><path class=d71 d=M4874,4843l-53-48,13-9,52,49zm-13,8l-53-48,13-8,53,48zm-13,9l-53-48,13-9,53,48zm-13,8l-53-48,13-8,53,48zm-13,8l-53-47,13-9,53,48zm-13,9l-53-47,13-9,53,47zm-13,9l-53-47,13-9,53,47zm-14,9l-52-46,13-10,53,47zm-13,10l-52-46,13-10,52,46zm-13,10l-52-46,13-10,52,46z /><path class=d65 d=M4743,4933l-52-45,13-11,52,46zm-13,10l-52-45,13-10,52,45zm-13,10l-52-44,13-11,52,45zm-13,11l-52-43,13-12,52,44zm-13,11l-52-43,13-11,52,43zm-13,11l-52-42,13-12,52,43zm-13,11l-52-42,13-11,52,42z /><path class=d59 d=M4651,5008l-51-41,13-12,52,42zm-13,11l-51-40,13-12,51,41zm-13,11l-51-39,13-12,51,40zm-13,12l-51-39,13-12,51,39zm-13,12l-51-38,13-13,51,39zm-13,12l-52-37,14-13,51,38z /><path class=d53 d=M4572,5079l-51-36,13-14,52,37zm-13,12l-51-35,13-13,51,36zm-13,14l-51-35,13-14,51,35zm-13,13l-51-33,13-15,51,35z /><path class=d47 d=M4520,5131l-51-32,13-14,51,33zm-14,14l-50-31,13-15,51,32zm-13,14l-50-30,13-15,50,31zm-13,14l-50-28,13-16,50,30zm-13,15l-50-28,13-15,50,28z /><path class=d41 d=M4454,5202l-50-26,13-16,50,28zm-14,15l-49-25,13-16,50,26zm-13,15l-49-24,13-16,49,25z /><path class=d35 d=M4414,5247l-49-23,13-16,49,24zm-13,15l-49-21,13-17,49,23zm-13,16l-49-21,13-16,49,21zm-14,16l-49-19,14-18,49,21z /><path class=d29 d=M4361,5310l-48-18,12-17,49,19zm-13,17l-48-17,13-18,48,18zm-13,17l-48-15,13-19,48,17z /><path class=d23 d=M4322,5362l-48-15,13-18,48,15zm-13,17l-48-12,13-20,48,15zm-13,18l-48-11,13-19,48,12z /><path class=d17 d=M4283,5416l-48-11,13-19,48,11zm-13,18l-48-9,13-20,48,11zm-14,19l-47-8,13-20,48,9z /><path class=d11 d=M4243,5472l-47-6,13-21,47,8z /><path class=d101 d=M5683,4380l-55,15,11-11,56-19zm-12,16l-55,11,12-12,55-15z /><path class=d95 d=M5659,4411l-55,8,12-12,55-11zm-12,14l-55,5,12-11,55-8zm-12,14l-55,2,12-11,55-5zm-12,12l-55,0,12-10,55-2zm-12,11l-55-2,12-9,55,0z /><path class=d89 d=M5599,4472l-55-5,12-7,55,2z /><path class=d88 d=M5587,4480l-54-6,11-7,55,5zm-12,8l-54-8,12-6,54,6zm-12,7l-54-9,12-6,54,8zm-12,7l-54-10,12-6,54,9zm-12,7l-54-11,12-6,54,10zm-12,7l-54-12,12-6,54,11zm-12,6l-54-12,12-6,54,12zm-12,7l-54-14,12-5,54,12zm-12,6l-54-15,12-5,54,14zm-12,6l-54-15,12-6,54,15zm-13,6l-53-16,12-5,54,15zm-12,6l-54-17,13-5,53,16zm-12,6l-54-18,12-5,54,17zm-12,5l-54-18,12-5,54,18zm-12,6l-54-20,12-4,54,18zm-13,5l-53-21,12-4,54,20zm-12,5l-54-21,13-5,53,21z /><path class=d89 d=M5381,4586l-54-23,12-4,54,21zm-12,7l-54-24,12-6,54,23zm-13,7l-53-26,12-5,54,24zm-12,8l-54-27,13-7,53,26zm-12,9l-54-28,12-8,54,27zm-13,10l-53-30,12-8,54,28z /><path class=d83 d=M5307,4638l-54-32,13-9,53,30zm-12,10l-54-32,12-10,54,32zm-13,11l-53-34,12-9,54,32zm-12,11l-54-36,13-9,53,34zm-13,10l-53-37,12-9,54,36zm-12,10l-54-39,13-8,53,37zm-13,9l-53-39,12-9,54,39zm-12,10l-54-41,13-8,53,39zm-13,9l-53-41,12-9,54,41z /><path class=d77 d=M5195,4727l-54-42,13-8,53,41zm-13,9l-53-43,12-8,54,42zm-12,9l-54-44,13-8,53,43zm-13,8l-53-45,12-7,54,44zm-13,8l-53-46,13-7,53,45zm-12,8l-54-47,13-7,53,46zm-13,7l-53-47,12-7,54,47zm-13,8l-53-48,13-7,53,47zm-12,7l-54-48,13-7,53,48zm-13,8l-53-49,12-7,54,48zm-13,7l-53-49,13-7,53,49zm-13,7l-53-49,13-7,53,49zm-12,8l-54-50,13-7,53,49zm-13,7l-53-49,12-8,54,50zm-13,7l-53-49,13-7,53,49z /><path class=d71 d=M5004,4843l-53-49,13-8,53,49zm-13,8l-53-49,13-8,53,49zm-13,8l-53-49,13-8,53,49zm-13,8l-53-49,13-8,53,49zm-13,8l-53-49,13-8,53,49zm-13,8l-53-48,13-9,53,49zm-12,8l-53-48,12-8,53,48zm-13,9l-53-49,13-8,53,48zm-13,8l-53-48,13-9,53,49zm-14,8l-52-48,13-8,53,48zm-13,8l-52-48,13-8,52,48zm-13,8l-52-47,13-9,52,48zm-13,9l-52-47,13-9,52,47z /><path class=d65 d=M4835,4950l-53-47,14-9,52,47zm-13,9l-53-46,13-10,53,47zm-13,9l-53-45,13-10,53,46zm-13,9l-53-44,13-10,53,45zm-13,10l-53-44,13-10,53,44zm-13,10l-53-44,13-10,53,44zm-14,10l-52-43,13-11,53,44zm-13,10l-52-42,13-11,52,43zm-13,11l-52-42,13-11,52,42z /><path class=d59 d=M4717,5038l-52-41,13-11,52,42zm-13,11l-53-41,14-11,52,41zm-14,10l-52-40,13-11,53,41zm-13,11l-52-40,13-11,52,40zm-13,10l-52-38,13-12,52,40zm-13,11l-52-37,13-12,52,38zm-14,12l-51-37,13-12,52,37z /><path class=d53 d=M4624,5114l-52-35,14-13,51,37zm-13,12l-52-35,13-12,52,35zm-14,13l-51-34,13-14,52,35zm-13,12l-51-33,13-13,51,34zm-13,12l-51-32,13-13,51,33z /><path class=d47 d=M4557,5176l-51-31,14-14,51,32zm-13,13l-51-30,13-14,51,31zm-13,13l-51-29,13-14,51,30zm-13,13l-51-27,13-15,51,29zm-14,14l-50-27,13-14,51,27z /><path class=d41 d=M4491,5242l-51-25,14-15,50,27zm-14,14l-50-24,13-15,51,25zm-13,14l-50-23,13-15,50,24zm-13,14l-50-22,13-15,50,23z /><path class=d35 d=M4437,5298l-49-20,13-16,50,22zm-13,15l-50-19,14-16,49,20zm-13,15l-50-18,13-16,50,19zm-14,16l-49-17,13-17,50,18z /><path class=d29 d=M4384,5359l-49-15,13-17,49,17zm-13,16l-49-13,13-18,49,15zm-13,17l-49-13,13-17,49,13z /><path class=d23 d=M4344,5409l-48-12,13-18,49,13zm-13,16l-48-9,13-19,48,12zm-13,18l-48-9,13-18,48,9z /><path class=d17 d=M4304,5460l-48-7,14-19,48,9zm-13,17l-48-5,13-19,48,7z /><path class=d107 d=M5739,4364l-56,16,12-15,56-20zm-12,19l-56,13,12-16,56-16z /><path class=d101 d=M5715,4402l-56,9,12-15,56-13zm-13,17l-55,6,12-14,56-9zm-12,17l-55,3,12-14,55-6zm-12,15l-55,0,12-12,55-3z /><path class=d95 d=M5666,4465l-55-3,12-11,55,0zm-12,11l-55-4,12-10,55,3zm-12,10l-55-6,12-8,55,4zm-12,9l-55-7,12-8,55,6zm-12,9l-55-9,12-7,55,7zm-12,8l-55-10,12-7,55,9z /><path class=d94 d=M5594,4520l-55-11,12-7,55,10zm-12,8l-55-12,12-7,55,11zm-12,7l-55-13,12-6,55,12z /><path class=d88 d=M5558,4542l-55-13,12-7,55,13zm-13,7l-54-14,12-6,55,13zm-12,7l-54-15,12-6,54,14zm-12,7l-55-16,13-6,54,15zm-12,7l-55-17,12-6,55,16zm-12,6l-55-17,12-6,55,17zm-13,7l-54-19,12-5,55,17zm-12,6l-54-19,12-6,54,19z /><path class=d89 d=M5460,4595l-55-20,13-5,54,19zm-12,7l-55-22,12-5,55,20zm-13,7l-54-23,12-6,55,22zm-12,8l-54-24,12-7,54,23zm-12,8l-55-25,13-7,54,24zm-13,10l-54-27,12-8,55,25zm-12,10l-54-28,12-9,54,27zm-13,12l-54-30,13-10,54,28zm-12,12l-54-31,12-11,54,30z /><path class=d83 d=M5349,4681l-54-33,12-10,54,31zm-13,12l-54-34,13-11,54,33zm-12,12l-54-35,12-11,54,34zm-13,12l-54-37,13-10,54,35zm-12,11l-54-38,12-10,54,37zm-13,11l-54-40,13-9,54,38z /><path class=d77 d=M5274,4749l-54-40,12-10,54,40zm-13,11l-54-42,13-9,54,40zm-12,10l-54-43,12-9,54,42zm-13,10l-54-44,13-9,54,43zm-13,9l-53-44,12-9,54,44zm-12,9l-54-45,13-8,53,44zm-13,9l-54-46,13-8,54,45zm-12,8l-54-46,12-8,54,46zm-13,8l-54-47,13-7,54,46zm-13,8l-54-47,13-8,54,47z /><path class=d71 d=M5147,4839l-53-48,12-7,54,47zm-12,8l-54-48,13-8,53,48zm-13,8l-54-49,13-7,54,48zm-13,7l-54-49,13-7,54,49zm-13,7l-53-48,12-8,54,49zm-13,8l-53-49,13-7,53,48zm-12,7l-54-49,13-7,53,49zm-13,8l-54-49,13-8,54,49zm-13,7l-54-48,13-8,54,49zm-13,8l-54-48,13-8,54,48zm-13,8l-54-48,13-8,54,48zm-13,8l-54-48,13-8,54,48zm-13,8l-54-48,13-8,54,48zm-13,8l-53-48,12-8,54,48zm-13,8l-53-47,13-9,53,48zm-13,9l-53-48,13-8,53,47z /><path class=d65 d=M4941,4963l-54-47,14-8,53,48zm-13,8l-54-47,13-8,54,47zm-13,8l-54-47,13-8,54,47zm-13,8l-54-46,13-9,54,47zm-14,9l-53-46,13-9,54,46zm-13,8l-53-45,13-9,53,46zm-13,9l-53-45,13-9,53,45zm-13,9l-53-45,13-9,53,45zm-13,9l-53-44,13-10,53,45zm-13,10l-53-44,13-10,53,44zm-14,9l-53-43,14-10,53,44z /><path class=d59 d=M4796,5060l-53-43,13-10,53,43zm-13,9l-53-41,13-11,53,43zm-13,10l-53-41,13-10,53,41zm-14,10l-52-40,13-11,53,41zm-13,10l-53-40,14-10,52,40zm-13,9l-53-38,13-11,53,40zm-14,10l-52-38,13-10,53,38zm-13,11l-52-38,13-11,52,38z /><path class=d53 d=M4689,5139l-52-36,14-12,52,38zm-13,11l-52-36,13-11,52,36zm-13,11l-52-35,13-12,52,36zm-14,11l-52-33,14-13,52,35zm-13,11l-52-32,13-12,52,33zm-13,12l-52-32,13-12,52,32zm-14,11l-52-30,14-13,52,32z /><path class=d47 d=M4596,5218l-52-29,13-13,52,30zm-14,12l-51-28,13-13,52,29zm-13,12l-51-27,13-13,51,28zm-14,12l-51-25,14-14,51,27zm-13,13l-51-25,13-13,51,25z /><path class=d41 d=M4528,5279l-51-23,14-14,51,25zm-13,13l-51-22,13-14,51,23zm-14,12l-50-20,13-14,51,22zm-13,14l-51-20,14-14,50,20zm-14,13l-50-18,13-15,51,20z /><path class=d35 d=M4461,5345l-50-17,13-15,50,18zm-14,14l-50-15,14-16,50,17zm-13,15l-50-15,13-15,50,15zm-13,14l-50-13,13-16,50,15z /><path class=d29 d=M4407,5403l-49-11,13-17,50,13zm-13,16l-50-10,14-17,49,11zm-14,15l-49-9,13-16,50,10zm-13,16l-49-7,13-18,49,9z /><path class=d23 d=M4353,5466l-49-6,14-17,49,7zm-13,16l-49-5,13-17,49,6z /><path class=d113 d=M5796,4347l-57,17,12-19,57-21zm-12,22l-57,14,12-19,57-17zm-13,22l-56,11,12-19,57-14z /><path class=d107 d=M5759,4412l-57,7,13-17,56-11zm-12,20l-57,4,12-17,57-7z /><path class=d101 d=M5735,4450l-57,1,12-15,57-4zm-13,16l-56-1,12-14,57-1zm-12,13l-56-3,12-11,56,1zm-12,12l-56-5,12-10,56,3zm-12,10l-56-6,12-9,56,5z /><path class=d95 d=M5674,4511l-56-7,12-9,56,6zm-12,10l-56-9,12-8,56,7zm-12,9l-56-10,12-8,56,9zm-13,8l-55-10,12-8,56,10zm-12,9l-55-12,12-7,55,10zm-12,8l-55-13,12-7,55,12zm-12,8l-56-14,13-7,55,13zm-12,7l-56-14,12-7,56,14zm-12,8l-56-15,12-7,56,14zm-13,7l-55-15,12-7,56,15zm-12,8l-55-17,12-6,55,15zm-12,7l-56-17,13-7,55,17zm-13,7l-55-18,12-6,56,17zm-12,8l-55-20,12-6,55,18z /><path class=d89 d=M5503,4623l-55-21,12-7,55,20zm-13,8l-55-22,13-7,55,21zm-12,9l-55-23,12-8,55,22zm-12,10l-55-25,12-8,55,23zm-13,11l-55-26,13-10,55,25zm-12,12l-55-28,12-10,55,26zm-13,13l-55-29,13-12,55,28zm-12,13l-55-30,12-12,55,29z /><path class=d83 d=M5403,4713l-54-32,12-12,55,30zm-12,14l-55-34,13-12,54,32zm-13,13l-54-35,12-12,55,34zm-12,13l-55-36,13-12,54,35zm-13,12l-54-37,12-11,55,36z /><path class=d77 d=M5341,4777l-55-38,13-11,54,37zm-13,12l-54-40,12-10,55,38zm-12,12l-55-41,13-11,54,40zm-13,11l-54-42,12-10,55,41zm-12,11l-55-43,13-10,54,42zm-13,10l-55-44,13-9,55,43zm-13,10l-54-45,12-9,55,44z /><path class=d71 d=M5253,4852l-55-45,13-9,54,45zm-13,9l-54-46,12-8,55,45zm-13,9l-54-47,13-8,54,46zm-13,8l-54-47,13-8,54,47zm-12,9l-55-48,13-8,54,47zm-13,8l-54-48,12-8,55,48zm-13,8l-54-48,13-8,54,48zm-13,8l-54-49,13-7,54,48zm-12,7l-55-49,13-7,54,49zm-13,7l-55-48,13-8,55,49zm-13,8l-54-49,12-7,55,48zm-13,7l-54-48,13-8,54,49zm-13,8l-54-49,13-7,54,48zm-13,8l-54-49,13-8,54,49z /><path class=d65 d=M5073,4963l-54-48,13-8,54,49zm-13,8l-54-48,13-8,54,48zm-13,8l-54-48,13-8,54,48zm-13,8l-54-48,13-8,54,48zm-13,8l-54-48,13-8,54,48zm-13,8l-54-47,13-9,54,48zm-13,8l-54-48,13-7,54,47zm-13,7l-54-47,13-8,54,48zm-13,8l-54-47,13-8,54,47zm-14,8l-53-47,13-8,54,47zm-13,8l-54-46,14-9,53,47zm-13,8l-54-46,13-8,54,46zm-13,8l-54-45,13-9,54,46zm-13,8l-54-44,13-9,54,45zm-14,9l-53-44,13-9,54,44z /><path class=d59 d=M4876,5084l-53-43,13-10,53,44zm-13,9l-54-43,14-9,53,43zm-14,9l-53-42,13-10,54,43zm-13,9l-53-42,13-9,53,42zm-13,9l-53-41,13-10,53,42zm-14,9l-53-40,14-10,53,41zm-13,9l-53-39,13-10,53,40zm-13,9l-53-39,13-9,53,39zm-14,9l-53-38,14-10,53,39zm-13,10l-53-37,13-11,53,38z /><path class=d53 d=M4742,5175l-53-36,14-10,53,37zm-13,10l-53-35,13-11,53,36zm-14,10l-52-34,13-11,53,35zm-13,11l-53-34,14-11,52,34zm-14,10l-52-33,13-11,53,34zm-13,10l-52-31,13-12,52,33zm-14,11l-52-31,14-11,52,31zm-13,10l-52-29,13-12,52,31z /><path class=d47 d=M4634,5258l-52-28,14-12,52,29zm-13,11l-52-27,13-12,52,28zm-14,11l-52-26,14-12,52,27zm-13,11l-52-24,13-13,52,26zm-14,11l-52-23,14-12,52,24zm-14,11l-51-21,13-13,52,23z /><path class=d41 d=M4553,5325l-52-21,14-12,51,21zm-14,12l-51-19,13-14,52,21zm-14,12l-51-18,14-13,51,19zm-13,13l-51-17,13-14,51,18zm-14,13l-51-16,14-14,51,17zm-13,13l-51-14,13-15,51,16z /><path class=d35 d=M4471,5401l-50-13,13-14,51,14zm-14,14l-50-12,14-15,50,13zm-13,14l-50-10,13-16,50,12zm-14,14l-50-9,14-15,50,10z /><path class=d29 d=M4416,5457l-49-7,13-16,50,9zm-13,15l-50-6,14-16,49,7zm-14,14l-49-4,13-16,50,6z /><path class=d125 d=M5854,4328l-58,19,12-23,59-22z /><path class=d119 d=M5841,4354l-57,15,12-22,58-19zm-12,26l-58,11,13-22,57-15z /><path class=d113 d=M5816,4404l-57,8,12-21,58-11zm-12,23l-57,5,12-20,57-8z /><path class=d107 d=M5792,4448l-57,2,12-18,57-5zm-13,18l-57,0,13-16,57-2zm-12,15l-57-2,12-13,57,0z /><path class=d101 d=M5755,4494l-57-3,12-12,57,2zm-12,12l-57-5,12-10,57,3zm-12,12l-57-7,12-10,57,5zm-13,10l-56-7,12-10,57,7zm-12,10l-56-8,12-9,56,7zm-12,10l-57-10,13-8,56,8zm-12,9l-57-10,12-9,57,10zm-13,9l-56-11,12-8,57,10z /><path class=d95 d=M5657,4575l-56-12,12-8,56,11zm-12,9l-56-14,12-7,56,12zm-12,8l-56-14,12-8,56,14zm-13,8l-56-15,13-7,56,14zm-12,9l-56-16,12-8,56,15zm-12,8l-56-17,12-7,56,16zm-13,8l-56-18,13-7,56,17zm-12,9l-56-19,12-8,56,18zm-12,9l-56-20,12-8,56,19zm-13,9l-56-21,13-8,56,20zm-12,11l-56-23,12-9,56,21z /><path class=d89 d=M5521,4674l-55-24,12-10,56,23zm-12,13l-56-26,13-11,55,24zm-13,13l-55-27,12-12,56,26zm-12,15l-56-29,13-13,55,27zm-13,15l-55-31,12-13,56,29z /><path class=d83 d=M5459,4745l-56-32,13-14,55,31zm-13,15l-55-33,12-14,56,32zm-12,14l-56-34,13-13,55,33zm-13,15l-55-36,12-13,56,34z /><path class=d77 d=M5409,4803l-56-38,13-12,55,36zm-13,13l-55-39,12-12,56,38zm-13,13l-55-40,13-12,55,39zm-12,12l-55-40,12-12,55,40zm-13,13l-55-42,13-11,55,40zm-12,12l-55-43,12-11,55,42z /><path class=d71 d=M5333,4877l-55-44,13-10,55,43zm-13,10l-55-44,13-10,55,44zm-12,10l-55-45,12-9,55,44zm-13,10l-55-46,13-9,55,45zm-13,9l-55-46,13-9,55,46zm-13,9l-55-47,13-8,55,46zm-12,9l-55-47,12-9,55,47zm-13,9l-55-48,13-8,55,47zm-13,8l-55-48,13-8,55,48z /><path class=d65 d=M5218,4959l-55-48,13-8,55,48zm-13,7l-54-48,12-7,55,48zm-13,8l-54-49,13-7,54,48zm-12,7l-55-48,13-8,54,49zm-13,8l-55-49,13-7,55,48zm-13,7l-55-48,13-8,55,49zm-13,8l-55-48,13-8,55,48zm-13,8l-55-49,13-7,55,48zm-13,8l-55-49,13-8,55,49zm-13,7l-55-48,13-8,55,49zm-13,8l-55-48,13-8,55,48zm-13,8l-55-48,13-8,55,48zm-14,8l-54-48,13-8,55,48zm-13,7l-54-47,13-8,54,48zm-13,8l-54-48,13-7,54,47zm-13,7l-54-47,13-8,54,48zm-13,7l-55-46,14-8,54,47zm-13,8l-55-46,13-8,55,46zm-14,8l-54-46,13-8,55,46z /><path class=d59 d=M4970,5103l-54-45,13-8,54,46zm-13,8l-54-45,13-8,54,45zm-13,8l-55-44,14-9,54,45zm-14,9l-54-44,13-9,55,44zm-13,8l-54-43,13-9,54,44zm-13,8l-55-42,14-9,54,43zm-14,9l-54-42,13-9,55,42zm-13,8l-54-41,13-9,54,42zm-14,9l-54-41,14-9,54,41zm-13,8l-54-40,13-9,54,41zm-14,8l-53-39,13-9,54,40zm-13,9l-54-39,14-9,53,39zm-14,8l-53-37,13-10,54,39z /><path class=d53 d=M4796,5212l-54-37,14-9,53,37zm-14,9l-53-36,13-10,54,37zm-13,9l-54-35,14-10,53,36zm-14,9l-53-33,13-11,54,35zm-13,10l-54-33,14-10,53,33zm-14,9l-53-32,13-10,54,33zm-14,9l-53-30,14-11,53,32zm-13,10l-53-30,13-10,53,30zm-14,9l-53-28,14-11,53,30zm-14,10l-52-27,13-11,53,28z /><path class=d47 d=M4660,5306l-53-26,14-11,52,27zm-14,10l-52-25,13-11,53,26zm-14,10l-52-24,14-11,52,25zm-13,10l-53-23,14-11,52,24zm-14,10l-52-21,13-12,53,23zm-14,11l-52-20,14-12,52,21zm-14,11l-52-19,14-12,52,20z /><path class=d41 d=M4563,5379l-51-17,13-13,52,19zm-13,12l-52-16,14-13,51,17zm-14,11l-51-14,13-13,52,16zm-14,13l-51-14,14-13,51,14zm-14,12l-51-12,14-14,51,14zm-13,12l-51-10,13-14,51,12z /><path class=d35 d=M4481,5452l-51-9,14-14,51,10zm-14,13l-51-8,14-14,51,9zm-14,13l-50-6,13-15,51,8zm-14,13l-50-5,14-14,50,6z /><path class=d131 d=M5913,4308l-59,20,13-26,59-24zm-13,30l-59,16,13-26,59-20z /><path class=d125 d=M5888,4367l-59,13,12-26,59-16z /><path class=d119 d=M5875,4395l-59,9,13-24,59-13zm-13,26l-58,6,12-23,59-9z /><path class=d113 d=M5850,4445l-58,3,12-21,58-6zm-13,20l-58,1,13-18,58-3zm-12,18l-58-2,12-15,58-1z /><path class=d107 d=M5813,4497l-58-3,12-13,58,2zm-13,14l-57-5,12-12,58,3zm-12,12l-57-5,12-12,57,5zm-12,12l-58-7,13-10,57,5zm-13,12l-57-9,12-10,58,7z /><path class=d101 d=M5751,4557l-57-9,12-10,57,9zm-12,11l-57-11,12-9,57,9zm-12,10l-58-12,13-9,57,11zm-13,9l-57-12,12-9,58,12zm-12,10l-57-13,12-9,57,12zm-12,9l-57-14,12-8,57,13zm-13,9l-57-15,13-8,57,14zm-12,9l-57-15,12-9,57,15z /><path class=d95 d=M5653,4634l-57-17,12-8,57,15zm-13,9l-57-18,13-8,57,17zm-12,10l-57-19,12-9,57,18zm-13,10l-56-20,12-9,57,19zm-12,11l-57-22,13-9,56,20zm-13,11l-56-22,12-11,57,22zm-12,13l-57-24,13-11,56,22zm-13,14l-56-25,12-13,57,24z /><path class=d89 d=M5553,4727l-57-27,13-13,56,25zm-13,16l-56-28,12-15,57,27zm-12,17l-57-30,13-15,56,28z /><path class=d83 d=M5515,4777l-56-32,12-15,57,30zm-13,16l-56-33,13-15,56,32zm-12,16l-56-35,12-14,56,33zm-13,16l-56-36,13-15,56,35z /><path class=d77 d=M5464,4840l-55-37,12-14,56,36zm-12,14l-56-38,13-13,55,37zm-13,14l-56-39,13-13,56,38zm-12,14l-56-41,12-12,56,39z /><path class=d71 d=M5414,4896l-56-42,13-13,56,41zm-13,13l-55-43,12-12,56,42zm-12,12l-56-44,13-11,55,43zm-13,11l-56-45,13-10,56,44zm-13,11l-55-46,12-10,56,45zm-13,10l-55-46,13-10,55,46zm-12,10l-56-47,13-9,55,46z /><path class=d65 d=M5325,4973l-56-48,13-9,56,47zm-13,9l-55-48,12-9,56,48zm-13,10l-55-49,13-9,55,48zm-13,8l-55-49,13-8,55,49zm-12,8l-56-49,13-8,55,49zm-13,8l-56-50,13-7,56,49zm-13,7l-56-49,13-8,56,50zm-13,7l-55-49,12-7,56,49zm-13,8l-55-49,13-8,55,49zm-13,7l-55-49,13-7,55,49zm-13,8l-55-49,13-8,55,49zm-13,8l-55-49,13-8,55,49zm-13,8l-55-49,13-8,55,49zm-13,7l-55-49,13-7,55,49zm-13,8l-55-49,13-8,55,49zm-13,8l-55-49,13-8,55,49z /><path class=d59 d=M5118,5099l-56-48,14-8,55,49zm-14,8l-55-49,13-7,56,48zm-13,7l-55-48,13-8,55,49zm-13,7l-55-48,13-7,55,48zm-13,7l-55-48,13-7,55,48zm-13,7l-55-47,13-8,55,48zm-14,7l-55-46,14-8,55,47zm-13,7l-55-46,13-7,55,46zm-13,8l-55-46,13-8,55,46zm-14,7l-54-45,13-8,55,46zm-13,8l-55-44,14-9,54,45zm-13,8l-55-44,13-8,55,44zm-14,8l-54-44,13-8,55,44zm-13,8l-55-43,14-9,54,44zm-14,7l-54-42,13-8,55,43zm-13,8l-55-41,14-9,54,42zm-14,8l-54-41,13-8,55,41zm-13,7l-55-40,14-8,54,41zm-14,8l-54-39,13-9,55,40zm-13,8l-55-39,14-8,54,39z /><path class=d53 d=M4850,5250l-54-38,13-9,55,39zm-13,8l-55-37,14-9,54,38zm-14,8l-54-36,13-9,55,37zm-14,9l-54-36,14-9,54,36zm-13,8l-54-34,13-10,54,36zm-14,8l-54-33,14-9,54,34zm-14,8l-54-32,14-9,54,33zm-14,9l-53-31,13-10,54,32zm-13,8l-54-30,14-9,53,31zm-14,8l-54-28,14-10,54,30zm-14,9l-53-27,13-10,54,28zm-14,9l-53-26,14-10,53,27zm-14,8l-53-24,14-10,53,26z /><path class=d47 d=M4671,5359l-52-23,13-10,53,24zm-13,9l-53-22,14-10,52,23zm-14,10l-53-21,14-11,53,22zm-14,10l-53-20,14-11,53,21zm-14,10l-53-19,14-11,53,20zm-14,10l-52-17,13-12,53,19zm-14,10l-52-16,14-11,52,17zm-14,11l-52-14,14-13,52,16zm-14,11l-52-13,14-12,52,14z /><path class=d41 d=M4546,5451l-51-12,13-12,52,13zm-14,11l-51-10,14-13,51,12zm-14,12l-51-9,14-13,51,10zm-14,11l-51-7,14-13,51,9zm-14,12l-51-6,14-13,51,7z /><path class=d143 d=M5973,4287l-60,21,13-30,60-25z /><path class=d137 d=M5960,4321l-60,17,13-30,60-21z /><path class=d131 d=M5947,4354l-59,13,12-29,60-17z /><path class=d125 d=M5934,4385l-59,10,13-28,59-13zm-12,30l-60,6,13-26,59-10z /><path class=d119 d=M5909,4441l-59,4,12-24,60-6zm-13,23l-59,1,13-20,59-4z /><path class=d113 d=M5884,4484l-59-1,12-18,59-1zm-13,16l-58-3,12-14,59,1zm-12,15l-59-4,13-14,58,3zm-13,14l-58-6,12-12,59,4z /><path class=d107 d=M5834,4542l-58-7,12-12,58,6zm-12,13l-59-8,13-12,58,7zm-13,12l-58-10,12-10,59,8zm-12,11l-58-10,12-11,58,10zm-12,11l-58-11,12-10,58,10zm-13,10l-58-12,13-9,58,11z /><path class=d101 d=M5760,4610l-58-13,12-10,58,12zm-13,10l-57-14,12-9,58,13zm-12,10l-58-15,13-9,57,14zm-12,10l-58-16,12-9,58,15zm-13,10l-57-16,12-10,58,16zm-12,11l-58-18,13-9,57,16zm-13,10l-57-18,12-10,58,18zm-12,12l-58-20,13-10,57,18z /><path class=d95 d=M5660,4695l-57-21,12-11,58,20zm-12,13l-58-23,13-11,57,21zm-13,15l-57-25,12-13,58,23zm-13,15l-57-26,13-14,57,25z /><path class=d89 d=M5610,4755l-57-28,12-15,57,26zm-13,17l-57-29,13-16,57,28zm-13,18l-56-30,12-17,57,29zm-12,19l-57-32,13-17,56,30z /><path class=d83 d=M5559,4827l-57-34,13-16,57,32zm-13,17l-56-35,12-16,57,34zm-12,18l-57-37,13-16,56,35z /><path class=d77 d=M5521,4878l-57-38,13-15,57,37zm-13,16l-56-40,12-14,57,38zm-12,15l-57-41,13-14,56,40zm-13,15l-56-42,12-14,57,41z /><path class=d71 d=M5470,4938l-56-42,13-14,56,42zm-13,15l-56-44,13-13,56,42zm-12,13l-56-45,12-12,56,44zm-13,12l-56-46,13-11,56,45zm-13,11l-56-46,13-11,56,46z /><path class=d65 d=M5406,5000l-56-47,13-10,56,46zm-12,11l-56-48,12-10,56,47zm-13,10l-56-48,13-10,56,48zm-13,10l-56-49,13-9,56,48zm-13,10l-56-49,13-10,56,49zm-13,9l-56-50,13-8,56,49zm-13,8l-55-50,12-8,56,50zm-12,7l-56-49,13-8,55,50zm-13,8l-56-50,13-7,56,49zm-13,7l-56-50,13-7,56,50zm-13,8l-56-50,13-8,56,50z /><path class=d59 d=M5265,5095l-56-50,13-7,56,50zm-13,8l-56-50,13-8,56,50zm-13,8l-56-50,13-8,56,50zm-13,7l-56-49,13-8,56,50zm-13,8l-56-50,13-7,56,49zm-13,8l-56-50,13-8,56,50zm-14,7l-55-49,13-8,56,50zm-13,8l-55-50,13-7,55,49zm-13,7l-56-49,14-8,55,50zm-13,7l-56-49,13-7,56,49zm-13,6l-56-48,13-7,56,49zm-14,7l-55-48,13-7,56,48zm-13,7l-55-48,13-7,55,48zm-13,7l-56-48,14-7,55,48zm-14,6l-55-47,13-7,56,48zm-13,7l-55-46,13-8,55,47zm-13,7l-56-46,14-7,55,46zm-14,8l-55-46,13-8,56,46zm-13,7l-55-45,13-8,55,46zm-14,7l-55-44,14-8,55,45zm-13,8l-55-44,13-8,55,44zm-13,7l-56-44,14-7,55,44zm-14,7l-55-43,13-8,56,44zm-14,7l-55-42,14-8,55,43zm-13,6l-55-41,13-7,55,42z /><path class=d53 d=M4932,5274l-55-40,14-8,55,41zm-13,7l-55-39,13-8,55,40zm-14,8l-55-39,14-8,55,39zm-14,7l-54-38,13-8,55,39zm-13,7l-55-37,14-8,54,38zm-14,8l-55-36,14-9,55,37zm-14,7l-54-35,13-8,55,36zm-14,7l-54-34,14-8,54,35zm-13,7l-55-33,14-8,54,34zm-14,7l-55-31,14-9,55,33zm-14,7l-54-30,13-8,55,31zm-14,8l-54-30,14-8,54,30zm-14,7l-54-28,14-9,54,30zm-14,7l-54-26,14-9,54,28zm-14,8l-54-26,14-8,54,26zm-14,8l-54-25,14-9,54,26zm-14,8l-53-24,13-9,54,25zm-14,8l-53-22,14-10,53,24zm-14,8l-53-20,14-10,53,22zm-14,9l-53-19,14-10,53,20z /><path class=d47 d=M4655,5426l-53-18,14-10,53,19zm-14,9l-53-17,14-10,53,18zm-14,9l-53-15,14-11,53,17zm-14,10l-53-14,14-11,53,15zm-14,10l-53-13,14-11,53,14zm-14,10l-53-12,14-11,53,13zm-14,10l-53-10,14-12,53,12zm-15,10l-52-9,14-11,53,10zm-14,10l-52-7,14-12,52,9z /><path class=d149 d=M6035,4266l-62,21,13-34,62-25z /><path class=d143 d=M6021,4304l-61,17,13-34,62-21z /><path class=d137 d=M6008,4340l-61,14,13-33,61-17zm-13,35l-61,10,13-31,61-14z /><path class=d131 d=M5982,4408l-60,7,12-30,61-10z /><path class=d125 d=M5969,4438l-60,3,13-26,60-7zm-13,25l-60,1,13-23,60-3z /><path class=d119 d=M5943,4485l-59-1,12-20,60-1zm-12,18l-60-3,13-16,59,1zm-13,16l-59-4,12-15,60,3z /><path class=d113 d=M5906,4535l-60-6,13-14,59,4zm-13,14l-59-7,12-13,60,6zm-12,14l-59-8,12-13,59,7zm-13,13l-59-9,13-12,59,8z /><path class=d107 d=M5856,4588l-59-10,12-11,59,9zm-13,12l-58-11,12-11,59,10zm-12,12l-59-13,13-10,58,11zm-12,11l-59-13,12-11,59,13zm-13,11l-59-14,13-10,59,13zm-12,11l-59-15,12-10,59,14zm-13,11l-58-16,12-10,59,15z /><path class=d101 d=M5769,4667l-59-17,13-10,58,16zm-13,12l-58-18,12-11,59,17zm-13,12l-58-20,13-10,58,18zm-12,12l-58-20,12-12,58,20zm-13,14l-58-22,13-12,58,20z /><path class=d95 d=M5706,4731l-58-23,12-13,58,22zm-13,16l-58-24,13-15,58,23zm-13,17l-58-26,13-15,58,24zm-12,19l-58-28,12-17,58,26z /><path class=d89 d=M5655,4802l-58-30,13-17,58,28zm-13,20l-58-32,13-18,58,30zm-13,19l-57-32,12-19,58,32z /><path class=d83 d=M5616,4861l-57-34,13-18,57,32zm-12,19l-58-36,13-17,57,34zm-13,19l-57-37,12-18,58,36z /><path class=d77 d=M5578,4916l-57-38,13-16,57,37zm-13,17l-57-39,13-16,57,38zm-12,17l-57-41,12-15,57,39z /><path class=d71 d=M5540,4966l-57-42,13-15,57,41zm-13,16l-57-44,13-14,57,42zm-13,15l-57-44,13-15,57,44zm-12,14l-57-45,12-13,57,44z /><path class=d65 d=M5489,5024l-57-46,13-12,57,45zm-13,12l-57-47,13-11,57,46zm-13,11l-57-47,13-11,57,47zm-13,12l-56-48,12-11,57,47zm-12,11l-57-49,13-10,56,48zm-13,11l-57-50,13-10,57,49zm-13,10l-57-50,13-10,57,50z /><path class=d59 d=M5399,5100l-57-50,13-9,57,50zm-13,9l-57-51,13-8,57,50zm-13,7l-56-51,12-7,57,51zm-13,7l-56-50,13-8,56,51zm-13,8l-56-51,13-7,56,50zm-13,7l-56-50,13-8,56,51zm-13,8l-56-51,13-7,56,50zm-13,8l-56-51,13-8,56,51zm-13,7l-56-50,13-8,56,51zm-13,8l-56-51,13-7,56,50zm-13,7l-56-50,13-8,56,51zm-13,8l-56-50,13-8,56,50zm-13,7l-57-50,14-7,56,50zm-13,8l-57-50,13-8,57,50zm-14,7l-56-50,13-7,57,50zm-13,6l-56-49,13-7,56,50zm-13,7l-56-50,13-6,56,49zm-13,6l-57-49,14-7,56,50zm-14,7l-56-49,13-7,57,49zm-13,6l-56-48,13-7,56,49zm-13,6l-57-48,14-6,56,48zm-14,7l-56-48,13-7,57,48zm-13,6l-56-47,13-7,56,48zm-14,7l-56-46,14-8,56,47zm-13,7l-56-46,13-7,56,46z /><path class=d53 d=M5069,5278l-56-46,14-7,56,46zm-13,6l-56-44,13-8,56,46zm-14,7l-55-44,13-7,56,44zm-13,6l-56-43,14-7,55,44zm-14,6l-56-42,14-7,56,43zm-13,6l-56-42,13-6,56,42zm-14,7l-56-42,14-7,56,42zm-14,6l-55-41,13-7,56,42zm-13,6l-56-39,14-8,55,41zm-14,7l-56-39,14-7,56,39zm-14,6l-55-38,13-7,56,39zm-14,6l-55-36,14-8,55,38zm-14,7l-55-36,14-7,55,36zm-13,6l-56-35,14-7,55,36zm-14,6l-55-34,13-7,56,35zm-14,6l-55-33,14-7,55,34zm-14,6l-55-32,14-7,55,33zm-14,6l-55-30,14-8,55,32zm-14,6l-55-29,14-7,55,30zm-14,6l-55-28,14-7,55,29zm-14,7l-55-27,14-8,55,28zm-14,6l-55-25,14-8,55,27zm-14,7l-55-24,14-8,55,25zm-14,7l-55-23,14-8,55,24zm-14,7l-55-22,14-8,55,23zm-15,7l-54-20,14-9,55,22zm-14,8l-54-19,14-9,54,20zm-14,8l-54-18,14-9,54,19zm-14,8l-54-17,14-9,54,18zm-14,8l-54-15,14-10,54,17zm-15,8l-53-13,14-10,54,15zm-14,9l-53-12,14-10,53,13zm-14,8l-53-10,14-10,53,12zm-14,9l-54-9,15-10,53,10z /><path class=d47 d=M4595,5512l-53-8,14-10,54,9z /><path class=d155 d=M6097,4244l-62,22,13-38,63-26zm-14,42l-62,18,14-38,62-22z /><path class=d149 d=M6070,4327l-62,13,13-36,62-18z /><path class=d143 d=M6056,4366l-61,9,13-35,62-13z /><path class=d137 d=M6043,4402l-61,6,13-33,61-9z /><path class=d131 d=M6030,4434l-61,4,13-30,61-6zm-13,29l-61,0,13-25,61-4z /><path class=d125 d=M6004,4486l-61-1,13-22,61,0zm-13,20l-60-3,12-18,61,1z /><path class=d119 d=M5978,4524l-60-5,13-16,60,3zm-12,17l-60-6,12-16,60,5zm-13,16l-60-8,13-14,60,6z /><path class=d113 d=M5941,4572l-60-9,12-14,60,8zm-13,14l-60-10,13-13,60,9zm-12,13l-60-11,12-12,60,10zm-13,13l-60-12,13-12,60,11zm-12,12l-60-12,12-12,60,12z /><path class=d107 d=M5878,4637l-59-14,12-11,60,12zm-13,12l-59-15,13-11,59,14zm-12,12l-59-16,12-11,59,15zm-13,12l-59-17,13-11,59,16zm-12,12l-59-18,12-11,59,17zm-13,12l-59-18,13-12,59,18z /><path class=d101 d=M5803,4711l-60-20,13-12,59,18zm-13,13l-59-21,12-12,60,20zm-13,15l-59-22,13-14,59,21zm-13,16l-58-24,12-14,59,22z /><path class=d95 d=M5752,4773l-59-26,13-16,58,24zm-13,19l-59-28,13-17,59,26zm-13,19l-58-28,12-19,59,28z /><path class=d89 d=M5713,4832l-58-30,13-19,58,28zm-13,21l-58-31,13-20,58,30zm-13,22l-58-34,13-19,58,31z /><path class=d83 d=M5674,4896l-58-35,13-20,58,34zm-12,21l-58-37,12-19,58,35z /><path class=d77 d=M5649,4937l-58-38,13-19,58,37zm-13,19l-58-40,13-17,58,38zm-13,18l-58-41,13-17,58,40z /><path class=d71 d=M5610,4992l-57-42,12-17,58,41zm-13,17l-57-43,13-16,57,42zm-12,17l-58-44,13-16,57,43zm-13,16l-58-45,13-15,58,44z /><path class=d65 d=M5559,5057l-57-46,12-14,58,45zm-13,14l-57-47,13-13,57,46zm-13,12l-57-47,13-12,57,47zm-13,13l-57-49,13-11,57,47zm-12,12l-58-49,13-12,57,49z /><path class=d59 d=M5495,5120l-57-50,12-11,58,49zm-13,11l-57-50,13-11,57,50zm-13,11l-57-51,13-10,57,50zm-13,9l-57-51,13-9,57,51zm-13,9l-57-51,13-9,57,51zm-13,8l-57-52,13-7,57,51zm-13,7l-57-52,13-7,57,52zm-13,8l-57-52,13-8,57,52zm-13,7l-57-52,13-7,57,52zm-13,8l-57-52,13-8,57,52zm-13,7l-57-51,13-8,57,52zm-13,8l-57-52,13-7,57,51zm-13,7l-57-51,13-8,57,52zm-13,8l-57-52,13-7,57,51z /><path class=d53 d=M5313,5235l-57-51,13-8,57,52zm-13,8l-57-52,13-7,57,51zm-14,7l-56-51,13-8,57,52zm-13,7l-57-51,14-7,56,51zm-13,6l-57-51,13-6,57,51zm-13,6l-57-50,13-7,57,51zm-14,7l-56-51,13-6,57,50zm-13,5l-57-49,14-7,56,51zm-13,6l-57-49,13-6,57,49zm-14,6l-56-49,13-6,57,49zm-13,6l-57-48,14-7,56,49zm-14,6l-56-48,13-6,57,48zm-13,7l-57-48,14-7,56,48zm-13,6l-57-47,13-7,57,48zm-14,6l-57-46,14-7,57,47zm-14,6l-56-46,13-6,57,46zm-13,6l-57-45,14-7,56,46zm-14,6l-56-45,13-6,57,45zm-13,5l-57-44,14-6,56,45zm-14,6l-56-44,13-6,57,44zm-14,5l-56-42,14-7,56,44zm-13,5l-57-41,14-6,56,42zm-14,6l-56-41,13-6,57,41zm-14,6l-56-40,14-7,56,41zm-14,5l-56-39,14-6,56,40zm-14,6l-56-39,14-6,56,39zm-13,5l-57-37,14-7,56,39zm-14,5l-56-36,13-6,57,37zm-14,5l-56-35,14-6,56,36zm-14,5l-56-34,14-6,56,35zm-14,4l-56-32,14-6,56,34zm-14,5l-56-31,14-6,56,32zm-14,5l-56-30,14-6,56,31zm-14,5l-56-29,14-6,56,30z /><path class=d59 d=M4849,5430l-55-27,14-7,56,29zm-14,5l-55-26,14-6,55,27zm-14,6l-55-25,14-7,55,26zm-14,5l-55-23,14-7,55,25zm-14,6l-55-22,14-7,55,23zm-15,7l-55-22,15-7,55,22zm-14,6l-55-20,14-8,55,22zm-14,6l-55-18,14-8,55,20z /><path class=d53 d=M4735,5478l-54-17,14-8,55,18zm-14,7l-54-16,14-8,54,17zm-14,6l-55-14,15-8,54,16z /><path class=d52 d=M4692,5498l-54-12,14-9,55,14zm-14,8l-54-12,14-8,54,12zm-14,7l-54-10,14-9,54,12zm-15,7l-54-8,15-9,54,10z /><path class=d167 d=M6161,4223l-64,21,14-42,64-25z /><path class=d161 d=M6146,4269l-63,17,14-42,64-21z /><path class=d155 d=M6133,4314l-63,13,13-41,63-17z /><path class=d149 d=M6119,4356l-63,10,14-39,63-13z /><path class=d143 d=M6105,4396l-62,6,13-36,63-10z /><path class=d137 d=M6092,4432l-62,2,13-32,62-6z /><path class=d131 d=M6078,4463l-61,0,13-29,62-2zm-13,25l-61-2,13-23,61,0z /><path class=d125 d=M6052,4510l-61-4,13-20,61,2zm-12,19l-62-5,13-18,61,4zm-13,19l-61-7,12-17,62,5z /><path class=d119 d=M6014,4565l-61-8,13-16,61,7zm-13,16l-60-9,12-15,61,8zm-12,15l-61-10,13-14,60,9zm-13,15l-60-12,12-13,61,10z /><path class=d113 d=M5964,4625l-61-13,13-13,60,12zm-13,13l-60-14,12-12,61,13zm-13,13l-60-14,13-13,60,14zm-12,13l-61-15,13-12,60,14zm-13,13l-60-16,12-12,61,15z /><path class=d107 d=M5900,4690l-60-17,13-12,60,16zm-12,13l-60-18,12-12,60,17zm-13,14l-60-20,13-12,60,18zm-13,14l-59-20,12-14,60,20zm-12,15l-60-22,13-13,59,20z /><path class=d101 d=M5837,4763l-60-24,13-15,60,22zm-13,17l-60-25,13-16,60,24zm-13,19l-59-26,12-18,60,25z /><path class=d95 d=M5798,4820l-59-28,13-19,59,26zm-13,21l-59-30,13-19,59,28zm-13,22l-59-31,13-21,59,30z /><path class=d89 d=M5759,4886l-59-33,13-21,59,31zm-13,23l-59-34,13-22,59,33z /><path class=d83 d=M5733,4932l-59-36,13-21,59,34zm-13,22l-58-37,12-21,59,36z /><path class=d77 d=M5707,4976l-58-39,13-20,58,37zm-13,20l-58-40,13-19,58,39zm-13,20l-58-42,13-18,58,40z /><path class=d71 d=M5669,5035l-59-43,13-18,58,42zm-13,18l-59-44,13-17,59,43zm-13,18l-58-45,12-17,59,44z /><path class=d65 d=M5630,5089l-58-47,13-16,58,45zm-13,16l-58-48,13-15,58,47zm-13,14l-58-48,13-14,58,48zm-13,13l-58-49,13-12,58,48z /><path class=d59 d=M5578,5146l-58-50,13-13,58,49zm-13,12l-57-50,12-12,58,50zm-12,13l-58-51,13-12,57,50zm-13,12l-58-52,13-11,58,51zm-13,11l-58-52,13-11,58,52zm-13,10l-58-53,13-9,58,52zm-13,9l-58-53,13-9,58,53z /><path class=d53 d=M5488,5220l-58-52,13-8,58,53zm-13,8l-58-53,13-7,58,52zm-13,7l-58-52,13-8,58,53zm-13,8l-58-53,13-7,58,52zm-13,8l-58-53,13-8,58,53zm-13,7l-58-53,13-7,58,53zm-13,8l-58-53,13-8,58,53zm-13,7l-58-53,13-7,58,53zm-14,8l-57-53,13-8,58,53zm-13,7l-57-53,13-7,57,53zm-13,7l-57-52,13-8,57,53zm-13,8l-58-53,14-7,57,52zm-13,6l-58-52,13-7,58,53zm-14,6l-57-52,13-6,58,52zm-13,6l-57-52,13-6,57,52zm-13,6l-58-51,14-7,57,52zm-14,6l-57-52,13-5,58,51zm-13,5l-57-51,13-6,57,52zm-13,5l-58-50,14-6,57,51zm-14,6l-57-50,13-6,58,50zm-13,6l-58-50,14-6,57,50zm-14,5l-57-48,13-7,58,50zm-13,6l-57-48,13-6,57,48zm-14,6l-57-48,14-6,57,48zm-13,5l-58-47,14-6,57,48zm-14,5l-57-46,13-6,58,47zm-14,5l-57-45,14-6,57,46zm-13,5l-57-45,13-5,57,45zm-14,5l-57-44,14-6,57,45zm-14,5l-57-44,14-5,57,44zm-13,4l-57-43,13-5,57,44zm-14,5l-57-42,14-6,57,43zm-14,5l-57-41,14-6,57,42zm-14,4l-57-40,14-5,57,41zm-14,5l-57-39,14-6,57,40zm-14,4l-56-38,13-5,57,39zm-14,4l-56-37,14-5,56,38zm-14,4l-56-36,14-5,56,37z /><path class=d59 d=M4976,5441l-56-35,14-5,56,36zm-14,3l-56-34,14-4,56,35z /><path class=d58 d=M4948,5448l-56-33,14-5,56,34zm-14,4l-56-32,14-5,56,33zm-14,3l-56-30,14-5,56,32zm-14,4l-57-29,15-5,56,30zm-15,4l-56-28,14-5,57,29zm-14,4l-56-26,14-6,56,28zm-14,5l-56-26,14-5,56,26zm-14,4l-56-24,14-6,56,26zm-15,5l-56-22,15-7,56,24zm-14,5l-56-21,14-6,56,22zm-15,5l-55-20,14-6,56,21zm-14,5l-56-18,15-7,55,20zm-14,6l-56-17,14-7,56,18zm-15,5l-55-16,14-6,56,17zm-14,5l-56-14,15-7,55,16zm-15,6l-55-12,14-8,56,14z /><path class=d57 d=M4718,5524l-54-11,14-7,55,12zm-14,6l-55-10,15-7,54,11z /><path class=d173 d=M6225,4202l-64,21,14-46,65-26z /><path class=d167 d=M6211,4252l-65,17,15-46,64-21z /><path class=d161 d=M6196,4301l-63,13,13-45,65-17z /><path class=d155 d=M6182,4347l-63,9,14-42,63-13z /><path class=d149 d=M6168,4390l-63,6,14-40,63-9z /><path class=d143 d=M6154,4429l-62,3,13-36,63-6z /><path class=d137 d=M6141,4463l-63,0,14-31,62-3zm-13,27l-63-2,13-25,63,0z /><path class=d131 d=M6115,4514l-63-4,13-22,63,2zm-13,21l-62-6,12-19,63,4z /><path class=d125 d=M6089,4555l-62-7,13-19,62,6zm-13,19l-62-9,13-17,62,7zm-13,17l-62-10,13-16,62,9z /><path class=d119 d=M6050,4607l-61-11,12-15,62,10zm-12,16l-62-12,13-15,61,11zm-13,15l-61-13,12-14,62,12zm-13,14l-61-14,13-13,61,13z /><path class=d113 d=M6000,4666l-62-15,13-13,61,14zm-13,14l-61-16,12-13,62,15zm-13,14l-61-17,13-13,61,16zm-13,14l-61-18,13-13,61,17zm-12,14l-61-19,12-13,61,18z /><path class=d107 d=M5936,4737l-61-20,13-14,61,19zm-13,16l-61-22,13-14,61,20zm-13,16l-60-23,12-15,61,22zm-13,18l-60-24,13-17,60,23z /><path class=d101 d=M5884,4806l-60-26,13-17,60,24zm-13,20l-60-27,13-19,60,26zm-13,22l-60-28,13-21,60,27z /><path class=d95 d=M5845,4871l-60-30,13-21,60,28zm-13,24l-60-32,13-22,60,30z /><path class=d89 d=M5819,4920l-60-34,13-23,60,32zm-13,24l-60-35,13-23,60,34z /><path class=d83 d=M5793,4969l-60-37,13-23,60,35zm-13,24l-60-39,13-22,60,37z /><path class=d77 d=M5767,5016l-60-40,13-22,60,39zm-13,22l-60-42,13-20,60,40z /><path class=d71 d=M5741,5058l-60-42,13-20,60,42zm-13,20l-59-43,12-19,60,42zm-13,20l-59-45,13-18,59,43z /><path class=d65 d=M5702,5117l-59-46,13-18,59,45zm-13,19l-59-47,13-18,59,46zm-13,17l-59-48,13-16,59,47z /><path class=d59 d=M5663,5168l-59-49,13-14,59,48zm-13,14l-59-50,13-13,59,49zm-13,14l-59-50,13-14,59,50zm-13,14l-59-52,13-12,59,50zm-13,13l-58-52,12-13,59,52z /><path class=d53 d=M5598,5235l-58-52,13-12,58,52zm-13,12l-58-53,13-11,58,52zm-13,10l-58-53,13-10,58,53zm-13,9l-58-53,13-9,58,53zm-13,8l-58-54,13-7,58,53zm-13,8l-58-54,13-8,58,54zm-13,7l-58-54,13-7,58,54zm-13,8l-58-54,13-8,58,54zm-13,7l-58-53,13-8,58,54zm-13,8l-58-54,13-7,58,53zm-13,7l-58-53,13-8,58,54zm-13,8l-58-54,13-7,58,53zm-13,7l-59-53,14-8,58,54zm-14,8l-58-54,13-7,59,53zm-13,7l-58-54,13-7,58,54zm-13,7l-58-53,13-8,58,54zm-13,6l-58-53,13-6,58,53zm-13,6l-59-53,14-6,58,53zm-14,6l-58-53,13-6,59,53zm-13,5l-58-52,13-6,58,53zm-13,6l-59-52,14-6,58,52zm-14,5l-58-52,13-5,59,52zm-13,5l-58-52,13-5,58,52zm-14,5l-58-51,14-6,58,52zm-13,5l-58-50,13-6,58,51zm-14,5l-58-50,14-5,58,50zm-13,5l-58-49,13-6,58,50zm-14,5l-58-48,14-6,58,49zm-13,5l-58-48,13-5,58,48zm-14,5l-58-48,14-5,58,48zm-14,4l-58-47,14-5,58,48zm-13,4l-58-46,13-5,58,47zm-14,4l-58-45,14-5,58,46zm-14,4l-58-44,14-5,58,45zm-14,4l-57-44,13-4,58,44zm-13,4l-58-43,14-5,57,44zm-14,4l-58-42,14-5,58,43zm-14,4l-58-42,14-4,58,42zm-14,3l-58-40,14-5,58,42zm-14,3l-58-39,14-4,58,40z /><path class=d52 d=M5062,5471l-58-38,14-4,58,39z /><path class=d58 d=M5048,5474l-58-37,14-4,58,38zm-14,2l-58-35,14-4,58,37zm-14,3l-58-35,14-3,58,35zm-15,2l-57-33,14-4,58,35zm-14,3l-57-32,14-4,57,33zm-14,2l-57-31,14-3,57,32zm-14,3l-57-30,14-4,57,31zm-15,2l-57-28,15-4,57,30zm-14,3l-57-27,14-4,57,28zm-14,3l-57-25,14-5,57,27zm-15,4l-56-25,14-4,57,25zm-14,3l-57-23,15-5,56,25z /><path class=d63 d=M4876,5508l-56-22,14-5,57,23zm-14,3l-57-20,15-5,56,22zm-15,4l-56-19,14-5,57,20zm-14,4l-56-17,14-6,56,19zm-15,4l-56-16,15-5,56,17zm-14,4l-56-15,14-5,56,16zm-15,4l-56-13,15-6,56,15zm-15,4l-56-11,15-6,56,13z /><path class=d62 d=M4760,5540l-56-10,14-6,56,11z /><path class=d185 d=M6291,4180l-66,22,15-51,66-26z /><path class=d173 d=M6276,4234l-65,18,14-50,66-22z /><path class=d167 d=M6261,4287l-65,14,15-49,65-18z /><path class=d161 d=M6247,4338l-65,9,14-46,65-14z /><path class=d155 d=M6232,4384l-64,6,14-43,65-9z /><path class=d149 d=M6218,4426l-64,3,14-39,64-6z /><path class=d143 d=M6205,4463l-64,0,13-34,64-3zm-14,30l-63-3,13-27,64,0z /><path class=d137 d=M6178,4518l-63-4,13-24,63,3z /><path class=d131 d=M6165,4541l-63-6,13-21,63,4zm-13,21l-63-7,13-20,63,6zm-13,20l-63-8,13-19,63,7z /><path class=d125 d=M6126,4601l-63-10,13-17,63,8zm-13,17l-63-11,13-16,63,10zm-13,17l-62-12,12-16,63,11z /><path class=d119 d=M6087,4651l-62-13,13-15,62,12zm-13,15l-62-14,13-14,62,13zm-12,15l-62-15,12-14,62,14zm-13,15l-62-16,13-14,62,15zm-13,15l-62-17,13-14,62,16z /><path class=d113 d=M6023,4726l-62-18,13-14,62,17zm-13,16l-61-20,12-14,62,18zm-13,16l-61-21,13-15,61,20zm-13,16l-61-21,13-16,61,21z /><path class=d107 d=M5972,4792l-62-23,13-16,61,21zm-14,19l-61-24,13-18,62,23zm-13,21l-61-26,13-19,61,24z /><path class=d101 d=M5932,4854l-61-28,13-20,61,26zm-13,23l-61-29,13-22,61,28z /><path class=d95 d=M5906,4902l-61-31,13-23,61,29zm-13,26l-61-33,13-24,61,31z /><path class=d89 d=M5879,4954l-60-34,13-25,61,33zm-13,26l-60-36,13-24,60,34z /><path class=d83 d=M5853,5006l-60-37,13-25,60,36zm-13,26l-60-39,13-24,60,37z /><path class=d77 d=M5826,5056l-59-40,13-23,60,39zm-13,24l-59-42,13-22,59,40z /><path class=d71 d=M5800,5101l-59-43,13-20,59,42zm-13,22l-59-45,13-20,59,43zm-13,21l-59-46,13-20,59,45z /><path class=d65 d=M5761,5164l-59-47,13-19,59,46zm-13,20l-59-48,13-19,59,47z /><path class=d59 d=M5735,5202l-59-49,13-17,59,48zm-13,16l-59-50,13-15,59,49zm-13,15l-59-51,13-14,59,50zm-13,14l-59-51,13-14,59,51z /><path class=d53 d=M5683,5262l-59-52,13-14,59,51zm-13,13l-59-52,13-13,59,52zm-13,13l-59-53,13-12,59,52zm-13,12l-59-53,13-12,59,53zm-13,11l-59-54,13-10,59,53zm-13,10l-59-55,13-9,59,54zm-13,8l-59-55,13-8,59,55zm-13,7l-59-54,13-8,59,55z /><path class=d47 d=M5579,5344l-59-55,13-7,59,54zm-13,8l-59-55,13-8,59,55zm-13,7l-59-55,13-7,59,55zm-13,8l-59-55,13-8,59,55zm-13,7l-59-55,13-7,59,55zm-13,8l-59-55,13-8,59,55zm-14,7l-58-55,13-7,59,55zm-13,7l-59-54,14-8,58,55zm-13,7l-59-54,13-7,59,54zm-13,7l-59-54,13-7,59,54zm-14,7l-58-55,13-6,59,54zm-13,5l-58-54,13-6,58,55zm-13,6l-59-54,14-6,58,54zm-13,5l-59-54,13-5,59,54zm-14,5l-58-53,13-6,59,54zm-13,4l-59-52,14-5,58,53zm-14,5l-58-52,13-5,59,52zm-13,4l-59-51,14-5,58,52zm-14,5l-58-51,13-5,59,51zm-13,5l-59-51,14-5,58,51zm-14,5l-58-51,13-5,59,51z /><path class=d53 d=M5300,5470l-59-50,14-5,58,51zm-14,4l-58-49,13-5,59,50zm-13,4l-59-48,14-5,58,49zm-14,4l-59-48,14-4,59,48zm-14,3l-58-47,13-4,59,48zm-14,4l-58-47,14-4,58,47zm-13,3l-59-46,14-4,58,47zm-14,3l-59-45,14-4,59,46zm-14,3l-58-44,13-4,59,45zm-14,3l-58-43,14-4,58,44zm-14,3l-58-42,14-4,58,43z /><path class=d52 d=M5148,5506l-58-41,14-3,58,42zm-14,2l-58-40,14-3,58,41z /><path class=d58 d=M5120,5510l-58-39,14-3,58,40zm-14,2l-58-38,14-3,58,39zm-14,1l-58-37,14-2,58,38z /><path class=d57 d=M5078,5515l-58-36,14-3,58,37zm-14,1l-59-35,15-2,58,36zm-15,1l-58-33,14-3,59,35zm-14,1l-58-32,14-2,58,33zm-14,2l-58-31,14-3,58,32zm-15,1l-58-30,15-2,58,31z /><path class=d63 d=M4992,5522l-58-28,14-3,58,30zm-14,2l-58-27,14-3,58,28zm-15,2l-58-25,15-4,58,27zm-14,3l-58-25,14-3,58,25zm-15,2l-58-23,15-4,58,25zm-15,2l-57-22,14-3,58,23zm-14,2l-58-20,15-4,57,22z /><path class=d62 d=M4890,5538l-57-19,14-4,58,20zm-14,2l-58-17,15-4,57,19zm-15,3l-57-16,14-4,58,17z /><path class=d68 d=M4846,5545l-57-14,15-4,57,16zm-15,3l-57-13,15-4,57,14zm-15,3l-56-11,14-5,57,13z /><path class=d191 d=M6358,4158l-67,22,15-55,68-27z /><path class=d185 d=M6343,4216l-67,18,15-54,67-22z /><path class=d173 d=M6328,4274l-67,13,15-53,67-18z /><path class=d167 d=M6313,4328l-66,10,14-51,67-13z /><path class=d161 d=M6298,4378l-66,6,15-46,66-10z /><path class=d155 d=M6283,4423l-65,3,14-42,66-6z /><path class=d149 d=M6269,4463l-64,0,13-37,65-3z /><path class=d143 d=M6256,4495l-65-2,14-30,64,0zm-14,27l-64-4,13-25,65,2z /><path class=d137 d=M6229,4547l-64-6,13-23,64,4zm-13,23l-64-8,13-21,64,6z /><path class=d131 d=M6202,4591l-63-9,13-20,64,8zm-13,20l-63-10,13-19,63,9zm-13,19l-63-12,13-17,63,10z /><path class=d125 d=M6163,4647l-63-12,13-17,63,12zm-13,17l-63-13,13-16,63,12zm-12,17l-64-15,13-15,63,13z /><path class=d119 d=M6125,4697l-63-16,12-15,64,15zm-13,16l-63-17,13-15,63,16zm-13,16l-63-18,13-15,63,17zm-13,16l-63-19,13-15,63,18z /><path class=d113 d=M6073,4761l-63-19,13-16,63,19zm-13,18l-63-21,13-16,63,19zm-13,17l-63-22,13-16,63,21zm-13,20l-62-24,12-18,63,22z /><path class=d107 d=M6021,4836l-63-25,14-19,62,24zm-14,22l-62-26,13-21,63,25z /><path class=d101 d=M5994,4882l-62-28,13-22,62,26zm-13,25l-62-30,13-23,62,28z /><path class=d95 d=M5967,4934l-61-32,13-25,62,30zm-13,27l-61-33,13-26,61,32z /><path class=d89 d=M5941,4989l-62-35,14-26,61,33zm-14,28l-61-37,13-26,62,35z /><path class=d83 d=M5914,5044l-61-38,13-26,61,37zm-14,27l-60-39,13-26,61,38z /><path class=d77 d=M5887,5097l-61-41,14-24,60,39zm-13,25l-61-42,13-24,61,41z /><path class=d71 d=M5861,5146l-61-45,13-21,61,42zm-14,22l-60-45,13-22,61,45z /><path class=d65 d=M5834,5191l-60-47,13-21,60,45zm-13,21l-60-48,13-20,60,47z /><path class=d59 d=M5808,5233l-60-49,13-20,60,48zm-13,19l-60-50,13-18,60,49zm-13,17l-60-51,13-16,60,50zm-13,15l-60-51,13-15,60,51z /><path class=d53 d=M5756,5300l-60-53,13-14,60,51zm-13,15l-60-53,13-15,60,53zm-13,14l-60-54,13-13,60,53zm-13,14l-60-55,13-13,60,54z /><path class=d47 d=M5704,5355l-60-55,13-12,60,55zm-13,12l-60-56,13-11,60,55zm-13,9l-60-55,13-10,60,56zm-13,8l-60-55,13-8,60,55zm-14,8l-59-56,13-7,60,55zm-13,8l-59-56,13-8,59,56zm-13,7l-59-55,13-8,59,56zm-13,8l-59-56,13-7,59,55zm-13,8l-59-56,13-8,59,56zm-13,7l-59-56,13-7,59,56zm-13,8l-59-56,13-8,59,56zm-13,7l-60-56,14-7,59,56zm-13,7l-60-56,13-7,60,56zm-14,7l-59-56,13-7,60,56zm-13,7l-59-56,13-7,59,56zm-13,6l-60-55,14-7,59,56zm-13,6l-60-56,13-5,60,55zm-14,5l-59-55,13-6,60,56zm-13,5l-59-55,13-5,59,55zm-13,4l-60-54,14-5,59,55zm-14,4l-59-54,13-4,60,54zm-13,5l-60-54,14-5,59,54zm-14,4l-59-54,13-4,60,54zm-13,4l-60-53,14-5,59,54zm-14,4l-59-52,13-5,60,53zm-13,4l-60-51,14-5,59,52zm-14,4l-59-51,13-4,60,51zm-14,4l-59-51,14-4,59,51zm-13,3l-59-50,13-4,59,51zm-14,3l-59-49,14-4,59,50z /><path class=d53 d=M5304,5534l-59-49,14-3,59,49zm-13,3l-60-48,14-4,59,49zm-14,2l-59-47,13-3,60,48zm-14,3l-59-47,14-3,59,47zm-14,2l-59-46,14-3,59,47z /><path class=d52 d=M5235,5546l-59-45,14-3,59,46zm-14,2l-59-44,14-3,59,45zm-14,1l-59-43,14-2,59,44zm-14,1l-59-42,14-2,59,43z /><path class=d58 d=M5179,5551l-59-41,14-2,59,42z /><path class=d57 d=M5165,5552l-59-40,14-2,59,41zm-14,0l-59-39,14-1,59,40zm-14,0l-59-37,14-2,59,39zm-14,0l-59-36,14-1,59,37zm-15,0l-59-35,15-1,59,36zm-14,0l-59-34,14-1,59,35z /><path class=d62 d=M5080,5552l-59-32,14-2,59,34zm-15,0l-59-31,15-1,59,32zm-14,1l-59-31,14-1,59,31zm-15,0l-58-29,14-2,59,31zm-14,1l-59-28,15-2,58,29zm-15,1l-58-26,14-3,59,28zm-14,0l-59-24,15-2,58,26z /><path class=d68 d=M4978,5556l-59-23,15-2,59,24zm-15,1l-58-22,14-2,59,23zm-15,1l-58-20,15-3,58,22zm-14,1l-58-19,14-2,58,20z /><path class=d67 d=M4919,5560l-58-17,15-3,58,19zm-15,1l-58-16,15-2,58,17zm-15,1l-58-14,15-3,58,16zm-15,2l-58-13,15-3,58,14z /><path class=d197 d=M6427,4134l-69,24,16-60,69-28z /><path class=d191 d=M6411,4198l-68,18,15-58,69-24z /><path class=d185 d=M6395,4259l-67,15,15-58,68-18z /><path class=d173 d=M6379,4317l-66,11,15-54,67-15z /><path class=d167 d=M6364,4371l-66,7,15-50,66-11z /><path class=d161 d=M6349,4420l-66,3,15-45,66-7z /><path class=d155 d=M6335,4462l-66,1,14-40,66-3z /><path class=d149 d=M6321,4497l-65-2,13-32,66-1z /><path class=d143 d=M6307,4526l-65-4,14-27,65,2zm-13,27l-65-6,13-25,65,4z /><path class=d137 d=M6280,4577l-64-7,13-23,65,6zm-13,23l-65-9,14-21,64,7zm-13,21l-65-10,13-20,65,9z /><path class=d131 d=M6241,4641l-65-11,13-19,65,10zm-13,19l-65-13,13-17,65,11zm-13,18l-65-14,13-17,65,13z /><path class=d125 d=M6202,4696l-64-15,12-17,65,14zm-13,17l-64-16,13-16,64,15zm-14,17l-63-17,13-16,64,16z /><path class=d119 d=M6162,4747l-63-18,13-16,63,17zm-13,17l-63-19,13-16,63,18zm-13,18l-63-21,13-16,63,19zm-13,18l-63-21,13-18,63,21z /><path class=d113 d=M6110,4819l-63-23,13-17,63,21zm-13,21l-63-24,13-20,63,23z /><path class=d107 d=M6083,4861l-62-25,13-20,63,24zm-13,24l-63-27,14-22,62,25zm-13,26l-63-29,13-24,63,27z /><path class=d101 d=M6043,4938l-62-31,13-25,63,29zm-13,28l-63-32,14-27,62,31z /><path class=d95 d=M6016,4995l-62-34,13-27,63,32z /><path class=d89 d=M6003,5025l-62-36,13-28,62,34zm-14,29l-62-37,14-28,62,36z /><path class=d83 d=M5975,5083l-61-39,13-27,62,37zm-13,29l-62-41,14-27,61,39z /><path class=d77 d=M5948,5140l-61-43,13-26,62,41z /><path class=d71 d=M5935,5166l-61-44,13-25,61,43zm-13,25l-61-45,13-24,61,44z /><path class=d65 d=M5908,5215l-61-47,14-22,61,45zm-13,23l-61-47,13-23,61,47zm-13,23l-61-49,13-21,61,47z /><path class=d59 d=M5869,5283l-61-50,13-21,61,49zm-14,20l-60-51,13-19,61,50z /><path class=d53 d=M5842,5321l-60-52,13-17,60,51zm-13,16l-60-53,13-15,60,52zm-13,16l-60-53,13-16,60,53zm-13,16l-60-54,13-15,60,53z /><path class=d47 d=M5790,5384l-60-55,13-14,60,54zm-13,14l-60-55,13-14,60,55zm-13,14l-60-57,13-12,60,55zm-13,11l-60-56,13-12,60,57zm-13,10l-60-57,13-9,60,56zm-13,9l-60-58,13-8,60,57zm-13,7l-61-57,14-8,60,58zm-13,8l-61-57,13-8,61,57zm-14,8l-60-58,13-7,61,57z /><path class=d41 d=M5672,5473l-60-58,13-8,60,58zm-13,7l-60-57,13-8,60,58zm-13,8l-60-58,13-7,60,57zm-13,7l-60-57,13-8,60,58zm-13,7l-60-57,13-7,60,57zm-13,8l-60-58,13-7,60,57zm-14,7l-60-58,14-7,60,58zm-13,6l-60-57,13-7,60,58zm-13,7l-60-58,13-6,60,57zm-14,5l-59-57,13-6,60,58zm-13,5l-60-57,14-5,59,57zm-13,4l-60-56,13-5,60,57zm-14,4l-59-56,13-4,60,56z /><path class=d47 d=M5500,5552l-60-56,14-4,59,56zm-13,4l-60-55,13-5,60,56zm-14,4l-60-55,14-4,60,55zm-13,3l-60-54,13-4,60,55zm-14,4l-60-54,14-4,60,54zm-13,4l-60-54,13-4,60,54zm-14,4l-60-54,14-4,60,54zm-14,3l-60-53,14-4,60,54zm-13,2l-60-52,13-3,60,53zm-14,3l-60-52,14-3,60,52zm-14,2l-60-51,14-3,60,52zm-13,2l-60-50,13-3,60,51z /><path class=d52 d=M5337,5589l-60-50,14-2,60,50zm-14,1l-60-48,14-3,60,50zm-14,2l-60-48,14-2,60,48zm-14,1l-60-47,14-2,60,48zm-14,1l-60-46,14-2,60,47zm-14,1l-60-46,14-1,60,46z /><path class=d51 d=M5253,5595l-60-45,14-1,60,46zm-14-1l-60-43,14-1,60,45z /><path class=d57 d=M5225,5594l-60-42,14-1,60,43zm-14-1l-60-41,14,0,60,42z /><path class=d56 d=M5197,5592l-60-40,14,0,60,41zm-15-1l-59-39,14,0,60,40zm-14-1l-60-38,15,0,59,39z /><path class=d62 d=M5154,5588l-60-36,14,0,60,38zm-15-1l-59-35,14,0,60,36zm-14-1l-60-34,15,0,59,35zm-15-1l-59-32,14-1,60,34zm-14-1l-60-31,15,0,59,32zm-15,0l-59-30,14-1,60,31z /><path class=d68 d=M5067,5583l-60-28,15-1,59,30zm-15,0l-59-28,14,0,60,28z /><path class=d67 d=M5037,5582l-59-26,15-1,59,28zm-15,0l-59-25,15-1,59,26zm-14-1l-60-23,15-1,59,25z /><path class=d73 d=M4993,5581l-59-22,14-1,60,23zm-15-1l-59-20,15-1,59,22zm-15,0l-59-19,15-1,59,20z /><path class=d72 d=M4948,5579l-59-17,15-1,59,19zm-15,0l-59-15,15-2,59,17z /><path class=d209 d=M6496,4110l-69,24,16-64,70-29z /><path class=d197 d=M6480,4178l-69,20,16-64,69-24z /><path class=d191 d=M6464,4244l-69,15,16-61,69-20z /><path class=d179 d=M6448,4306l-69,11,16-58,69-15z /><path class=d173 d=M6432,4364l-68,7,15-54,69-11z /><path class=d167 d=M6417,4417l-68,3,15-49,68-7z /><path class=d161 d=M6402,4462l-67,0,14-42,68-3z /><path class=d155 d=M6388,4499l-67-2,14-35,67,0z /><path class=d149 d=M6374,4530l-67-4,14-29,67,2zm-14,28l-66-5,13-27,67,4z /><path class=d143 d=M6346,4584l-66-7,14-24,66,5zm-13,25l-66-9,13-23,66,7z /><path class=d137 d=M6319,4631l-65-10,13-21,66,9zm-13,22l-65-12,13-20,65,10z /><path class=d131 d=M6293,4673l-65-13,13-19,65,12zm-13,19l-65-14,13-18,65,13zm-13,19l-65-15,13-18,65,14z /><path class=d125 d=M6253,4729l-64-16,13-17,65,15zm-13,18l-65-17,14-17,64,16zm-13,18l-65-18,13-17,65,17zm-13,18l-65-19,13-17,65,18z /><path class=d119 d=M6201,4802l-65-20,13-18,65,19zm-14,20l-64-22,13-18,65,20zm-13,20l-64-23,13-19,64,22z /><path class=d113 d=M6161,4864l-64-24,13-21,64,23zm-14,23l-64-26,14-21,64,24z /><path class=d107 d=M6134,4913l-64-28,13-24,64,26zm-14,27l-63-29,13-26,64,28z /><path class=d101 d=M6106,4969l-63-31,14-27,63,29zm-13,30l-63-33,13-28,63,31z /><path class=d95 d=M6079,5030l-63-35,14-29,63,33z /><path class=d89 d=M6065,5061l-62-36,13-30,63,35zm-14,31l-62-38,14-29,62,36z /><path class=d83 d=M6038,5123l-63-40,14-29,62,38z /><path class=d77 d=M6024,5154l-62-42,13-29,63,40zm-14,29l-62-43,14-28,62,42z /><path class=d71 d=M5997,5211l-62-45,13-26,62,43zm-14,26l-61-46,13-25,62,45z /><path class=d65 d=M5970,5262l-62-47,14-24,61,46zm-13,25l-62-49,13-23,62,47z /><path class=d59 d=M5943,5311l-61-50,13-23,62,49zm-13,23l-61-51,13-22,61,50z /><path class=d53 d=M5917,5355l-62-52,14-20,61,51zm-14,19l-61-53,13-18,62,52zm-13,17l-61-54,13-16,61,53zm-13,17l-61-55,13-16,61,54z /><path class=d47 d=M5864,5425l-61-56,13-16,61,55zm-13,16l-61-57,13-15,61,56zm-13,14l-61-57,13-14,61,57zm-14,14l-60-57,13-14,61,57z /><path class=d41 d=M5811,5481l-60-58,13-11,60,57zm-13,11l-60-59,13-10,60,58zm-13,8l-60-58,13-9,60,59zm-13,8l-60-59,13-7,60,58zm-13,8l-60-59,13-8,60,59zm-13,8l-61-59,14-8,60,59zm-13,8l-61-59,13-8,61,59zm-13,7l-61-59,13-7,61,59zm-13,8l-61-59,13-8,61,59zm-13,7l-61-59,13-7,61,59zm-14,7l-60-59,13-7,61,59zm-13,8l-60-59,13-8,60,59zm-13,7l-61-59,14-7,60,59zm-13,7l-61-60,13-6,61,59zm-14,5l-60-58,13-7,61,60zm-13,6l-61-59,14-5,60,58zm-13,4l-61-58,13-5,61,59zm-14,5l-60-59,13-4,61,58zm-13,4l-61-59,14-4,60,59zm-13,3l-61-58,13-4,61,59zm-14,3l-60-57,13-4,61,58zm-13,4l-61-57,14-4,60,57zm-14,3l-60-57,13-3,61,57zm-13,3l-61-56,14-4,60,57zm-14,4l-60-56,13-4,61,56z /><path class=d47 d=M5480,5630l-61-55,14-4,60,56zm-14,2l-61-54,14-3,61,55zm-14,3l-60-55,13-2,61,54zm-13,1l-61-53,14-3,60,55z /><path class=d46 d=M5425,5638l-61-53,14-2,61,53zm-14,1l-60-52,13-2,61,53zm-14,1l-60-51,14-2,60,52zm-13,1l-61-51,14-1,60,51z /><path class=d52 d=M5370,5642l-61-50,14-2,61,51zm-14,0l-61-49,14-1,61,50zm-14,1l-61-49,14-1,61,49z /><path class=d51 d=M5328,5642l-61-47,14-1,61,49zm-14-1l-61-46,14,0,61,47zm-14-1l-61-46,14,1,61,46z /><path class=d56 d=M5286,5638l-61-44,14,0,61,46zm-15-2l-60-43,14,1,61,44zm-14-2l-60-42,14,1,60,43zm-14-2l-61-41,15,1,60,42zm-14-3l-61-39,14,1,61,41z /><path class=d62 d=M5214,5627l-60-39,14,2,61,39zm-14-3l-61-37,15,1,60,39z /><path class=d61 d=M5185,5622l-60-36,14,1,61,37zm-14-2l-61-35,15,1,60,36z /><path class=d67 d=M5156,5618l-60-34,14,1,61,35zm-14-2l-61-32,15,0,60,34zm-15-2l-60-31,14,1,61,32zm-15-2l-60-29,15,0,60,31zm-14-1l-61-29,15,1,60,29z /><path class=d73 d=M5083,5609l-61-27,15,0,61,29zm-15-2l-60-26,14,1,61,27z /><path class=d72 d=M5053,5605l-60-24,15,0,60,26zm-15-2l-60-23,15,1,60,24zm-15-2l-60-21,15,0,60,23z /><path class=d78 d=M5008,5599l-60-20,15,1,60,21zm-15-2l-60-18,15,0,60,20z /><path class=d215 d=M6567,4085l-71,25,17-69,72-30z /><path class=d209 d=M6550,4158l-70,20,16-68,71-25z /><path class=d197 d=M6533,4228l-69,16,16-66,70-20z /><path class=d191 d=M6517,4295l-69,11,16-62,69-16z /><path class=d179 d=M6501,4357l-69,7,16-58,69-11z /><path class=d173 d=M6485,4413l-68,4,15-53,69-7z /><path class=d167 d=M6470,4461l-68,1,15-45,68-4z /><path class=d161 d=M6455,4500l-67-1,14-37,68-1z /><path class=d155 d=M6441,4533l-67-3,14-31,67,1z /><path class=d149 d=M6427,4563l-67-5,14-28,67,3zm-14,28l-67-7,14-26,67,5z /><path class=d143 d=M6400,4617l-67-8,13-25,67,7zm-14,24l-67-10,14-22,67,8z /><path class=d137 d=M6373,4664l-67-11,13-22,67,10zm-14,21l-66-12,13-20,67,11zm-13,21l-66-14,13-19,66,12z /><path class=d131 d=M6333,4725l-66-14,13-19,66,14zm-14,20l-66-16,14-18,66,14zm-13,19l-66-17,13-18,66,16z /><path class=d125 d=M6293,4783l-66-18,13-18,66,17zm-14,19l-65-19,13-18,66,18zm-13,21l-65-21,13-19,65,19z /><path class=d119 d=M6253,4843l-66-21,14-20,65,21zm-14,22l-65-23,13-20,66,21z /><path class=d113 d=M6226,4889l-65-25,13-22,65,23zm-14,25l-65-27,14-23,65,25zm-14,27l-64-28,13-26,65,27z /><path class=d107 d=M6184,4970l-64-30,14-27,64,28z /><path class=d101 d=M6171,5000l-65-31,14-29,64,30zm-14,32l-64-33,13-30,65,31z /><path class=d95 d=M6143,5065l-64-35,14-31,64,33z /><path class=d89 d=M6129,5098l-64-37,14-31,64,35zm-14,33l-64-39,14-31,64,37z /><path class=d83 d=M6101,5164l-63-41,13-31,64,39z /><path class=d77 d=M6087,5196l-63-42,14-31,63,41zm-14,30l-63-43,14-29,63,42z /><path class=d71 d=M6060,5256l-63-45,13-28,63,43zm-14,27l-63-46,14-26,63,45z /><path class=d65 d=M6032,5310l-62-48,13-25,63,46zm-13,26l-62-49,13-25,62,48z /><path class=d59 d=M6005,5362l-62-51,14-24,62,49zm-13,24l-62-52,13-23,62,51z /><path class=d53 d=M5978,5408l-61-53,13-21,62,52zm-13,20l-62-54,14-19,61,53z /><path class=d47 d=M5952,5446l-62-55,13-17,62,54zm-13,18l-62-56,13-17,62,55zm-14,17l-61-56,13-17,62,56zm-13,17l-61-57,13-16,61,56z /><path class=d41 d=M5899,5513l-61-58,13-14,61,57zm-13,14l-62-58,14-14,61,58zm-13,13l-62-59,13-12,62,58zm-13,11l-62-59,13-11,62,59zm-13,8l-62-59,13-8,62,59zm-14,8l-61-59,13-8,62,59zm-13,8l-61-59,13-8,61,59zm-13,8l-61-59,13-8,61,59z /><path class=d35 d=M5794,5591l-61-59,13-8,61,59zm-13,8l-61-60,13-7,61,59zm-13,8l-61-60,13-8,61,60zm-13,7l-61-60,13-7,61,60zm-13,7l-62-60,14-7,61,60zm-14,8l-61-60,13-8,62,60zm-13,7l-61-60,13-7,61,60zm-13,6l-61-59,13-7,61,60zm-13,6l-62-60,14-5,61,59zm-14,6l-61-60,13-6,62,60zm-13,4l-61-60,13-4,61,60zm-13,4l-62-59,14-5,61,60z /><path class=d41 d=M5635,5666l-61-59,13-4,62,59zm-13,3l-61-59,13-3,61,59zm-14,3l-61-59,14-3,61,59zm-13,3l-61-58,13-4,61,59zm-13,2l-62-57,14-3,61,58zm-14,3l-61-57,13-3,62,57zm-14,3l-61-56,14-4,61,57zm-13,3l-61-56,13-3,61,56zm-14,2l-61-56,14-2,61,56zm-13,2l-62-55,14-3,61,56z /><path class=d46 d=M5500,5691l-61-55,13-1,62,55zm-14,1l-61-54,14-2,61,55zm-13,0l-62-53,14-1,61,54zm-14,1l-62-53,14-1,62,53zm-14,0l-61-52,13-1,62,53zm-14,0l-61-51,14-1,61,52z /><path class=d52 d=M5417,5693l-61-51,14,0,61,51z /><path class=d51 d=M5403,5692l-61-49,14-1,61,51zm-14-1l-61-49,14,1,61,49zm-14-2l-61-48,14,1,61,49z /><path class=d50 d=M5361,5687l-61-47,14,1,61,48z /><path class=d56 d=M5347,5684l-61-46,14,2,61,47zm-14-3l-62-45,15,2,61,46zm-14-4l-62-43,14,2,62,45z /><path class=d55 d=M5304,5674l-61-42,14,2,62,43z /><path class=d61 d=M5290,5670l-61-41,14,3,61,42zm-14-3l-62-40,15,2,61,41zm-15-4l-61-39,14,3,62,40zm-14-4l-62-37,15,2,61,39z /><path class=d67 d=M5232,5656l-61-36,14,2,62,37zm-14-3l-62-35,15,2,61,36zm-15-3l-61-34,14,2,62,35zm-15-4l-61-32,15,2,61,34z /><path class=d72 d=M5174,5643l-62-31,15,2,61,32zm-15-3l-61-29,14,1,62,31zm-15-3l-61-28,15,2,61,29zm-15-4l-61-26,15,2,61,28zm-15-3l-61-25,15,2,61,26z /><path class=d78 d=M5099,5627l-61-24,15,2,61,25zm-15-4l-61-22,15,2,61,24zm-15-4l-61-20,15,2,61,22zm-15-3l-61-19,15,2,61,20z /><path class=d227 d=M6640,4059l-73,26,18-74,73-31z /><path class=d215 d=M6622,4137l-72,21,17-73,73-26z /><path class=d203 d=M6605,4212l-72,16,17-70,72-21z /><path class=d197 d=M6587,4283l-70,12,16-67,72-16z /><path class=d185 d=M6571,4349l-70,8,16-62,70-12z /><path class=d179 d=M6555,4408l-70,5,16-56,70-8z /><path class=d173 d=M6539,4459l-69,2,15-48,70-5z /><path class=d167 d=M6524,4501l-69-1,15-39,69-2z /><path class=d161 d=M6510,4536l-69-3,14-33,69,1z /><path class=d155 d=M6495,4568l-68-5,14-30,69,3zm-14,30l-68-7,14-28,68,5z /><path class=d149 d=M6468,4626l-68-9,13-26,68,7zm-14,25l-68-10,14-24,68,9z /><path class=d143 d=M6440,4675l-67-11,13-23,68,10zm-13,23l-68-13,14-21,67,11z /><path class=d137 d=M6413,4719l-67-13,13-21,68,13zm-13,21l-67-15,13-19,67,13z /><path class=d131 d=M6386,4761l-67-16,14-20,67,15zm-13,20l-67-17,13-19,67,16zm-14,20l-66-18,13-19,67,17z /><path class=d125 d=M6346,4822l-67-20,14-19,66,18zm-14,21l-66-20,13-21,67,20zm-13,22l-66-22,13-20,66,20z /><path class=d119 d=M6305,4889l-66-24,14-22,66,22zm-14,24l-65-24,13-24,66,24z /><path class=d113 d=M6278,4940l-66-26,14-25,65,24zm-14,29l-66-28,14-27,66,26z /><path class=d107 d=M6250,4999l-66-29,14-29,66,28zm-14,33l-65-32,13-30,66,29z /><path class=d101 d=M6221,5065l-64-33,14-32,65,32z /><path class=d95 d=M6207,5100l-64-35,14-33,64,33z /><path class=d89 d=M6193,5135l-64-37,14-33,64,35zm-14,35l-64-39,14-33,64,37z /><path class=d83 d=M6165,5204l-64-40,14-33,64,39z /><path class=d77 d=M6151,5238l-64-42,14-32,64,40zm-14,32l-64-44,14-30,64,42z /><path class=d71 d=M6123,5301l-63-45,13-30,64,44z /><path class=d65 d=M6109,5330l-63-47,14-27,63,45zm-14,28l-63-48,14-27,63,47z /><path class=d59 d=M6082,5386l-63-50,13-26,63,48zm-14,26l-63-50,14-26,63,50z /><path class=d53 d=M6054,5438l-62-52,13-24,63,50zm-13,23l-63-53,14-22,62,52z /><path class=d47 d=M6028,5482l-63-54,13-20,63,53zm-14,19l-62-55,13-18,63,54zm-13,18l-62-55,13-18,62,55z /><path class=d41 d=M5988,5537l-63-56,14-17,62,55zm-14,18l-62-57,13-17,63,56zm-13,16l-62-58,13-15,62,57zm-13,15l-62-59,13-14,62,58z /><path class=d35 d=M5935,5599l-62-59,13-13,62,59zm-13,11l-62-59,13-11,62,59zm-14,9l-61-60,13-8,62,59zm-13,8l-62-60,14-8,61,60zm-13,8l-62-60,13-8,62,60zm-13,8l-62-60,13-8,62,60zm-13,8l-62-60,13-8,62,60zm-13,8l-62-60,13-8,62,60zm-13,8l-62-60,13-8,62,60zm-13,7l-62-60,13-7,62,60zm-14,8l-61-61,13-7,62,60zm-13,7l-62-60,14-8,61,61zm-13,7l-62-60,13-7,62,60zm-13,7l-62-61,13-6,62,60zm-14,5l-61-60,13-6,62,61zm-13,5l-62-59,14-6,61,60zm-13,5l-62-60,13-4,62,59zm-14,3l-61-59,13-4,62,60zm-13,4l-62-59,14-4,61,59zm-13,3l-62-59,13-3,62,59zm-14,2l-62-58,14-3,62,59zm-13,3l-62-58,13-3,62,58z /><path class=d41 d=M5643,5735l-61-58,13-2,62,58zm-13,3l-62-58,14-3,61,58zm-14,2l-62-57,14-3,62,58zm-13,2l-62-56,13-3,62,57zm-14,2l-62-56,14-2,62,56z /><path class=d40 d=M5576,5745l-62-55,13-2,62,56zm-14,1l-62-55,14-1,62,55zm-14,0l-62-54,14-1,62,55z /><path class=d46 d=M5535,5746l-62-54,13,0,62,54zm-14,0l-62-53,14-1,62,54z /><path class=d45 d=M5507,5745l-62-52,14,0,62,53zm-14-1l-62-51,14,0,62,52zm-14-1l-62-50,14,0,62,51z /><path class=d51 d=M5465,5742l-62-50,14,1,62,50z /><path class=d50 d=M5451,5739l-62-48,14,1,62,50zm-14-2l-62-48,14,2,62,48zm-14-4l-62-46,14,2,62,48z /><path class=d49 d=M5409,5729l-62-45,14,3,62,46z /><path class=d55 d=M5395,5725l-62-44,14,3,62,45zm-14-4l-62-44,14,4,62,44zm-14-5l-63-42,15,3,62,44z /><path class=d61 d=M5352,5711l-62-41,14,4,63,42z /><path class=d60 d=M5338,5706l-62-39,14,3,62,41zm-15-5l-62-38,15,4,62,39zm-14-4l-62-38,14,4,62,38z /><path class=d66 d=M5294,5692l-62-36,15,3,62,38zm-14-5l-62-34,14,3,62,36zm-15-4l-62-33,15,3,62,34z /><path class=d72 d=M5251,5679l-63-33,15,4,62,33zm-15-5l-62-31,14,3,63,33zm-15-5l-62-29,15,3,62,31zm-15-4l-62-28,15,3,62,29z /><path class=d78 d=M5191,5660l-62-27,15,4,62,28zm-15-5l-62-25,15,3,62,27zm-15-5l-62-23,15,3,62,25zm-15-5l-62-22,15,4,62,23z /><path class=d84 d=M5131,5640l-62-21,15,4,62,22zm-15-5l-62-19,15,3,62,21z /><path class=d233 d=M6714,4032l-74,27,18-79,75-32z /><path class=d221 d=M6695,4115l-73,22,18-78,74-27z /><path class=d215 d=M6677,4195l-72,17,17-75,73-22z /><path class=d203 d=M6659,4270l-72,13,18-71,72-17z /><path class=d191 d=M6642,4340l-71,9,16-66,72-13z /><path class=d185 d=M6625,4403l-70,5,16-59,71-9z /><path class=d179 d=M6609,4458l-70,1,16-51,70-5z /><path class=d167 d=M6594,4502l-70-1,15-42,70-1zm-15,37l-69-3,14-35,70,1z /><path class=d161 d=M6565,4573l-70-5,15-32,69,3z /><path class=d155 d=M6551,4605l-70-7,14-30,70,5zm-15,29l-68-8,13-28,70,7z /><path class=d149 d=M6523,4661l-69-10,14-25,68,8zm-14,25l-69-11,14-24,69,10z /><path class=d143 d=M6495,4710l-68-12,13-23,69,11zm-14,23l-68-14,14-21,68,12z /><path class=d137 d=M6468,4755l-68-15,13-21,68,14zm-14,21l-68-15,14-21,68,15zm-14,22l-67-17,13-20,68,15z /><path class=d131 d=M6427,4819l-68-18,14-20,67,17zm-14,22l-67-19,13-21,68,18z /><path class=d125 d=M6400,4863l-68-20,14-21,67,19zm-14,24l-67-22,13-22,68,20zm-14,25l-67-23,14-24,67,22z /><path class=d119 d=M6358,4938l-67-25,14-24,67,23zm-14,28l-66-26,13-27,67,25z /><path class=d113 d=M6330,4996l-66-27,14-29,66,26z /><path class=d107 d=M6316,5029l-66-30,14-30,66,27zm-15,34l-65-31,14-33,66,30z /><path class=d101 d=M6287,5098l-66-33,15-33,65,31z /><path class=d95 d=M6273,5135l-66-35,14-35,66,33zm-15,36l-65-36,14-35,66,35z /><path class=d89 d=M6244,5208l-65-38,14-35,65,36z /><path class=d83 d=M6230,5244l-65-40,14-34,65,38z /><path class=d77 d=M6215,5280l-64-42,14-34,65,40zm-14,34l-64-44,14-32,64,42z /><path class=d71 d=M6187,5346l-64-45,14-31,64,44z /><path class=d65 d=M6173,5377l-64-47,14-29,64,45zm-14,29l-64-48,14-28,64,47z /><path class=d59 d=M6145,5435l-63-49,13-28,64,48z /><path class=d53 d=M6132,5463l-64-51,14-26,63,49zm-14,27l-64-52,14-26,64,51z /><path class=d47 d=M6104,5514l-63-53,13-23,64,52zm-13,22l-63-54,13-21,63,53zm-14,19l-63-54,14-19,63,54z /><path class=d41 d=M6064,5575l-63-56,13-18,63,54zm-14,19l-62-57,13-18,63,56zm-13,18l-63-57,14-18,62,57z /><path class=d35 d=M6024,5629l-63-58,13-16,63,57zm-13,15l-63-58,13-15,63,58zm-14,14l-62-59,13-13,63,58zm-13,11l-62-59,13-11,62,59zm-13,9l-63-59,14-9,62,59zm-13,9l-63-60,13-8,63,59zm-13,8l-63-60,13-8,63,60zm-13,8l-63-60,13-8,63,60z /><path class=d29 d=M5919,5711l-63-60,13-8,63,60zm-13,8l-63-60,13-8,63,60zm-14,8l-62-60,13-8,63,60zm-13,7l-62-60,13-7,62,60zm-13,8l-63-60,14-8,62,60zm-13,7l-63-60,13-7,63,60zm-14,7l-62-60,13-7,63,60zm-13,7l-62-60,13-7,62,60zm-13,5l-63-60,14-5,62,60zm-13,5l-63-60,13-5,63,60zm-14,4l-62-59,13-5,63,60z /><path class=d35 d=M5773,5781l-63-60,14-3,62,59zm-13,3l-63-59,13-4,63,60zm-14,2l-62-58,13-3,63,59zm-13,3l-63-59,14-2,62,58zm-13,2l-63-58,13-3,63,59zm-14,2l-63-58,14-2,63,58zm-13,2l-63-57,13-3,63,58zm-14,2l-63-57,14-2,63,57z /><path class=d34 d=M5666,5798l-63-56,13-2,63,57z /><path class=d40 d=M5652,5799l-63-55,14-2,63,56zm-14,1l-62-55,13-1,63,55zm-13,0l-63-54,14-1,62,55zm-14,0l-63-54,14,0,63,54z /><path class=d39 d=M5597,5799l-62-53,13,0,63,54zm-13-1l-63-52,14,0,62,53z /><path class=d45 d=M5570,5797l-63-52,14,1,63,52zm-14-2l-63-51,14,1,63,52zm-14-2l-63-50,14,1,63,51z /><path class=d44 d=M5528,5791l-63-49,14,1,63,50z /><path class=d50 d=M5514,5788l-63-49,14,3,63,49z /><path class=d49 d=M5500,5784l-63-47,14,2,63,49zm-14-4l-63-47,14,4,63,47zm-14-5l-63-46,14,4,63,47z /><path class=d54 d=M5458,5769l-63-44,14,4,63,46zm-14-5l-63-43,14,4,63,44zm-14-6l-63-42,14,5,63,43z /><path class=d60 d=M5415,5752l-63-41,15,5,63,42zm-14-6l-63-40,14,5,63,41zm-14-7l-64-38,15,5,63,40z /><path class=d66 d=M5372,5733l-63-36,14,4,64,38zm-14-6l-64-35,15,5,63,36zm-15-5l-63-35,14,5,64,35z /><path class=d72 d=M5328,5716l-63-33,15,4,63,35zm-14-6l-63-31,14,4,63,33zm-15-6l-63-30,15,5,63,31zm-15-6l-63-29,15,5,63,30z /><path class=d78 d=M5269,5692l-63-27,15,4,63,29zm-15-6l-63-26,15,5,63,27zm0,0l-63-26-15-5,63,24z /><path class=d84 d=M5224,5673l-63-23,15,5,63,24zm0,0l-63-23-15-5,63,21zm-15-7l-63-21-15-5,63,19z /><path class=d90 d=M5194,5659l-63-19-15-5,63,18z /><path class=d239 d=M6789,4004l-75,28,19-84,76-33z /><path class=d233 d=M6770,4092l-75,23,19-83,75-28z /><path class=d221 d=M6751,4177l-74,18,18-80,75-23z /><path class=d209 d=M6733,4257l-74,13,18-75,74-18z /><path class=d197 d=M6715,4332l-73,8,17-70,74-13z /><path class=d191 d=M6697,4398l-72,5,17-63,73-8z /><path class=d179 d=M6681,4456l-72,2,16-55,72-5z /><path class=d173 d=M6665,4503l-71-1,15-44,72-2z /><path class=d167 d=M6650,4543l-71-4,15-37,71,1zm-15,36l-70-6,14-34,71,4z /><path class=d161 d=M6621,4612l-70-7,14-32,70,6z /><path class=d155 d=M6607,4643l-71-9,15-29,70,7zm-15,28l-69-10,13-27,71,9z /><path class=d149 d=M6578,4698l-69-12,14-25,69,10zm-14,25l-69-13,14-24,69,12z /><path class=d143 d=M6550,4748l-69-15,14-23,69,13zm-13,23l-69-16,13-22,69,15z /><path class=d137 d=M6523,4794l-69-18,14-21,69,16zm-14,22l-69-18,14-22,69,18zm-14,23l-68-20,13-21,69,18z /><path class=d131 d=M6482,4862l-69-21,14-22,68,20zm-14,24l-68-23,13-22,69,21z /><path class=d125 d=M6454,4911l-68-24,14-24,68,23zm-14,26l-68-25,14-25,68,24z /><path class=d119 d=M6426,4965l-68-27,14-26,68,25zm-15,30l-67-29,14-28,68,27z /><path class=d113 d=M6397,5027l-67-31,14-30,67,29zm-14,34l-67-32,14-33,67,31z /><path class=d107 d=M6368,5097l-67-34,15-34,67,32z /><path class=d101 d=M6353,5135l-66-37,14-35,67,34z /><path class=d95 d=M6339,5173l-66-38,14-37,66,37zm-15,39l-66-41,15-36,66,38z /><path class=d89 d=M6310,5250l-66-42,14-37,66,41z /><path class=d83 d=M6295,5289l-65-45,14-36,66,42z /><path class=d77 d=M6281,5326l-66-46,15-36,65,45z /><path class=d71 d=M6266,5362l-65-48,14-34,66,46zm-14,34l-65-50,14-32,65,48z /><path class=d65 d=M6238,5428l-65-51,14-31,65,50z /><path class=d59 d=M6224,5458l-65-52,14-29,65,51zm-14,31l-65-54,14-29,65,52z /><path class=d53 d=M6196,5518l-64-55,13-28,65,54zm-14,28l-64-56,14-27,64,55z /><path class=d47 d=M6168,5572l-64-58,14-24,64,56zm-14,22l-63-58,13-22,64,58z /><path class=d41 d=M6141,5615l-64-60,14-19,63,58zm-14,20l-63-60,13-20,64,60z /><path class=d35 d=M6114,5655l-64-61,14-19,63,60zm-14,19l-63-62,13-18,64,61zm-13,18l-63-63,13-17,63,62zm-13,16l-63-64,13-15,63,63z /><path class=d29 d=M6060,5722l-63-64,14-14,63,64zm-13,12l-63-65,13-11,63,64zm-13,9l-63-65,13-9,63,65zm-13,9l-63-65,13-9,63,65zm-13,8l-63-65,13-8,63,65zm-13,9l-63-66,13-8,63,65zm-13,8l-63-66,13-8,63,66zm-13,8l-63-66,13-8,63,66zm-14,8l-63-66,14-8,63,66zm-13,8l-63-67,13-7,63,66zm-13,7l-63-66,13-8,63,67zm-13,7l-63-66,13-7,63,66zm-14,8l-63-67,14-7,63,66zm-13,6l-63-66,13-7,63,67zm-13,6l-63-67,13-5,63,66zm-13,5l-63-67,13-5,63,67zm-14,4l-63-67,14-4,63,67zm-13,3l-63-66,13-4,63,67zm-13,3l-63-66,13-3,63,66zm-14,2l-63-66,14-2,63,66zm-13,2l-63-65,13-3,63,66zm-13,2l-63-65,13-2,63,65z /><path class=d35 d=M5769,5858l-63-65,14-2,63,65zm-13,2l-63-65,13-2,63,65zm-14,2l-63-65,14-2,63,65zm-13,1l-63-65,13-1,63,65z /><path class=d34 d=M5715,5863l-63-64,14-1,63,65zm-13,0l-64-63,14-1,63,64z /><path class=d40 d=M5688,5863l-63-63,13,0,64,63zm-14-1l-63-62,14,0,63,63zm-13-1l-64-62,14,1,63,62z /><path class=d39 d=M5647,5859l-63-61,13,1,64,62zm-14-2l-63-60,14,1,63,61z /><path class=d45 d=M5620,5855l-64-60,14,2,63,60zm-14-2l-64-60,14,2,64,60z /><path class=d44 d=M5592,5850l-64-59,14,2,64,60zm-14-4l-64-58,14,3,64,59z /><path class=d50 d=M5564,5841l-64-57,14,4,64,58z /><path class=d49 d=M5550,5835l-64-55,14,4,64,57zm-14-5l-64-55,14,5,64,55z /><path class=d55 d=M5522,5823l-64-54,14,6,64,55zm-14-6l-64-53,14,5,64,54z /><path class=d54 d=M5494,5810l-64-52,14,6,64,53z /><path class=d60 d=M5479,5803l-64-51,15,6,64,52zm-14-8l-64-49,14,6,64,51zm-14-7l-64-49,14,7,64,49z /><path class=d66 d=M5436,5781l-64-48,15,6,64,49zm-14-7l-64-47,14,6,64,48zm-15-7l-64-45,15,5,64,47z /><path class=d72 d=M5393,5760l-65-44,15,6,64,45zm-15-7l-64-43,14,6,65,44zm-15-7l-64-42,15,6,64,43z /><path class=d78 d=M5348,5738l-64-40,15,6,64,42zm-14-7l-65-39,15,6,64,40zm-15-8l-65-37,15,6,65,39z /><path class=d84 d=M5304,5715l-65-36,15,7,65,37zm-15-8l-65-34,15,6,65,36zm-15-8l-65-33,15,7,65,34z /><path class=d90 d=M5258,5691l-64-32,15,7,65,33zm-15-8l-64-30,15,6,64,32z /></g><g class=fr><line x1="5233.6" y1="4539.9" x2="3973.3" y2="3802.8"/><line x1="5233.6" y1="4539.9" x2="6809.5" y2="3907.5"/><line x1="5233.6" y1="4539.9" x2="5248.7" y2="6343.8"/></g></g>
<path class=tk d="M164.9 296.7L159.6 304.4M139.0 276.5L133.8 283.9M114.5 257.4L109.4 264.6M91.3 239.3L86.3 246.3M69.3 222.2L64.4 229.0M205.8 292.3L210.2 300.4M249.3 268.9L253.7 276.8M290.1 247.1L294.4 254.6M63.0 217.3L53.8 217.3M60.0 178.8L50.5 178.8M56.8 138.4L47.0 138.4M53.4 96.0L43.4 96.0M49.9 51.4L39.6 51.4"/><g class=tl><text x="154.2" y="315.2">0</text><text x="128.5" y="294.5">5</text><text x="104.3" y="275.0">10</text><text x="81.3" y="256.5">15</text><text x="59.5" y="238.9">20</text><text x="214.7" y="311.7">500</text><text x="258.1" y="287.8">1000</text><text x="298.7" y="265.3">1500</text><text x="44.5" y="220.4">0</text><text x="41.0" y="181.9">200</text><text x="37.3" y="141.5">400</text><text x="33.5" y="99.1">600</text><text x="29.4" y="54.5">800</text></g><path class=tk d="M498.2 284.4L492.9 291.9M469.6 262.1L464.5 269.4M442.8 241.3L437.8 248.3M417.6 221.6L412.7 228.4M553.6 290.5L558.1 298.6M597.6 266.9L601.9 274.7M638.7 244.9L643.0 252.4M410.8 216.4L401.6 216.3M407.8 178.0L398.4 178.0M404.6 137.9L394.9 137.8M401.3 95.7L391.3 95.6M397.7 51.3L387.6 51.3"/><g class=tl><text x="487.7" y="302.5">10</text><text x="459.4" y="279.8">20</text><text x="432.8" y="258.4">30</text><text x="407.9" y="238.3">40</text><text x="562.5" y="309.8">500</text><text x="606.3" y="285.7">1000</text><text x="647.3" y="263.1">1500</text><text x="392.4" y="219.4">0</text><text x="388.9" y="181.1">200</text><text x="385.3" y="140.9">400</text><text x="381.4" y="98.7">600</text><text x="377.4" y="54.3">800</text></g><path class=tk d="M177.5 637.8L172.1 645.7M153.8 619.3L148.4 626.9M131.2 601.7L126.0 609.1M109.7 585.0L104.6 592.2M89.2 569.0L84.2 576.1M69.7 553.8L64.8 560.7M201.3 625.1L205.8 633.3M227.4 611.1L231.9 619.1M252.6 597.6L257.0 605.5M276.8 584.6L281.1 592.3M300.1 572.1L304.4 579.7M61.9 547.8L52.6 547.8M59.0 511.3L49.5 511.3M56.0 473.2L46.3 473.2M52.8 433.3L42.9 433.3M49.5 391.5L39.3 391.5"/><g class=tl><text x="166.6" y="656.6">0.0</text><text x="143.1" y="637.6">0.5</text><text x="120.8" y="619.6">1.0</text><text x="99.5" y="602.5">1.5</text><text x="79.2" y="586.2">2.0</text><text x="59.9" y="570.6">2.5</text><text x="236.3" y="630.3">4</text><text x="261.4" y="616.5">6</text><text x="285.5" y="603.1">8</text><text x="308.7" y="590.3">10</text><text x="43.3" y="550.8">0</text><text x="40.0" y="514.4">200</text><text x="36.5" y="476.3">400</text><text x="32.9" y="436.4">600</text><text x="29.1" y="394.6">800</text></g><path class=tk d="M524.9 634.4L519.5 642.1M501.3 616.0L496.1 623.6M479.0 598.6L473.8 606.0M457.7 582.0L452.7 589.2M437.4 566.3L432.5 573.2M418.1 551.2L413.3 558.0M563.3 613.8L567.8 621.8M605.9 591.0L610.2 598.7M645.7 569.6L650.0 577.1M409.6 535.0L400.3 535.0M406.9 500.6L397.4 500.5M404.0 464.6L394.3 464.6M401.0 427.0L391.1 427.0M397.9 387.8L387.8 387.8"/><g class=tl><text x="514.1" y="653.0">0.0</text><text x="490.8" y="634.2">0.5</text><text x="468.7" y="616.4">1.0</text><text x="447.6" y="599.4">1.5</text><text x="427.5" y="583.3">2.0</text><text x="408.4" y="567.9">2.5</text><text x="572.2" y="633.0">500</text><text x="614.6" y="609.6">1000</text><text x="654.3" y="587.6">1500</text><text x="391.1" y="538.1">0</text><text x="387.9" y="503.6">500</text><text x="384.7" y="467.7">1000</text><text x="381.3" y="430.1">1500</text><text x="377.7" y="390.8">2000</text></g><text class=lt x="4.8" y="12.9" textLength="10.4" lengthAdjust="spacingAndGlyphs">A</text><text class=lt x="350.2" y="15.6" textLength="8.6" lengthAdjust="spacingAndGlyphs">B</text><text class=lt x="5.2" y="342.2" textLength="8.8" lengthAdjust="spacingAndGlyphs">C</text><text class=lt x="352" y="343.8" textLength="10" lengthAdjust="spacingAndGlyphs">D</text><text class=tt transform="translate(16.6 178.4) rotate(-90)" x="0" y="0" textLength="80.1" lengthAdjust="spacingAndGlyphs">APB (g m<tspan class=sp dy="-5.5">-2</tspan><tspan dy="5.5">)</tspan></text><text class=tt transform="translate(360.9 173.4) rotate(-90)" x="0" y="0" textLength="79.8" lengthAdjust="spacingAndGlyphs">APB (g m<tspan class=sp dy="-5.5">-2</tspan><tspan dy="5.5">)</tspan></text><text class=tt transform="translate(14.65 502.9) rotate(-90)" x="0" y="0" textLength="79.6" lengthAdjust="spacingAndGlyphs">APB (g m<tspan class=sp dy="-5.5">-2</tspan><tspan dy="5.5">)</tspan></text><text class=tt transform="translate(360.1 500.6) rotate(-90)" x="0" y="0" textLength="80.0" lengthAdjust="spacingAndGlyphs">APB (g m<tspan class=sp dy="-5.5">-2</tspan><tspan dy="5.5">)</tspan></text><text class=tt x="40.2" y="301" textLength="62.5" lengthAdjust="spacingAndGlyphs">MAT (°C)</text><text class=tt x="234" y="315.5" textLength="77.6" lengthAdjust="spacingAndGlyphs">MAP (mm)</text><text class=tt x="404.5" y="301.7" textLength="57.1" lengthAdjust="spacingAndGlyphs">Clay (%)</text><text class=tt x="587.5" y="321" textLength="77.7" lengthAdjust="spacingAndGlyphs">MAP (mm)</text><text class=tt x="12.3" y="644.7" textLength="108.2" lengthAdjust="spacingAndGlyphs">Shannon index</text><text class=tt x="216.2" y="652.3" textLength="117.6" lengthAdjust="spacingAndGlyphs">Nitrogen (g kg<tspan class=sp dy="-5.5">-1</tspan><tspan dy="5.5">)</tspan></text><text class=tt x="367.9" y="648.3" textLength="107.9" lengthAdjust="spacingAndGlyphs">Shannon index</text><text class=tt x="548" y="656.8" textLength="136" lengthAdjust="spacingAndGlyphs">NDep (kg km<tspan class=sp dy="-5.5">-2</tspan><tspan dy="5.5"> yr<tspan class=sp dy="-5.5">-1</tspan><tspan dy="5.5">)</tspan></tspan></text>
</svg></body></html>
